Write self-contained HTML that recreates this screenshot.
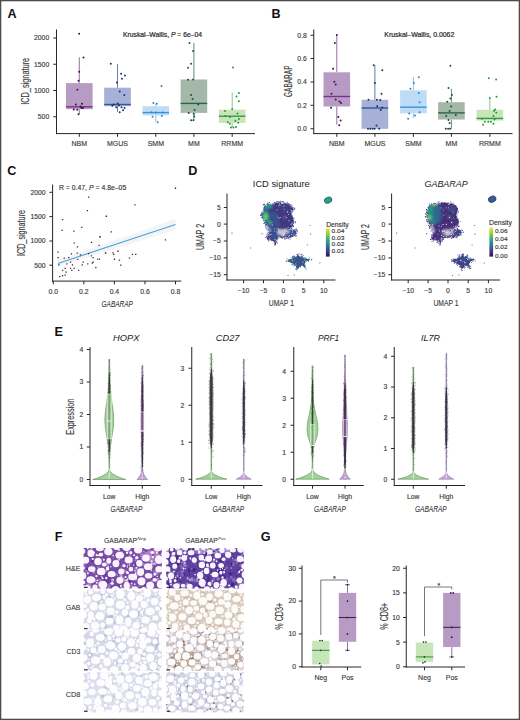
<!DOCTYPE html>
<html><head><meta charset="utf-8"><style>
html,body{margin:0;padding:0;background:#fff;overflow:hidden;}
svg{display:block;}
text{font-family:"Liberation Sans", sans-serif;}
</style></head><body>
<svg width="520" height="720" viewBox="0 0 520 720">
<defs><filter id="soft" x="-5%" y="-5%" width="110%" height="110%"><feGaussianBlur stdDeviation="0.45"/></filter><filter id="soft2" x="-20%" y="-20%" width="140%" height="140%"><feGaussianBlur stdDeviation="0.9"/></filter></defs>
<rect x="0" y="0" width="520" height="720" fill="#ffffff"/>
<line x1="56.5" y1="29.5" x2="56.5" y2="134.1" stroke="#262626" stroke-width="1"/>
<line x1="56" y1="133.6" x2="255" y2="133.6" stroke="#262626" stroke-width="1"/>
<line x1="53.3" y1="38" x2="56.5" y2="38" stroke="#262626" stroke-width="1"/>
<text x="49.2" y="40.4" font-size="6.8" fill="#3a3a3a" stroke="#3a3a3a" stroke-width="0.14" text-anchor="end">2000</text>
<line x1="53.3" y1="64.25" x2="56.5" y2="64.25" stroke="#262626" stroke-width="1"/>
<text x="49.2" y="66.65" font-size="6.8" fill="#3a3a3a" stroke="#3a3a3a" stroke-width="0.14" text-anchor="end">1500</text>
<line x1="53.3" y1="90.5" x2="56.5" y2="90.5" stroke="#262626" stroke-width="1"/>
<text x="49.2" y="92.9" font-size="6.8" fill="#3a3a3a" stroke="#3a3a3a" stroke-width="0.14" text-anchor="end">1000</text>
<line x1="53.3" y1="116.75" x2="56.5" y2="116.75" stroke="#262626" stroke-width="1"/>
<text x="49.2" y="119.15" font-size="6.8" fill="#3a3a3a" stroke="#3a3a3a" stroke-width="0.14" text-anchor="end">500</text>
<line x1="79.3" y1="133.6" x2="79.3" y2="136.8" stroke="#262626" stroke-width="1"/>
<text x="79.3" y="146.3" font-size="7" fill="#3a3a3a" stroke="#3a3a3a" stroke-width="0.14" text-anchor="middle">NBM</text>
<line x1="117.5" y1="133.6" x2="117.5" y2="136.8" stroke="#262626" stroke-width="1"/>
<text x="117.5" y="146.3" font-size="7" fill="#3a3a3a" stroke="#3a3a3a" stroke-width="0.14" text-anchor="middle">MGUS</text>
<line x1="155.8" y1="133.6" x2="155.8" y2="136.8" stroke="#262626" stroke-width="1"/>
<text x="155.8" y="146.3" font-size="7" fill="#3a3a3a" stroke="#3a3a3a" stroke-width="0.14" text-anchor="middle">SMM</text>
<line x1="193.9" y1="133.6" x2="193.9" y2="136.8" stroke="#262626" stroke-width="1"/>
<text x="193.9" y="146.3" font-size="7" fill="#3a3a3a" stroke="#3a3a3a" stroke-width="0.14" text-anchor="middle">MM</text>
<line x1="232.2" y1="133.6" x2="232.2" y2="136.8" stroke="#262626" stroke-width="1"/>
<text x="232.2" y="146.3" font-size="7" fill="#3a3a3a" stroke="#3a3a3a" stroke-width="0.14" text-anchor="middle">RRMM</text>
<line x1="79.3" y1="57.2" x2="79.3" y2="83.1" stroke="#7b4d8e" stroke-width="0.8"/>
<line x1="79.3" y1="109.2" x2="79.3" y2="114.2" stroke="#7b4d8e" stroke-width="0.8"/>
<rect x="66" y="83.1" width="26.6" height="26.1" fill="#b89bc4"/>
<line x1="66" y1="106.8" x2="92.6" y2="106.8" stroke="#74358a" stroke-width="1.4"/>
<line x1="117.5" y1="64.2" x2="117.5" y2="87.7" stroke="#3a5a96" stroke-width="0.8"/>
<line x1="117.5" y1="106.2" x2="117.5" y2="111.8" stroke="#3a5a96" stroke-width="0.8"/>
<rect x="104.2" y="87.7" width="26.6" height="18.5" fill="#a7b0d6"/>
<line x1="104.2" y1="104.5" x2="130.8" y2="104.5" stroke="#35569a" stroke-width="1.4"/>
<line x1="155.8" y1="103.4" x2="155.8" y2="106.2" stroke="#6aaee2" stroke-width="0.8"/>
<line x1="155.8" y1="115.4" x2="155.8" y2="121.8" stroke="#6aaee2" stroke-width="0.8"/>
<rect x="142.5" y="106.2" width="26.6" height="9.2" fill="#bfdcf6"/>
<line x1="142.5" y1="112.6" x2="169.1" y2="112.6" stroke="#3896d8" stroke-width="1.4"/>
<line x1="193.9" y1="42.9" x2="193.9" y2="79.5" stroke="#3b6f58" stroke-width="0.8"/>
<line x1="193.9" y1="112.9" x2="193.9" y2="120.3" stroke="#3b6f58" stroke-width="0.8"/>
<rect x="180.6" y="79.5" width="26.6" height="33.4" fill="#a3b8a9"/>
<line x1="180.6" y1="103.4" x2="207.2" y2="103.4" stroke="#25664a" stroke-width="1.4"/>
<line x1="232.2" y1="92.6" x2="232.2" y2="109.7" stroke="#72b872" stroke-width="0.8"/>
<line x1="232.2" y1="122.9" x2="232.2" y2="127.5" stroke="#72b872" stroke-width="0.8"/>
<rect x="218.9" y="109.7" width="26.6" height="13.2" fill="#c6e6ba"/>
<line x1="218.9" y1="116.2" x2="245.5" y2="116.2" stroke="#3a9a40" stroke-width="1.4"/>
<path d="M78.1 33.7a1.0 1.0 0 1 0 2.0 0a1.0 1.0 0 1 0 -2.0 0zM82.5 57.5a1.0 1.0 0 1 0 2.0 0a1.0 1.0 0 1 0 -2.0 0zM78.2 71.8a1.0 1.0 0 1 0 2.0 0a1.0 1.0 0 1 0 -2.0 0zM77.5 80.8a1.0 1.0 0 1 0 2.0 0a1.0 1.0 0 1 0 -2.0 0zM76.4 89.8a1.0 1.0 0 1 0 2.0 0a1.0 1.0 0 1 0 -2.0 0zM74.8 104.5a1.0 1.0 0 1 0 2.0 0a1.0 1.0 0 1 0 -2.0 0zM81.0 103.7a1.0 1.0 0 1 0 2.0 0a1.0 1.0 0 1 0 -2.0 0zM72.8 109.5a1.0 1.0 0 1 0 2.0 0a1.0 1.0 0 1 0 -2.0 0zM76.2 109.8a1.0 1.0 0 1 0 2.0 0a1.0 1.0 0 1 0 -2.0 0zM80.5 108.0a1.0 1.0 0 1 0 2.0 0a1.0 1.0 0 1 0 -2.0 0zM82.0 108.0a1.0 1.0 0 1 0 2.0 0a1.0 1.0 0 1 0 -2.0 0zM77.5 114.2a1.0 1.0 0 1 0 2.0 0a1.0 1.0 0 1 0 -2.0 0zM79.5 106.5a1.0 1.0 0 1 0 2.0 0a1.0 1.0 0 1 0 -2.0 0z" fill="#3e1650"/>
<path d="M109.8 63.7a1.0 1.0 0 1 0 2.0 0a1.0 1.0 0 1 0 -2.0 0zM120.1 73.7a1.0 1.0 0 1 0 2.0 0a1.0 1.0 0 1 0 -2.0 0zM123.9 75.4a1.0 1.0 0 1 0 2.0 0a1.0 1.0 0 1 0 -2.0 0zM121.0 78.8a1.0 1.0 0 1 0 2.0 0a1.0 1.0 0 1 0 -2.0 0zM115.9 82.6a1.0 1.0 0 1 0 2.0 0a1.0 1.0 0 1 0 -2.0 0zM118.7 91.4a1.0 1.0 0 1 0 2.0 0a1.0 1.0 0 1 0 -2.0 0zM123.3 94.9a1.0 1.0 0 1 0 2.0 0a1.0 1.0 0 1 0 -2.0 0zM111.3 105.7a1.0 1.0 0 1 0 2.0 0a1.0 1.0 0 1 0 -2.0 0zM116.7 103.4a1.0 1.0 0 1 0 2.0 0a1.0 1.0 0 1 0 -2.0 0zM115.2 107.2a1.0 1.0 0 1 0 2.0 0a1.0 1.0 0 1 0 -2.0 0zM120.5 107.2a1.0 1.0 0 1 0 2.0 0a1.0 1.0 0 1 0 -2.0 0zM123.6 108.0a1.0 1.0 0 1 0 2.0 0a1.0 1.0 0 1 0 -2.0 0zM122.1 110.3a1.0 1.0 0 1 0 2.0 0a1.0 1.0 0 1 0 -2.0 0zM118.7 112.3a1.0 1.0 0 1 0 2.0 0a1.0 1.0 0 1 0 -2.0 0zM113.0 104.5a1.0 1.0 0 1 0 2.0 0a1.0 1.0 0 1 0 -2.0 0zM118.0 105.5a1.0 1.0 0 1 0 2.0 0a1.0 1.0 0 1 0 -2.0 0z" fill="#1a3470"/>
<path d="M160.5 86.0a1.0 1.0 0 1 0 2.0 0a1.0 1.0 0 1 0 -2.0 0zM152.4 102.9a1.0 1.0 0 1 0 2.0 0a1.0 1.0 0 1 0 -2.0 0zM155.9 103.8a1.0 1.0 0 1 0 2.0 0a1.0 1.0 0 1 0 -2.0 0zM150.5 112.3a1.0 1.0 0 1 0 2.0 0a1.0 1.0 0 1 0 -2.0 0zM161.6 112.6a1.0 1.0 0 1 0 2.0 0a1.0 1.0 0 1 0 -2.0 0zM151.6 116.8a1.0 1.0 0 1 0 2.0 0a1.0 1.0 0 1 0 -2.0 0zM160.8 116.0a1.0 1.0 0 1 0 2.0 0a1.0 1.0 0 1 0 -2.0 0zM156.7 122.2a1.0 1.0 0 1 0 2.0 0a1.0 1.0 0 1 0 -2.0 0zM155.0 112.5a1.0 1.0 0 1 0 2.0 0a1.0 1.0 0 1 0 -2.0 0z" fill="#2f86c8"/>
<path d="M188.5 42.9a1.0 1.0 0 1 0 2.0 0a1.0 1.0 0 1 0 -2.0 0zM192.1 51.1a1.0 1.0 0 1 0 2.0 0a1.0 1.0 0 1 0 -2.0 0zM190.1 63.8a1.0 1.0 0 1 0 2.0 0a1.0 1.0 0 1 0 -2.0 0zM187.0 67.7a1.0 1.0 0 1 0 2.0 0a1.0 1.0 0 1 0 -2.0 0zM187.0 79.8a1.0 1.0 0 1 0 2.0 0a1.0 1.0 0 1 0 -2.0 0zM192.1 79.5a1.0 1.0 0 1 0 2.0 0a1.0 1.0 0 1 0 -2.0 0zM190.1 94.9a1.0 1.0 0 1 0 2.0 0a1.0 1.0 0 1 0 -2.0 0zM191.6 99.1a1.0 1.0 0 1 0 2.0 0a1.0 1.0 0 1 0 -2.0 0zM197.3 104.5a1.0 1.0 0 1 0 2.0 0a1.0 1.0 0 1 0 -2.0 0zM193.6 110.0a1.0 1.0 0 1 0 2.0 0a1.0 1.0 0 1 0 -2.0 0zM187.8 112.9a1.0 1.0 0 1 0 2.0 0a1.0 1.0 0 1 0 -2.0 0zM192.7 113.7a1.0 1.0 0 1 0 2.0 0a1.0 1.0 0 1 0 -2.0 0zM193.2 116.5a1.0 1.0 0 1 0 2.0 0a1.0 1.0 0 1 0 -2.0 0zM190.1 120.3a1.0 1.0 0 1 0 2.0 0a1.0 1.0 0 1 0 -2.0 0zM192.4 120.3a1.0 1.0 0 1 0 2.0 0a1.0 1.0 0 1 0 -2.0 0z" fill="#1f523c"/>
<path d="M232.0 67.6a1.0 1.0 0 1 0 2.0 0a1.0 1.0 0 1 0 -2.0 0zM237.9 92.9a1.0 1.0 0 1 0 2.0 0a1.0 1.0 0 1 0 -2.0 0zM235.5 96.5a1.0 1.0 0 1 0 2.0 0a1.0 1.0 0 1 0 -2.0 0zM237.9 101.2a1.0 1.0 0 1 0 2.0 0a1.0 1.0 0 1 0 -2.0 0zM231.2 109.3a1.0 1.0 0 1 0 2.0 0a1.0 1.0 0 1 0 -2.0 0zM224.0 111.0a1.0 1.0 0 1 0 2.0 0a1.0 1.0 0 1 0 -2.0 0zM236.5 113.4a1.0 1.0 0 1 0 2.0 0a1.0 1.0 0 1 0 -2.0 0zM224.4 115.9a1.0 1.0 0 1 0 2.0 0a1.0 1.0 0 1 0 -2.0 0zM237.9 119.0a1.0 1.0 0 1 0 2.0 0a1.0 1.0 0 1 0 -2.0 0zM234.4 120.8a1.0 1.0 0 1 0 2.0 0a1.0 1.0 0 1 0 -2.0 0zM226.8 122.2a1.0 1.0 0 1 0 2.0 0a1.0 1.0 0 1 0 -2.0 0zM228.9 123.8a1.0 1.0 0 1 0 2.0 0a1.0 1.0 0 1 0 -2.0 0zM237.2 122.7a1.0 1.0 0 1 0 2.0 0a1.0 1.0 0 1 0 -2.0 0zM230.0 127.5a1.0 1.0 0 1 0 2.0 0a1.0 1.0 0 1 0 -2.0 0zM232.5 127.5a1.0 1.0 0 1 0 2.0 0a1.0 1.0 0 1 0 -2.0 0zM235.0 127.0a1.0 1.0 0 1 0 2.0 0a1.0 1.0 0 1 0 -2.0 0zM229.0 117.0a1.0 1.0 0 1 0 2.0 0a1.0 1.0 0 1 0 -2.0 0z" fill="#289a34"/>
<text x="202" y="36.6" font-size="6.5" fill="#2a2a2a" stroke="#2a2a2a" stroke-width="0.2" text-anchor="end" textLength="79" lengthAdjust="spacingAndGlyphs">Kruskal–Wallis, <tspan font-style="italic">P</tspan> = 6e–04</text>
<text x="28.6" y="81.3" font-size="10.2" fill="#3a3a3a" stroke="#3a3a3a" stroke-width="0.14" text-anchor="middle" textLength="47.0" lengthAdjust="spacingAndGlyphs" transform="rotate(-90 28.6 81.3)">ICD_signature</text>
<text x="7.5" y="17.7" font-size="12.6" fill="#111" font-weight="bold">A</text>
<line x1="313.75" y1="29.5" x2="313.75" y2="134.1" stroke="#262626" stroke-width="1"/>
<line x1="313.25" y1="133.6" x2="512.5" y2="133.6" stroke="#262626" stroke-width="1"/>
<line x1="310.55" y1="35.25" x2="313.75" y2="35.25" stroke="#262626" stroke-width="1"/>
<text x="306.8" y="37.65" font-size="6.8" fill="#3a3a3a" stroke="#3a3a3a" stroke-width="0.14" text-anchor="end">0.8</text>
<line x1="310.55" y1="58.5" x2="313.75" y2="58.5" stroke="#262626" stroke-width="1"/>
<text x="306.8" y="60.9" font-size="6.8" fill="#3a3a3a" stroke="#3a3a3a" stroke-width="0.14" text-anchor="end">0.6</text>
<line x1="310.55" y1="82" x2="313.75" y2="82" stroke="#262626" stroke-width="1"/>
<text x="306.8" y="84.4" font-size="6.8" fill="#3a3a3a" stroke="#3a3a3a" stroke-width="0.14" text-anchor="end">0.4</text>
<line x1="310.55" y1="105.25" x2="313.75" y2="105.25" stroke="#262626" stroke-width="1"/>
<text x="306.8" y="107.65" font-size="6.8" fill="#3a3a3a" stroke="#3a3a3a" stroke-width="0.14" text-anchor="end">0.2</text>
<line x1="310.55" y1="128.75" x2="313.75" y2="128.75" stroke="#262626" stroke-width="1"/>
<text x="306.8" y="131.15" font-size="6.8" fill="#3a3a3a" stroke="#3a3a3a" stroke-width="0.14" text-anchor="end">0.0</text>
<line x1="336.8" y1="133.6" x2="336.8" y2="136.8" stroke="#262626" stroke-width="1"/>
<text x="336.8" y="146.3" font-size="7" fill="#3a3a3a" stroke="#3a3a3a" stroke-width="0.14" text-anchor="middle">NBM</text>
<line x1="374.9" y1="133.6" x2="374.9" y2="136.8" stroke="#262626" stroke-width="1"/>
<text x="374.9" y="146.3" font-size="7" fill="#3a3a3a" stroke="#3a3a3a" stroke-width="0.14" text-anchor="middle">MGUS</text>
<line x1="413.4" y1="133.6" x2="413.4" y2="136.8" stroke="#262626" stroke-width="1"/>
<text x="413.4" y="146.3" font-size="7" fill="#3a3a3a" stroke="#3a3a3a" stroke-width="0.14" text-anchor="middle">SMM</text>
<line x1="451.4" y1="133.6" x2="451.4" y2="136.8" stroke="#262626" stroke-width="1"/>
<text x="451.4" y="146.3" font-size="7" fill="#3a3a3a" stroke="#3a3a3a" stroke-width="0.14" text-anchor="middle">MM</text>
<line x1="489.9" y1="133.6" x2="489.9" y2="136.8" stroke="#262626" stroke-width="1"/>
<text x="489.9" y="146.3" font-size="7" fill="#3a3a3a" stroke="#3a3a3a" stroke-width="0.14" text-anchor="middle">RRMM</text>
<line x1="336.8" y1="34.9" x2="336.8" y2="72.3" stroke="#7b4d8e" stroke-width="0.8"/>
<line x1="336.8" y1="106.5" x2="336.8" y2="124.6" stroke="#7b4d8e" stroke-width="0.8"/>
<rect x="323.5" y="72.3" width="26.6" height="34.2" fill="#b89bc4"/>
<line x1="323.5" y1="96.5" x2="350.1" y2="96.5" stroke="#74358a" stroke-width="1.4"/>
<line x1="374.9" y1="65.2" x2="374.9" y2="99.8" stroke="#3a5a96" stroke-width="0.8"/>
<rect x="361.6" y="99.8" width="26.6" height="29" fill="#a7b0d6"/>
<line x1="361.6" y1="108" x2="388.2" y2="108" stroke="#35569a" stroke-width="1.4"/>
<line x1="413.4" y1="76.9" x2="413.4" y2="90.3" stroke="#6aaee2" stroke-width="0.8"/>
<line x1="413.4" y1="113.4" x2="413.4" y2="118" stroke="#6aaee2" stroke-width="0.8"/>
<rect x="400.1" y="90.3" width="26.6" height="23.1" fill="#bfdcf6"/>
<line x1="400.1" y1="107.2" x2="426.7" y2="107.2" stroke="#3896d8" stroke-width="1.4"/>
<line x1="451.4" y1="88.8" x2="451.4" y2="102.2" stroke="#3b6f58" stroke-width="0.8"/>
<line x1="451.4" y1="119.5" x2="451.4" y2="128.8" stroke="#3b6f58" stroke-width="0.8"/>
<rect x="438.1" y="102.2" width="26.6" height="17.3" fill="#a3b8a9"/>
<line x1="438.1" y1="112.9" x2="464.7" y2="112.9" stroke="#25664a" stroke-width="1.4"/>
<line x1="489.9" y1="98.1" x2="489.9" y2="109.8" stroke="#72b872" stroke-width="0.8"/>
<rect x="476.6" y="109.8" width="26.6" height="10.8" fill="#c6e6ba"/>
<line x1="476.6" y1="118.4" x2="503.2" y2="118.4" stroke="#3a9a40" stroke-width="1.4"/>
<path d="M335.8 34.9a1.0 1.0 0 1 0 2.0 0a1.0 1.0 0 1 0 -2.0 0zM333.9 42.9a1.0 1.0 0 1 0 2.0 0a1.0 1.0 0 1 0 -2.0 0zM332.1 68.8a1.0 1.0 0 1 0 2.0 0a1.0 1.0 0 1 0 -2.0 0zM333.3 81.8a1.0 1.0 0 1 0 2.0 0a1.0 1.0 0 1 0 -2.0 0zM334.7 84.6a1.0 1.0 0 1 0 2.0 0a1.0 1.0 0 1 0 -2.0 0zM330.5 93.8a1.0 1.0 0 1 0 2.0 0a1.0 1.0 0 1 0 -2.0 0zM334.7 99.5a1.0 1.0 0 1 0 2.0 0a1.0 1.0 0 1 0 -2.0 0zM338.5 101.5a1.0 1.0 0 1 0 2.0 0a1.0 1.0 0 1 0 -2.0 0zM340.1 103.1a1.0 1.0 0 1 0 2.0 0a1.0 1.0 0 1 0 -2.0 0zM330.1 107.7a1.0 1.0 0 1 0 2.0 0a1.0 1.0 0 1 0 -2.0 0zM337.3 116.9a1.0 1.0 0 1 0 2.0 0a1.0 1.0 0 1 0 -2.0 0zM339.6 120.6a1.0 1.0 0 1 0 2.0 0a1.0 1.0 0 1 0 -2.0 0zM338.2 125.2a1.0 1.0 0 1 0 2.0 0a1.0 1.0 0 1 0 -2.0 0z" fill="#3e1650"/>
<path d="M372.7 65.2a1.0 1.0 0 1 0 2.0 0a1.0 1.0 0 1 0 -2.0 0zM381.3 70.3a1.0 1.0 0 1 0 2.0 0a1.0 1.0 0 1 0 -2.0 0zM373.9 82.9a1.0 1.0 0 1 0 2.0 0a1.0 1.0 0 1 0 -2.0 0zM380.5 93.8a1.0 1.0 0 1 0 2.0 0a1.0 1.0 0 1 0 -2.0 0zM367.5 99.8a1.0 1.0 0 1 0 2.0 0a1.0 1.0 0 1 0 -2.0 0zM375.9 99.8a1.0 1.0 0 1 0 2.0 0a1.0 1.0 0 1 0 -2.0 0zM379.3 100.0a1.0 1.0 0 1 0 2.0 0a1.0 1.0 0 1 0 -2.0 0zM376.2 106.2a1.0 1.0 0 1 0 2.0 0a1.0 1.0 0 1 0 -2.0 0zM381.3 107.5a1.0 1.0 0 1 0 2.0 0a1.0 1.0 0 1 0 -2.0 0zM379.8 110.0a1.0 1.0 0 1 0 2.0 0a1.0 1.0 0 1 0 -2.0 0zM375.5 125.4a1.0 1.0 0 1 0 2.0 0a1.0 1.0 0 1 0 -2.0 0zM367.0 128.8a1.0 1.0 0 1 0 2.0 0a1.0 1.0 0 1 0 -2.0 0zM369.3 128.8a1.0 1.0 0 1 0 2.0 0a1.0 1.0 0 1 0 -2.0 0zM371.6 128.8a1.0 1.0 0 1 0 2.0 0a1.0 1.0 0 1 0 -2.0 0zM373.6 128.8a1.0 1.0 0 1 0 2.0 0a1.0 1.0 0 1 0 -2.0 0zM378.2 128.8a1.0 1.0 0 1 0 2.0 0a1.0 1.0 0 1 0 -2.0 0z" fill="#1a3470"/>
<path d="M417.8 77.2a1.0 1.0 0 1 0 2.0 0a1.0 1.0 0 1 0 -2.0 0zM412.9 83.1a1.0 1.0 0 1 0 2.0 0a1.0 1.0 0 1 0 -2.0 0zM409.4 88.8a1.0 1.0 0 1 0 2.0 0a1.0 1.0 0 1 0 -2.0 0zM417.8 92.9a1.0 1.0 0 1 0 2.0 0a1.0 1.0 0 1 0 -2.0 0zM418.6 102.3a1.0 1.0 0 1 0 2.0 0a1.0 1.0 0 1 0 -2.0 0zM418.6 112.2a1.0 1.0 0 1 0 2.0 0a1.0 1.0 0 1 0 -2.0 0zM408.2 113.4a1.0 1.0 0 1 0 2.0 0a1.0 1.0 0 1 0 -2.0 0zM414.0 115.4a1.0 1.0 0 1 0 2.0 0a1.0 1.0 0 1 0 -2.0 0zM407.1 118.8a1.0 1.0 0 1 0 2.0 0a1.0 1.0 0 1 0 -2.0 0z" fill="#2f86c8"/>
<path d="M449.4 65.7a1.0 1.0 0 1 0 2.0 0a1.0 1.0 0 1 0 -2.0 0zM447.5 88.0a1.0 1.0 0 1 0 2.0 0a1.0 1.0 0 1 0 -2.0 0zM450.9 94.9a1.0 1.0 0 1 0 2.0 0a1.0 1.0 0 1 0 -2.0 0zM449.4 98.5a1.0 1.0 0 1 0 2.0 0a1.0 1.0 0 1 0 -2.0 0zM446.3 101.8a1.0 1.0 0 1 0 2.0 0a1.0 1.0 0 1 0 -2.0 0zM450.2 106.5a1.0 1.0 0 1 0 2.0 0a1.0 1.0 0 1 0 -2.0 0zM448.6 111.1a1.0 1.0 0 1 0 2.0 0a1.0 1.0 0 1 0 -2.0 0zM454.8 114.9a1.0 1.0 0 1 0 2.0 0a1.0 1.0 0 1 0 -2.0 0zM445.2 116.0a1.0 1.0 0 1 0 2.0 0a1.0 1.0 0 1 0 -2.0 0zM447.5 120.0a1.0 1.0 0 1 0 2.0 0a1.0 1.0 0 1 0 -2.0 0zM448.6 123.1a1.0 1.0 0 1 0 2.0 0a1.0 1.0 0 1 0 -2.0 0zM444.8 128.8a1.0 1.0 0 1 0 2.0 0a1.0 1.0 0 1 0 -2.0 0zM447.1 128.8a1.0 1.0 0 1 0 2.0 0a1.0 1.0 0 1 0 -2.0 0zM449.1 128.8a1.0 1.0 0 1 0 2.0 0a1.0 1.0 0 1 0 -2.0 0z" fill="#1f523c"/>
<path d="M487.8 78.2a1.0 1.0 0 1 0 2.0 0a1.0 1.0 0 1 0 -2.0 0zM495.1 79.4a1.0 1.0 0 1 0 2.0 0a1.0 1.0 0 1 0 -2.0 0zM488.8 98.1a1.0 1.0 0 1 0 2.0 0a1.0 1.0 0 1 0 -2.0 0zM495.5 96.7a1.0 1.0 0 1 0 2.0 0a1.0 1.0 0 1 0 -2.0 0zM494.2 109.4a1.0 1.0 0 1 0 2.0 0a1.0 1.0 0 1 0 -2.0 0zM493.0 110.8a1.0 1.0 0 1 0 2.0 0a1.0 1.0 0 1 0 -2.0 0zM495.3 112.8a1.0 1.0 0 1 0 2.0 0a1.0 1.0 0 1 0 -2.0 0zM492.5 116.0a1.0 1.0 0 1 0 2.0 0a1.0 1.0 0 1 0 -2.0 0zM493.6 119.4a1.0 1.0 0 1 0 2.0 0a1.0 1.0 0 1 0 -2.0 0zM480.9 118.8a1.0 1.0 0 1 0 2.0 0a1.0 1.0 0 1 0 -2.0 0zM483.8 121.7a1.0 1.0 0 1 0 2.0 0a1.0 1.0 0 1 0 -2.0 0zM487.3 121.7a1.0 1.0 0 1 0 2.0 0a1.0 1.0 0 1 0 -2.0 0zM489.9 121.7a1.0 1.0 0 1 0 2.0 0a1.0 1.0 0 1 0 -2.0 0zM492.5 123.8a1.0 1.0 0 1 0 2.0 0a1.0 1.0 0 1 0 -2.0 0zM482.1 124.8a1.0 1.0 0 1 0 2.0 0a1.0 1.0 0 1 0 -2.0 0z" fill="#289a34"/>
<text x="454.3" y="36.6" font-size="6.5" fill="#2a2a2a" stroke="#2a2a2a" stroke-width="0.2" text-anchor="end" textLength="70" lengthAdjust="spacingAndGlyphs">Kruskal–Wallis, 0.0062</text>
<text x="292" y="81.25" font-size="10.2" fill="#3a3a3a" stroke="#3a3a3a" stroke-width="0.14" text-anchor="middle" textLength="31.5" lengthAdjust="spacingAndGlyphs" transform="rotate(-90 292 81.25)">GABARAP</text>
<text x="271.5" y="17.7" font-size="12.6" fill="#111" font-weight="bold">B</text>
<text x="7.2" y="175.3" font-size="12.6" fill="#111" font-weight="bold">C</text>
<line x1="52.6" y1="184.5" x2="52.6" y2="281.6" stroke="#262626" stroke-width="1"/>
<line x1="52.1" y1="281.1" x2="181.3" y2="281.1" stroke="#262626" stroke-width="1"/>
<line x1="49.4" y1="192.3" x2="52.6" y2="192.3" stroke="#262626" stroke-width="1"/>
<text x="45.6" y="194.7" font-size="6.8" fill="#3a3a3a" stroke="#3a3a3a" stroke-width="0.14" text-anchor="end">2000</text>
<line x1="49.4" y1="216.6" x2="52.6" y2="216.6" stroke="#262626" stroke-width="1"/>
<text x="45.6" y="219" font-size="6.8" fill="#3a3a3a" stroke="#3a3a3a" stroke-width="0.14" text-anchor="end">1500</text>
<line x1="49.4" y1="241" x2="52.6" y2="241" stroke="#262626" stroke-width="1"/>
<text x="45.6" y="243.4" font-size="6.8" fill="#3a3a3a" stroke="#3a3a3a" stroke-width="0.14" text-anchor="end">1000</text>
<line x1="49.4" y1="265.2" x2="52.6" y2="265.2" stroke="#262626" stroke-width="1"/>
<text x="45.6" y="267.6" font-size="6.8" fill="#3a3a3a" stroke="#3a3a3a" stroke-width="0.14" text-anchor="end">500</text>
<line x1="53.3" y1="281.1" x2="53.3" y2="284.3" stroke="#262626" stroke-width="1"/>
<text x="53.3" y="293.7" font-size="6.8" fill="#3a3a3a" stroke="#3a3a3a" stroke-width="0.14" text-anchor="middle">0.0</text>
<line x1="83.85" y1="281.1" x2="83.85" y2="284.3" stroke="#262626" stroke-width="1"/>
<text x="83.85" y="293.7" font-size="6.8" fill="#3a3a3a" stroke="#3a3a3a" stroke-width="0.14" text-anchor="middle">0.2</text>
<line x1="114.4" y1="281.1" x2="114.4" y2="284.3" stroke="#262626" stroke-width="1"/>
<text x="114.4" y="293.7" font-size="6.8" fill="#3a3a3a" stroke="#3a3a3a" stroke-width="0.14" text-anchor="middle">0.4</text>
<line x1="144.95" y1="281.1" x2="144.95" y2="284.3" stroke="#262626" stroke-width="1"/>
<text x="144.95" y="293.7" font-size="6.8" fill="#3a3a3a" stroke="#3a3a3a" stroke-width="0.14" text-anchor="middle">0.6</text>
<line x1="175.5" y1="281.1" x2="175.5" y2="284.3" stroke="#262626" stroke-width="1"/>
<text x="175.5" y="293.7" font-size="6.8" fill="#3a3a3a" stroke="#3a3a3a" stroke-width="0.14" text-anchor="middle">0.8</text>
<text x="117.2" y="307" font-size="9.8" fill="#3a3a3a" stroke="#3a3a3a" stroke-width="0.12" text-anchor="middle" font-style="italic" textLength="31.4" lengthAdjust="spacingAndGlyphs">GABARAP</text>
<text x="24.9" y="233" font-size="10.2" fill="#3a3a3a" stroke="#3a3a3a" stroke-width="0.14" text-anchor="middle" textLength="46.1" lengthAdjust="spacingAndGlyphs" transform="rotate(-90 24.9 233)">ICD_signature</text>
<text x="58.9" y="190" font-size="6.3" fill="#2a2a2a" stroke="#2a2a2a" stroke-width="0.1" textLength="67.4" lengthAdjust="spacingAndGlyphs">R = 0.47, <tspan font-style="italic">P</tspan> = 4.8e–05</text>
<polygon points="58,260 175.5,219 175.5,230 58,266.5" fill="#e2e7ee" opacity="0.45"/>
<line x1="58" y1="263.4" x2="175.5" y2="224.5" stroke="#4aa3d8" stroke-width="1.1"/>
<path d="M88.0 196.4h1.3v1.3h-1.3zM61.5 229.8h1.3v1.3h-1.3zM105.8 215.4h1.3v1.3h-1.3zM90.8 241.7h1.3v1.3h-1.3zM57.4 251.5h1.3v1.3h-1.3zM68.1 257.0h1.3v1.3h-1.3zM79.8 254.2h1.3v1.3h-1.3zM92.5 257.0h1.3v1.3h-1.3zM98.8 258.5h1.3v1.3h-1.3zM69.9 261.5h1.3v1.3h-1.3zM82.5 261.5h1.3v1.3h-1.3zM91.6 262.4h1.3v1.3h-1.3zM64.5 267.8h1.3v1.3h-1.3zM71.2 269.7h1.3v1.3h-1.3zM95.2 266.9h1.3v1.3h-1.3zM64.5 274.5h1.3v1.3h-1.3zM105.6 215.6h1.3v1.3h-1.3zM164.8 239.3h1.3v1.3h-1.3zM113.1 253.8h1.3v1.3h-1.3zM118.8 259.4h1.3v1.3h-1.3zM131.8 253.8h1.3v1.3h-1.3z" fill="#4a2040"/>
<path d="M86.8 210.0h1.3v1.3h-1.3zM73.2 230.4h1.3v1.3h-1.3zM99.3 236.2h1.3v1.3h-1.3zM76.8 246.2h1.3v1.3h-1.3zM57.4 257.0h1.3v1.3h-1.3zM70.8 253.3h1.3v1.3h-1.3zM88.0 252.9h1.3v1.3h-1.3zM105.1 252.4h1.3v1.3h-1.3zM58.2 264.2h1.3v1.3h-1.3zM71.8 264.2h1.3v1.3h-1.3zM81.6 264.2h1.3v1.3h-1.3zM92.5 261.5h1.3v1.3h-1.3zM65.4 271.5h1.3v1.3h-1.3zM73.5 267.8h1.3v1.3h-1.3zM59.1 276.0h1.3v1.3h-1.3zM174.8 187.6h1.3v1.3h-1.3zM110.6 231.3h1.3v1.3h-1.3zM104.8 252.3h1.3v1.3h-1.3zM117.3 250.6h1.3v1.3h-1.3zM120.1 264.4h1.3v1.3h-1.3zM135.1 253.8h1.3v1.3h-1.3z" fill="#2a2a30"/>
<path d="M61.9 219.0h1.3v1.3h-1.3zM81.1 226.7h1.3v1.3h-1.3zM73.5 242.5h1.3v1.3h-1.3zM98.4 244.8h1.3v1.3h-1.3zM63.6 257.4h1.3v1.3h-1.3zM76.6 252.4h1.3v1.3h-1.3zM90.8 255.2h1.3v1.3h-1.3zM97.0 258.5h1.3v1.3h-1.3zM66.3 263.2h1.3v1.3h-1.3zM77.1 258.8h1.3v1.3h-1.3zM87.1 263.2h1.3v1.3h-1.3zM61.9 269.7h1.3v1.3h-1.3zM69.9 267.8h1.3v1.3h-1.3zM78.0 269.7h1.3v1.3h-1.3zM61.9 275.1h1.3v1.3h-1.3zM134.3 204.3h1.3v1.3h-1.3zM99.3 236.3h1.3v1.3h-1.3zM112.3 252.3h1.3v1.3h-1.3zM113.8 258.6h1.3v1.3h-1.3zM128.8 257.4h1.3v1.3h-1.3z" fill="#6a2848"/>
<text x="188.3" y="175.3" font-size="12.6" fill="#111" font-weight="bold">D</text>
<line x1="227" y1="193.5" x2="227" y2="280.5" stroke="#262626" stroke-width="1"/>
<line x1="226.5" y1="280" x2="335.5" y2="280" stroke="#262626" stroke-width="1"/>
<line x1="223.8" y1="207.5" x2="227" y2="207.5" stroke="#262626" stroke-width="1"/>
<text x="220.8" y="209.9" font-size="6.8" fill="#3a3a3a" stroke="#3a3a3a" stroke-width="0.14" text-anchor="end">5</text>
<line x1="223.8" y1="224.1" x2="227" y2="224.1" stroke="#262626" stroke-width="1"/>
<text x="220.8" y="226.5" font-size="6.8" fill="#3a3a3a" stroke="#3a3a3a" stroke-width="0.14" text-anchor="end">0</text>
<line x1="223.8" y1="241" x2="227" y2="241" stroke="#262626" stroke-width="1"/>
<text x="220.8" y="243.4" font-size="6.8" fill="#3a3a3a" stroke="#3a3a3a" stroke-width="0.14" text-anchor="end">−5</text>
<line x1="223.8" y1="257.9" x2="227" y2="257.9" stroke="#262626" stroke-width="1"/>
<text x="220.8" y="260.3" font-size="6.8" fill="#3a3a3a" stroke="#3a3a3a" stroke-width="0.14" text-anchor="end">−10</text>
<line x1="223.8" y1="274.7" x2="227" y2="274.7" stroke="#262626" stroke-width="1"/>
<text x="220.8" y="277.1" font-size="6.8" fill="#3a3a3a" stroke="#3a3a3a" stroke-width="0.14" text-anchor="end">−15</text>
<line x1="243.6" y1="280" x2="243.6" y2="283.2" stroke="#262626" stroke-width="1"/>
<text x="243.6" y="293.2" font-size="6.8" fill="#3a3a3a" stroke="#3a3a3a" stroke-width="0.14" text-anchor="middle">−10</text>
<line x1="263.5" y1="280" x2="263.5" y2="283.2" stroke="#262626" stroke-width="1"/>
<text x="263.5" y="293.2" font-size="6.8" fill="#3a3a3a" stroke="#3a3a3a" stroke-width="0.14" text-anchor="middle">−5</text>
<line x1="283.4" y1="280" x2="283.4" y2="283.2" stroke="#262626" stroke-width="1"/>
<text x="283.4" y="293.2" font-size="6.8" fill="#3a3a3a" stroke="#3a3a3a" stroke-width="0.14" text-anchor="middle">0</text>
<line x1="303.6" y1="280" x2="303.6" y2="283.2" stroke="#262626" stroke-width="1"/>
<text x="303.6" y="293.2" font-size="6.8" fill="#3a3a3a" stroke="#3a3a3a" stroke-width="0.14" text-anchor="middle">5</text>
<line x1="323.8" y1="280" x2="323.8" y2="283.2" stroke="#262626" stroke-width="1"/>
<text x="323.8" y="293.2" font-size="6.8" fill="#3a3a3a" stroke="#3a3a3a" stroke-width="0.14" text-anchor="middle">10</text>
<text x="281.35" y="305.9" font-size="9.6" fill="#3a3a3a" stroke="#3a3a3a" stroke-width="0.14" text-anchor="middle" textLength="25.1" lengthAdjust="spacingAndGlyphs">UMAP 1</text>
<text x="203.9" y="237" font-size="10.5" fill="#3a3a3a" stroke="#3a3a3a" stroke-width="0.14" text-anchor="middle" textLength="26.1" lengthAdjust="spacingAndGlyphs" transform="rotate(-90 203.9 237)">UMAP 2</text>
<text x="281.3" y="187.4" font-size="9" fill="#222" text-anchor="middle" textLength="57" lengthAdjust="spacingAndGlyphs">ICD signature</text>
<clipPath id="cl0"><polygon points="264.6,205.6 268.5,203.7 272.3,204.1 276.2,202.7 280.0,202.2 283.8,203.2 287.7,203.7 291.5,205.6 293.5,208.5 292.5,212.3 291.5,215.2 293.5,218.1 294.4,221.9 293.5,225.8 290.6,227.7 289.6,229.6 293.5,229.6 296.3,230.1 297.3,232.5 295.4,235.4 291.5,237.3 288.7,238.3 285.8,237.3 282.9,238.3 279.0,237.3 277.1,239.2 276.2,243.1 275.7,246.0 274.2,242.1 271.3,240.2 267.5,240.2 266.5,237.3 268.5,233.5 266.5,229.6 265.6,226.7 264.6,222.9 262.7,219.0 261.7,215.2 262.7,211.3 263.7,207.5"/></clipPath>
<polygon points="264.6,205.6 268.5,203.7 272.3,204.1 276.2,202.7 280.0,202.2 283.8,203.2 287.7,203.7 291.5,205.6 293.5,208.5 292.5,212.3 291.5,215.2 293.5,218.1 294.4,221.9 293.5,225.8 290.6,227.7 289.6,229.6 293.5,229.6 296.3,230.1 297.3,232.5 295.4,235.4 291.5,237.3 288.7,238.3 285.8,237.3 282.9,238.3 279.0,237.3 277.1,239.2 276.2,243.1 275.7,246.0 274.2,242.1 271.3,240.2 267.5,240.2 266.5,237.3 268.5,233.5 266.5,229.6 265.6,226.7 264.6,222.9 262.7,219.0 261.7,215.2 262.7,211.3 263.7,207.5" fill="#41387f"/>
<g clip-path="url(#cl0)"><g filter="url(#soft2)">
<ellipse cx="273.5" cy="226" rx="6.5" ry="15" fill="#3b5592" opacity="0.85"/>
<ellipse cx="286" cy="207" rx="6" ry="4" fill="#3e4a89" opacity="0.6"/>
<ellipse cx="293" cy="233.5" rx="5" ry="4" fill="#3a5c96" opacity="0.95"/>
<ellipse cx="265" cy="215" rx="4" ry="10" fill="#2f6a96"/>
<ellipse cx="268.8" cy="206" rx="4" ry="2.8" fill="#25958a"/>
<ellipse cx="265.6" cy="216.5" rx="2.6" ry="4.2" fill="#4cc26c"/>
<ellipse cx="265.8" cy="217.2" rx="1.4" ry="1.8" fill="#7ad151"/>
<ellipse cx="270" cy="222.4" rx="1.7" ry="1.9" fill="#3cbc74"/>
<polygon points="264.5,225.0 268.0,226.5 270.5,229.5 269.5,233.0 267.0,234.5 265.5,231.0" fill="#ffffff" opacity="0.7"/>
<polygon points="277.0,231.0 280.0,229.0 284.0,229.5 288.0,228.6 289.5,231.0 288.0,233.0 285.5,235.5 282.0,236.3 279.0,235.0 277.5,233.5" fill="#ffffff" opacity="0.7"/>
<polygon points="284.0,216.2 285.6,216.6 285.2,218.2 283.8,217.8" fill="#ffffff" opacity="0.7"/>
</g></g>
<path d="M290.3 204.1h0.9v0.9h-0.9zM262.9 204.7h0.9v0.9h-0.9zM282.7 219.8h0.9v0.9h-0.9zM285.0 217.8h0.9v0.9h-0.9zM289.3 222.9h0.9v0.9h-0.9zM295.4 228.6h0.9v0.9h-0.9zM286.8 202.0h0.9v0.9h-0.9zM280.2 200.7h0.9v0.9h-0.9zM284.5 219.8h0.9v0.9h-0.9zM275.0 217.0h0.9v0.9h-0.9zM292.7 226.3h0.9v0.9h-0.9zM279.1 205.6h0.9v0.9h-0.9zM291.9 234.3h0.9v0.9h-0.9zM276.6 213.2h0.9v0.9h-0.9zM284.1 202.5h0.9v0.9h-0.9zM282.0 219.7h0.9v0.9h-0.9zM269.3 237.8h0.9v0.9h-0.9zM268.8 232.2h0.9v0.9h-0.9zM283.0 209.5h0.9v0.9h-0.9zM293.6 217.8h0.9v0.9h-0.9zM276.4 228.6h0.9v0.9h-0.9zM287.7 221.8h0.9v0.9h-0.9zM260.6 213.8h0.9v0.9h-0.9zM291.4 227.9h0.9v0.9h-0.9zM277.0 242.6h0.9v0.9h-0.9zM271.1 239.3h0.9v0.9h-0.9zM288.8 222.6h0.9v0.9h-0.9zM262.9 204.6h0.9v0.9h-0.9zM260.7 215.4h0.9v0.9h-0.9zM276.8 224.0h0.9v0.9h-0.9zM282.7 224.8h0.9v0.9h-0.9zM286.2 231.9h0.9v0.9h-0.9z" fill="#3b4f8f"/>
<path d="M288.5 202.9h0.9v0.9h-0.9zM270.6 232.1h0.9v0.9h-0.9zM284.1 217.2h0.9v0.9h-0.9zM269.0 233.3h0.9v0.9h-0.9zM274.7 232.4h0.9v0.9h-0.9zM277.8 208.6h0.9v0.9h-0.9zM274.0 244.6h0.9v0.9h-0.9zM295.7 231.4h0.9v0.9h-0.9zM291.0 210.2h0.9v0.9h-0.9zM287.8 214.1h0.9v0.9h-0.9zM277.9 210.2h0.9v0.9h-0.9zM288.7 226.2h0.9v0.9h-0.9zM283.6 209.0h0.9v0.9h-0.9zM294.4 208.2h0.9v0.9h-0.9zM269.7 225.9h0.9v0.9h-0.9zM273.7 201.9h0.9v0.9h-0.9zM273.8 243.2h0.9v0.9h-0.9zM285.8 208.1h0.9v0.9h-0.9zM296.2 228.8h0.9v0.9h-0.9zM285.3 207.0h0.9v0.9h-0.9zM270.0 232.2h0.9v0.9h-0.9zM291.8 215.3h0.9v0.9h-0.9zM288.1 216.1h0.9v0.9h-0.9zM274.6 202.0h0.9v0.9h-0.9zM278.7 216.0h0.9v0.9h-0.9zM267.8 229.2h0.9v0.9h-0.9zM266.1 236.3h0.9v0.9h-0.9zM275.2 207.8h0.9v0.9h-0.9zM285.5 202.7h0.9v0.9h-0.9zM290.7 228.0h0.9v0.9h-0.9zM274.5 203.4h0.9v0.9h-0.9zM267.8 234.3h0.9v0.9h-0.9zM287.5 238.1h0.9v0.9h-0.9zM287.2 224.9h0.9v0.9h-0.9zM265.7 237.4h0.9v0.9h-0.9zM275.9 210.8h0.9v0.9h-0.9zM269.5 227.8h0.9v0.9h-0.9zM277.0 239.4h0.9v0.9h-0.9z" fill="#472d7b"/>
<path d="M273.3 227.0h0.9v0.9h-0.9zM267.6 232.5h0.9v0.9h-0.9zM289.7 238.7h0.9v0.9h-0.9zM265.6 203.9h0.9v0.9h-0.9zM282.8 207.1h0.9v0.9h-0.9zM266.5 234.7h0.9v0.9h-0.9zM276.2 226.3h0.9v0.9h-0.9zM293.2 210.4h0.9v0.9h-0.9zM263.3 223.2h0.9v0.9h-0.9zM260.0 215.1h0.9v0.9h-0.9zM268.9 202.0h0.9v0.9h-0.9zM285.3 220.2h0.9v0.9h-0.9zM281.8 201.5h0.9v0.9h-0.9zM289.3 209.2h0.9v0.9h-0.9zM285.6 233.8h0.9v0.9h-0.9zM263.8 222.8h0.9v0.9h-0.9zM271.7 202.9h0.9v0.9h-0.9zM272.7 236.0h0.9v0.9h-0.9zM284.8 209.8h0.9v0.9h-0.9zM275.0 227.8h0.9v0.9h-0.9zM273.2 232.9h0.9v0.9h-0.9zM292.6 222.7h0.9v0.9h-0.9zM287.9 226.7h0.9v0.9h-0.9zM272.7 222.3h0.9v0.9h-0.9zM294.9 222.3h0.9v0.9h-0.9zM283.3 215.7h0.9v0.9h-0.9zM273.7 222.1h0.9v0.9h-0.9zM279.7 201.2h0.9v0.9h-0.9zM285.4 233.4h0.9v0.9h-0.9zM279.8 210.4h0.9v0.9h-0.9zM261.2 213.7h0.9v0.9h-0.9zM268.1 240.5h0.9v0.9h-0.9zM293.2 226.1h0.9v0.9h-0.9zM281.4 225.7h0.9v0.9h-0.9zM279.6 212.8h0.9v0.9h-0.9zM271.6 219.1h0.9v0.9h-0.9zM275.7 228.1h0.9v0.9h-0.9zM279.4 235.5h0.9v0.9h-0.9z" fill="#3e4a89"/>
<path d="M281.6 201.6h0.9v0.9h-0.9zM278.7 201.3h0.9v0.9h-0.9zM273.6 225.4h0.9v0.9h-0.9zM263.9 203.8h0.9v0.9h-0.9zM287.5 202.9h0.9v0.9h-0.9zM278.5 209.8h0.9v0.9h-0.9zM273.6 207.6h0.9v0.9h-0.9zM295.0 235.7h0.9v0.9h-0.9zM284.9 211.0h0.9v0.9h-0.9zM294.8 221.2h0.9v0.9h-0.9zM276.2 201.3h0.9v0.9h-0.9zM272.9 232.5h0.9v0.9h-0.9zM271.8 219.3h0.9v0.9h-0.9zM287.4 229.5h0.9v0.9h-0.9zM289.4 224.5h0.9v0.9h-0.9zM282.4 201.1h0.9v0.9h-0.9zM267.9 229.9h0.9v0.9h-0.9zM269.0 231.6h0.9v0.9h-0.9zM286.1 238.2h0.9v0.9h-0.9zM273.5 208.3h0.9v0.9h-0.9zM288.3 228.4h0.9v0.9h-0.9zM290.1 230.4h0.9v0.9h-0.9zM277.4 201.1h0.9v0.9h-0.9zM266.6 233.3h0.9v0.9h-0.9zM275.1 209.2h0.9v0.9h-0.9zM289.1 211.3h0.9v0.9h-0.9zM297.2 230.2h0.9v0.9h-0.9zM279.1 217.7h0.9v0.9h-0.9zM296.3 230.2h0.9v0.9h-0.9zM276.8 220.3h0.9v0.9h-0.9zM289.0 228.0h0.9v0.9h-0.9zM268.6 226.3h0.9v0.9h-0.9zM283.2 207.3h0.9v0.9h-0.9zM270.1 232.3h0.9v0.9h-0.9zM281.3 236.9h0.9v0.9h-0.9zM276.2 239.8h0.9v0.9h-0.9zM267.6 202.6h0.9v0.9h-0.9zM291.9 230.9h0.9v0.9h-0.9zM265.4 227.4h0.9v0.9h-0.9zM295.9 235.3h0.9v0.9h-0.9zM278.4 204.7h0.9v0.9h-0.9zM290.1 226.9h0.9v0.9h-0.9zM285.7 212.0h0.9v0.9h-0.9zM291.9 208.1h0.9v0.9h-0.9zM292.7 226.0h0.9v0.9h-0.9zM273.9 221.3h0.9v0.9h-0.9z" fill="#443983"/>
<path d="M282.9 214.2h0.9v0.9h-0.9zM279.5 227.1h0.9v0.9h-0.9zM263.4 204.0h0.9v0.9h-0.9zM290.7 222.7h0.9v0.9h-0.9zM284.1 238.4h0.9v0.9h-0.9zM261.0 212.6h0.9v0.9h-0.9zM284.6 238.2h0.9v0.9h-0.9zM274.0 226.9h0.9v0.9h-0.9zM291.6 205.2h0.9v0.9h-0.9zM265.5 237.0h0.9v0.9h-0.9zM274.9 224.8h0.9v0.9h-0.9zM282.9 223.0h0.9v0.9h-0.9zM279.9 221.1h0.9v0.9h-0.9zM267.2 203.2h0.9v0.9h-0.9zM293.4 208.9h0.9v0.9h-0.9zM280.9 226.3h0.9v0.9h-0.9zM285.5 212.6h0.9v0.9h-0.9zM273.7 230.5h0.9v0.9h-0.9zM288.3 207.5h0.9v0.9h-0.9zM284.2 207.6h0.9v0.9h-0.9zM261.1 213.9h0.9v0.9h-0.9zM281.8 237.8h0.9v0.9h-0.9zM278.9 216.7h0.9v0.9h-0.9zM272.4 211.4h0.9v0.9h-0.9zM293.4 206.9h0.9v0.9h-0.9zM288.3 238.4h0.9v0.9h-0.9zM276.2 241.3h0.9v0.9h-0.9zM260.7 214.7h0.9v0.9h-0.9zM261.3 217.0h0.9v0.9h-0.9z" fill="#482576"/>
<path d="M265.7 226.4h0.9v0.9h-0.9zM276.7 217.2h0.9v0.9h-0.9zM277.1 230.8h0.9v0.9h-0.9zM275.8 228.4h0.9v0.9h-0.9zM289.0 213.0h0.9v0.9h-0.9zM280.4 202.6h0.9v0.9h-0.9zM292.1 216.5h0.9v0.9h-0.9zM293.3 233.8h0.9v0.9h-0.9zM282.7 212.1h0.9v0.9h-0.9zM283.0 201.5h0.9v0.9h-0.9zM284.8 238.5h0.9v0.9h-0.9zM276.5 214.5h0.9v0.9h-0.9zM288.2 203.6h0.9v0.9h-0.9zM270.8 240.2h0.9v0.9h-0.9zM280.3 205.8h0.9v0.9h-0.9zM273.2 216.5h0.9v0.9h-0.9zM271.3 206.2h0.9v0.9h-0.9zM296.8 231.1h0.9v0.9h-0.9zM295.4 229.1h0.9v0.9h-0.9zM291.4 226.8h0.9v0.9h-0.9zM269.8 226.1h0.9v0.9h-0.9zM294.0 208.5h0.9v0.9h-0.9zM269.4 229.2h0.9v0.9h-0.9zM272.3 208.5h0.9v0.9h-0.9zM283.0 211.2h0.9v0.9h-0.9zM278.1 237.7h0.9v0.9h-0.9z" fill="#35608d"/>
<path d="M284.6 229.5h0.8v0.8h-0.8zM282.6 236.9h0.8v0.8h-0.8zM269.4 203.8h0.8v0.8h-0.8zM263.3 211.4h0.8v0.8h-0.8zM277.8 231.0h0.8v0.8h-0.8zM264.1 221.2h0.8v0.8h-0.8zM277.6 216.8h0.8v0.8h-0.8zM282.5 203.2h0.8v0.8h-0.8zM276.2 239.8h0.8v0.8h-0.8zM278.5 229.1h0.8v0.8h-0.8zM292.3 229.6h0.8v0.8h-0.8zM279.6 204.8h0.8v0.8h-0.8zM283.5 234.0h0.8v0.8h-0.8zM295.2 229.7h0.8v0.8h-0.8zM266.4 237.0h0.8v0.8h-0.8zM283.2 235.1h0.8v0.8h-0.8zM282.0 230.0h0.8v0.8h-0.8zM287.4 211.6h0.8v0.8h-0.8zM278.4 236.3h0.8v0.8h-0.8zM279.2 203.6h0.8v0.8h-0.8zM262.9 208.5h0.8v0.8h-0.8zM263.6 219.1h0.8v0.8h-0.8zM266.0 225.9h0.8v0.8h-0.8zM273.9 228.0h0.8v0.8h-0.8zM287.5 237.4h0.8v0.8h-0.8zM271.8 224.6h0.8v0.8h-0.8zM283.9 208.8h0.8v0.8h-0.8zM269.5 238.2h0.8v0.8h-0.8zM265.9 226.0h0.8v0.8h-0.8zM286.3 217.0h0.8v0.8h-0.8zM295.5 233.9h0.8v0.8h-0.8zM289.1 235.3h0.8v0.8h-0.8zM270.6 234.1h0.8v0.8h-0.8zM278.1 205.4h0.8v0.8h-0.8zM286.8 211.6h0.8v0.8h-0.8zM271.5 204.1h0.8v0.8h-0.8zM278.7 217.6h0.8v0.8h-0.8zM274.7 241.2h0.8v0.8h-0.8zM290.5 224.2h0.8v0.8h-0.8zM296.4 231.2h0.8v0.8h-0.8zM267.0 236.4h0.8v0.8h-0.8zM276.7 209.6h0.8v0.8h-0.8zM281.2 202.9h0.8v0.8h-0.8zM265.4 204.6h0.8v0.8h-0.8zM274.0 230.7h0.8v0.8h-0.8zM262.3 211.7h0.8v0.8h-0.8zM292.0 231.6h0.8v0.8h-0.8zM287.8 227.2h0.8v0.8h-0.8zM292.9 234.5h0.8v0.8h-0.8zM269.4 234.5h0.8v0.8h-0.8zM277.8 237.2h0.8v0.8h-0.8zM268.1 231.0h0.8v0.8h-0.8zM265.0 223.3h0.8v0.8h-0.8zM268.1 233.3h0.8v0.8h-0.8zM290.7 212.2h0.8v0.8h-0.8zM296.0 232.1h0.8v0.8h-0.8zM274.6 239.1h0.8v0.8h-0.8zM281.3 202.3h0.8v0.8h-0.8zM295.9 230.5h0.8v0.8h-0.8zM283.5 205.6h0.8v0.8h-0.8zM266.6 227.5h0.8v0.8h-0.8zM293.1 219.2h0.8v0.8h-0.8zM295.6 230.2h0.8v0.8h-0.8zM288.5 220.4h0.8v0.8h-0.8zM267.2 230.9h0.8v0.8h-0.8zM288.4 236.4h0.8v0.8h-0.8zM290.5 229.4h0.8v0.8h-0.8zM291.2 234.4h0.8v0.8h-0.8zM269.0 239.3h0.8v0.8h-0.8zM284.0 229.1h0.8v0.8h-0.8zM284.6 232.8h0.8v0.8h-0.8zM288.4 236.1h0.8v0.8h-0.8zM291.6 206.7h0.8v0.8h-0.8zM266.2 205.0h0.8v0.8h-0.8zM266.5 226.3h0.8v0.8h-0.8zM292.4 225.8h0.8v0.8h-0.8zM266.9 230.5h0.8v0.8h-0.8zM292.5 222.9h0.8v0.8h-0.8zM289.9 205.5h0.8v0.8h-0.8zM276.7 228.3h0.8v0.8h-0.8zM290.8 205.4h0.8v0.8h-0.8zM293.2 224.1h0.8v0.8h-0.8zM268.4 234.7h0.8v0.8h-0.8zM280.1 217.3h0.8v0.8h-0.8zM288.7 229.2h0.8v0.8h-0.8zM288.0 214.3h0.8v0.8h-0.8zM263.6 221.0h0.8v0.8h-0.8zM291.8 210.6h0.8v0.8h-0.8zM281.6 235.3h0.8v0.8h-0.8zM268.7 239.2h0.8v0.8h-0.8zM281.9 203.2h0.8v0.8h-0.8zM291.3 223.4h0.8v0.8h-0.8zM282.2 202.6h0.8v0.8h-0.8zM291.5 211.3h0.8v0.8h-0.8zM290.8 210.0h0.8v0.8h-0.8zM292.7 221.6h0.8v0.8h-0.8zM275.9 240.1h0.8v0.8h-0.8zM274.0 203.8h0.8v0.8h-0.8zM291.3 212.8h0.8v0.8h-0.8zM288.6 220.2h0.8v0.8h-0.8zM263.3 210.2h0.8v0.8h-0.8zM292.3 230.0h0.8v0.8h-0.8z" fill="#ffffff" opacity="0.9"/>
<polygon points="288.0,259.5 292.0,259.0 294.5,255.5 296.0,257.5 298.0,254.5 300.0,257.0 302.0,255.5 303.0,258.5 306.0,258.5 310.5,259.5 306.0,261.5 304.5,264.0 305.5,268.0 302.0,265.5 299.5,267.0 297.0,269.5 296.0,266.0 293.5,264.5 290.5,262.5 287.5,261.5" fill="#3c4f8c"/>
<path d="M295.8 264.9h0.9v0.9h-0.9zM294.2 259.8h0.9v0.9h-0.9zM292.8 257.5h0.9v0.9h-0.9zM296.2 269.0h0.9v0.9h-0.9zM289.3 260.7h0.9v0.9h-0.9zM302.1 257.8h0.9v0.9h-0.9zM310.6 259.8h0.9v0.9h-0.9zM296.1 261.8h0.9v0.9h-0.9zM302.6 263.4h0.9v0.9h-0.9zM292.2 260.6h0.9v0.9h-0.9zM301.3 257.0h0.9v0.9h-0.9zM303.0 263.3h0.9v0.9h-0.9zM303.7 257.7h0.9v0.9h-0.9zM294.4 259.3h0.9v0.9h-0.9zM290.2 260.8h0.9v0.9h-0.9zM291.8 260.8h0.9v0.9h-0.9zM293.5 261.9h0.9v0.9h-0.9zM291.7 259.5h0.9v0.9h-0.9zM303.8 267.0h0.9v0.9h-0.9zM292.3 261.2h0.9v0.9h-0.9zM296.8 254.0h0.9v0.9h-0.9zM287.8 260.2h0.9v0.9h-0.9zM300.0 266.3h0.9v0.9h-0.9zM295.9 266.9h0.9v0.9h-0.9zM296.3 264.2h0.9v0.9h-0.9z" fill="#2a9a8e"/>
<path d="M305.6 268.5h0.9v0.9h-0.9zM303.0 257.7h0.9v0.9h-0.9zM294.5 265.1h0.9v0.9h-0.9zM306.1 259.7h0.9v0.9h-0.9zM298.8 263.1h0.9v0.9h-0.9zM302.7 261.4h0.9v0.9h-0.9zM305.1 259.7h0.9v0.9h-0.9zM296.2 269.4h0.9v0.9h-0.9zM296.5 255.9h0.9v0.9h-0.9zM307.9 259.5h0.9v0.9h-0.9zM298.4 261.4h0.9v0.9h-0.9zM302.8 254.9h0.9v0.9h-0.9zM291.8 264.3h0.9v0.9h-0.9zM302.8 258.1h0.9v0.9h-0.9zM296.6 260.9h0.9v0.9h-0.9z" fill="#3b528b"/>
<path d="M302.2 256.5h0.9v0.9h-0.9zM299.0 258.3h0.9v0.9h-0.9zM290.7 261.2h0.9v0.9h-0.9zM294.5 262.3h0.9v0.9h-0.9zM298.6 253.5h0.9v0.9h-0.9zM298.9 263.3h0.9v0.9h-0.9zM292.1 255.9h0.9v0.9h-0.9zM307.8 260.1h0.9v0.9h-0.9zM303.7 262.1h0.9v0.9h-0.9zM297.0 256.3h0.9v0.9h-0.9zM305.3 257.7h0.9v0.9h-0.9zM297.6 260.5h0.9v0.9h-0.9zM303.7 256.9h0.9v0.9h-0.9zM303.1 263.5h0.9v0.9h-0.9z" fill="#472d7b"/>
<path d="M311.2 258.8h0.9v0.9h-0.9zM288.6 260.2h0.9v0.9h-0.9zM292.8 255.8h0.9v0.9h-0.9zM286.8 258.2h0.9v0.9h-0.9zM298.4 261.1h0.9v0.9h-0.9zM295.5 256.7h0.9v0.9h-0.9zM308.2 261.1h0.9v0.9h-0.9zM303.0 261.3h0.9v0.9h-0.9zM291.6 264.4h0.9v0.9h-0.9zM294.6 261.7h0.9v0.9h-0.9zM305.0 266.8h0.9v0.9h-0.9zM308.1 260.8h0.9v0.9h-0.9zM296.7 254.8h0.9v0.9h-0.9zM305.7 258.4h0.9v0.9h-0.9zM300.9 255.8h0.9v0.9h-0.9zM305.2 257.8h0.9v0.9h-0.9zM304.5 264.4h0.9v0.9h-0.9zM302.5 261.7h0.9v0.9h-0.9zM302.1 261.5h0.9v0.9h-0.9z" fill="#21918c"/>
<path d="M293.2 255.7h0.9v0.9h-0.9zM298.6 256.6h0.9v0.9h-0.9zM297.8 267.5h0.9v0.9h-0.9zM296.0 266.5h0.9v0.9h-0.9zM306.0 260.7h0.9v0.9h-0.9zM296.8 254.0h0.9v0.9h-0.9zM300.6 254.3h0.9v0.9h-0.9zM296.6 267.9h0.9v0.9h-0.9zM301.5 253.8h0.9v0.9h-0.9zM285.9 261.0h0.9v0.9h-0.9zM304.7 265.2h0.9v0.9h-0.9zM293.8 261.8h0.9v0.9h-0.9zM300.6 262.3h0.9v0.9h-0.9zM301.1 261.6h0.9v0.9h-0.9z" fill="#414487"/>
<path d="M299.5 265.4h0.9v0.9h-0.9zM303.5 263.0h0.9v0.9h-0.9zM293.5 265.3h0.9v0.9h-0.9zM306.9 260.1h0.9v0.9h-0.9zM299.8 266.5h0.9v0.9h-0.9zM286.2 259.7h0.9v0.9h-0.9zM295.2 268.5h0.9v0.9h-0.9zM301.9 260.2h0.9v0.9h-0.9zM290.7 257.7h0.9v0.9h-0.9zM311.3 258.9h0.9v0.9h-0.9zM308.8 257.5h0.9v0.9h-0.9zM304.1 265.7h0.9v0.9h-0.9zM298.9 257.9h0.9v0.9h-0.9zM303.4 259.8h0.9v0.9h-0.9zM294.2 260.5h0.9v0.9h-0.9zM302.2 261.0h0.9v0.9h-0.9zM298.8 262.6h0.9v0.9h-0.9zM291.9 257.1h0.9v0.9h-0.9z" fill="#2c728e"/>
<path d="M293.8 256.4h0.8v0.8h-0.8zM295.3 263.6h0.8v0.8h-0.8zM304.4 259.7h0.8v0.8h-0.8zM292.2 263.0h0.8v0.8h-0.8zM291.9 260.2h0.8v0.8h-0.8zM306.4 260.5h0.8v0.8h-0.8zM302.6 261.7h0.8v0.8h-0.8zM305.1 261.3h0.8v0.8h-0.8z" fill="#ffffff" opacity="0.8"/>
<ellipse cx="328.1" cy="200.2" rx="3.9" ry="2.9" transform="rotate(-20 328.1 200.2)" fill="#2f9e7e" stroke="#1f5f66" stroke-width="0.8"/>
<path d="M231.4 232.6h1.2v1.2h-1.2zM261.4 233.1h1.2v1.2h-1.2zM249.9 247.4h1.2v1.2h-1.2zM309.4 224.9h1.2v1.2h-1.2zM309.9 233.6h1.2v1.2h-1.2zM306.9 244.4h1.2v1.2h-1.2zM287.4 274.9h1.2v1.2h-1.2zM293.6 274.4h1.2v1.2h-1.2zM319.2 262.4h1.2v1.2h-1.2z" fill="#4a3a7a" opacity="0.65"/>
<linearGradient id="vir0" x1="0" y1="0" x2="0" y2="1"><stop offset="0" stop-color="#f2f0a0"/><stop offset="0.06" stop-color="#d2e040"/><stop offset="0.25" stop-color="#7cc84e"/><stop offset="0.45" stop-color="#2aa28a"/><stop offset="0.65" stop-color="#31699a"/><stop offset="0.82" stop-color="#3b3f85"/><stop offset="1" stop-color="#2a1650"/></linearGradient>
<rect x="325.9" y="227.8" width="3.8" height="28.8" fill="url(#vir0)"/>
<text x="326.25" y="226.6" font-size="6.9" fill="#333" stroke="#333" stroke-width="0.14" textLength="22.5" lengthAdjust="spacingAndGlyphs">Density</text>
<text x="331.6" y="233.4" font-size="6.1" fill="#333" stroke="#333" stroke-width="0.14" textLength="12.8" lengthAdjust="spacingAndGlyphs">0.04</text>
<text x="331.6" y="239.7" font-size="6.1" fill="#333" stroke="#333" stroke-width="0.14" textLength="12.8" lengthAdjust="spacingAndGlyphs">0.03</text>
<text x="331.6" y="246.25" font-size="6.1" fill="#333" stroke="#333" stroke-width="0.14" textLength="12.8" lengthAdjust="spacingAndGlyphs">0.02</text>
<text x="331.6" y="252.5" font-size="6.1" fill="#333" stroke="#333" stroke-width="0.14" textLength="12.8" lengthAdjust="spacingAndGlyphs">0.01</text>
<line x1="391.6" y1="193.5" x2="391.6" y2="280.5" stroke="#262626" stroke-width="1"/>
<line x1="391.1" y1="280" x2="500.1" y2="280" stroke="#262626" stroke-width="1"/>
<line x1="388.4" y1="207.5" x2="391.6" y2="207.5" stroke="#262626" stroke-width="1"/>
<text x="385.4" y="209.9" font-size="6.8" fill="#3a3a3a" stroke="#3a3a3a" stroke-width="0.14" text-anchor="end">5</text>
<line x1="388.4" y1="224.1" x2="391.6" y2="224.1" stroke="#262626" stroke-width="1"/>
<text x="385.4" y="226.5" font-size="6.8" fill="#3a3a3a" stroke="#3a3a3a" stroke-width="0.14" text-anchor="end">0</text>
<line x1="388.4" y1="241" x2="391.6" y2="241" stroke="#262626" stroke-width="1"/>
<text x="385.4" y="243.4" font-size="6.8" fill="#3a3a3a" stroke="#3a3a3a" stroke-width="0.14" text-anchor="end">−5</text>
<line x1="388.4" y1="257.9" x2="391.6" y2="257.9" stroke="#262626" stroke-width="1"/>
<text x="385.4" y="260.3" font-size="6.8" fill="#3a3a3a" stroke="#3a3a3a" stroke-width="0.14" text-anchor="end">−10</text>
<line x1="388.4" y1="274.7" x2="391.6" y2="274.7" stroke="#262626" stroke-width="1"/>
<text x="385.4" y="277.1" font-size="6.8" fill="#3a3a3a" stroke="#3a3a3a" stroke-width="0.14" text-anchor="end">−15</text>
<line x1="408.2" y1="280" x2="408.2" y2="283.2" stroke="#262626" stroke-width="1"/>
<text x="408.2" y="293.2" font-size="6.8" fill="#3a3a3a" stroke="#3a3a3a" stroke-width="0.14" text-anchor="middle">−10</text>
<line x1="428.1" y1="280" x2="428.1" y2="283.2" stroke="#262626" stroke-width="1"/>
<text x="428.1" y="293.2" font-size="6.8" fill="#3a3a3a" stroke="#3a3a3a" stroke-width="0.14" text-anchor="middle">−5</text>
<line x1="448" y1="280" x2="448" y2="283.2" stroke="#262626" stroke-width="1"/>
<text x="448" y="293.2" font-size="6.8" fill="#3a3a3a" stroke="#3a3a3a" stroke-width="0.14" text-anchor="middle">0</text>
<line x1="468.2" y1="280" x2="468.2" y2="283.2" stroke="#262626" stroke-width="1"/>
<text x="468.2" y="293.2" font-size="6.8" fill="#3a3a3a" stroke="#3a3a3a" stroke-width="0.14" text-anchor="middle">5</text>
<line x1="488.4" y1="280" x2="488.4" y2="283.2" stroke="#262626" stroke-width="1"/>
<text x="488.4" y="293.2" font-size="6.8" fill="#3a3a3a" stroke="#3a3a3a" stroke-width="0.14" text-anchor="middle">10</text>
<text x="445.95" y="305.9" font-size="9.6" fill="#3a3a3a" stroke="#3a3a3a" stroke-width="0.14" text-anchor="middle" textLength="25.1" lengthAdjust="spacingAndGlyphs">UMAP 1</text>
<text x="368.5" y="237" font-size="10.5" fill="#3a3a3a" stroke="#3a3a3a" stroke-width="0.14" text-anchor="middle" textLength="26.1" lengthAdjust="spacingAndGlyphs" transform="rotate(-90 368.5 237)">UMAP 2</text>
<text x="446.1" y="186.9" font-size="9.4" fill="#222" text-anchor="middle" font-style="italic" textLength="43.2" lengthAdjust="spacingAndGlyphs">GABARAP</text>
<clipPath id="cl1"><polygon points="429.2,205.6 433.1,203.7 436.9,204.1 440.8,202.7 444.6,202.2 448.4,203.2 452.3,203.7 456.1,205.6 458.1,208.5 457.1,212.3 456.1,215.2 458.1,218.1 459.0,221.9 458.1,225.8 455.2,227.7 454.2,229.6 458.1,229.6 460.9,230.1 461.9,232.5 460.0,235.4 456.1,237.3 453.3,238.3 450.4,237.3 447.5,238.3 443.6,237.3 441.7,239.2 440.8,243.1 440.3,246.0 438.8,242.1 435.9,240.2 432.1,240.2 431.1,237.3 433.1,233.5 431.1,229.6 430.2,226.7 429.2,222.9 427.3,219.0 426.3,215.2 427.3,211.3 428.3,207.5"/></clipPath>
<polygon points="429.2,205.6 433.1,203.7 436.9,204.1 440.8,202.7 444.6,202.2 448.4,203.2 452.3,203.7 456.1,205.6 458.1,208.5 457.1,212.3 456.1,215.2 458.1,218.1 459.0,221.9 458.1,225.8 455.2,227.7 454.2,229.6 458.1,229.6 460.9,230.1 461.9,232.5 460.0,235.4 456.1,237.3 453.3,238.3 450.4,237.3 447.5,238.3 443.6,237.3 441.7,239.2 440.8,243.1 440.3,246.0 438.8,242.1 435.9,240.2 432.1,240.2 431.1,237.3 433.1,233.5 431.1,229.6 430.2,226.7 429.2,222.9 427.3,219.0 426.3,215.2 427.3,211.3 428.3,207.5" fill="#46307c"/>
<g clip-path="url(#cl1)"><g filter="url(#soft2)">
<ellipse cx="433" cy="213.5" rx="7" ry="11.5" fill="#2c7a8e"/>
<ellipse cx="438.5" cy="214" rx="4" ry="10" fill="#33608d" opacity="0.8"/>
<ellipse cx="452" cy="208.5" rx="4.5" ry="4" fill="#3b528b" opacity="0.8"/>
<ellipse cx="457.5" cy="233.5" rx="5" ry="4" fill="#3e4a89" opacity="0.95"/>
<ellipse cx="430" cy="209" rx="2.2" ry="4" fill="#259a8a" opacity="0.9"/>
<ellipse cx="434.3" cy="203.8" rx="2.8" ry="1.8" fill="#a5d84a"/>
<ellipse cx="429.4" cy="217.6" rx="2.2" ry="3.0" fill="#62c46a"/>
<polygon points="429.1,225.0 432.6,226.5 435.1,229.5 434.1,233.0 431.6,234.5 430.1,231.0" fill="#ffffff" opacity="0.7"/>
<polygon points="441.6,231.0 444.6,229.0 448.6,229.5 452.6,228.6 454.1,231.0 452.6,233.0 450.1,235.5 446.6,236.3 443.6,235.0 442.1,233.5" fill="#ffffff" opacity="0.7"/>
<polygon points="448.6,216.2 450.2,216.6 449.8,218.2 448.4,217.8" fill="#ffffff" opacity="0.7"/>
</g></g>
<path d="M444.0 220.7h0.9v0.9h-0.9zM454.1 225.8h0.9v0.9h-0.9zM438.1 242.8h0.9v0.9h-0.9zM453.4 220.4h0.9v0.9h-0.9zM449.6 233.5h0.9v0.9h-0.9zM442.2 205.9h0.9v0.9h-0.9zM440.0 229.0h0.9v0.9h-0.9zM458.1 211.6h0.9v0.9h-0.9zM425.9 211.6h0.9v0.9h-0.9zM426.9 221.3h0.9v0.9h-0.9zM441.6 219.7h0.9v0.9h-0.9zM433.7 228.9h0.9v0.9h-0.9zM428.9 223.1h0.9v0.9h-0.9zM457.0 228.1h0.9v0.9h-0.9zM442.8 204.0h0.9v0.9h-0.9zM447.6 223.8h0.9v0.9h-0.9zM444.3 228.4h0.9v0.9h-0.9zM453.7 215.3h0.9v0.9h-0.9zM459.8 221.2h0.9v0.9h-0.9zM437.4 227.0h0.9v0.9h-0.9zM433.1 240.7h0.9v0.9h-0.9zM436.7 202.8h0.9v0.9h-0.9zM454.4 229.5h0.9v0.9h-0.9zM441.4 231.7h0.9v0.9h-0.9zM453.0 227.8h0.9v0.9h-0.9zM442.6 227.0h0.9v0.9h-0.9zM457.1 219.3h0.9v0.9h-0.9zM449.1 225.0h0.9v0.9h-0.9zM435.6 233.6h0.9v0.9h-0.9zM437.9 201.8h0.9v0.9h-0.9zM443.1 236.2h0.9v0.9h-0.9zM450.5 221.4h0.9v0.9h-0.9z" fill="#482576"/>
<path d="M445.5 212.3h0.9v0.9h-0.9zM448.6 220.5h0.9v0.9h-0.9zM457.5 226.2h0.9v0.9h-0.9zM456.0 237.2h0.9v0.9h-0.9zM453.8 218.1h0.9v0.9h-0.9zM444.2 234.4h0.9v0.9h-0.9zM444.6 225.5h0.9v0.9h-0.9zM453.2 202.7h0.9v0.9h-0.9zM437.1 241.6h0.9v0.9h-0.9zM453.0 207.8h0.9v0.9h-0.9zM450.6 204.5h0.9v0.9h-0.9zM461.3 229.4h0.9v0.9h-0.9zM443.1 232.4h0.9v0.9h-0.9zM449.9 223.3h0.9v0.9h-0.9zM436.6 231.9h0.9v0.9h-0.9zM430.4 238.9h0.9v0.9h-0.9zM428.8 203.7h0.9v0.9h-0.9zM440.2 229.4h0.9v0.9h-0.9zM458.5 226.0h0.9v0.9h-0.9zM429.1 227.3h0.9v0.9h-0.9zM434.3 239.8h0.9v0.9h-0.9zM436.3 227.3h0.9v0.9h-0.9zM451.5 204.0h0.9v0.9h-0.9zM444.2 205.2h0.9v0.9h-0.9zM441.1 202.2h0.9v0.9h-0.9zM442.5 238.6h0.9v0.9h-0.9zM427.5 220.5h0.9v0.9h-0.9zM444.7 232.3h0.9v0.9h-0.9zM444.8 211.3h0.9v0.9h-0.9zM431.5 240.9h0.9v0.9h-0.9zM448.6 211.7h0.9v0.9h-0.9zM432.4 232.7h0.9v0.9h-0.9zM461.8 230.1h0.9v0.9h-0.9zM451.4 202.8h0.9v0.9h-0.9zM456.7 237.4h0.9v0.9h-0.9zM436.5 229.0h0.9v0.9h-0.9zM439.3 244.7h0.9v0.9h-0.9zM456.9 235.2h0.9v0.9h-0.9zM437.5 225.8h0.9v0.9h-0.9zM447.5 204.6h0.9v0.9h-0.9z" fill="#46327e"/>
<path d="M454.7 217.8h0.9v0.9h-0.9zM455.4 207.7h0.9v0.9h-0.9zM458.7 230.1h0.9v0.9h-0.9zM429.2 203.4h0.9v0.9h-0.9zM432.1 228.7h0.9v0.9h-0.9zM440.1 226.3h0.9v0.9h-0.9zM456.6 212.8h0.9v0.9h-0.9zM450.9 217.6h0.9v0.9h-0.9zM448.7 235.4h0.9v0.9h-0.9zM436.4 242.0h0.9v0.9h-0.9zM442.2 229.3h0.9v0.9h-0.9zM439.0 226.2h0.9v0.9h-0.9zM452.9 235.9h0.9v0.9h-0.9zM426.1 209.1h0.9v0.9h-0.9zM433.3 203.1h0.9v0.9h-0.9zM426.0 209.5h0.9v0.9h-0.9zM452.1 222.9h0.9v0.9h-0.9zM455.5 213.6h0.9v0.9h-0.9zM443.7 210.7h0.9v0.9h-0.9zM448.7 214.9h0.9v0.9h-0.9zM434.7 202.9h0.9v0.9h-0.9zM439.9 223.8h0.9v0.9h-0.9zM449.1 220.5h0.9v0.9h-0.9zM441.7 218.3h0.9v0.9h-0.9zM436.5 237.8h0.9v0.9h-0.9zM462.7 231.6h0.9v0.9h-0.9zM429.3 228.0h0.9v0.9h-0.9zM439.3 239.3h0.9v0.9h-0.9zM426.2 218.9h0.9v0.9h-0.9zM430.5 230.5h0.9v0.9h-0.9zM455.6 216.8h0.9v0.9h-0.9zM438.7 201.5h0.9v0.9h-0.9zM458.5 225.8h0.9v0.9h-0.9zM439.4 204.8h0.9v0.9h-0.9zM453.3 231.3h0.9v0.9h-0.9zM453.7 219.1h0.9v0.9h-0.9z" fill="#3e4a89"/>
<path d="M430.0 238.7h0.9v0.9h-0.9zM436.9 230.1h0.9v0.9h-0.9zM456.5 224.8h0.9v0.9h-0.9zM462.7 231.9h0.9v0.9h-0.9zM448.9 220.5h0.9v0.9h-0.9zM437.9 240.7h0.9v0.9h-0.9zM424.9 216.3h0.9v0.9h-0.9zM457.1 229.1h0.9v0.9h-0.9zM427.3 221.4h0.9v0.9h-0.9zM426.6 221.0h0.9v0.9h-0.9zM441.2 240.5h0.9v0.9h-0.9zM449.7 230.7h0.9v0.9h-0.9zM427.4 207.4h0.9v0.9h-0.9zM441.1 206.7h0.9v0.9h-0.9zM443.1 203.5h0.9v0.9h-0.9zM431.0 203.5h0.9v0.9h-0.9zM448.7 217.1h0.9v0.9h-0.9zM457.3 210.3h0.9v0.9h-0.9zM445.7 207.1h0.9v0.9h-0.9zM458.4 232.4h0.9v0.9h-0.9zM434.9 232.5h0.9v0.9h-0.9zM443.7 237.6h0.9v0.9h-0.9zM453.4 211.3h0.9v0.9h-0.9zM447.7 202.2h0.9v0.9h-0.9zM443.7 206.7h0.9v0.9h-0.9zM460.7 234.6h0.9v0.9h-0.9zM442.8 239.0h0.9v0.9h-0.9zM454.5 228.8h0.9v0.9h-0.9z" fill="#472d7b"/>
<path d="M450.2 201.6h0.9v0.9h-0.9zM449.9 213.0h0.9v0.9h-0.9zM438.6 228.9h0.9v0.9h-0.9zM438.5 239.9h0.9v0.9h-0.9zM448.0 226.2h0.9v0.9h-0.9zM428.0 225.1h0.9v0.9h-0.9zM453.7 229.6h0.9v0.9h-0.9zM431.1 235.2h0.9v0.9h-0.9zM446.1 213.0h0.9v0.9h-0.9zM447.9 214.8h0.9v0.9h-0.9zM445.2 230.4h0.9v0.9h-0.9zM442.4 232.8h0.9v0.9h-0.9zM440.7 233.4h0.9v0.9h-0.9zM425.2 216.8h0.9v0.9h-0.9zM425.4 216.1h0.9v0.9h-0.9zM445.5 205.8h0.9v0.9h-0.9zM428.7 222.4h0.9v0.9h-0.9zM435.2 202.9h0.9v0.9h-0.9zM440.7 214.8h0.9v0.9h-0.9zM452.7 213.6h0.9v0.9h-0.9zM433.9 202.7h0.9v0.9h-0.9zM436.8 237.5h0.9v0.9h-0.9zM442.5 205.4h0.9v0.9h-0.9zM456.7 214.7h0.9v0.9h-0.9zM431.4 233.9h0.9v0.9h-0.9zM458.0 224.4h0.9v0.9h-0.9zM441.7 240.7h0.9v0.9h-0.9zM456.2 222.9h0.9v0.9h-0.9zM441.1 214.5h0.9v0.9h-0.9zM428.0 206.4h0.9v0.9h-0.9zM436.3 233.2h0.9v0.9h-0.9zM440.6 223.7h0.9v0.9h-0.9z" fill="#3b528b"/>
<path d="M441.7 225.9h0.9v0.9h-0.9zM442.7 220.8h0.9v0.9h-0.9zM453.4 217.1h0.9v0.9h-0.9zM433.7 234.2h0.9v0.9h-0.9zM439.7 203.0h0.9v0.9h-0.9zM440.5 202.7h0.9v0.9h-0.9zM428.5 223.4h0.9v0.9h-0.9zM426.3 212.0h0.9v0.9h-0.9zM445.3 220.0h0.9v0.9h-0.9zM444.4 237.1h0.9v0.9h-0.9zM442.2 239.6h0.9v0.9h-0.9zM449.6 212.5h0.9v0.9h-0.9zM441.0 209.4h0.9v0.9h-0.9zM449.8 229.9h0.9v0.9h-0.9zM451.3 238.0h0.9v0.9h-0.9zM441.3 238.8h0.9v0.9h-0.9zM456.4 227.4h0.9v0.9h-0.9zM440.4 211.4h0.9v0.9h-0.9zM454.8 217.0h0.9v0.9h-0.9zM430.3 239.0h0.9v0.9h-0.9zM426.1 219.7h0.9v0.9h-0.9zM443.0 237.3h0.9v0.9h-0.9zM429.0 226.1h0.9v0.9h-0.9zM425.1 213.5h0.9v0.9h-0.9zM426.3 216.4h0.9v0.9h-0.9zM448.3 220.6h0.9v0.9h-0.9zM449.3 207.6h0.9v0.9h-0.9zM435.2 227.0h0.9v0.9h-0.9z" fill="#440f62"/>
<path d="M442.2 231.2h0.8v0.8h-0.8zM440.8 207.4h0.8v0.8h-0.8zM448.1 207.4h0.8v0.8h-0.8zM448.8 203.6h0.8v0.8h-0.8zM441.0 235.1h0.8v0.8h-0.8zM441.0 237.6h0.8v0.8h-0.8zM447.2 232.2h0.8v0.8h-0.8zM437.4 203.6h0.8v0.8h-0.8zM451.4 221.7h0.8v0.8h-0.8zM432.2 225.7h0.8v0.8h-0.8zM455.0 225.9h0.8v0.8h-0.8zM451.3 234.3h0.8v0.8h-0.8zM445.5 231.9h0.8v0.8h-0.8zM456.8 225.3h0.8v0.8h-0.8zM441.2 226.0h0.8v0.8h-0.8zM439.7 203.4h0.8v0.8h-0.8zM426.2 215.8h0.8v0.8h-0.8zM455.0 230.9h0.8v0.8h-0.8zM448.1 204.0h0.8v0.8h-0.8zM443.8 230.7h0.8v0.8h-0.8zM456.2 229.7h0.8v0.8h-0.8zM453.9 227.6h0.8v0.8h-0.8zM432.3 224.2h0.8v0.8h-0.8zM443.3 236.2h0.8v0.8h-0.8zM451.7 237.4h0.8v0.8h-0.8zM457.8 223.9h0.8v0.8h-0.8zM453.3 234.3h0.8v0.8h-0.8zM459.4 233.9h0.8v0.8h-0.8zM438.8 242.6h0.8v0.8h-0.8zM453.4 228.9h0.8v0.8h-0.8zM437.8 240.3h0.8v0.8h-0.8zM437.8 240.1h0.8v0.8h-0.8zM460.7 230.8h0.8v0.8h-0.8zM439.8 238.7h0.8v0.8h-0.8zM456.7 206.7h0.8v0.8h-0.8zM427.3 217.9h0.8v0.8h-0.8zM434.3 239.6h0.8v0.8h-0.8zM459.4 233.0h0.8v0.8h-0.8zM450.9 222.0h0.8v0.8h-0.8zM429.5 224.0h0.8v0.8h-0.8zM439.7 202.8h0.8v0.8h-0.8zM454.3 237.1h0.8v0.8h-0.8zM451.3 229.5h0.8v0.8h-0.8zM434.7 238.0h0.8v0.8h-0.8zM445.7 207.4h0.8v0.8h-0.8zM438.5 229.4h0.8v0.8h-0.8zM442.9 224.2h0.8v0.8h-0.8zM452.8 211.8h0.8v0.8h-0.8zM456.9 218.0h0.8v0.8h-0.8zM438.9 242.1h0.8v0.8h-0.8zM440.7 239.7h0.8v0.8h-0.8zM432.0 236.0h0.8v0.8h-0.8zM438.4 241.4h0.8v0.8h-0.8zM451.4 222.4h0.8v0.8h-0.8zM426.8 214.3h0.8v0.8h-0.8zM450.6 234.1h0.8v0.8h-0.8zM451.4 236.1h0.8v0.8h-0.8zM448.6 234.4h0.8v0.8h-0.8zM456.5 235.6h0.8v0.8h-0.8zM442.8 235.9h0.8v0.8h-0.8zM437.7 233.8h0.8v0.8h-0.8zM427.4 210.9h0.8v0.8h-0.8zM442.4 230.0h0.8v0.8h-0.8zM427.7 217.8h0.8v0.8h-0.8zM453.3 225.9h0.8v0.8h-0.8zM449.2 232.8h0.8v0.8h-0.8zM432.2 239.4h0.8v0.8h-0.8zM455.3 236.3h0.8v0.8h-0.8zM453.0 217.4h0.8v0.8h-0.8zM456.8 217.4h0.8v0.8h-0.8zM439.1 230.8h0.8v0.8h-0.8zM443.6 214.7h0.8v0.8h-0.8zM445.8 224.1h0.8v0.8h-0.8zM441.3 238.8h0.8v0.8h-0.8zM449.0 217.1h0.8v0.8h-0.8zM455.4 235.9h0.8v0.8h-0.8zM453.1 228.8h0.8v0.8h-0.8zM455.5 225.8h0.8v0.8h-0.8zM446.2 236.6h0.8v0.8h-0.8zM456.8 217.0h0.8v0.8h-0.8zM446.2 223.8h0.8v0.8h-0.8zM438.6 225.6h0.8v0.8h-0.8zM443.0 209.5h0.8v0.8h-0.8zM442.2 224.4h0.8v0.8h-0.8zM461.1 231.5h0.8v0.8h-0.8z" fill="#ffffff" opacity="0.9"/>
<polygon points="452.6,259.5 456.6,259.0 459.1,255.5 460.6,257.5 462.6,254.5 464.6,257.0 466.6,255.5 467.6,258.5 470.6,258.5 475.1,259.5 470.6,261.5 469.1,264.0 470.1,268.0 466.6,265.5 464.1,267.0 461.6,269.5 460.6,266.0 458.1,264.5 455.1,262.5 452.1,261.5" fill="#3d4a8a"/>
<path d="M457.9 262.9h0.9v0.9h-0.9zM456.9 262.5h0.9v0.9h-0.9zM457.0 264.8h0.9v0.9h-0.9zM463.2 253.7h0.9v0.9h-0.9zM461.8 260.1h0.9v0.9h-0.9zM455.1 261.2h0.9v0.9h-0.9zM471.1 261.9h0.9v0.9h-0.9zM457.1 264.9h0.9v0.9h-0.9zM460.9 265.6h0.9v0.9h-0.9zM459.8 260.9h0.9v0.9h-0.9zM461.4 265.8h0.9v0.9h-0.9zM456.2 260.6h0.9v0.9h-0.9zM464.8 260.2h0.9v0.9h-0.9zM459.9 266.6h0.9v0.9h-0.9zM473.2 258.8h0.9v0.9h-0.9zM470.3 265.8h0.9v0.9h-0.9zM468.5 259.1h0.9v0.9h-0.9zM461.0 264.8h0.9v0.9h-0.9zM461.2 269.5h0.9v0.9h-0.9zM467.5 267.0h0.9v0.9h-0.9zM461.6 258.4h0.9v0.9h-0.9zM464.7 267.2h0.9v0.9h-0.9zM462.1 259.8h0.9v0.9h-0.9z" fill="#3b528b"/>
<path d="M465.4 256.7h0.9v0.9h-0.9zM463.1 254.5h0.9v0.9h-0.9zM462.0 254.0h0.9v0.9h-0.9zM460.7 266.3h0.9v0.9h-0.9zM460.8 262.4h0.9v0.9h-0.9zM469.6 267.9h0.9v0.9h-0.9zM463.1 254.2h0.9v0.9h-0.9zM451.4 260.4h0.9v0.9h-0.9zM465.0 255.9h0.9v0.9h-0.9zM472.6 260.8h0.9v0.9h-0.9zM455.3 260.0h0.9v0.9h-0.9zM466.5 254.6h0.9v0.9h-0.9zM467.0 263.1h0.9v0.9h-0.9zM463.5 262.8h0.9v0.9h-0.9zM467.2 264.2h0.9v0.9h-0.9zM463.9 267.6h0.9v0.9h-0.9zM464.9 258.8h0.9v0.9h-0.9zM471.4 259.0h0.9v0.9h-0.9zM451.3 261.4h0.9v0.9h-0.9zM468.6 267.3h0.9v0.9h-0.9zM454.4 258.8h0.9v0.9h-0.9zM473.1 258.5h0.9v0.9h-0.9zM458.8 257.0h0.9v0.9h-0.9zM461.8 269.9h0.9v0.9h-0.9zM457.3 258.9h0.9v0.9h-0.9z" fill="#414487"/>
<path d="M451.1 258.9h0.9v0.9h-0.9zM459.8 266.6h0.9v0.9h-0.9zM470.3 267.9h0.9v0.9h-0.9zM462.0 258.1h0.9v0.9h-0.9zM461.3 258.4h0.9v0.9h-0.9zM462.5 253.6h0.9v0.9h-0.9zM469.7 257.5h0.9v0.9h-0.9zM467.3 256.5h0.9v0.9h-0.9zM466.6 262.1h0.9v0.9h-0.9zM454.9 258.7h0.9v0.9h-0.9zM466.0 256.8h0.9v0.9h-0.9zM470.7 259.8h0.9v0.9h-0.9zM462.5 263.8h0.9v0.9h-0.9zM453.8 262.7h0.9v0.9h-0.9zM461.5 255.5h0.9v0.9h-0.9zM468.2 261.9h0.9v0.9h-0.9zM459.3 256.1h0.9v0.9h-0.9zM457.8 262.2h0.9v0.9h-0.9z" fill="#472d7b"/>
<path d="M463.8 261.7h0.9v0.9h-0.9zM469.8 267.7h0.9v0.9h-0.9zM474.7 260.3h0.9v0.9h-0.9zM459.1 257.1h0.9v0.9h-0.9zM466.6 265.5h0.9v0.9h-0.9zM453.3 258.5h0.9v0.9h-0.9zM468.2 262.6h0.9v0.9h-0.9zM463.7 258.6h0.9v0.9h-0.9zM457.5 254.7h0.9v0.9h-0.9zM455.4 261.9h0.9v0.9h-0.9zM466.8 257.2h0.9v0.9h-0.9zM459.2 255.4h0.9v0.9h-0.9zM467.6 262.8h0.9v0.9h-0.9zM457.6 260.6h0.9v0.9h-0.9zM461.7 255.4h0.9v0.9h-0.9zM469.1 259.9h0.9v0.9h-0.9zM452.5 259.8h0.9v0.9h-0.9zM467.3 255.6h0.9v0.9h-0.9zM469.4 266.0h0.9v0.9h-0.9zM461.6 258.0h0.9v0.9h-0.9zM463.5 257.9h0.9v0.9h-0.9zM462.4 256.8h0.9v0.9h-0.9zM466.0 265.0h0.9v0.9h-0.9zM467.5 257.8h0.9v0.9h-0.9zM466.0 255.9h0.9v0.9h-0.9zM469.8 259.3h0.9v0.9h-0.9z" fill="#31688e"/>
<path d="M463.1 265.5h0.9v0.9h-0.9zM461.8 258.6h0.9v0.9h-0.9zM463.2 266.6h0.9v0.9h-0.9zM466.3 259.1h0.9v0.9h-0.9zM462.5 262.2h0.9v0.9h-0.9zM459.2 254.4h0.9v0.9h-0.9zM460.8 254.4h0.9v0.9h-0.9zM467.1 255.2h0.9v0.9h-0.9zM460.3 263.6h0.9v0.9h-0.9zM460.7 256.4h0.9v0.9h-0.9zM454.4 259.1h0.9v0.9h-0.9zM458.7 257.7h0.9v0.9h-0.9zM459.3 266.3h0.9v0.9h-0.9zM459.4 261.0h0.9v0.9h-0.9zM466.7 259.4h0.9v0.9h-0.9zM468.1 263.3h0.9v0.9h-0.9zM467.6 262.2h0.9v0.9h-0.9zM454.0 262.5h0.9v0.9h-0.9zM458.0 262.3h0.9v0.9h-0.9zM455.9 263.5h0.9v0.9h-0.9zM467.8 260.9h0.9v0.9h-0.9zM469.8 268.1h0.9v0.9h-0.9z" fill="#482576"/>
<path d="M461.7 260.7h0.8v0.8h-0.8zM463.8 261.4h0.8v0.8h-0.8zM455.8 261.1h0.8v0.8h-0.8zM460.1 260.1h0.8v0.8h-0.8zM466.5 258.0h0.8v0.8h-0.8zM460.5 259.8h0.8v0.8h-0.8zM468.7 259.2h0.8v0.8h-0.8zM458.8 256.2h0.8v0.8h-0.8zM464.8 262.1h0.8v0.8h-0.8zM457.7 257.1h0.8v0.8h-0.8zM464.2 262.4h0.8v0.8h-0.8zM464.4 264.9h0.8v0.8h-0.8zM467.1 259.1h0.8v0.8h-0.8zM466.3 255.5h0.8v0.8h-0.8z" fill="#ffffff" opacity="0.8"/>
<ellipse cx="492.2" cy="199.2" rx="3.9" ry="3.0" transform="rotate(-20 492.2 199.2)" fill="#3b5a96" stroke="#233d6b" stroke-width="0.8"/>
<path d="M396.0 232.6h1.2v1.2h-1.2zM426.0 233.1h1.2v1.2h-1.2zM414.5 247.4h1.2v1.2h-1.2zM474.0 224.9h1.2v1.2h-1.2zM474.5 233.6h1.2v1.2h-1.2zM471.5 244.4h1.2v1.2h-1.2zM452.0 274.9h1.2v1.2h-1.2zM458.2 274.4h1.2v1.2h-1.2zM483.8 262.4h1.2v1.2h-1.2z" fill="#4a3a7a" opacity="0.65"/>
<linearGradient id="vir1" x1="0" y1="0" x2="0" y2="1"><stop offset="0" stop-color="#f2f0a0"/><stop offset="0.06" stop-color="#d2e040"/><stop offset="0.25" stop-color="#7cc84e"/><stop offset="0.45" stop-color="#2aa28a"/><stop offset="0.65" stop-color="#31699a"/><stop offset="0.82" stop-color="#3b3f85"/><stop offset="1" stop-color="#2a1650"/></linearGradient>
<rect x="489.4" y="227.2" width="3.7" height="29.4" fill="url(#vir1)"/>
<text x="489.1" y="225" font-size="6.9" fill="#333" stroke="#333" stroke-width="0.14" textLength="22.8" lengthAdjust="spacingAndGlyphs">Density</text>
<text x="495" y="232.5" font-size="6.1" fill="#333" stroke="#333" stroke-width="0.14" textLength="12.5" lengthAdjust="spacingAndGlyphs">0.06</text>
<text x="495" y="240.9" font-size="6.1" fill="#333" stroke="#333" stroke-width="0.14" textLength="12.5" lengthAdjust="spacingAndGlyphs">0.04</text>
<text x="495" y="249.4" font-size="6.1" fill="#333" stroke="#333" stroke-width="0.14" textLength="12.5" lengthAdjust="spacingAndGlyphs">0.02</text>
<text x="495" y="258.1" font-size="6.1" fill="#333" stroke="#333" stroke-width="0.14" textLength="12.5" lengthAdjust="spacingAndGlyphs">0.00</text>
<text x="54.5" y="336.4" font-size="12.6" fill="#111" font-weight="bold">E</text>
<text x="74.3" y="416.7" font-size="10" fill="#3a3a3a" stroke="#3a3a3a" stroke-width="0.14" text-anchor="middle" textLength="36" lengthAdjust="spacingAndGlyphs" transform="rotate(-90 74.3 416.7)">Expression</text>
<line x1="90" y1="347" x2="90" y2="486" stroke="#262626" stroke-width="1"/>
<line x1="89.5" y1="485.5" x2="160.5" y2="485.5" stroke="#262626" stroke-width="1"/>
<line x1="86.8" y1="479.5" x2="90" y2="479.5" stroke="#262626" stroke-width="1"/>
<text x="83.4" y="481.9" font-size="6.8" fill="#3a3a3a" stroke="#3a3a3a" stroke-width="0.14" text-anchor="end">0</text>
<line x1="86.8" y1="447" x2="90" y2="447" stroke="#262626" stroke-width="1"/>
<text x="83.4" y="449.4" font-size="6.8" fill="#3a3a3a" stroke="#3a3a3a" stroke-width="0.14" text-anchor="end">1</text>
<line x1="86.8" y1="414.5" x2="90" y2="414.5" stroke="#262626" stroke-width="1"/>
<text x="83.4" y="416.9" font-size="6.8" fill="#3a3a3a" stroke="#3a3a3a" stroke-width="0.14" text-anchor="end">2</text>
<line x1="86.8" y1="382" x2="90" y2="382" stroke="#262626" stroke-width="1"/>
<text x="83.4" y="384.4" font-size="6.8" fill="#3a3a3a" stroke="#3a3a3a" stroke-width="0.14" text-anchor="end">3</text>
<line x1="86.8" y1="349.5" x2="90" y2="349.5" stroke="#262626" stroke-width="1"/>
<text x="83.4" y="351.9" font-size="6.8" fill="#3a3a3a" stroke="#3a3a3a" stroke-width="0.14" text-anchor="end">4</text>
<text x="126.2" y="340.9" font-size="8.9" fill="#222" text-anchor="middle" font-style="italic" textLength="26.5" lengthAdjust="spacingAndGlyphs">HOPX</text>
<line x1="109.3" y1="485.5" x2="109.3" y2="488.7" stroke="#262626" stroke-width="1"/>
<text x="109.3" y="498.8" font-size="6.8" fill="#3a3a3a" stroke="#3a3a3a" stroke-width="0.14" text-anchor="middle">Low</text>
<line x1="142.3" y1="485.5" x2="142.3" y2="488.7" stroke="#262626" stroke-width="1"/>
<text x="142.3" y="498.8" font-size="6.8" fill="#3a3a3a" stroke="#3a3a3a" stroke-width="0.14" text-anchor="middle">High</text>
<text x="126.45" y="511.9" font-size="9.8" fill="#3a3a3a" stroke="#3a3a3a" stroke-width="0.12" text-anchor="middle" font-style="italic" textLength="31.7" lengthAdjust="spacingAndGlyphs">GABARAP</text>
<polygon points="92.8,479.5 96.2,478.4 99.2,477.3 101.8,476.2 103.9,475.1 105.7,474.0 107.1,472.9 108.1,471.8 108.8,470.7 109.0,469.6 109.0,468.4 109.0,460.0 108.3,447.0 106.8,437.2 105.3,427.5 104.8,419.4 105.4,411.2 107.1,399.9 108.3,388.5 108.8,375.5 109.0,359.2 109.6,359.2 109.8,375.5 110.3,388.5 111.5,399.9 113.2,411.2 113.8,419.4 113.3,427.5 111.8,437.2 110.3,447.0 109.6,460.0 109.6,468.4 109.6,469.6 109.8,470.7 110.5,471.8 111.5,472.9 112.9,474.0 114.7,475.1 116.8,476.2 119.4,477.3 122.4,478.4 125.8,479.5" fill="#a2d39a" stroke="#52804c" stroke-width="0.55" stroke-linejoin="round"/>
<line x1="109.3" y1="478.85" x2="109.3" y2="468.45" stroke="#f6f6f6" stroke-width="0.7"/>
<linearGradient id="jg1" x1="0" y1="0" x2="1" y2="0"><stop offset="0" stop-color="#1e1e1e" stop-opacity="0.15"/><stop offset="0.32" stop-color="#1e1e1e" stop-opacity="0.8"/><stop offset="0.68" stop-color="#1e1e1e" stop-opacity="0.8"/><stop offset="1" stop-color="#1e1e1e" stop-opacity="0.15"/></linearGradient>
<polygon points="109.0,451.9 108.1,442.1 108.1,385.2 109.0,372.2 109.6,372.2 110.5,385.2 110.5,442.1 109.6,451.9" fill="url(#jg1)"/>
<path d="M110.5 404.1h0.6v0.6h-0.6zM107.8 451.4h0.6v0.6h-0.6zM108.3 449.3h0.6v0.6h-0.6zM109.1 451.9h0.6v0.6h-0.6zM109.8 408.6h0.6v0.6h-0.6zM110.2 393.0h0.6v0.6h-0.6zM108.8 455.4h0.6v0.6h-0.6zM108.4 454.2h0.6v0.6h-0.6zM110.3 397.3h0.6v0.6h-0.6zM109.8 406.8h0.6v0.6h-0.6zM107.9 446.4h0.6v0.6h-0.6zM107.8 396.1h0.6v0.6h-0.6zM108.8 449.8h0.6v0.6h-0.6zM109.1 450.0h0.6v0.6h-0.6zM109.9 372.1h0.6v0.6h-0.6zM110.5 433.8h0.6v0.6h-0.6zM107.6 428.5h0.6v0.6h-0.6zM108.7 457.3h0.6v0.6h-0.6zM109.2 459.1h0.6v0.6h-0.6zM108.8 451.4h0.6v0.6h-0.6zM108.1 433.5h0.6v0.6h-0.6zM107.5 442.8h0.6v0.6h-0.6zM110.4 446.9h0.6v0.6h-0.6zM107.7 408.3h0.6v0.6h-0.6zM108.3 460.9h0.6v0.6h-0.6zM110.5 441.9h0.6v0.6h-0.6zM110.0 410.8h0.6v0.6h-0.6zM107.6 448.9h0.6v0.6h-0.6zM107.9 457.6h0.6v0.6h-0.6zM108.6 452.8h0.6v0.6h-0.6zM107.6 398.3h0.6v0.6h-0.6zM110.1 408.8h0.6v0.6h-0.6zM109.7 386.2h0.6v0.6h-0.6zM110.1 374.4h0.6v0.6h-0.6zM109.9 417.4h0.6v0.6h-0.6zM110.5 418.9h0.6v0.6h-0.6zM109.9 402.0h0.6v0.6h-0.6zM109.8 373.1h0.6v0.6h-0.6zM110.2 372.7h0.6v0.6h-0.6zM110.1 385.6h0.6v0.6h-0.6zM109.1 455.5h0.6v0.6h-0.6zM109.3 451.1h0.6v0.6h-0.6zM109.3 450.5h0.6v0.6h-0.6zM109.5 459.5h0.6v0.6h-0.6zM108.3 460.9h0.6v0.6h-0.6zM107.8 415.7h0.6v0.6h-0.6zM109.8 440.5h0.6v0.6h-0.6zM110.4 429.6h0.6v0.6h-0.6zM110.2 385.0h0.6v0.6h-0.6zM110.3 386.5h0.6v0.6h-0.6zM107.9 374.7h0.6v0.6h-0.6zM108.2 404.6h0.6v0.6h-0.6zM110.2 388.7h0.6v0.6h-0.6zM107.7 431.5h0.6v0.6h-0.6zM109.9 396.1h0.6v0.6h-0.6zM110.3 400.1h0.6v0.6h-0.6zM109.7 398.7h0.6v0.6h-0.6zM110.1 401.7h0.6v0.6h-0.6zM107.8 429.7h0.6v0.6h-0.6zM107.9 388.9h0.6v0.6h-0.6zM109.8 410.4h0.6v0.6h-0.6zM107.9 391.7h0.6v0.6h-0.6zM108.0 377.3h0.6v0.6h-0.6zM107.8 425.2h0.6v0.6h-0.6zM110.4 396.7h0.6v0.6h-0.6zM107.6 453.6h0.6v0.6h-0.6zM108.1 417.1h0.6v0.6h-0.6zM110.5 429.5h0.6v0.6h-0.6zM110.1 375.3h0.6v0.6h-0.6zM108.0 406.8h0.6v0.6h-0.6zM110.2 436.3h0.6v0.6h-0.6zM109.3 453.0h0.6v0.6h-0.6zM108.3 437.9h0.6v0.6h-0.6zM110.5 391.3h0.6v0.6h-0.6zM109.9 374.5h0.6v0.6h-0.6zM110.0 443.8h0.6v0.6h-0.6zM109.9 450.7h0.6v0.6h-0.6zM108.1 471.6h0.6v0.6h-0.6zM109.8 453.6h0.6v0.6h-0.6zM108.1 393.1h0.6v0.6h-0.6zM108.4 450.9h0.6v0.6h-0.6zM108.2 440.7h0.6v0.6h-0.6zM109.9 387.2h0.6v0.6h-0.6zM110.4 391.2h0.6v0.6h-0.6zM107.6 382.9h0.6v0.6h-0.6zM110.0 388.6h0.6v0.6h-0.6zM108.0 405.7h0.6v0.6h-0.6zM110.0 379.9h0.6v0.6h-0.6zM107.9 388.8h0.6v0.6h-0.6zM108.1 413.2h0.6v0.6h-0.6zM108.0 377.1h0.6v0.6h-0.6zM110.2 393.9h0.6v0.6h-0.6zM110.1 457.2h0.6v0.6h-0.6zM108.0 404.4h0.6v0.6h-0.6zM109.0 453.4h0.6v0.6h-0.6zM108.2 407.8h0.6v0.6h-0.6zM109.9 399.2h0.6v0.6h-0.6zM109.6 454.6h0.6v0.6h-0.6zM107.7 447.5h0.6v0.6h-0.6zM109.9 414.3h0.6v0.6h-0.6zM110.4 391.6h0.6v0.6h-0.6zM107.8 398.8h0.6v0.6h-0.6zM110.2 448.4h0.6v0.6h-0.6zM107.7 443.4h0.6v0.6h-0.6zM107.8 450.3h0.6v0.6h-0.6zM110.4 430.9h0.6v0.6h-0.6zM109.7 377.5h0.6v0.6h-0.6zM107.9 392.5h0.6v0.6h-0.6zM109.1 456.2h0.6v0.6h-0.6zM109.2 457.2h0.6v0.6h-0.6zM108.0 443.1h0.6v0.6h-0.6zM108.1 375.0h0.6v0.6h-0.6zM109.6 450.7h0.6v0.6h-0.6zM108.1 392.1h0.6v0.6h-0.6zM107.7 451.0h0.6v0.6h-0.6zM108.6 452.7h0.6v0.6h-0.6zM109.6 448.7h0.6v0.6h-0.6z" fill="#1e1e1e" opacity="0.55"/>
<path d="M108.9 372.7h0.6v0.6h-0.6zM108.5 360.1h0.6v0.6h-0.6zM108.2 369.6h0.6v0.6h-0.6zM109.8 368.7h0.6v0.6h-0.6zM109.4 372.2h0.6v0.6h-0.6zM109.1 366.2h0.6v0.6h-0.6zM109.9 375.0h0.6v0.6h-0.6zM108.7 369.7h0.6v0.6h-0.6zM108.9 365.3h0.6v0.6h-0.6zM108.7 361.5h0.6v0.6h-0.6zM109.6 366.5h0.6v0.6h-0.6zM109.3 372.6h0.6v0.6h-0.6zM109.1 368.2h0.6v0.6h-0.6zM109.3 361.1h0.6v0.6h-0.6zM109.1 365.2h0.6v0.6h-0.6zM108.6 363.8h0.6v0.6h-0.6zM109.2 367.5h0.6v0.6h-0.6zM109.2 362.2h0.6v0.6h-0.6zM109.5 370.5h0.6v0.6h-0.6zM108.6 368.9h0.6v0.6h-0.6zM109.1 367.4h0.6v0.6h-0.6zM108.9 365.9h0.6v0.6h-0.6zM108.6 367.9h0.6v0.6h-0.6zM109.1 365.2h0.6v0.6h-0.6zM109.1 363.3h0.6v0.6h-0.6zM109.1 369.6h0.6v0.6h-0.6zM109.2 359.8h0.6v0.6h-0.6zM108.9 373.2h0.6v0.6h-0.6zM109.1 367.1h0.6v0.6h-0.6zM108.6 363.7h0.6v0.6h-0.6zM109.4 362.2h0.6v0.6h-0.6zM109.6 362.2h0.6v0.6h-0.6zM108.7 362.2h0.6v0.6h-0.6zM109.5 371.4h0.6v0.6h-0.6zM107.9 359.0h0.6v0.6h-0.6zM108.1 367.5h0.6v0.6h-0.6zM108.9 362.0h0.6v0.6h-0.6zM109.2 366.8h0.6v0.6h-0.6zM109.0 360.5h0.6v0.6h-0.6zM108.7 372.8h0.6v0.6h-0.6zM109.3 359.2h0.6v0.6h-0.6zM108.7 365.7h0.6v0.6h-0.6zM108.6 374.3h0.6v0.6h-0.6z" fill="#555" opacity="0.55"/>
<rect x="107.1" y="394.02" width="4.4" height="44.85" fill="#b8dfb0" fill-opacity="0.6" stroke="#eef6ec" stroke-width="0.5"/>
<line x1="107.1" y1="421" x2="111.5" y2="421" stroke="#f4f8f2" stroke-width="0.8"/>
<polygon points="137.0,479.5 138.1,478.3 139.1,477.0 139.9,475.8 140.6,474.6 141.1,473.3 141.6,472.1 141.9,470.9 142.0,469.6 142.0,468.4 142.0,467.1 142.0,453.5 141.4,440.5 141.0,424.2 141.1,411.2 141.5,388.5 142.0,365.8 142.7,365.8 143.1,388.5 143.5,411.2 143.6,424.2 143.2,440.5 142.6,453.5 142.6,467.1 142.6,468.4 142.6,469.6 142.7,470.9 143.0,472.1 143.5,473.3 144.0,474.6 144.7,475.8 145.5,477.0 146.5,478.3 147.6,479.5" fill="#c9a3da" stroke="#866e92" stroke-width="0.55" stroke-linejoin="round"/>
<line x1="142.3" y1="478.85" x2="142.3" y2="467.15" stroke="#f6f6f6" stroke-width="0.7"/>
<linearGradient id="jg2" x1="0" y1="0" x2="1" y2="0"><stop offset="0" stop-color="#22182a" stop-opacity="0.15"/><stop offset="0.32" stop-color="#22182a" stop-opacity="0.8"/><stop offset="0.68" stop-color="#22182a" stop-opacity="0.8"/><stop offset="1" stop-color="#22182a" stop-opacity="0.15"/></linearGradient>
<polygon points="142.0,468.1 141.1,458.4 141.1,388.5 142.0,375.5 142.6,375.5 143.6,388.5 143.6,458.4 142.6,468.1" fill="url(#jg2)"/>
<path d="M141.5 465.7h0.6v0.6h-0.6zM143.3 400.7h0.6v0.6h-0.6zM140.7 471.2h0.6v0.6h-0.6zM143.4 435.8h0.6v0.6h-0.6zM140.6 401.0h0.6v0.6h-0.6zM140.9 442.3h0.6v0.6h-0.6zM140.7 395.9h0.6v0.6h-0.6zM140.7 451.7h0.6v0.6h-0.6zM142.8 450.9h0.6v0.6h-0.6zM141.2 391.6h0.6v0.6h-0.6zM143.0 400.0h0.6v0.6h-0.6zM143.4 408.5h0.6v0.6h-0.6zM143.5 435.4h0.6v0.6h-0.6zM141.1 400.0h0.6v0.6h-0.6zM142.0 470.6h0.6v0.6h-0.6zM143.0 439.5h0.6v0.6h-0.6zM141.5 474.9h0.6v0.6h-0.6zM142.2 467.6h0.6v0.6h-0.6zM140.9 446.0h0.6v0.6h-0.6zM143.0 453.6h0.6v0.6h-0.6zM142.1 473.2h0.6v0.6h-0.6zM143.5 434.6h0.6v0.6h-0.6zM140.8 465.6h0.6v0.6h-0.6zM143.4 463.4h0.6v0.6h-0.6zM140.7 449.2h0.6v0.6h-0.6zM142.8 384.6h0.6v0.6h-0.6zM140.6 428.4h0.6v0.6h-0.6zM143.5 407.4h0.6v0.6h-0.6zM143.3 405.6h0.6v0.6h-0.6zM143.0 384.8h0.6v0.6h-0.6zM140.7 456.7h0.6v0.6h-0.6zM143.4 427.7h0.6v0.6h-0.6zM142.8 470.6h0.6v0.6h-0.6zM143.3 475.8h0.6v0.6h-0.6zM141.1 465.8h0.6v0.6h-0.6zM140.5 383.1h0.6v0.6h-0.6zM142.9 402.0h0.6v0.6h-0.6zM143.2 451.7h0.6v0.6h-0.6zM140.6 442.8h0.6v0.6h-0.6zM143.0 423.3h0.6v0.6h-0.6zM141.2 405.1h0.6v0.6h-0.6zM140.8 426.6h0.6v0.6h-0.6zM143.3 386.2h0.6v0.6h-0.6zM142.7 471.9h0.6v0.6h-0.6zM141.0 436.0h0.6v0.6h-0.6zM142.1 486.1h0.6v0.6h-0.6zM143.4 451.9h0.6v0.6h-0.6zM140.6 398.9h0.6v0.6h-0.6zM140.9 420.8h0.6v0.6h-0.6zM141.1 409.8h0.6v0.6h-0.6zM141.4 470.0h0.6v0.6h-0.6zM143.2 441.1h0.6v0.6h-0.6zM141.6 469.5h0.6v0.6h-0.6zM143.4 465.7h0.6v0.6h-0.6zM140.7 445.6h0.6v0.6h-0.6zM141.2 469.2h0.6v0.6h-0.6zM141.3 467.8h0.6v0.6h-0.6zM140.9 381.2h0.6v0.6h-0.6zM140.6 404.9h0.6v0.6h-0.6zM142.4 469.3h0.6v0.6h-0.6zM140.6 401.9h0.6v0.6h-0.6zM141.2 462.2h0.6v0.6h-0.6zM140.8 454.6h0.6v0.6h-0.6zM143.2 403.0h0.6v0.6h-0.6zM140.5 466.8h0.6v0.6h-0.6zM140.5 445.8h0.6v0.6h-0.6zM141.2 399.1h0.6v0.6h-0.6zM142.2 467.5h0.6v0.6h-0.6zM140.5 467.8h0.6v0.6h-0.6zM141.0 461.0h0.6v0.6h-0.6zM140.9 432.0h0.6v0.6h-0.6zM142.5 465.6h0.6v0.6h-0.6zM140.9 426.8h0.6v0.6h-0.6zM140.8 444.3h0.6v0.6h-0.6zM142.9 416.3h0.6v0.6h-0.6zM142.8 430.8h0.6v0.6h-0.6zM143.1 444.5h0.6v0.6h-0.6zM143.2 375.4h0.6v0.6h-0.6zM141.0 382.2h0.6v0.6h-0.6zM143.1 439.3h0.6v0.6h-0.6zM141.8 480.1h0.6v0.6h-0.6zM143.0 405.1h0.6v0.6h-0.6zM143.5 410.1h0.6v0.6h-0.6zM140.7 396.4h0.6v0.6h-0.6zM140.7 420.3h0.6v0.6h-0.6zM140.8 405.0h0.6v0.6h-0.6zM140.9 431.6h0.6v0.6h-0.6zM140.6 387.7h0.6v0.6h-0.6zM143.0 441.0h0.6v0.6h-0.6zM141.1 408.4h0.6v0.6h-0.6zM143.4 403.9h0.6v0.6h-0.6zM143.2 410.4h0.6v0.6h-0.6zM142.0 469.0h0.6v0.6h-0.6zM142.9 407.4h0.6v0.6h-0.6zM143.5 395.1h0.6v0.6h-0.6zM140.9 378.5h0.6v0.6h-0.6zM141.5 482.6h0.6v0.6h-0.6zM140.8 390.8h0.6v0.6h-0.6zM140.5 449.5h0.6v0.6h-0.6zM143.5 412.6h0.6v0.6h-0.6zM140.8 413.0h0.6v0.6h-0.6zM143.2 407.2h0.6v0.6h-0.6zM143.5 382.2h0.6v0.6h-0.6zM141.3 470.2h0.6v0.6h-0.6zM142.6 470.1h0.6v0.6h-0.6zM142.8 391.4h0.6v0.6h-0.6zM141.3 471.0h0.6v0.6h-0.6zM142.4 468.0h0.6v0.6h-0.6zM143.3 414.2h0.6v0.6h-0.6zM142.8 386.9h0.6v0.6h-0.6zM142.8 447.9h0.6v0.6h-0.6zM141.8 486.5h0.6v0.6h-0.6zM143.1 389.6h0.6v0.6h-0.6z" fill="#22182a" opacity="0.55"/>
<path d="M141.7 371.2h0.6v0.6h-0.6zM142.1 377.7h0.6v0.6h-0.6zM142.4 374.9h0.6v0.6h-0.6zM141.9 366.1h0.6v0.6h-0.6zM141.6 372.7h0.6v0.6h-0.6zM143.2 374.8h0.6v0.6h-0.6zM142.2 368.4h0.6v0.6h-0.6zM142.3 365.3h0.6v0.6h-0.6zM141.9 378.0h0.6v0.6h-0.6zM143.1 366.7h0.6v0.6h-0.6zM142.3 371.3h0.6v0.6h-0.6zM142.5 368.1h0.6v0.6h-0.6zM141.1 366.3h0.6v0.6h-0.6zM142.4 370.7h0.6v0.6h-0.6zM143.0 375.1h0.6v0.6h-0.6zM143.0 377.9h0.6v0.6h-0.6zM141.8 370.6h0.6v0.6h-0.6zM142.0 373.8h0.6v0.6h-0.6zM142.0 377.3h0.6v0.6h-0.6zM141.8 369.7h0.6v0.6h-0.6zM140.7 375.5h0.6v0.6h-0.6zM143.2 366.7h0.6v0.6h-0.6zM142.9 376.6h0.6v0.6h-0.6zM141.3 366.1h0.6v0.6h-0.6zM141.8 368.6h0.6v0.6h-0.6zM142.4 364.0h0.6v0.6h-0.6zM142.3 364.5h0.6v0.6h-0.6zM142.4 371.8h0.6v0.6h-0.6zM141.8 367.2h0.6v0.6h-0.6zM142.2 375.5h0.6v0.6h-0.6zM141.9 371.9h0.6v0.6h-0.6zM142.1 374.0h0.6v0.6h-0.6zM141.2 373.0h0.6v0.6h-0.6zM143.2 372.6h0.6v0.6h-0.6zM143.3 375.5h0.6v0.6h-0.6zM142.0 374.7h0.6v0.6h-0.6zM141.1 368.1h0.6v0.6h-0.6zM141.6 372.2h0.6v0.6h-0.6zM141.2 378.1h0.6v0.6h-0.6zM142.0 365.5h0.6v0.6h-0.6zM141.8 372.2h0.6v0.6h-0.6zM142.4 377.0h0.6v0.6h-0.6zM142.5 366.1h0.6v0.6h-0.6zM141.8 367.5h0.6v0.6h-0.6zM141.1 368.5h0.6v0.6h-0.6zM142.0 378.0h0.6v0.6h-0.6zM141.3 372.4h0.6v0.6h-0.6z" fill="#555" opacity="0.55"/>
<rect x="140.7" y="411.9" width="3.2" height="19.5" fill="#a070b8" fill-opacity="0.6" stroke="#eef6ec" stroke-width="0.5"/>
<line x1="140.7" y1="430.75" x2="143.9" y2="430.75" stroke="#f4f8f2" stroke-width="0.8"/>
<line x1="191.75" y1="347" x2="191.75" y2="486" stroke="#262626" stroke-width="1"/>
<line x1="191.25" y1="485.5" x2="262.5" y2="485.5" stroke="#262626" stroke-width="1"/>
<line x1="188.55" y1="479.25" x2="191.75" y2="479.25" stroke="#262626" stroke-width="1"/>
<text x="184.3" y="481.65" font-size="6.8" fill="#3a3a3a" stroke="#3a3a3a" stroke-width="0.14" text-anchor="end">0</text>
<line x1="188.55" y1="442.25" x2="191.75" y2="442.25" stroke="#262626" stroke-width="1"/>
<text x="184.3" y="444.65" font-size="6.8" fill="#3a3a3a" stroke="#3a3a3a" stroke-width="0.14" text-anchor="end">1</text>
<line x1="188.55" y1="405.25" x2="191.75" y2="405.25" stroke="#262626" stroke-width="1"/>
<text x="184.3" y="407.65" font-size="6.8" fill="#3a3a3a" stroke="#3a3a3a" stroke-width="0.14" text-anchor="end">2</text>
<line x1="188.55" y1="368.25" x2="191.75" y2="368.25" stroke="#262626" stroke-width="1"/>
<text x="184.3" y="370.65" font-size="6.8" fill="#3a3a3a" stroke="#3a3a3a" stroke-width="0.14" text-anchor="end">3</text>
<text x="227.6" y="340.9" font-size="8.9" fill="#222" text-anchor="middle" font-style="italic" textLength="23.7" lengthAdjust="spacingAndGlyphs">CD27</text>
<line x1="211.3" y1="485.5" x2="211.3" y2="488.7" stroke="#262626" stroke-width="1"/>
<text x="211.3" y="498.8" font-size="6.8" fill="#3a3a3a" stroke="#3a3a3a" stroke-width="0.14" text-anchor="middle">Low</text>
<line x1="243.8" y1="485.5" x2="243.8" y2="488.7" stroke="#262626" stroke-width="1"/>
<text x="243.8" y="498.8" font-size="6.8" fill="#3a3a3a" stroke="#3a3a3a" stroke-width="0.14" text-anchor="middle">High</text>
<text x="228.32" y="511.9" font-size="9.8" fill="#3a3a3a" stroke="#3a3a3a" stroke-width="0.12" text-anchor="middle" font-style="italic" textLength="31.7" lengthAdjust="spacingAndGlyphs">GABARAP</text>
<polygon points="195.7,479.2 198.9,478.3 201.8,477.4 204.2,476.5 206.2,475.6 207.9,474.6 209.2,473.7 210.2,472.8 210.8,471.9 211.0,470.9 211.0,470.0 211.0,457.1 211.0,353.4 211.7,353.4 211.6,457.1 211.6,470.0 211.6,470.9 211.8,471.9 212.4,472.8 213.4,473.7 214.7,474.6 216.4,475.6 218.4,476.5 220.8,477.4 223.7,478.3 226.9,479.2" fill="#a2d39a" stroke="#52804c" stroke-width="0.55" stroke-linejoin="round"/>
<line x1="211.3" y1="478.51" x2="211.3" y2="470" stroke="#f6f6f6" stroke-width="0.7"/>
<linearGradient id="jg3" x1="0" y1="0" x2="1" y2="0"><stop offset="0" stop-color="#1e1e1e" stop-opacity="0.15"/><stop offset="0.32" stop-color="#1e1e1e" stop-opacity="0.8"/><stop offset="0.68" stop-color="#1e1e1e" stop-opacity="0.8"/><stop offset="1" stop-color="#1e1e1e" stop-opacity="0.15"/></linearGradient>
<polygon points="211.0,447.8 209.0,436.7 209.0,383.1 211.0,368.2 211.6,368.2 213.6,383.1 213.6,436.7 211.6,447.8" fill="url(#jg3)"/>
<path d="M208.4 426.7h0.6v0.6h-0.6zM212.6 396.9h0.6v0.6h-0.6zM213.2 423.8h0.6v0.6h-0.6zM213.3 378.2h0.6v0.6h-0.6zM208.6 396.9h0.6v0.6h-0.6zM208.4 380.8h0.6v0.6h-0.6zM212.0 451.7h0.6v0.6h-0.6zM208.4 398.4h0.6v0.6h-0.6zM208.6 426.1h0.6v0.6h-0.6zM209.5 423.8h0.6v0.6h-0.6zM213.6 419.7h0.6v0.6h-0.6zM213.4 404.0h0.6v0.6h-0.6zM210.9 464.1h0.6v0.6h-0.6zM212.6 451.5h0.6v0.6h-0.6zM212.6 384.2h0.6v0.6h-0.6zM210.7 452.8h0.6v0.6h-0.6zM212.4 385.0h0.6v0.6h-0.6zM212.6 410.2h0.6v0.6h-0.6zM213.2 443.4h0.6v0.6h-0.6zM209.5 397.2h0.6v0.6h-0.6zM209.2 403.7h0.6v0.6h-0.6zM212.8 454.4h0.6v0.6h-0.6zM211.5 446.7h0.6v0.6h-0.6zM209.3 381.7h0.6v0.6h-0.6zM208.7 376.8h0.6v0.6h-0.6zM208.4 440.2h0.6v0.6h-0.6zM213.4 405.7h0.6v0.6h-0.6zM210.4 447.9h0.6v0.6h-0.6zM211.8 449.8h0.6v0.6h-0.6zM213.5 406.7h0.6v0.6h-0.6zM208.5 430.6h0.6v0.6h-0.6zM211.7 449.7h0.6v0.6h-0.6zM212.0 447.4h0.6v0.6h-0.6zM211.7 451.0h0.6v0.6h-0.6zM209.0 412.6h0.6v0.6h-0.6zM208.4 392.9h0.6v0.6h-0.6zM213.6 426.9h0.6v0.6h-0.6zM212.3 451.5h0.6v0.6h-0.6zM212.4 393.7h0.6v0.6h-0.6zM213.2 443.8h0.6v0.6h-0.6zM209.4 443.3h0.6v0.6h-0.6zM208.4 440.0h0.6v0.6h-0.6zM211.6 449.4h0.6v0.6h-0.6zM213.7 406.7h0.6v0.6h-0.6zM213.7 437.7h0.6v0.6h-0.6zM213.3 428.0h0.6v0.6h-0.6zM209.3 369.5h0.6v0.6h-0.6zM208.3 424.4h0.6v0.6h-0.6zM213.6 423.8h0.6v0.6h-0.6zM209.4 402.0h0.6v0.6h-0.6zM212.9 396.0h0.6v0.6h-0.6zM209.6 392.9h0.6v0.6h-0.6zM208.4 407.8h0.6v0.6h-0.6zM212.4 420.3h0.6v0.6h-0.6zM213.5 387.2h0.6v0.6h-0.6zM208.7 448.6h0.6v0.6h-0.6zM208.3 404.4h0.6v0.6h-0.6zM209.0 393.4h0.6v0.6h-0.6zM213.4 408.8h0.6v0.6h-0.6zM213.0 427.5h0.6v0.6h-0.6zM213.2 395.3h0.6v0.6h-0.6zM208.7 422.7h0.6v0.6h-0.6zM208.2 387.0h0.6v0.6h-0.6zM212.4 419.7h0.6v0.6h-0.6zM208.3 401.0h0.6v0.6h-0.6zM208.9 414.1h0.6v0.6h-0.6zM209.6 392.3h0.6v0.6h-0.6zM208.9 425.4h0.6v0.6h-0.6zM212.8 415.8h0.6v0.6h-0.6zM211.1 450.4h0.6v0.6h-0.6zM212.6 439.7h0.6v0.6h-0.6zM213.3 391.8h0.6v0.6h-0.6zM209.4 380.0h0.6v0.6h-0.6zM209.4 400.9h0.6v0.6h-0.6zM209.2 400.2h0.6v0.6h-0.6zM213.5 424.8h0.6v0.6h-0.6zM208.3 386.9h0.6v0.6h-0.6zM209.4 430.7h0.6v0.6h-0.6zM213.1 370.9h0.6v0.6h-0.6zM210.0 447.0h0.6v0.6h-0.6zM213.5 435.0h0.6v0.6h-0.6zM213.7 417.5h0.6v0.6h-0.6zM210.2 444.8h0.6v0.6h-0.6zM209.0 374.5h0.6v0.6h-0.6zM212.9 450.3h0.6v0.6h-0.6zM209.2 390.3h0.6v0.6h-0.6zM213.0 370.8h0.6v0.6h-0.6zM209.1 388.8h0.6v0.6h-0.6zM209.4 403.3h0.6v0.6h-0.6zM208.2 439.8h0.6v0.6h-0.6zM213.7 390.4h0.6v0.6h-0.6zM209.0 390.6h0.6v0.6h-0.6zM209.1 434.1h0.6v0.6h-0.6zM209.2 369.4h0.6v0.6h-0.6zM211.2 448.2h0.6v0.6h-0.6zM209.0 372.9h0.6v0.6h-0.6zM211.6 445.2h0.6v0.6h-0.6zM212.1 456.6h0.6v0.6h-0.6zM209.7 446.0h0.6v0.6h-0.6zM212.6 402.3h0.6v0.6h-0.6zM209.1 440.4h0.6v0.6h-0.6zM211.0 446.7h0.6v0.6h-0.6zM212.8 401.4h0.6v0.6h-0.6zM213.4 443.8h0.6v0.6h-0.6zM213.3 456.7h0.6v0.6h-0.6zM213.8 379.4h0.6v0.6h-0.6zM208.2 443.4h0.6v0.6h-0.6zM208.2 434.1h0.6v0.6h-0.6zM208.8 387.2h0.6v0.6h-0.6zM209.6 373.2h0.6v0.6h-0.6zM213.2 394.0h0.6v0.6h-0.6zM213.3 402.7h0.6v0.6h-0.6zM213.4 387.4h0.6v0.6h-0.6zM208.3 384.4h0.6v0.6h-0.6zM213.6 377.5h0.6v0.6h-0.6zM211.1 447.4h0.6v0.6h-0.6zM212.9 387.5h0.6v0.6h-0.6zM209.1 398.4h0.6v0.6h-0.6zM209.3 383.3h0.6v0.6h-0.6zM208.5 442.0h0.6v0.6h-0.6zM210.9 447.2h0.6v0.6h-0.6zM209.4 398.8h0.6v0.6h-0.6zM209.4 379.9h0.6v0.6h-0.6zM213.5 398.8h0.6v0.6h-0.6zM213.1 420.4h0.6v0.6h-0.6zM208.3 447.5h0.6v0.6h-0.6zM212.7 371.3h0.6v0.6h-0.6zM212.6 376.7h0.6v0.6h-0.6zM213.1 393.3h0.6v0.6h-0.6zM212.6 423.2h0.6v0.6h-0.6zM213.0 423.3h0.6v0.6h-0.6zM213.3 369.9h0.6v0.6h-0.6zM209.2 396.3h0.6v0.6h-0.6z" fill="#1e1e1e" opacity="0.55"/>
<path d="M211.0 357.8h0.6v0.6h-0.6zM210.6 363.7h0.6v0.6h-0.6zM208.7 358.3h0.6v0.6h-0.6zM210.2 370.0h0.6v0.6h-0.6zM211.4 370.8h0.6v0.6h-0.6zM211.0 362.5h0.6v0.6h-0.6zM212.4 369.3h0.6v0.6h-0.6zM210.8 362.8h0.6v0.6h-0.6zM211.6 364.4h0.6v0.6h-0.6zM211.1 360.8h0.6v0.6h-0.6zM211.5 358.2h0.6v0.6h-0.6zM212.1 359.0h0.6v0.6h-0.6zM209.4 361.5h0.6v0.6h-0.6zM209.7 363.1h0.6v0.6h-0.6zM209.6 366.3h0.6v0.6h-0.6zM209.1 354.3h0.6v0.6h-0.6zM211.5 363.3h0.6v0.6h-0.6zM210.5 354.3h0.6v0.6h-0.6zM211.1 364.6h0.6v0.6h-0.6zM210.0 357.9h0.6v0.6h-0.6zM210.8 355.1h0.6v0.6h-0.6zM211.8 362.3h0.6v0.6h-0.6zM210.5 354.3h0.6v0.6h-0.6zM213.1 361.1h0.6v0.6h-0.6zM209.9 359.6h0.6v0.6h-0.6zM210.2 359.4h0.6v0.6h-0.6zM211.2 362.5h0.6v0.6h-0.6zM212.1 359.1h0.6v0.6h-0.6zM212.0 370.7h0.6v0.6h-0.6zM210.4 357.3h0.6v0.6h-0.6zM211.6 371.2h0.6v0.6h-0.6zM210.9 367.9h0.6v0.6h-0.6zM210.4 353.5h0.6v0.6h-0.6zM211.0 370.0h0.6v0.6h-0.6zM210.7 364.3h0.6v0.6h-0.6zM210.5 367.5h0.6v0.6h-0.6zM210.0 359.4h0.6v0.6h-0.6zM212.3 367.2h0.6v0.6h-0.6zM209.5 368.9h0.6v0.6h-0.6zM209.9 364.4h0.6v0.6h-0.6zM211.7 365.2h0.6v0.6h-0.6zM211.6 356.1h0.6v0.6h-0.6zM211.1 360.3h0.6v0.6h-0.6zM209.9 366.9h0.6v0.6h-0.6zM210.2 363.9h0.6v0.6h-0.6zM212.0 370.9h0.6v0.6h-0.6zM209.7 357.5h0.6v0.6h-0.6z" fill="#555" opacity="0.55"/>
<polygon points="236.3,479.2 237.9,478.4 239.2,477.6 240.4,476.8 241.4,476.0 242.2,475.2 242.8,474.4 243.3,473.6 243.5,472.7 243.5,471.9 243.5,471.1 243.5,457.1 243.5,359.0 244.1,359.0 244.1,457.1 244.1,471.1 244.1,471.9 244.1,472.7 244.3,473.6 244.8,474.4 245.4,475.2 246.2,476.0 247.2,476.8 248.4,477.6 249.7,478.4 251.3,479.2" fill="#c9a3da" stroke="#866e92" stroke-width="0.55" stroke-linejoin="round"/>
<line x1="243.8" y1="478.51" x2="243.8" y2="471.11" stroke="#f6f6f6" stroke-width="0.7"/>
<linearGradient id="jg4" x1="0" y1="0" x2="1" y2="0"><stop offset="0" stop-color="#22182a" stop-opacity="0.15"/><stop offset="0.32" stop-color="#22182a" stop-opacity="0.8"/><stop offset="0.68" stop-color="#22182a" stop-opacity="0.8"/><stop offset="1" stop-color="#22182a" stop-opacity="0.15"/></linearGradient>
<polygon points="243.5,444.1 242.2,433.0 242.2,394.1 243.5,379.4 244.1,379.4 245.4,394.1 245.4,433.0 244.1,444.1" fill="url(#jg4)"/>
<path d="M244.6 383.3h0.6v0.6h-0.6zM245.5 391.0h0.6v0.6h-0.6zM244.4 454.9h0.6v0.6h-0.6zM241.9 428.8h0.6v0.6h-0.6zM244.0 452.2h0.6v0.6h-0.6zM241.8 410.5h0.6v0.6h-0.6zM242.7 440.1h0.6v0.6h-0.6zM242.9 441.8h0.6v0.6h-0.6zM242.1 416.3h0.6v0.6h-0.6zM241.9 402.5h0.6v0.6h-0.6zM243.5 446.8h0.6v0.6h-0.6zM241.6 418.1h0.6v0.6h-0.6zM245.2 434.3h0.6v0.6h-0.6zM245.4 384.7h0.6v0.6h-0.6zM244.2 452.7h0.6v0.6h-0.6zM245.0 386.0h0.6v0.6h-0.6zM244.1 449.0h0.6v0.6h-0.6zM244.8 399.0h0.6v0.6h-0.6zM244.8 382.1h0.6v0.6h-0.6zM244.7 436.4h0.6v0.6h-0.6zM244.6 448.2h0.6v0.6h-0.6zM243.6 443.4h0.6v0.6h-0.6zM241.7 406.4h0.6v0.6h-0.6zM241.6 415.9h0.6v0.6h-0.6zM243.9 443.0h0.6v0.6h-0.6zM244.4 449.8h0.6v0.6h-0.6zM241.6 436.3h0.6v0.6h-0.6zM242.2 438.8h0.6v0.6h-0.6zM241.7 429.4h0.6v0.6h-0.6zM245.5 397.6h0.6v0.6h-0.6zM245.2 412.9h0.6v0.6h-0.6zM243.0 450.4h0.6v0.6h-0.6zM245.5 410.6h0.6v0.6h-0.6zM242.8 443.8h0.6v0.6h-0.6zM244.5 391.9h0.6v0.6h-0.6zM241.9 441.2h0.6v0.6h-0.6zM242.3 422.2h0.6v0.6h-0.6zM245.3 430.3h0.6v0.6h-0.6zM241.7 412.0h0.6v0.6h-0.6zM244.8 395.9h0.6v0.6h-0.6zM244.7 391.6h0.6v0.6h-0.6zM245.3 397.3h0.6v0.6h-0.6zM242.7 454.8h0.6v0.6h-0.6zM242.8 447.2h0.6v0.6h-0.6zM242.1 444.1h0.6v0.6h-0.6zM242.4 430.5h0.6v0.6h-0.6zM242.2 421.7h0.6v0.6h-0.6zM242.3 408.4h0.6v0.6h-0.6zM241.6 413.6h0.6v0.6h-0.6zM241.7 410.6h0.6v0.6h-0.6zM244.6 399.1h0.6v0.6h-0.6zM243.2 447.0h0.6v0.6h-0.6zM244.5 416.4h0.6v0.6h-0.6zM245.0 419.7h0.6v0.6h-0.6zM243.9 440.4h0.6v0.6h-0.6zM244.7 425.5h0.6v0.6h-0.6zM242.4 403.6h0.6v0.6h-0.6zM241.5 392.9h0.6v0.6h-0.6zM242.4 429.1h0.6v0.6h-0.6zM245.4 432.9h0.6v0.6h-0.6zM242.1 413.9h0.6v0.6h-0.6zM243.5 451.9h0.6v0.6h-0.6zM242.1 403.3h0.6v0.6h-0.6zM244.3 451.3h0.6v0.6h-0.6zM243.1 442.3h0.6v0.6h-0.6zM245.0 389.1h0.6v0.6h-0.6zM243.4 441.7h0.6v0.6h-0.6zM245.1 409.7h0.6v0.6h-0.6zM244.0 442.9h0.6v0.6h-0.6zM244.6 397.2h0.6v0.6h-0.6zM242.4 437.5h0.6v0.6h-0.6zM245.0 451.1h0.6v0.6h-0.6zM244.0 447.4h0.6v0.6h-0.6zM244.6 399.4h0.6v0.6h-0.6zM245.5 403.4h0.6v0.6h-0.6zM244.6 428.8h0.6v0.6h-0.6zM242.6 442.3h0.6v0.6h-0.6zM244.8 422.3h0.6v0.6h-0.6zM244.4 440.3h0.6v0.6h-0.6zM244.8 442.4h0.6v0.6h-0.6zM244.8 424.5h0.6v0.6h-0.6zM242.4 388.0h0.6v0.6h-0.6zM241.8 406.2h0.6v0.6h-0.6zM241.7 402.3h0.6v0.6h-0.6zM243.6 442.1h0.6v0.6h-0.6zM241.9 406.3h0.6v0.6h-0.6zM241.5 399.1h0.6v0.6h-0.6zM245.0 434.6h0.6v0.6h-0.6zM243.3 440.9h0.6v0.6h-0.6zM242.0 425.9h0.6v0.6h-0.6zM242.3 396.8h0.6v0.6h-0.6zM245.3 414.8h0.6v0.6h-0.6zM245.4 437.0h0.6v0.6h-0.6zM244.7 417.6h0.6v0.6h-0.6zM244.6 450.7h0.6v0.6h-0.6zM245.2 383.1h0.6v0.6h-0.6zM242.0 426.8h0.6v0.6h-0.6zM242.1 433.3h0.6v0.6h-0.6zM241.9 426.8h0.6v0.6h-0.6zM242.0 424.9h0.6v0.6h-0.6zM242.0 393.2h0.6v0.6h-0.6zM241.9 400.5h0.6v0.6h-0.6zM242.5 418.1h0.6v0.6h-0.6zM245.4 422.2h0.6v0.6h-0.6zM241.8 427.3h0.6v0.6h-0.6zM245.4 433.6h0.6v0.6h-0.6zM242.4 422.8h0.6v0.6h-0.6zM245.0 448.1h0.6v0.6h-0.6zM241.7 398.2h0.6v0.6h-0.6zM241.9 427.6h0.6v0.6h-0.6z" fill="#22182a" opacity="0.55"/>
<path d="M243.8 373.0h0.6v0.6h-0.6zM244.3 382.1h0.6v0.6h-0.6zM244.8 360.1h0.6v0.6h-0.6zM244.1 370.9h0.6v0.6h-0.6zM242.6 382.4h0.6v0.6h-0.6zM243.2 377.1h0.6v0.6h-0.6zM243.4 358.9h0.6v0.6h-0.6zM243.2 359.0h0.6v0.6h-0.6zM242.9 380.2h0.6v0.6h-0.6zM243.6 378.4h0.6v0.6h-0.6zM242.1 377.9h0.6v0.6h-0.6zM242.9 373.2h0.6v0.6h-0.6zM242.6 376.1h0.6v0.6h-0.6zM243.8 360.8h0.6v0.6h-0.6zM243.0 379.6h0.6v0.6h-0.6zM243.4 381.9h0.6v0.6h-0.6zM242.2 366.8h0.6v0.6h-0.6zM245.6 373.7h0.6v0.6h-0.6zM242.7 374.8h0.6v0.6h-0.6zM243.9 375.4h0.6v0.6h-0.6zM242.2 362.1h0.6v0.6h-0.6zM244.0 362.7h0.6v0.6h-0.6zM243.0 359.4h0.6v0.6h-0.6zM244.8 371.2h0.6v0.6h-0.6zM243.2 368.0h0.6v0.6h-0.6zM244.3 363.8h0.6v0.6h-0.6zM241.9 374.2h0.6v0.6h-0.6zM244.5 375.4h0.6v0.6h-0.6zM242.8 367.8h0.6v0.6h-0.6zM243.2 371.8h0.6v0.6h-0.6zM244.1 365.7h0.6v0.6h-0.6zM244.2 362.2h0.6v0.6h-0.6zM242.7 361.2h0.6v0.6h-0.6zM244.0 369.5h0.6v0.6h-0.6zM243.3 364.0h0.6v0.6h-0.6zM244.5 367.8h0.6v0.6h-0.6zM243.0 363.4h0.6v0.6h-0.6zM242.1 365.4h0.6v0.6h-0.6zM244.0 361.7h0.6v0.6h-0.6zM244.6 375.1h0.6v0.6h-0.6z" fill="#555" opacity="0.55"/>
<line x1="293.75" y1="347" x2="293.75" y2="486" stroke="#262626" stroke-width="1"/>
<line x1="293.25" y1="485.5" x2="363.75" y2="485.5" stroke="#262626" stroke-width="1"/>
<line x1="290.55" y1="479.25" x2="293.75" y2="479.25" stroke="#262626" stroke-width="1"/>
<text x="286" y="481.65" font-size="6.8" fill="#3a3a3a" stroke="#3a3a3a" stroke-width="0.14" text-anchor="end">0</text>
<line x1="290.55" y1="452.25" x2="293.75" y2="452.25" stroke="#262626" stroke-width="1"/>
<text x="286" y="454.65" font-size="6.8" fill="#3a3a3a" stroke="#3a3a3a" stroke-width="0.14" text-anchor="end">1</text>
<line x1="290.55" y1="425.25" x2="293.75" y2="425.25" stroke="#262626" stroke-width="1"/>
<text x="286" y="427.65" font-size="6.8" fill="#3a3a3a" stroke="#3a3a3a" stroke-width="0.14" text-anchor="end">2</text>
<line x1="290.55" y1="398.25" x2="293.75" y2="398.25" stroke="#262626" stroke-width="1"/>
<text x="286" y="400.65" font-size="6.8" fill="#3a3a3a" stroke="#3a3a3a" stroke-width="0.14" text-anchor="end">3</text>
<line x1="290.55" y1="371.25" x2="293.75" y2="371.25" stroke="#262626" stroke-width="1"/>
<text x="286" y="373.65" font-size="6.8" fill="#3a3a3a" stroke="#3a3a3a" stroke-width="0.14" text-anchor="end">4</text>
<text x="328.6" y="340.9" font-size="8.9" fill="#222" text-anchor="middle" font-style="italic" textLength="21.3" lengthAdjust="spacingAndGlyphs">PRF1</text>
<line x1="312.5" y1="485.5" x2="312.5" y2="488.7" stroke="#262626" stroke-width="1"/>
<text x="312.5" y="498.8" font-size="6.8" fill="#3a3a3a" stroke="#3a3a3a" stroke-width="0.14" text-anchor="middle">Low</text>
<line x1="345" y1="485.5" x2="345" y2="488.7" stroke="#262626" stroke-width="1"/>
<text x="345" y="498.8" font-size="6.8" fill="#3a3a3a" stroke="#3a3a3a" stroke-width="0.14" text-anchor="middle">High</text>
<text x="329.95" y="511.9" font-size="9.8" fill="#3a3a3a" stroke="#3a3a3a" stroke-width="0.12" text-anchor="middle" font-style="italic" textLength="31.7" lengthAdjust="spacingAndGlyphs">GABARAP</text>
<polygon points="295.8,479.2 299.3,478.2 302.3,477.1 304.9,476.0 307.1,474.9 308.9,473.9 310.3,472.8 311.3,471.7 312.0,470.6 312.2,469.5 312.2,468.4 312.2,460.4 311.7,449.6 310.5,444.1 307.9,436.1 307.0,429.3 307.5,422.6 309.3,414.4 311.3,403.6 311.8,392.9 312.1,376.6 312.2,365.9 312.8,365.9 312.9,376.6 313.2,392.9 313.7,403.6 315.7,414.4 317.5,422.6 318.0,429.3 317.1,436.1 314.5,444.1 313.3,449.6 312.8,460.4 312.8,468.4 312.8,469.5 313.0,470.6 313.7,471.7 314.7,472.8 316.1,473.9 317.9,474.9 320.1,476.0 322.7,477.1 325.7,478.2 329.2,479.2" fill="#a2d39a" stroke="#52804c" stroke-width="0.55" stroke-linejoin="round"/>
<line x1="312.5" y1="478.71" x2="312.5" y2="468.45" stroke="#f6f6f6" stroke-width="0.7"/>
<linearGradient id="jg5" x1="0" y1="0" x2="1" y2="0"><stop offset="0" stop-color="#1e1e1e" stop-opacity="0.15"/><stop offset="0.32" stop-color="#1e1e1e" stop-opacity="0.8"/><stop offset="0.68" stop-color="#1e1e1e" stop-opacity="0.8"/><stop offset="1" stop-color="#1e1e1e" stop-opacity="0.15"/></linearGradient>
<polygon points="312.2,453.6 311.4,445.5 311.4,390.1 312.2,379.4 312.8,379.4 313.6,390.1 313.6,445.5 312.8,453.6" fill="url(#jg5)"/>
<path d="M313.2 421.7h0.6v0.6h-0.6zM311.0 392.2h0.6v0.6h-0.6zM311.9 455.5h0.6v0.6h-0.6zM313.3 424.4h0.6v0.6h-0.6zM313.4 442.3h0.6v0.6h-0.6zM312.1 451.7h0.6v0.6h-0.6zM313.0 410.5h0.6v0.6h-0.6zM311.3 412.2h0.6v0.6h-0.6zM313.3 424.5h0.6v0.6h-0.6zM311.6 455.3h0.6v0.6h-0.6zM311.1 420.1h0.6v0.6h-0.6zM311.4 391.4h0.6v0.6h-0.6zM311.0 415.4h0.6v0.6h-0.6zM311.1 387.3h0.6v0.6h-0.6zM311.5 440.2h0.6v0.6h-0.6zM312.3 461.5h0.6v0.6h-0.6zM311.1 417.7h0.6v0.6h-0.6zM313.2 455.3h0.6v0.6h-0.6zM313.4 425.5h0.6v0.6h-0.6zM311.5 416.5h0.6v0.6h-0.6zM311.0 442.7h0.6v0.6h-0.6zM310.6 452.8h0.6v0.6h-0.6zM312.9 381.4h0.6v0.6h-0.6zM313.1 385.9h0.6v0.6h-0.6zM313.1 412.0h0.6v0.6h-0.6zM311.5 447.1h0.6v0.6h-0.6zM312.2 456.9h0.6v0.6h-0.6zM313.0 431.9h0.6v0.6h-0.6zM311.6 458.4h0.6v0.6h-0.6zM313.4 380.2h0.6v0.6h-0.6zM312.9 402.9h0.6v0.6h-0.6zM310.9 409.4h0.6v0.6h-0.6zM311.5 452.6h0.6v0.6h-0.6zM311.5 390.7h0.6v0.6h-0.6zM311.3 452.0h0.6v0.6h-0.6zM313.4 429.7h0.6v0.6h-0.6zM312.9 453.5h0.6v0.6h-0.6zM311.4 450.8h0.6v0.6h-0.6zM313.4 417.5h0.6v0.6h-0.6zM312.9 451.1h0.6v0.6h-0.6zM312.4 457.5h0.6v0.6h-0.6zM311.2 408.2h0.6v0.6h-0.6zM313.5 384.7h0.6v0.6h-0.6zM311.3 422.5h0.6v0.6h-0.6zM310.9 409.5h0.6v0.6h-0.6zM313.4 398.3h0.6v0.6h-0.6zM310.9 442.9h0.6v0.6h-0.6zM313.3 400.6h0.6v0.6h-0.6zM311.3 438.7h0.6v0.6h-0.6zM311.1 467.5h0.6v0.6h-0.6zM312.1 459.8h0.6v0.6h-0.6zM313.0 380.5h0.6v0.6h-0.6zM313.4 392.7h0.6v0.6h-0.6zM312.9 456.5h0.6v0.6h-0.6zM312.7 453.2h0.6v0.6h-0.6zM313.4 404.1h0.6v0.6h-0.6zM310.9 385.0h0.6v0.6h-0.6zM312.3 460.4h0.6v0.6h-0.6zM312.2 458.1h0.6v0.6h-0.6zM313.3 437.0h0.6v0.6h-0.6zM313.5 451.1h0.6v0.6h-0.6zM313.5 427.6h0.6v0.6h-0.6zM312.4 458.0h0.6v0.6h-0.6zM313.6 413.9h0.6v0.6h-0.6zM313.2 393.5h0.6v0.6h-0.6zM311.2 384.7h0.6v0.6h-0.6zM311.4 427.8h0.6v0.6h-0.6zM311.0 414.1h0.6v0.6h-0.6zM311.4 441.7h0.6v0.6h-0.6zM313.0 424.9h0.6v0.6h-0.6zM311.4 398.6h0.6v0.6h-0.6zM311.3 444.3h0.6v0.6h-0.6zM313.0 411.5h0.6v0.6h-0.6zM313.0 406.8h0.6v0.6h-0.6zM313.4 414.0h0.6v0.6h-0.6zM312.9 386.0h0.6v0.6h-0.6zM313.0 455.3h0.6v0.6h-0.6zM311.1 407.7h0.6v0.6h-0.6zM313.0 441.0h0.6v0.6h-0.6zM313.4 420.7h0.6v0.6h-0.6zM313.3 435.6h0.6v0.6h-0.6zM311.6 454.0h0.6v0.6h-0.6zM313.0 401.8h0.6v0.6h-0.6zM310.8 442.5h0.6v0.6h-0.6zM313.1 384.3h0.6v0.6h-0.6zM313.3 413.2h0.6v0.6h-0.6zM313.2 390.2h0.6v0.6h-0.6zM313.2 423.7h0.6v0.6h-0.6zM311.4 400.7h0.6v0.6h-0.6zM313.1 425.6h0.6v0.6h-0.6zM311.4 388.5h0.6v0.6h-0.6zM310.7 453.8h0.6v0.6h-0.6zM312.9 429.8h0.6v0.6h-0.6zM313.3 420.5h0.6v0.6h-0.6zM311.5 419.6h0.6v0.6h-0.6zM313.0 386.9h0.6v0.6h-0.6zM313.1 406.3h0.6v0.6h-0.6zM311.4 405.7h0.6v0.6h-0.6zM313.0 389.5h0.6v0.6h-0.6zM313.3 392.3h0.6v0.6h-0.6zM312.9 413.1h0.6v0.6h-0.6zM312.9 407.4h0.6v0.6h-0.6zM311.3 412.8h0.6v0.6h-0.6zM312.5 458.2h0.6v0.6h-0.6zM313.5 438.1h0.6v0.6h-0.6zM311.9 452.9h0.6v0.6h-0.6zM311.2 449.8h0.6v0.6h-0.6zM313.4 405.2h0.6v0.6h-0.6zM312.6 456.1h0.6v0.6h-0.6zM311.5 446.1h0.6v0.6h-0.6zM311.1 426.7h0.6v0.6h-0.6zM311.4 447.0h0.6v0.6h-0.6zM312.0 455.9h0.6v0.6h-0.6zM311.5 445.6h0.6v0.6h-0.6zM311.0 394.2h0.6v0.6h-0.6zM313.1 391.7h0.6v0.6h-0.6zM313.1 446.2h0.6v0.6h-0.6zM313.1 401.0h0.6v0.6h-0.6zM312.1 457.0h0.6v0.6h-0.6zM311.5 399.9h0.6v0.6h-0.6z" fill="#1e1e1e" opacity="0.55"/>
<path d="M312.2 373.1h0.6v0.6h-0.6zM311.4 378.7h0.6v0.6h-0.6zM311.9 367.0h0.6v0.6h-0.6zM312.9 365.7h0.6v0.6h-0.6zM312.3 377.0h0.6v0.6h-0.6zM312.1 374.4h0.6v0.6h-0.6zM312.2 368.5h0.6v0.6h-0.6zM311.6 380.2h0.6v0.6h-0.6zM312.2 372.2h0.6v0.6h-0.6zM311.5 372.4h0.6v0.6h-0.6zM312.9 378.3h0.6v0.6h-0.6zM312.1 370.1h0.6v0.6h-0.6zM312.4 376.2h0.6v0.6h-0.6zM312.6 371.0h0.6v0.6h-0.6zM312.3 373.7h0.6v0.6h-0.6zM312.2 370.5h0.6v0.6h-0.6zM311.6 378.1h0.6v0.6h-0.6zM312.3 379.0h0.6v0.6h-0.6zM311.3 366.2h0.6v0.6h-0.6zM311.9 371.3h0.6v0.6h-0.6zM311.9 381.4h0.6v0.6h-0.6zM312.3 376.3h0.6v0.6h-0.6zM311.9 376.8h0.6v0.6h-0.6zM310.9 377.1h0.6v0.6h-0.6zM312.8 376.5h0.6v0.6h-0.6zM312.0 379.6h0.6v0.6h-0.6zM312.2 375.6h0.6v0.6h-0.6zM312.5 376.3h0.6v0.6h-0.6zM311.8 374.8h0.6v0.6h-0.6zM312.3 376.9h0.6v0.6h-0.6zM311.9 372.7h0.6v0.6h-0.6zM312.3 370.9h0.6v0.6h-0.6zM311.8 366.0h0.6v0.6h-0.6zM312.5 372.7h0.6v0.6h-0.6zM312.1 368.5h0.6v0.6h-0.6zM311.8 380.4h0.6v0.6h-0.6zM312.1 376.5h0.6v0.6h-0.6zM311.9 375.8h0.6v0.6h-0.6zM312.7 375.2h0.6v0.6h-0.6zM313.1 367.3h0.6v0.6h-0.6zM312.5 378.7h0.6v0.6h-0.6zM311.8 366.7h0.6v0.6h-0.6zM313.2 370.4h0.6v0.6h-0.6zM312.6 369.9h0.6v0.6h-0.6zM311.3 374.4h0.6v0.6h-0.6zM312.5 379.4h0.6v0.6h-0.6zM312.8 370.1h0.6v0.6h-0.6zM312.2 377.8h0.6v0.6h-0.6zM312.5 375.0h0.6v0.6h-0.6zM311.1 378.2h0.6v0.6h-0.6z" fill="#555" opacity="0.55"/>
<rect x="310.5" y="424.44" width="4" height="21.06" fill="#b8dfb0" fill-opacity="0.6" stroke="#eef6ec" stroke-width="0.5"/>
<line x1="310.5" y1="445.5" x2="314.5" y2="445.5" stroke="#f4f8f2" stroke-width="0.8"/>
<polygon points="339.7,479.2 340.8,478.0 341.8,476.8 342.6,475.6 343.3,474.4 343.8,473.2 344.3,472.0 344.6,470.7 344.7,469.5 344.7,468.3 344.7,467.1 344.7,457.6 343.8,446.9 342.8,436.1 342.5,425.2 343.2,414.4 344.1,392.9 344.6,371.2 344.7,355.1 345.3,355.1 345.4,371.2 345.9,392.9 346.8,414.4 347.5,425.2 347.2,436.1 346.2,446.9 345.3,457.6 345.3,467.1 345.3,468.3 345.3,469.5 345.4,470.7 345.7,472.0 346.2,473.2 346.7,474.4 347.4,475.6 348.2,476.8 349.2,478.0 350.3,479.2" fill="#c9a3da" stroke="#866e92" stroke-width="0.55" stroke-linejoin="round"/>
<line x1="345" y1="478.71" x2="345" y2="467.1" stroke="#f6f6f6" stroke-width="0.7"/>
<linearGradient id="jg6" x1="0" y1="0" x2="1" y2="0"><stop offset="0" stop-color="#22182a" stop-opacity="0.15"/><stop offset="0.32" stop-color="#22182a" stop-opacity="0.8"/><stop offset="0.68" stop-color="#22182a" stop-opacity="0.8"/><stop offset="1" stop-color="#22182a" stop-opacity="0.15"/></linearGradient>
<polygon points="344.7,468.4 343.7,460.4 343.7,392.9 344.7,382.1 345.3,382.1 346.3,392.9 346.3,460.4 345.3,468.4" fill="url(#jg6)"/>
<path d="M343.6 454.0h0.6v0.6h-0.6zM344.6 479.4h0.6v0.6h-0.6zM343.6 464.1h0.6v0.6h-0.6zM343.3 465.5h0.6v0.6h-0.6zM343.4 409.2h0.6v0.6h-0.6zM343.6 428.0h0.6v0.6h-0.6zM343.1 432.2h0.6v0.6h-0.6zM343.7 433.7h0.6v0.6h-0.6zM345.6 470.5h0.6v0.6h-0.6zM343.1 400.4h0.6v0.6h-0.6zM343.7 417.5h0.6v0.6h-0.6zM345.9 428.8h0.6v0.6h-0.6zM346.2 418.5h0.6v0.6h-0.6zM343.6 444.3h0.6v0.6h-0.6zM343.4 383.5h0.6v0.6h-0.6zM343.3 465.0h0.6v0.6h-0.6zM345.7 453.7h0.6v0.6h-0.6zM345.2 470.9h0.6v0.6h-0.6zM346.3 404.8h0.6v0.6h-0.6zM343.8 456.7h0.6v0.6h-0.6zM343.7 426.1h0.6v0.6h-0.6zM343.8 431.4h0.6v0.6h-0.6zM343.6 417.9h0.6v0.6h-0.6zM343.5 476.6h0.6v0.6h-0.6zM345.0 468.5h0.6v0.6h-0.6zM345.7 386.5h0.6v0.6h-0.6zM346.2 392.4h0.6v0.6h-0.6zM343.6 384.3h0.6v0.6h-0.6zM344.8 475.3h0.6v0.6h-0.6zM343.2 392.8h0.6v0.6h-0.6zM345.7 409.9h0.6v0.6h-0.6zM343.4 400.3h0.6v0.6h-0.6zM344.3 468.4h0.6v0.6h-0.6zM343.6 455.3h0.6v0.6h-0.6zM345.8 396.8h0.6v0.6h-0.6zM346.1 422.2h0.6v0.6h-0.6zM343.6 394.0h0.6v0.6h-0.6zM343.8 460.6h0.6v0.6h-0.6zM344.3 474.2h0.6v0.6h-0.6zM344.9 472.0h0.6v0.6h-0.6zM343.2 392.6h0.6v0.6h-0.6zM343.3 470.2h0.6v0.6h-0.6zM345.8 445.4h0.6v0.6h-0.6zM345.3 473.5h0.6v0.6h-0.6zM344.3 475.0h0.6v0.6h-0.6zM343.7 407.0h0.6v0.6h-0.6zM343.8 388.7h0.6v0.6h-0.6zM345.7 450.9h0.6v0.6h-0.6zM346.2 437.6h0.6v0.6h-0.6zM346.1 449.1h0.6v0.6h-0.6zM343.1 429.6h0.6v0.6h-0.6zM343.5 395.8h0.6v0.6h-0.6zM344.7 467.3h0.6v0.6h-0.6zM346.0 420.9h0.6v0.6h-0.6zM345.1 470.1h0.6v0.6h-0.6zM346.2 420.0h0.6v0.6h-0.6zM343.8 443.7h0.6v0.6h-0.6zM343.6 431.8h0.6v0.6h-0.6zM346.1 390.4h0.6v0.6h-0.6zM343.8 390.7h0.6v0.6h-0.6zM343.6 390.6h0.6v0.6h-0.6zM343.6 462.6h0.6v0.6h-0.6zM345.6 385.6h0.6v0.6h-0.6zM346.3 461.3h0.6v0.6h-0.6zM343.7 391.7h0.6v0.6h-0.6zM345.9 423.6h0.6v0.6h-0.6zM343.3 449.7h0.6v0.6h-0.6zM343.5 476.7h0.6v0.6h-0.6zM343.2 400.2h0.6v0.6h-0.6zM345.0 469.7h0.6v0.6h-0.6zM344.2 468.7h0.6v0.6h-0.6zM345.5 464.4h0.6v0.6h-0.6zM345.6 447.3h0.6v0.6h-0.6zM343.4 394.4h0.6v0.6h-0.6zM343.2 437.6h0.6v0.6h-0.6zM344.6 466.8h0.6v0.6h-0.6zM345.3 465.9h0.6v0.6h-0.6zM345.7 407.5h0.6v0.6h-0.6zM343.7 406.2h0.6v0.6h-0.6zM343.5 452.3h0.6v0.6h-0.6zM346.2 420.4h0.6v0.6h-0.6zM343.3 443.7h0.6v0.6h-0.6zM344.0 471.4h0.6v0.6h-0.6zM344.1 467.0h0.6v0.6h-0.6zM346.1 460.5h0.6v0.6h-0.6zM345.8 465.9h0.6v0.6h-0.6zM343.9 401.0h0.6v0.6h-0.6zM343.4 382.0h0.6v0.6h-0.6zM343.5 391.7h0.6v0.6h-0.6zM343.9 434.6h0.6v0.6h-0.6zM346.0 439.8h0.6v0.6h-0.6zM346.0 398.2h0.6v0.6h-0.6zM343.8 450.2h0.6v0.6h-0.6zM343.3 413.4h0.6v0.6h-0.6zM346.0 389.7h0.6v0.6h-0.6zM343.3 454.7h0.6v0.6h-0.6zM346.2 431.9h0.6v0.6h-0.6zM343.8 472.0h0.6v0.6h-0.6zM343.6 456.0h0.6v0.6h-0.6zM343.4 382.9h0.6v0.6h-0.6zM343.4 418.9h0.6v0.6h-0.6zM343.1 398.9h0.6v0.6h-0.6zM343.6 409.4h0.6v0.6h-0.6zM345.2 466.7h0.6v0.6h-0.6zM343.1 427.5h0.6v0.6h-0.6zM343.6 410.3h0.6v0.6h-0.6zM345.6 453.9h0.6v0.6h-0.6z" fill="#22182a" opacity="0.55"/>
<path d="M344.9 379.2h0.6v0.6h-0.6zM344.8 380.1h0.6v0.6h-0.6zM344.9 361.3h0.6v0.6h-0.6zM344.7 371.9h0.6v0.6h-0.6zM344.9 382.1h0.6v0.6h-0.6zM344.4 379.3h0.6v0.6h-0.6zM345.4 369.9h0.6v0.6h-0.6zM344.0 376.1h0.6v0.6h-0.6zM344.7 370.9h0.6v0.6h-0.6zM344.7 355.4h0.6v0.6h-0.6zM344.1 379.4h0.6v0.6h-0.6zM344.4 354.9h0.6v0.6h-0.6zM344.7 371.0h0.6v0.6h-0.6zM343.8 359.5h0.6v0.6h-0.6zM344.5 378.4h0.6v0.6h-0.6zM344.7 363.8h0.6v0.6h-0.6zM345.0 361.4h0.6v0.6h-0.6zM345.0 356.3h0.6v0.6h-0.6zM344.4 379.1h0.6v0.6h-0.6zM345.8 379.9h0.6v0.6h-0.6zM345.4 379.8h0.6v0.6h-0.6zM345.2 376.4h0.6v0.6h-0.6zM344.7 380.0h0.6v0.6h-0.6zM344.3 377.7h0.6v0.6h-0.6zM344.2 365.8h0.6v0.6h-0.6zM344.7 381.3h0.6v0.6h-0.6zM344.4 374.1h0.6v0.6h-0.6zM345.2 383.8h0.6v0.6h-0.6zM344.8 372.7h0.6v0.6h-0.6zM345.0 369.0h0.6v0.6h-0.6zM345.2 370.1h0.6v0.6h-0.6zM344.3 366.2h0.6v0.6h-0.6zM345.3 366.7h0.6v0.6h-0.6zM344.7 365.3h0.6v0.6h-0.6zM343.7 376.1h0.6v0.6h-0.6zM344.6 380.8h0.6v0.6h-0.6zM344.5 355.7h0.6v0.6h-0.6zM343.9 380.0h0.6v0.6h-0.6zM344.0 355.0h0.6v0.6h-0.6zM344.4 364.1h0.6v0.6h-0.6zM344.3 377.0h0.6v0.6h-0.6zM344.6 362.4h0.6v0.6h-0.6zM345.6 361.5h0.6v0.6h-0.6zM344.3 367.1h0.6v0.6h-0.6zM344.9 364.9h0.6v0.6h-0.6zM344.4 375.3h0.6v0.6h-0.6zM344.5 356.2h0.6v0.6h-0.6zM344.9 376.6h0.6v0.6h-0.6zM345.1 366.4h0.6v0.6h-0.6zM345.1 383.8h0.6v0.6h-0.6zM345.8 364.2h0.6v0.6h-0.6zM344.8 383.7h0.6v0.6h-0.6zM344.2 377.9h0.6v0.6h-0.6z" fill="#555" opacity="0.55"/>
<rect x="343.2" y="419.31" width="3.6" height="17.28" fill="#a070b8" fill-opacity="0.6" stroke="#eef6ec" stroke-width="0.5"/>
<line x1="343.2" y1="436.59" x2="346.8" y2="436.59" stroke="#f4f8f2" stroke-width="0.8"/>
<line x1="394.25" y1="347" x2="394.25" y2="486" stroke="#262626" stroke-width="1"/>
<line x1="393.75" y1="485.5" x2="465" y2="485.5" stroke="#262626" stroke-width="1"/>
<line x1="391.05" y1="479.25" x2="394.25" y2="479.25" stroke="#262626" stroke-width="1"/>
<text x="387.2" y="481.65" font-size="6.8" fill="#3a3a3a" stroke="#3a3a3a" stroke-width="0.14" text-anchor="end">0</text>
<line x1="391.05" y1="448.5" x2="394.25" y2="448.5" stroke="#262626" stroke-width="1"/>
<text x="387.2" y="450.9" font-size="6.8" fill="#3a3a3a" stroke="#3a3a3a" stroke-width="0.14" text-anchor="end">1</text>
<line x1="391.05" y1="417.75" x2="394.25" y2="417.75" stroke="#262626" stroke-width="1"/>
<text x="387.2" y="420.15" font-size="6.8" fill="#3a3a3a" stroke="#3a3a3a" stroke-width="0.14" text-anchor="end">2</text>
<line x1="391.05" y1="387" x2="394.25" y2="387" stroke="#262626" stroke-width="1"/>
<text x="387.2" y="389.4" font-size="6.8" fill="#3a3a3a" stroke="#3a3a3a" stroke-width="0.14" text-anchor="end">3</text>
<line x1="391.05" y1="356.25" x2="394.25" y2="356.25" stroke="#262626" stroke-width="1"/>
<text x="387.2" y="358.65" font-size="6.8" fill="#3a3a3a" stroke="#3a3a3a" stroke-width="0.14" text-anchor="end">4</text>
<text x="430.5" y="340.9" font-size="8.9" fill="#222" text-anchor="middle" font-style="italic" textLength="18.9" lengthAdjust="spacingAndGlyphs">IL7R</text>
<line x1="413.3" y1="485.5" x2="413.3" y2="488.7" stroke="#262626" stroke-width="1"/>
<text x="413.3" y="498.8" font-size="6.8" fill="#3a3a3a" stroke="#3a3a3a" stroke-width="0.14" text-anchor="middle">Low</text>
<line x1="446.3" y1="485.5" x2="446.3" y2="488.7" stroke="#262626" stroke-width="1"/>
<text x="446.3" y="498.8" font-size="6.8" fill="#3a3a3a" stroke="#3a3a3a" stroke-width="0.14" text-anchor="middle">High</text>
<text x="430.82" y="511.9" font-size="9.8" fill="#3a3a3a" stroke="#3a3a3a" stroke-width="0.12" text-anchor="middle" font-style="italic" textLength="31.7" lengthAdjust="spacingAndGlyphs">GABARAP</text>
<polygon points="397.9,479.2 401.1,478.4 403.9,477.6 406.3,476.8 408.3,475.9 409.9,475.1 411.2,474.3 412.2,473.4 412.9,472.6 413.0,471.8 413.0,470.9 413.0,460.8 413.0,367.0 413.6,367.0 413.6,460.8 413.6,470.9 413.6,471.8 413.7,472.6 414.4,473.4 415.4,474.3 416.7,475.1 418.3,475.9 420.3,476.8 422.7,477.6 425.5,478.4 428.7,479.2" fill="#a2d39a" stroke="#52804c" stroke-width="0.55" stroke-linejoin="round"/>
<line x1="413.3" y1="478.63" x2="413.3" y2="470.95" stroke="#f6f6f6" stroke-width="0.7"/>
<linearGradient id="jg7" x1="0" y1="0" x2="1" y2="0"><stop offset="0" stop-color="#1e1e1e" stop-opacity="0.15"/><stop offset="0.32" stop-color="#1e1e1e" stop-opacity="0.8"/><stop offset="0.68" stop-color="#1e1e1e" stop-opacity="0.8"/><stop offset="1" stop-color="#1e1e1e" stop-opacity="0.15"/></linearGradient>
<polygon points="413.0,453.1 411.4,443.9 411.4,394.7 413.0,382.4 413.6,382.4 415.2,394.7 415.2,443.9 413.6,453.1" fill="url(#jg7)"/>
<path d="M410.8 417.6h0.6v0.6h-0.6zM414.4 451.2h0.6v0.6h-0.6zM415.2 404.0h0.6v0.6h-0.6zM414.8 409.6h0.6v0.6h-0.6zM414.6 438.5h0.6v0.6h-0.6zM414.6 411.8h0.6v0.6h-0.6zM415.3 389.5h0.6v0.6h-0.6zM414.0 450.7h0.6v0.6h-0.6zM411.8 425.9h0.6v0.6h-0.6zM411.0 383.5h0.6v0.6h-0.6zM410.7 432.1h0.6v0.6h-0.6zM411.3 410.1h0.6v0.6h-0.6zM411.2 394.2h0.6v0.6h-0.6zM413.7 458.5h0.6v0.6h-0.6zM415.0 413.3h0.6v0.6h-0.6zM411.1 434.4h0.6v0.6h-0.6zM414.2 385.1h0.6v0.6h-0.6zM412.7 455.3h0.6v0.6h-0.6zM414.9 388.7h0.6v0.6h-0.6zM413.2 454.2h0.6v0.6h-0.6zM413.6 461.0h0.6v0.6h-0.6zM411.8 458.7h0.6v0.6h-0.6zM414.6 398.1h0.6v0.6h-0.6zM415.2 400.6h0.6v0.6h-0.6zM410.8 402.5h0.6v0.6h-0.6zM415.1 389.7h0.6v0.6h-0.6zM414.3 406.6h0.6v0.6h-0.6zM414.6 386.0h0.6v0.6h-0.6zM411.2 444.6h0.6v0.6h-0.6zM414.7 450.7h0.6v0.6h-0.6zM410.6 450.0h0.6v0.6h-0.6zM414.7 427.5h0.6v0.6h-0.6zM411.5 439.5h0.6v0.6h-0.6zM414.6 425.7h0.6v0.6h-0.6zM411.1 447.3h0.6v0.6h-0.6zM412.7 451.9h0.6v0.6h-0.6zM410.8 448.4h0.6v0.6h-0.6zM414.3 388.4h0.6v0.6h-0.6zM414.5 451.7h0.6v0.6h-0.6zM415.0 417.4h0.6v0.6h-0.6zM414.1 452.9h0.6v0.6h-0.6zM411.5 400.9h0.6v0.6h-0.6zM414.7 382.8h0.6v0.6h-0.6zM414.7 420.0h0.6v0.6h-0.6zM410.9 395.0h0.6v0.6h-0.6zM410.7 426.4h0.6v0.6h-0.6zM410.8 420.6h0.6v0.6h-0.6zM412.1 452.2h0.6v0.6h-0.6zM411.7 392.3h0.6v0.6h-0.6zM411.5 438.1h0.6v0.6h-0.6zM411.2 393.3h0.6v0.6h-0.6zM414.4 435.7h0.6v0.6h-0.6zM411.2 410.9h0.6v0.6h-0.6zM415.2 405.4h0.6v0.6h-0.6zM411.6 413.4h0.6v0.6h-0.6zM414.2 438.6h0.6v0.6h-0.6zM410.8 418.4h0.6v0.6h-0.6zM410.9 387.7h0.6v0.6h-0.6zM411.4 383.7h0.6v0.6h-0.6zM414.1 428.3h0.6v0.6h-0.6zM415.0 434.8h0.6v0.6h-0.6zM411.1 446.6h0.6v0.6h-0.6zM415.3 447.6h0.6v0.6h-0.6zM414.4 390.0h0.6v0.6h-0.6zM414.5 403.9h0.6v0.6h-0.6zM410.7 393.7h0.6v0.6h-0.6zM415.2 449.1h0.6v0.6h-0.6zM414.7 450.5h0.6v0.6h-0.6zM410.9 445.1h0.6v0.6h-0.6zM411.6 414.6h0.6v0.6h-0.6zM410.8 411.5h0.6v0.6h-0.6zM414.4 457.8h0.6v0.6h-0.6zM411.6 387.2h0.6v0.6h-0.6zM410.8 405.1h0.6v0.6h-0.6zM411.4 398.9h0.6v0.6h-0.6zM414.8 443.8h0.6v0.6h-0.6zM414.6 452.2h0.6v0.6h-0.6zM411.5 450.5h0.6v0.6h-0.6zM414.7 421.0h0.6v0.6h-0.6zM414.3 436.7h0.6v0.6h-0.6zM411.9 431.3h0.6v0.6h-0.6zM410.6 420.0h0.6v0.6h-0.6zM414.5 431.6h0.6v0.6h-0.6zM411.1 427.6h0.6v0.6h-0.6zM415.1 403.2h0.6v0.6h-0.6zM412.2 469.5h0.6v0.6h-0.6zM410.8 411.1h0.6v0.6h-0.6zM414.5 464.1h0.6v0.6h-0.6zM411.1 424.9h0.6v0.6h-0.6zM414.4 382.7h0.6v0.6h-0.6zM415.2 418.6h0.6v0.6h-0.6zM414.9 438.1h0.6v0.6h-0.6zM411.1 417.5h0.6v0.6h-0.6zM415.3 384.8h0.6v0.6h-0.6zM414.3 391.8h0.6v0.6h-0.6zM411.8 426.1h0.6v0.6h-0.6zM411.1 430.2h0.6v0.6h-0.6zM415.3 427.9h0.6v0.6h-0.6zM413.2 457.8h0.6v0.6h-0.6zM414.6 435.3h0.6v0.6h-0.6zM415.2 441.1h0.6v0.6h-0.6zM411.5 441.8h0.6v0.6h-0.6zM414.9 415.8h0.6v0.6h-0.6zM414.9 430.2h0.6v0.6h-0.6zM410.8 398.4h0.6v0.6h-0.6zM410.9 445.7h0.6v0.6h-0.6zM411.8 423.4h0.6v0.6h-0.6zM414.9 435.1h0.6v0.6h-0.6zM413.6 452.3h0.6v0.6h-0.6zM411.3 430.9h0.6v0.6h-0.6zM411.6 453.6h0.6v0.6h-0.6zM415.0 382.1h0.6v0.6h-0.6zM410.7 399.4h0.6v0.6h-0.6zM415.0 442.9h0.6v0.6h-0.6zM411.3 414.7h0.6v0.6h-0.6zM414.4 421.7h0.6v0.6h-0.6zM410.7 429.8h0.6v0.6h-0.6zM413.7 458.5h0.6v0.6h-0.6zM411.0 402.0h0.6v0.6h-0.6zM414.9 393.5h0.6v0.6h-0.6zM410.8 411.0h0.6v0.6h-0.6zM410.9 382.7h0.6v0.6h-0.6zM411.5 406.9h0.6v0.6h-0.6zM415.1 422.7h0.6v0.6h-0.6zM411.4 417.8h0.6v0.6h-0.6z" fill="#1e1e1e" opacity="0.55"/>
<path d="M411.8 376.1h0.6v0.6h-0.6zM414.0 370.9h0.6v0.6h-0.6zM413.2 376.2h0.6v0.6h-0.6zM413.9 381.0h0.6v0.6h-0.6zM413.1 374.0h0.6v0.6h-0.6zM412.1 384.7h0.6v0.6h-0.6zM412.9 379.0h0.6v0.6h-0.6zM413.0 368.3h0.6v0.6h-0.6zM413.6 383.1h0.6v0.6h-0.6zM413.1 380.8h0.6v0.6h-0.6zM413.7 375.2h0.6v0.6h-0.6zM413.2 385.0h0.6v0.6h-0.6zM412.9 378.6h0.6v0.6h-0.6zM412.9 381.7h0.6v0.6h-0.6zM413.6 384.6h0.6v0.6h-0.6zM413.1 381.2h0.6v0.6h-0.6zM412.7 378.2h0.6v0.6h-0.6zM412.2 367.2h0.6v0.6h-0.6zM413.4 382.7h0.6v0.6h-0.6zM412.6 376.9h0.6v0.6h-0.6zM413.5 379.5h0.6v0.6h-0.6zM413.1 368.7h0.6v0.6h-0.6zM413.4 375.6h0.6v0.6h-0.6zM412.5 378.9h0.6v0.6h-0.6zM412.9 380.5h0.6v0.6h-0.6zM412.4 379.9h0.6v0.6h-0.6zM414.8 382.1h0.6v0.6h-0.6zM412.2 367.1h0.6v0.6h-0.6zM413.4 373.2h0.6v0.6h-0.6zM412.3 373.9h0.6v0.6h-0.6zM412.9 369.5h0.6v0.6h-0.6zM413.7 375.4h0.6v0.6h-0.6zM414.8 377.8h0.6v0.6h-0.6zM412.9 377.4h0.6v0.6h-0.6zM411.8 367.8h0.6v0.6h-0.6zM413.1 369.8h0.6v0.6h-0.6zM412.7 377.1h0.6v0.6h-0.6zM412.5 374.1h0.6v0.6h-0.6zM413.7 372.9h0.6v0.6h-0.6zM413.8 379.6h0.6v0.6h-0.6zM411.9 381.9h0.6v0.6h-0.6zM413.0 377.9h0.6v0.6h-0.6zM413.9 382.0h0.6v0.6h-0.6zM413.3 370.0h0.6v0.6h-0.6zM413.6 373.2h0.6v0.6h-0.6zM413.2 383.4h0.6v0.6h-0.6zM411.8 379.7h0.6v0.6h-0.6zM413.3 370.7h0.6v0.6h-0.6zM413.2 384.7h0.6v0.6h-0.6zM412.7 376.1h0.6v0.6h-0.6zM413.4 374.3h0.6v0.6h-0.6zM412.3 382.6h0.6v0.6h-0.6zM412.9 379.2h0.6v0.6h-0.6zM411.9 370.9h0.6v0.6h-0.6zM412.7 368.0h0.6v0.6h-0.6z" fill="#555" opacity="0.55"/>
<polygon points="438.8,479.2 440.4,478.4 441.7,477.6 442.9,476.8 443.9,475.9 444.7,475.1 445.3,474.3 445.8,473.4 446.0,472.6 446.0,471.8 446.0,470.9 446.0,460.8 446.0,353.2 446.6,353.2 446.6,460.8 446.6,470.9 446.6,471.8 446.6,472.6 446.8,473.4 447.3,474.3 447.9,475.1 448.7,475.9 449.7,476.8 450.9,477.6 452.2,478.4 453.8,479.2" fill="#c9a3da" stroke="#866e92" stroke-width="0.55" stroke-linejoin="round"/>
<line x1="446.3" y1="478.63" x2="446.3" y2="470.95" stroke="#f6f6f6" stroke-width="0.7"/>
<linearGradient id="jg8" x1="0" y1="0" x2="1" y2="0"><stop offset="0" stop-color="#22182a" stop-opacity="0.15"/><stop offset="0.32" stop-color="#22182a" stop-opacity="0.8"/><stop offset="0.68" stop-color="#22182a" stop-opacity="0.8"/><stop offset="1" stop-color="#22182a" stop-opacity="0.15"/></linearGradient>
<polygon points="446.0,448.5 444.7,439.3 444.7,399.3 446.0,387.0 446.6,387.0 447.9,399.3 447.9,439.3 446.6,448.5" fill="url(#jg8)"/>
<path d="M447.3 409.4h0.6v0.6h-0.6zM444.1 388.3h0.6v0.6h-0.6zM447.0 408.7h0.6v0.6h-0.6zM445.4 447.7h0.6v0.6h-0.6zM445.4 447.3h0.6v0.6h-0.6zM444.9 412.8h0.6v0.6h-0.6zM444.5 418.6h0.6v0.6h-0.6zM447.8 389.3h0.6v0.6h-0.6zM444.7 436.7h0.6v0.6h-0.6zM447.9 429.5h0.6v0.6h-0.6zM444.9 429.9h0.6v0.6h-0.6zM447.8 433.6h0.6v0.6h-0.6zM444.5 421.5h0.6v0.6h-0.6zM446.2 445.9h0.6v0.6h-0.6zM447.5 425.5h0.6v0.6h-0.6zM447.5 394.7h0.6v0.6h-0.6zM447.9 410.7h0.6v0.6h-0.6zM444.9 422.5h0.6v0.6h-0.6zM447.2 421.5h0.6v0.6h-0.6zM447.6 391.0h0.6v0.6h-0.6zM444.4 407.5h0.6v0.6h-0.6zM447.8 394.0h0.6v0.6h-0.6zM444.2 393.2h0.6v0.6h-0.6zM444.9 427.2h0.6v0.6h-0.6zM447.9 430.6h0.6v0.6h-0.6zM447.9 414.6h0.6v0.6h-0.6zM447.5 428.5h0.6v0.6h-0.6zM445.3 453.5h0.6v0.6h-0.6zM447.5 426.6h0.6v0.6h-0.6zM447.1 399.5h0.6v0.6h-0.6zM447.8 439.4h0.6v0.6h-0.6zM447.7 440.5h0.6v0.6h-0.6zM447.9 434.5h0.6v0.6h-0.6zM444.2 443.5h0.6v0.6h-0.6zM445.4 462.1h0.6v0.6h-0.6zM444.1 448.0h0.6v0.6h-0.6zM444.7 401.5h0.6v0.6h-0.6zM444.3 420.7h0.6v0.6h-0.6zM447.4 422.8h0.6v0.6h-0.6zM447.9 405.8h0.6v0.6h-0.6zM447.0 401.8h0.6v0.6h-0.6zM444.9 443.6h0.6v0.6h-0.6zM446.7 447.4h0.6v0.6h-0.6zM447.5 447.0h0.6v0.6h-0.6zM445.9 460.2h0.6v0.6h-0.6zM447.7 412.2h0.6v0.6h-0.6zM447.9 394.5h0.6v0.6h-0.6zM447.4 444.2h0.6v0.6h-0.6zM444.6 410.4h0.6v0.6h-0.6zM444.9 431.9h0.6v0.6h-0.6zM447.9 412.0h0.6v0.6h-0.6zM444.9 408.5h0.6v0.6h-0.6zM444.5 443.7h0.6v0.6h-0.6zM444.6 443.9h0.6v0.6h-0.6zM446.3 447.0h0.6v0.6h-0.6zM447.5 447.2h0.6v0.6h-0.6zM446.3 453.9h0.6v0.6h-0.6zM444.7 428.1h0.6v0.6h-0.6zM445.4 447.4h0.6v0.6h-0.6zM447.2 426.3h0.6v0.6h-0.6zM447.3 432.5h0.6v0.6h-0.6zM444.8 448.2h0.6v0.6h-0.6zM444.2 429.0h0.6v0.6h-0.6zM447.5 418.0h0.6v0.6h-0.6zM447.0 456.1h0.6v0.6h-0.6zM444.4 389.5h0.6v0.6h-0.6zM444.4 401.7h0.6v0.6h-0.6zM446.0 452.6h0.6v0.6h-0.6zM445.7 446.4h0.6v0.6h-0.6zM447.5 452.3h0.6v0.6h-0.6zM444.3 429.6h0.6v0.6h-0.6zM445.0 407.3h0.6v0.6h-0.6zM447.3 444.0h0.6v0.6h-0.6zM444.8 408.9h0.6v0.6h-0.6zM447.9 408.1h0.6v0.6h-0.6zM447.4 402.3h0.6v0.6h-0.6zM447.4 412.7h0.6v0.6h-0.6zM445.0 387.7h0.6v0.6h-0.6zM447.7 416.2h0.6v0.6h-0.6zM447.1 436.2h0.6v0.6h-0.6zM447.3 450.3h0.6v0.6h-0.6zM444.4 429.6h0.6v0.6h-0.6zM444.7 391.0h0.6v0.6h-0.6zM445.0 447.8h0.6v0.6h-0.6zM447.2 439.1h0.6v0.6h-0.6zM447.8 420.9h0.6v0.6h-0.6zM444.6 449.9h0.6v0.6h-0.6zM447.6 392.8h0.6v0.6h-0.6zM446.2 457.4h0.6v0.6h-0.6zM447.3 425.9h0.6v0.6h-0.6zM447.0 396.4h0.6v0.6h-0.6zM444.1 414.9h0.6v0.6h-0.6zM447.3 431.2h0.6v0.6h-0.6zM447.4 417.3h0.6v0.6h-0.6zM448.0 437.2h0.6v0.6h-0.6zM446.7 454.9h0.6v0.6h-0.6z" fill="#22182a" opacity="0.55"/>
<path d="M446.5 383.2h0.6v0.6h-0.6zM445.8 362.2h0.6v0.6h-0.6zM447.0 373.0h0.6v0.6h-0.6zM446.2 368.5h0.6v0.6h-0.6zM446.4 365.7h0.6v0.6h-0.6zM445.1 387.0h0.6v0.6h-0.6zM447.0 370.4h0.6v0.6h-0.6zM445.4 388.7h0.6v0.6h-0.6zM444.3 387.2h0.6v0.6h-0.6zM446.5 371.5h0.6v0.6h-0.6zM446.6 358.7h0.6v0.6h-0.6zM445.9 365.7h0.6v0.6h-0.6zM446.9 374.0h0.6v0.6h-0.6zM446.0 382.0h0.6v0.6h-0.6zM444.2 374.3h0.6v0.6h-0.6zM446.2 355.6h0.6v0.6h-0.6zM446.1 363.2h0.6v0.6h-0.6zM447.0 388.6h0.6v0.6h-0.6zM444.5 359.4h0.6v0.6h-0.6zM446.5 380.1h0.6v0.6h-0.6zM446.0 379.0h0.6v0.6h-0.6zM445.5 357.9h0.6v0.6h-0.6zM447.0 375.7h0.6v0.6h-0.6zM447.6 358.4h0.6v0.6h-0.6zM446.1 372.9h0.6v0.6h-0.6zM446.8 387.8h0.6v0.6h-0.6zM445.7 356.6h0.6v0.6h-0.6zM445.9 375.7h0.6v0.6h-0.6zM445.1 366.4h0.6v0.6h-0.6zM445.4 375.7h0.6v0.6h-0.6zM445.1 366.1h0.6v0.6h-0.6zM447.0 385.8h0.6v0.6h-0.6zM445.4 364.2h0.6v0.6h-0.6zM445.5 364.5h0.6v0.6h-0.6zM446.1 366.6h0.6v0.6h-0.6zM446.8 384.7h0.6v0.6h-0.6zM447.0 371.5h0.6v0.6h-0.6zM446.5 383.6h0.6v0.6h-0.6zM446.2 375.8h0.6v0.6h-0.6zM444.2 367.2h0.6v0.6h-0.6zM446.1 387.3h0.6v0.6h-0.6zM447.2 380.2h0.6v0.6h-0.6zM446.4 379.7h0.6v0.6h-0.6zM446.3 379.0h0.6v0.6h-0.6zM445.6 369.3h0.6v0.6h-0.6zM447.3 355.2h0.6v0.6h-0.6zM446.3 382.4h0.6v0.6h-0.6zM445.5 364.1h0.6v0.6h-0.6zM445.6 385.9h0.6v0.6h-0.6zM445.4 381.0h0.6v0.6h-0.6zM446.6 379.5h0.6v0.6h-0.6zM447.3 388.0h0.6v0.6h-0.6zM446.9 367.8h0.6v0.6h-0.6zM444.7 385.0h0.6v0.6h-0.6z" fill="#555" opacity="0.55"/>
<text x="54.8" y="540.9" font-size="12.6" fill="#111" font-weight="bold">F</text>
<text x="104" y="542.5" font-size="7" fill="#2a2a2a" stroke="#2a2a2a" stroke-width="0.05" textLength="33.1" lengthAdjust="spacingAndGlyphs">GABARAP</text>
<text x="137.3" y="539.8" font-size="4.2" fill="#2a2a2a" font-style="italic" textLength="8.4" lengthAdjust="spacingAndGlyphs">Neg</text>
<text x="185.2" y="542.5" font-size="7" fill="#2a2a2a" stroke="#2a2a2a" stroke-width="0.05" textLength="32.5" lengthAdjust="spacingAndGlyphs">GABARAP</text>
<text x="217.9" y="539.8" font-size="4.2" fill="#2a2a2a" font-style="italic" textLength="7.8" lengthAdjust="spacingAndGlyphs">Pos</text>
<text x="80.4" y="570.6" font-size="7.2" fill="#2a2a2a" stroke="#2a2a2a" stroke-width="0.05" text-anchor="end" textLength="14.6" lengthAdjust="spacingAndGlyphs">H&amp;E</text>
<text x="80.4" y="610.2" font-size="7.2" fill="#2a2a2a" stroke="#2a2a2a" stroke-width="0.05" text-anchor="end" textLength="14.6" lengthAdjust="spacingAndGlyphs">GAB</text>
<text x="80.4" y="654" font-size="7.2" fill="#2a2a2a" stroke="#2a2a2a" stroke-width="0.05" text-anchor="end" textLength="13.9" lengthAdjust="spacingAndGlyphs">CD3</text>
<text x="80.4" y="696.7" font-size="7.2" fill="#2a2a2a" stroke="#2a2a2a" stroke-width="0.05" text-anchor="end" textLength="14.6" lengthAdjust="spacingAndGlyphs">CD8</text>
<clipPath id="tc1"><rect x="83.6" y="548.1" width="78.2" height="40.4"/></clipPath>
<g clip-path="url(#tc1)"><g filter="url(#soft)">
<rect x="82.6" y="547.1" width="80.2" height="42.4" fill="#7a4ca6"/>
<ellipse cx="150.07" cy="556.18" rx="10" ry="6" fill="#c49ad0" opacity="0.7"/>
<ellipse cx="107.06" cy="576.38" rx="8" ry="6" fill="#5e3090" opacity="0.5"/>
<path d="M158.7 550.9a0.8 0.8 0 1 0 1.7 0a0.8 0.8 0 1 0 -1.7 0zM101.2 580.1a1.1 1.1 0 1 0 2.2 0a1.1 1.1 0 1 0 -2.2 0zM106.5 583.2a1.4 1.4 0 1 0 2.9 0a1.4 1.4 0 1 0 -2.9 0zM156.0 583.5a1.6 1.6 0 1 0 3.2 0a1.6 1.6 0 1 0 -3.2 0zM119.6 587.5a0.7 0.7 0 1 0 1.5 0a0.7 0.7 0 1 0 -1.5 0zM100.7 556.9a1.6 1.6 0 1 0 3.1 0a1.6 1.6 0 1 0 -3.1 0zM142.0 578.6a0.8 0.8 0 1 0 1.7 0a0.8 0.8 0 1 0 -1.7 0zM85.8 569.5a1.5 1.5 0 1 0 2.9 0a1.5 1.5 0 1 0 -2.9 0zM145.7 551.1a0.9 0.9 0 1 0 1.8 0a0.9 0.9 0 1 0 -1.8 0zM117.6 585.5a0.9 0.9 0 1 0 1.7 0a0.9 0.9 0 1 0 -1.7 0zM122.2 558.9a1.6 1.6 0 1 0 3.3 0a1.6 1.6 0 1 0 -3.3 0zM151.3 553.9a1.4 1.4 0 1 0 2.9 0a1.4 1.4 0 1 0 -2.9 0zM89.2 569.9a0.8 0.8 0 1 0 1.6 0a0.8 0.8 0 1 0 -1.6 0zM140.3 557.8a0.6 0.6 0 1 0 1.3 0a0.6 0.6 0 1 0 -1.3 0zM90.9 560.5a1.2 1.2 0 1 0 2.3 0a1.2 1.2 0 1 0 -2.3 0zM158.5 577.7a0.7 0.7 0 1 0 1.3 0a0.7 0.7 0 1 0 -1.3 0zM134.7 565.1a1.2 1.2 0 1 0 2.5 0a1.2 1.2 0 1 0 -2.5 0zM151.8 556.4a0.8 0.8 0 1 0 1.7 0a0.8 0.8 0 1 0 -1.7 0zM129.9 580.6a1.6 1.6 0 1 0 3.3 0a1.6 1.6 0 1 0 -3.3 0zM142.7 557.9a1.0 1.0 0 1 0 1.9 0a1.0 1.0 0 1 0 -1.9 0zM128.9 580.4a1.6 1.6 0 1 0 3.2 0a1.6 1.6 0 1 0 -3.2 0zM143.6 584.9a1.6 1.6 0 1 0 3.2 0a1.6 1.6 0 1 0 -3.2 0zM114.5 556.4a1.4 1.4 0 1 0 2.8 0a1.4 1.4 0 1 0 -2.8 0zM135.3 579.6a1.7 1.7 0 1 0 3.5 0a1.7 1.7 0 1 0 -3.5 0zM106.8 569.1a0.7 0.7 0 1 0 1.5 0a0.7 0.7 0 1 0 -1.5 0zM114.4 585.5a0.7 0.7 0 1 0 1.5 0a0.7 0.7 0 1 0 -1.5 0zM115.5 564.7a0.7 0.7 0 1 0 1.4 0a0.7 0.7 0 1 0 -1.4 0zM108.0 586.9a1.8 1.8 0 1 0 3.6 0a1.8 1.8 0 1 0 -3.6 0z" fill="#5e3896"/>
<path d="M119.3 574.9a0.9 0.9 0 1 0 1.7 0a0.9 0.9 0 1 0 -1.7 0zM127.1 554.3a0.6 0.6 0 1 0 1.3 0a0.6 0.6 0 1 0 -1.3 0zM144.7 553.8a0.8 0.8 0 1 0 1.6 0a0.8 0.8 0 1 0 -1.6 0zM140.2 584.2a1.1 1.1 0 1 0 2.3 0a1.1 1.1 0 1 0 -2.3 0zM89.8 586.0a0.9 0.9 0 1 0 1.8 0a0.9 0.9 0 1 0 -1.8 0zM100.9 559.4a1.8 1.8 0 1 0 3.5 0a1.8 1.8 0 1 0 -3.5 0zM152.9 564.3a0.7 0.7 0 1 0 1.3 0a0.7 0.7 0 1 0 -1.3 0zM122.6 556.8a1.4 1.4 0 1 0 2.8 0a1.4 1.4 0 1 0 -2.8 0zM109.2 563.0a1.1 1.1 0 1 0 2.3 0a1.1 1.1 0 1 0 -2.3 0zM98.0 587.5a1.5 1.5 0 1 0 3.0 0a1.5 1.5 0 1 0 -3.0 0zM116.6 550.2a1.3 1.3 0 1 0 2.5 0a1.3 1.3 0 1 0 -2.5 0zM144.5 561.8a1.5 1.5 0 1 0 3.0 0a1.5 1.5 0 1 0 -3.0 0zM159.0 577.7a1.4 1.4 0 1 0 2.8 0a1.4 1.4 0 1 0 -2.8 0zM139.3 571.8a1.4 1.4 0 1 0 2.8 0a1.4 1.4 0 1 0 -2.8 0zM155.8 580.2a1.4 1.4 0 1 0 2.8 0a1.4 1.4 0 1 0 -2.8 0zM153.1 571.4a1.2 1.2 0 1 0 2.4 0a1.2 1.2 0 1 0 -2.4 0zM137.0 557.8a1.1 1.1 0 1 0 2.1 0a1.1 1.1 0 1 0 -2.1 0zM119.5 556.2a0.8 0.8 0 1 0 1.6 0a0.8 0.8 0 1 0 -1.6 0zM86.4 550.4a0.6 0.6 0 1 0 1.2 0a0.6 0.6 0 1 0 -1.2 0zM121.1 563.9a0.7 0.7 0 1 0 1.5 0a0.7 0.7 0 1 0 -1.5 0zM130.6 553.6a1.7 1.7 0 1 0 3.5 0a1.7 1.7 0 1 0 -3.5 0zM147.8 554.7a0.7 0.7 0 1 0 1.4 0a0.7 0.7 0 1 0 -1.4 0zM142.4 565.0a1.1 1.1 0 1 0 2.2 0a1.1 1.1 0 1 0 -2.2 0zM90.1 555.0a1.6 1.6 0 1 0 3.2 0a1.6 1.6 0 1 0 -3.2 0zM121.9 560.4a0.8 0.8 0 1 0 1.5 0a0.8 0.8 0 1 0 -1.5 0zM83.4 561.1a0.8 0.8 0 1 0 1.6 0a0.8 0.8 0 1 0 -1.6 0zM122.4 565.2a1.5 1.5 0 1 0 3.1 0a1.5 1.5 0 1 0 -3.1 0zM147.2 579.6a0.8 0.8 0 1 0 1.6 0a0.8 0.8 0 1 0 -1.6 0zM151.4 548.6a0.8 0.8 0 1 0 1.6 0a0.8 0.8 0 1 0 -1.6 0zM149.4 581.3a1.5 1.5 0 1 0 3.1 0a1.5 1.5 0 1 0 -3.1 0zM119.9 554.2a1.6 1.6 0 1 0 3.1 0a1.6 1.6 0 1 0 -3.1 0zM82.9 566.9a1.7 1.7 0 1 0 3.3 0a1.7 1.7 0 1 0 -3.3 0zM111.6 557.1a1.6 1.6 0 1 0 3.1 0a1.6 1.6 0 1 0 -3.1 0zM160.6 549.1a1.0 1.0 0 1 0 2.1 0a1.0 1.0 0 1 0 -2.1 0zM115.5 554.3a0.9 0.9 0 1 0 1.7 0a0.9 0.9 0 1 0 -1.7 0zM88.6 554.6a0.9 0.9 0 1 0 1.9 0a0.9 0.9 0 1 0 -1.9 0zM123.3 570.3a1.5 1.5 0 1 0 2.9 0a1.5 1.5 0 1 0 -2.9 0zM90.1 566.3a1.7 1.7 0 1 0 3.5 0a1.7 1.7 0 1 0 -3.5 0zM138.7 553.3a0.8 0.8 0 1 0 1.7 0a0.8 0.8 0 1 0 -1.7 0zM130.9 579.2a1.7 1.7 0 1 0 3.3 0a1.7 1.7 0 1 0 -3.3 0zM142.3 552.6a1.2 1.2 0 1 0 2.4 0a1.2 1.2 0 1 0 -2.4 0zM138.4 581.0a1.3 1.3 0 1 0 2.6 0a1.3 1.3 0 1 0 -2.6 0zM156.9 558.2a0.6 0.6 0 1 0 1.3 0a0.6 0.6 0 1 0 -1.3 0zM158.6 562.4a0.9 0.9 0 1 0 1.8 0a0.9 0.9 0 1 0 -1.8 0zM143.9 587.5a1.2 1.2 0 1 0 2.4 0a1.2 1.2 0 1 0 -2.4 0zM120.6 566.9a1.4 1.4 0 1 0 2.7 0a1.4 1.4 0 1 0 -2.7 0zM127.4 577.1a1.5 1.5 0 1 0 3.1 0a1.5 1.5 0 1 0 -3.1 0zM119.7 557.5a1.0 1.0 0 1 0 2.0 0a1.0 1.0 0 1 0 -2.0 0zM136.1 554.3a0.9 0.9 0 1 0 1.9 0a0.9 0.9 0 1 0 -1.9 0zM154.0 557.2a0.9 0.9 0 1 0 1.7 0a0.9 0.9 0 1 0 -1.7 0zM87.3 578.1a0.9 0.9 0 1 0 1.7 0a0.9 0.9 0 1 0 -1.7 0zM123.3 578.4a1.8 1.8 0 1 0 3.6 0a1.8 1.8 0 1 0 -3.6 0zM115.7 557.6a0.7 0.7 0 1 0 1.4 0a0.7 0.7 0 1 0 -1.4 0zM129.4 586.6a1.2 1.2 0 1 0 2.5 0a1.2 1.2 0 1 0 -2.5 0zM104.2 548.8a1.8 1.8 0 1 0 3.6 0a1.8 1.8 0 1 0 -3.6 0zM128.4 578.0a1.8 1.8 0 1 0 3.5 0a1.8 1.8 0 1 0 -3.5 0z" fill="#8a5ab4"/>
<path d="M127.3 556.0a1.8 1.8 0 1 0 3.5 0a1.8 1.8 0 1 0 -3.5 0zM153.8 567.7a1.5 1.5 0 1 0 3.1 0a1.5 1.5 0 1 0 -3.1 0zM117.6 569.8a0.8 0.8 0 1 0 1.7 0a0.8 0.8 0 1 0 -1.7 0zM82.9 566.8a1.2 1.2 0 1 0 2.5 0a1.2 1.2 0 1 0 -2.5 0zM144.8 563.1a1.0 1.0 0 1 0 2.1 0a1.0 1.0 0 1 0 -2.1 0zM104.2 578.9a1.1 1.1 0 1 0 2.2 0a1.1 1.1 0 1 0 -2.2 0zM87.5 570.3a1.4 1.4 0 1 0 2.9 0a1.4 1.4 0 1 0 -2.9 0zM118.4 555.9a1.4 1.4 0 1 0 2.8 0a1.4 1.4 0 1 0 -2.8 0zM115.3 569.3a1.6 1.6 0 1 0 3.1 0a1.6 1.6 0 1 0 -3.1 0zM133.9 549.9a1.0 1.0 0 1 0 2.0 0a1.0 1.0 0 1 0 -2.0 0zM119.1 556.0a1.3 1.3 0 1 0 2.6 0a1.3 1.3 0 1 0 -2.6 0zM108.8 586.0a0.9 0.9 0 1 0 1.9 0a0.9 0.9 0 1 0 -1.9 0zM98.7 566.6a1.3 1.3 0 1 0 2.5 0a1.3 1.3 0 1 0 -2.5 0zM141.4 582.8a0.7 0.7 0 1 0 1.3 0a0.7 0.7 0 1 0 -1.3 0zM138.0 588.2a1.3 1.3 0 1 0 2.6 0a1.3 1.3 0 1 0 -2.6 0zM114.4 553.5a0.7 0.7 0 1 0 1.3 0a0.7 0.7 0 1 0 -1.3 0zM136.4 550.6a0.7 0.7 0 1 0 1.4 0a0.7 0.7 0 1 0 -1.4 0zM111.6 580.3a1.7 1.7 0 1 0 3.3 0a1.7 1.7 0 1 0 -3.3 0zM121.5 567.8a0.8 0.8 0 1 0 1.7 0a0.8 0.8 0 1 0 -1.7 0zM134.7 551.8a1.4 1.4 0 1 0 2.8 0a1.4 1.4 0 1 0 -2.8 0zM141.3 567.9a1.1 1.1 0 1 0 2.3 0a1.1 1.1 0 1 0 -2.3 0zM87.5 575.5a0.9 0.9 0 1 0 1.9 0a0.9 0.9 0 1 0 -1.9 0zM122.0 567.5a0.7 0.7 0 1 0 1.3 0a0.7 0.7 0 1 0 -1.3 0zM107.6 571.3a1.0 1.0 0 1 0 1.9 0a1.0 1.0 0 1 0 -1.9 0zM109.9 585.1a1.4 1.4 0 1 0 2.9 0a1.4 1.4 0 1 0 -2.9 0zM101.2 561.5a0.8 0.8 0 1 0 1.6 0a0.8 0.8 0 1 0 -1.6 0zM105.4 571.5a0.7 0.7 0 1 0 1.4 0a0.7 0.7 0 1 0 -1.4 0zM89.0 556.2a1.4 1.4 0 1 0 2.7 0a1.4 1.4 0 1 0 -2.7 0zM85.4 585.9a1.4 1.4 0 1 0 2.9 0a1.4 1.4 0 1 0 -2.9 0zM134.8 574.8a0.8 0.8 0 1 0 1.6 0a0.8 0.8 0 1 0 -1.6 0zM90.8 581.5a1.6 1.6 0 1 0 3.3 0a1.6 1.6 0 1 0 -3.3 0zM130.2 566.1a0.8 0.8 0 1 0 1.6 0a0.8 0.8 0 1 0 -1.6 0zM133.3 552.6a1.1 1.1 0 1 0 2.2 0a1.1 1.1 0 1 0 -2.2 0zM120.4 588.4a1.8 1.8 0 1 0 3.5 0a1.8 1.8 0 1 0 -3.5 0zM102.7 579.1a0.6 0.6 0 1 0 1.3 0a0.6 0.6 0 1 0 -1.3 0zM154.5 565.2a1.5 1.5 0 1 0 2.9 0a1.5 1.5 0 1 0 -2.9 0zM159.0 582.3a1.2 1.2 0 1 0 2.3 0a1.2 1.2 0 1 0 -2.3 0zM88.8 588.5a1.0 1.0 0 1 0 2.1 0a1.0 1.0 0 1 0 -2.1 0zM132.1 574.0a1.4 1.4 0 1 0 2.9 0a1.4 1.4 0 1 0 -2.9 0zM122.7 580.8a0.7 0.7 0 1 0 1.4 0a0.7 0.7 0 1 0 -1.4 0zM137.6 575.2a1.5 1.5 0 1 0 3.0 0a1.5 1.5 0 1 0 -3.0 0zM125.1 578.3a1.2 1.2 0 1 0 2.3 0a1.2 1.2 0 1 0 -2.3 0zM141.4 587.0a0.9 0.9 0 1 0 1.8 0a0.9 0.9 0 1 0 -1.8 0zM102.8 583.1a0.7 0.7 0 1 0 1.4 0a0.7 0.7 0 1 0 -1.4 0zM124.8 556.1a1.6 1.6 0 1 0 3.2 0a1.6 1.6 0 1 0 -3.2 0zM117.7 563.0a1.7 1.7 0 1 0 3.3 0a1.7 1.7 0 1 0 -3.3 0zM125.1 554.8a1.5 1.5 0 1 0 3.0 0a1.5 1.5 0 1 0 -3.0 0z" fill="#6a4aa0"/>
<path d="M135.1 575.0a1.7 1.7 0 1 0 3.3 0a1.7 1.7 0 1 0 -3.3 0zM144.1 557.4a0.7 0.7 0 1 0 1.4 0a0.7 0.7 0 1 0 -1.4 0zM135.1 572.7a1.3 1.3 0 1 0 2.7 0a1.3 1.3 0 1 0 -2.7 0zM89.0 554.2a1.0 1.0 0 1 0 1.9 0a1.0 1.0 0 1 0 -1.9 0zM82.9 573.7a1.6 1.6 0 1 0 3.3 0a1.6 1.6 0 1 0 -3.3 0zM135.6 577.8a0.9 0.9 0 1 0 1.8 0a0.9 0.9 0 1 0 -1.8 0zM86.0 588.2a1.5 1.5 0 1 0 3.0 0a1.5 1.5 0 1 0 -3.0 0zM154.6 550.5a1.1 1.1 0 1 0 2.2 0a1.1 1.1 0 1 0 -2.2 0zM134.0 579.2a1.7 1.7 0 1 0 3.5 0a1.7 1.7 0 1 0 -3.5 0zM100.5 569.3a0.6 0.6 0 1 0 1.3 0a0.6 0.6 0 1 0 -1.3 0zM154.8 558.8a1.8 1.8 0 1 0 3.6 0a1.8 1.8 0 1 0 -3.6 0zM119.7 587.3a1.6 1.6 0 1 0 3.2 0a1.6 1.6 0 1 0 -3.2 0zM115.0 574.8a1.5 1.5 0 1 0 3.0 0a1.5 1.5 0 1 0 -3.0 0zM142.6 579.2a1.5 1.5 0 1 0 3.0 0a1.5 1.5 0 1 0 -3.0 0zM97.0 567.3a1.3 1.3 0 1 0 2.7 0a1.3 1.3 0 1 0 -2.7 0zM154.9 573.7a1.8 1.8 0 1 0 3.6 0a1.8 1.8 0 1 0 -3.6 0zM108.1 586.1a1.6 1.6 0 1 0 3.2 0a1.6 1.6 0 1 0 -3.2 0zM138.7 548.5a0.7 0.7 0 1 0 1.5 0a0.7 0.7 0 1 0 -1.5 0zM88.3 584.5a1.6 1.6 0 1 0 3.1 0a1.6 1.6 0 1 0 -3.1 0zM107.1 565.9a0.7 0.7 0 1 0 1.4 0a0.7 0.7 0 1 0 -1.4 0zM108.5 550.9a0.7 0.7 0 1 0 1.4 0a0.7 0.7 0 1 0 -1.4 0zM104.2 571.1a1.5 1.5 0 1 0 3.0 0a1.5 1.5 0 1 0 -3.0 0zM134.4 569.0a1.7 1.7 0 1 0 3.3 0a1.7 1.7 0 1 0 -3.3 0zM141.3 564.3a1.7 1.7 0 1 0 3.3 0a1.7 1.7 0 1 0 -3.3 0zM128.9 555.7a1.1 1.1 0 1 0 2.1 0a1.1 1.1 0 1 0 -2.1 0zM122.5 564.6a1.2 1.2 0 1 0 2.5 0a1.2 1.2 0 1 0 -2.5 0zM140.9 558.1a1.6 1.6 0 1 0 3.2 0a1.6 1.6 0 1 0 -3.2 0zM107.3 554.1a1.4 1.4 0 1 0 2.7 0a1.4 1.4 0 1 0 -2.7 0zM98.1 579.7a0.8 0.8 0 1 0 1.6 0a0.8 0.8 0 1 0 -1.6 0zM108.2 584.1a0.9 0.9 0 1 0 1.9 0a0.9 0.9 0 1 0 -1.9 0zM156.9 555.4a0.9 0.9 0 1 0 1.8 0a0.9 0.9 0 1 0 -1.8 0zM125.9 577.2a0.8 0.8 0 1 0 1.6 0a0.8 0.8 0 1 0 -1.6 0zM97.7 583.9a1.3 1.3 0 1 0 2.5 0a1.3 1.3 0 1 0 -2.5 0zM136.3 587.9a1.1 1.1 0 1 0 2.2 0a1.1 1.1 0 1 0 -2.2 0zM134.5 558.0a1.8 1.8 0 1 0 3.6 0a1.8 1.8 0 1 0 -3.6 0zM107.4 563.2a1.3 1.3 0 1 0 2.5 0a1.3 1.3 0 1 0 -2.5 0zM146.7 569.0a1.2 1.2 0 1 0 2.5 0a1.2 1.2 0 1 0 -2.5 0zM127.9 574.1a1.2 1.2 0 1 0 2.4 0a1.2 1.2 0 1 0 -2.4 0zM84.8 571.2a1.5 1.5 0 1 0 3.1 0a1.5 1.5 0 1 0 -3.1 0zM94.3 573.8a0.7 0.7 0 1 0 1.4 0a0.7 0.7 0 1 0 -1.4 0zM130.2 586.4a1.4 1.4 0 1 0 2.7 0a1.4 1.4 0 1 0 -2.7 0zM82.8 563.0a1.6 1.6 0 1 0 3.1 0a1.6 1.6 0 1 0 -3.1 0zM98.5 580.6a1.7 1.7 0 1 0 3.4 0a1.7 1.7 0 1 0 -3.4 0z" fill="#a07ac0"/>
<path d="M116.5 560.4a0.7 0.7 0 1 0 1.5 0a0.7 0.7 0 1 0 -1.5 0zM152.9 571.1a0.8 0.8 0 1 0 1.6 0a0.8 0.8 0 1 0 -1.6 0zM156.9 550.8a1.3 1.3 0 1 0 2.6 0a1.3 1.3 0 1 0 -2.6 0zM135.5 575.9a1.0 1.0 0 1 0 2.1 0a1.0 1.0 0 1 0 -2.1 0zM156.8 579.3a1.2 1.2 0 1 0 2.3 0a1.2 1.2 0 1 0 -2.3 0zM130.2 553.0a0.7 0.7 0 1 0 1.4 0a0.7 0.7 0 1 0 -1.4 0zM117.9 549.6a0.8 0.8 0 1 0 1.7 0a0.8 0.8 0 1 0 -1.7 0zM91.2 569.4a0.6 0.6 0 1 0 1.2 0a0.6 0.6 0 1 0 -1.2 0zM91.0 588.0a1.1 1.1 0 1 0 2.3 0a1.1 1.1 0 1 0 -2.3 0zM100.9 577.3a1.1 1.1 0 1 0 2.1 0a1.1 1.1 0 1 0 -2.1 0zM92.3 572.0a1.4 1.4 0 1 0 2.8 0a1.4 1.4 0 1 0 -2.8 0zM110.8 580.1a1.7 1.7 0 1 0 3.5 0a1.7 1.7 0 1 0 -3.5 0zM103.2 587.3a1.5 1.5 0 1 0 2.9 0a1.5 1.5 0 1 0 -2.9 0zM104.3 564.2a1.5 1.5 0 1 0 3.0 0a1.5 1.5 0 1 0 -3.0 0zM134.6 560.1a0.9 0.9 0 1 0 1.8 0a0.9 0.9 0 1 0 -1.8 0zM90.8 578.9a0.7 0.7 0 1 0 1.4 0a0.7 0.7 0 1 0 -1.4 0zM149.9 582.6a1.5 1.5 0 1 0 2.9 0a1.5 1.5 0 1 0 -2.9 0zM153.4 550.3a1.5 1.5 0 1 0 3.0 0a1.5 1.5 0 1 0 -3.0 0zM124.0 570.8a0.9 0.9 0 1 0 1.9 0a0.9 0.9 0 1 0 -1.9 0zM128.2 575.4a0.9 0.9 0 1 0 1.8 0a0.9 0.9 0 1 0 -1.8 0zM140.0 551.6a0.8 0.8 0 1 0 1.5 0a0.8 0.8 0 1 0 -1.5 0zM101.9 582.9a1.0 1.0 0 1 0 2.0 0a1.0 1.0 0 1 0 -2.0 0zM122.1 578.3a0.7 0.7 0 1 0 1.3 0a0.7 0.7 0 1 0 -1.3 0zM110.5 551.4a0.8 0.8 0 1 0 1.6 0a0.8 0.8 0 1 0 -1.6 0zM153.0 563.7a1.8 1.8 0 1 0 3.6 0a1.8 1.8 0 1 0 -3.6 0zM97.7 583.2a1.6 1.6 0 1 0 3.3 0a1.6 1.6 0 1 0 -3.3 0zM120.7 580.5a1.0 1.0 0 1 0 2.1 0a1.0 1.0 0 1 0 -2.1 0zM147.8 556.3a1.8 1.8 0 1 0 3.5 0a1.8 1.8 0 1 0 -3.5 0zM155.2 572.8a1.4 1.4 0 1 0 2.8 0a1.4 1.4 0 1 0 -2.8 0zM138.5 561.7a1.1 1.1 0 1 0 2.2 0a1.1 1.1 0 1 0 -2.2 0zM91.4 569.1a0.8 0.8 0 1 0 1.6 0a0.8 0.8 0 1 0 -1.6 0zM139.9 554.2a0.8 0.8 0 1 0 1.6 0a0.8 0.8 0 1 0 -1.6 0zM86.5 585.1a1.5 1.5 0 1 0 2.9 0a1.5 1.5 0 1 0 -2.9 0zM120.0 553.1a1.4 1.4 0 1 0 2.7 0a1.4 1.4 0 1 0 -2.7 0zM138.4 551.1a0.8 0.8 0 1 0 1.5 0a0.8 0.8 0 1 0 -1.5 0zM141.1 569.3a1.5 1.5 0 1 0 3.1 0a1.5 1.5 0 1 0 -3.1 0zM93.4 580.2a1.1 1.1 0 1 0 2.1 0a1.1 1.1 0 1 0 -2.1 0zM125.1 580.9a1.5 1.5 0 1 0 2.9 0a1.5 1.5 0 1 0 -2.9 0zM115.8 560.9a1.6 1.6 0 1 0 3.3 0a1.6 1.6 0 1 0 -3.3 0zM94.1 580.4a1.3 1.3 0 1 0 2.5 0a1.3 1.3 0 1 0 -2.5 0zM122.0 578.5a1.3 1.3 0 1 0 2.7 0a1.3 1.3 0 1 0 -2.7 0zM132.1 587.1a0.9 0.9 0 1 0 1.8 0a0.9 0.9 0 1 0 -1.8 0zM119.4 576.0a1.6 1.6 0 1 0 3.3 0a1.6 1.6 0 1 0 -3.3 0zM90.9 554.5a1.8 1.8 0 1 0 3.5 0a1.8 1.8 0 1 0 -3.5 0zM109.4 573.5a1.2 1.2 0 1 0 2.4 0a1.2 1.2 0 1 0 -2.4 0zM122.2 580.2a1.7 1.7 0 1 0 3.4 0a1.7 1.7 0 1 0 -3.4 0z" fill="#b890cc"/>
<path d="M111.4 590.2a4.2 4.1 0 1 0 8.4 0a4.2 4.1 0 1 0 -8.4 0zM146.1 585.4a4.0 3.7 0 1 0 8.0 0a4.0 3.7 0 1 0 -8.0 0zM122.2 546.4a4.5 4.3 0 1 0 8.9 0a4.5 4.3 0 1 0 -8.9 0zM82.3 588.8a4.2 3.9 0 1 0 8.4 0a4.2 3.9 0 1 0 -8.4 0zM95.8 547.9a4.0 3.3 0 1 0 8.0 0a4.0 3.3 0 1 0 -8.0 0zM142.1 558.1a3.8 3.5 0 1 0 7.7 0a3.8 3.5 0 1 0 -7.7 0zM134.0 549.5a4.2 3.9 0 1 0 8.4 0a4.2 3.9 0 1 0 -8.4 0zM143.9 566.7a4.3 3.3 0 1 0 8.7 0a4.3 3.3 0 1 0 -8.7 0zM124.6 560.0a4.1 3.4 0 1 0 8.2 0a4.1 3.4 0 1 0 -8.2 0zM112.4 563.6a3.5 3.6 0 1 0 7.0 0a3.5 3.6 0 1 0 -7.0 0zM137.6 581.4a3.9 3.6 0 1 0 7.7 0a3.9 3.6 0 1 0 -7.7 0zM107.6 574.1a4.0 3.2 0 1 0 8.0 0a4.0 3.2 0 1 0 -8.0 0zM156.8 584.1a3.8 3.6 0 1 0 7.5 0a3.8 3.6 0 1 0 -7.5 0zM82.1 560.2a3.5 3.3 0 1 0 7.1 0a3.5 3.3 0 1 0 -7.1 0zM143.5 546.2a4.2 3.3 0 1 0 8.4 0a4.2 3.3 0 1 0 -8.4 0zM104.2 551.6a4.2 3.8 0 1 0 8.4 0a4.2 3.8 0 1 0 -8.4 0zM96.9 571.5a4.2 3.8 0 1 0 8.5 0a4.2 3.8 0 1 0 -8.5 0zM128.3 577.0a4.4 3.3 0 1 0 8.8 0a4.4 3.3 0 1 0 -8.8 0zM94.3 561.4a3.7 3.7 0 1 0 7.4 0a3.7 3.7 0 1 0 -7.4 0zM87.4 553.3a3.4 3.7 0 1 0 6.8 0a3.4 3.7 0 1 0 -6.8 0zM155.3 569.3a3.8 3.3 0 1 0 7.6 0a3.8 3.3 0 1 0 -7.6 0zM98.6 584.8a4.4 4.1 0 1 0 8.8 0a4.4 4.1 0 1 0 -8.8 0zM86.5 579.8a4.3 3.5 0 1 0 8.6 0a4.3 3.5 0 1 0 -8.6 0zM116.3 580.3a3.5 3.4 0 1 0 7.0 0a3.5 3.4 0 1 0 -7.0 0zM77.7 575.8a4.3 3.8 0 1 0 8.7 0a4.3 3.8 0 1 0 -8.7 0zM155.1 559.6a3.8 3.8 0 1 0 7.5 0a3.8 3.8 0 1 0 -7.5 0zM131.3 589.7a3.6 3.5 0 1 0 7.2 0a3.6 3.5 0 1 0 -7.2 0zM112.9 546.5a3.6 3.5 0 1 0 7.2 0a3.6 3.5 0 1 0 -7.2 0zM153.7 547.9a4.2 3.3 0 1 0 8.4 0a4.2 3.3 0 1 0 -8.4 0zM115.4 555.2a4.3 3.5 0 1 0 8.6 0a4.3 3.5 0 1 0 -8.6 0zM137.0 572.1a3.5 3.9 0 1 0 7.1 0a3.5 3.9 0 1 0 -7.1 0zM118.2 571.5a3.1 3.0 0 1 0 6.2 0a3.1 3.0 0 1 0 -6.2 0zM136.1 563.3a3.2 3.4 0 1 0 6.4 0a3.2 3.4 0 1 0 -6.4 0zM79.1 551.3a3.1 2.8 0 1 0 6.2 0a3.1 2.8 0 1 0 -6.2 0zM88.0 569.1a3.7 2.8 0 1 0 7.5 0a3.7 2.8 0 1 0 -7.5 0zM123.7 585.8a3.1 3.5 0 1 0 6.1 0a3.1 3.5 0 1 0 -6.1 0zM144.8 575.7a3.8 2.8 0 1 0 7.6 0a3.8 2.8 0 1 0 -7.6 0zM160.0 576.6a3.1 3.0 0 1 0 6.3 0a3.1 3.0 0 1 0 -6.3 0zM106.4 560.7a2.4 3.0 0 1 0 4.8 0a2.4 3.0 0 1 0 -4.8 0zM92.5 587.0a2.6 2.4 0 1 0 5.2 0a2.6 2.4 0 1 0 -5.2 0zM128.6 569.2a2.3 2.3 0 1 0 4.7 0a2.3 2.3 0 1 0 -4.7 0zM141.0 590.0a2.8 2.5 0 1 0 5.5 0a2.8 2.5 0 1 0 -5.5 0zM152.4 579.9a2.3 1.8 0 1 0 4.6 0a2.3 1.8 0 1 0 -4.6 0zM89.7 546.5a1.9 2.2 0 1 0 3.8 0a1.9 2.2 0 1 0 -3.8 0zM101.8 564.6a2.4 2.1 0 1 0 4.8 0a2.4 2.1 0 1 0 -4.8 0zM153.5 590.4a1.8 1.8 0 1 0 3.6 0a1.8 1.8 0 1 0 -3.6 0zM98.9 554.6a2.1 1.6 0 1 0 4.1 0a2.1 1.6 0 1 0 -4.1 0zM122.3 565.7a1.7 1.5 0 1 0 3.4 0a1.7 1.5 0 1 0 -3.4 0zM110.6 583.3a1.6 1.6 0 1 0 3.2 0a1.6 1.6 0 1 0 -3.2 0zM161.5 552.9a1.8 1.6 0 1 0 3.6 0a1.8 1.6 0 1 0 -3.6 0zM150.4 552.6a1.9 1.7 0 1 0 3.8 0a1.9 1.7 0 1 0 -3.8 0zM81.5 567.9a1.8 1.7 0 1 0 3.6 0a1.8 1.7 0 1 0 -3.6 0zM135.2 557.6a1.6 1.5 0 1 0 3.3 0a1.6 1.5 0 1 0 -3.3 0zM83.9 546.2a1.8 1.3 0 1 0 3.6 0a1.8 1.3 0 1 0 -3.6 0zM129.2 552.6a1.5 1.6 0 1 0 3.1 0a1.5 1.6 0 1 0 -3.1 0zM106.0 568.7a1.6 1.5 0 1 0 3.1 0a1.6 1.5 0 1 0 -3.1 0zM121.1 589.4a1.3 1.7 0 1 0 2.7 0a1.3 1.7 0 1 0 -2.7 0zM125.7 572.6a1.6 1.5 0 1 0 3.2 0a1.6 1.5 0 1 0 -3.2 0zM105.1 578.0a1.2 1.2 0 1 0 2.4 0a1.2 1.2 0 1 0 -2.4 0zM82.5 582.3a1.4 1.3 0 1 0 2.7 0a1.4 1.3 0 1 0 -2.7 0zM151.6 557.1a1.3 1.1 0 1 0 2.7 0a1.3 1.1 0 1 0 -2.7 0zM153.6 574.1a1.2 1.3 0 1 0 2.3 0a1.2 1.3 0 1 0 -2.3 0zM107.8 590.3a1.2 1.4 0 1 0 2.3 0a1.2 1.4 0 1 0 -2.3 0zM124.5 577.0a1.0 1.1 0 1 0 2.0 0a1.0 1.1 0 1 0 -2.0 0zM126.0 552.9a1.1 0.9 0 1 0 2.1 0a1.1 0.9 0 1 0 -2.1 0zM95.4 576.1a1.1 0.9 0 1 0 2.1 0a1.1 0.9 0 1 0 -2.1 0zM102.9 559.8a0.9 1.0 0 1 0 1.9 0a0.9 1.0 0 1 0 -1.9 0zM91.5 559.0a1.2 1.0 0 1 0 2.4 0a1.2 1.0 0 1 0 -2.4 0zM101.6 578.3a1.1 0.9 0 1 0 2.2 0a1.1 0.9 0 1 0 -2.2 0zM133.1 555.2a1.0 0.8 0 1 0 2.1 0a1.0 0.8 0 1 0 -2.1 0zM132.8 565.1a0.9 0.7 0 1 0 1.8 0a0.9 0.7 0 1 0 -1.8 0zM133.9 584.2a0.8 0.9 0 1 0 1.6 0a0.8 0.9 0 1 0 -1.6 0zM135.6 567.8a0.9 1.0 0 1 0 1.8 0a0.9 1.0 0 1 0 -1.8 0zM96.7 580.3a0.7 0.8 0 1 0 1.5 0a0.7 0.8 0 1 0 -1.5 0zM112.4 555.6a0.8 0.7 0 1 0 1.7 0a0.8 0.7 0 1 0 -1.7 0zM150.8 561.3a0.9 0.7 0 1 0 1.7 0a0.9 0.7 0 1 0 -1.7 0zM125.7 580.2a0.9 0.8 0 1 0 1.9 0a0.9 0.8 0 1 0 -1.9 0zM120.0 585.8a0.9 0.8 0 1 0 1.7 0a0.9 0.8 0 1 0 -1.7 0zM156.5 576.4a0.7 0.7 0 1 0 1.4 0a0.7 0.7 0 1 0 -1.4 0zM130.9 583.5a0.8 0.9 0 1 0 1.6 0a0.8 0.9 0 1 0 -1.6 0zM110.2 566.7a0.7 0.7 0 1 0 1.4 0a0.7 0.7 0 1 0 -1.4 0zM96.0 582.7a0.8 0.7 0 1 0 1.5 0a0.8 0.7 0 1 0 -1.5 0zM134.1 571.0a0.8 0.7 0 1 0 1.7 0a0.8 0.7 0 1 0 -1.7 0zM112.4 579.9a0.7 0.7 0 1 0 1.4 0a0.7 0.7 0 1 0 -1.4 0zM160.2 590.0a0.8 0.6 0 1 0 1.6 0a0.8 0.6 0 1 0 -1.6 0zM126.6 566.9a0.8 0.7 0 1 0 1.6 0a0.8 0.7 0 1 0 -1.6 0zM153.2 563.7a0.7 0.7 0 1 0 1.5 0a0.7 0.7 0 1 0 -1.5 0zM87.2 573.3a0.8 0.8 0 1 0 1.5 0a0.8 0.8 0 1 0 -1.5 0zM128.7 565.1a0.7 0.7 0 1 0 1.5 0a0.7 0.7 0 1 0 -1.5 0zM151.2 563.6a0.8 0.8 0 1 0 1.5 0a0.8 0.8 0 1 0 -1.5 0zM93.6 552.5a0.7 0.7 0 1 0 1.3 0a0.7 0.7 0 1 0 -1.3 0zM127.5 551.0a0.5 0.5 0 1 0 1.1 0a0.5 0.5 0 1 0 -1.1 0zM135.9 579.1a0.5 0.5 0 1 0 1.0 0a0.5 0.5 0 1 0 -1.0 0zM155.0 580.5a0.6 0.6 0 1 0 1.1 0a0.6 0.6 0 1 0 -1.1 0zM150.8 570.4a0.6 0.6 0 1 0 1.1 0a0.6 0.6 0 1 0 -1.1 0zM109.6 561.5a0.4 0.4 0 1 0 0.7 0a0.4 0.4 0 1 0 -0.7 0zM141.1 573.6a0.4 0.4 0 1 0 0.9 0a0.4 0.4 0 1 0 -0.9 0zM89.9 586.0a0.5 0.5 0 1 0 1.0 0a0.5 0.5 0 1 0 -1.0 0zM127.1 579.0a0.6 0.6 0 1 0 1.3 0a0.6 0.6 0 1 0 -1.3 0zM103.1 549.5a0.4 0.4 0 1 0 0.7 0a0.4 0.4 0 1 0 -0.7 0zM118.4 549.7a0.7 0.7 0 1 0 1.3 0a0.7 0.7 0 1 0 -1.3 0zM105.7 562.0a0.4 0.4 0 1 0 0.8 0a0.4 0.4 0 1 0 -0.8 0zM140.3 563.9a0.8 0.8 0 1 0 1.6 0a0.8 0.8 0 1 0 -1.6 0zM137.0 561.2a0.5 0.5 0 1 0 1.0 0a0.5 0.5 0 1 0 -1.0 0zM141.2 561.5a0.5 0.5 0 1 0 0.9 0a0.5 0.5 0 1 0 -0.9 0zM103.1 568.6a0.5 0.5 0 1 0 1.1 0a0.5 0.5 0 1 0 -1.1 0zM110.2 583.4a0.7 0.7 0 1 0 1.4 0a0.7 0.7 0 1 0 -1.4 0zM87.0 548.6a0.8 0.8 0 1 0 1.7 0a0.8 0.8 0 1 0 -1.7 0zM120.7 580.4a0.5 0.5 0 1 0 0.9 0a0.5 0.5 0 1 0 -0.9 0zM107.7 573.8a0.6 0.6 0 1 0 1.2 0a0.6 0.6 0 1 0 -1.2 0zM160.9 554.6a0.8 0.8 0 1 0 1.6 0a0.8 0.8 0 1 0 -1.6 0zM120.6 576.3a0.6 0.6 0 1 0 1.2 0a0.6 0.6 0 1 0 -1.2 0zM99.9 571.7a0.8 0.8 0 1 0 1.6 0a0.8 0.8 0 1 0 -1.6 0zM97.4 555.3a0.8 0.8 0 1 0 1.7 0a0.8 0.8 0 1 0 -1.7 0zM100.3 576.6a0.4 0.4 0 1 0 0.8 0a0.4 0.4 0 1 0 -0.8 0zM118.4 559.7a0.8 0.8 0 1 0 1.6 0a0.8 0.8 0 1 0 -1.6 0zM134.7 549.6a0.4 0.4 0 1 0 0.8 0a0.4 0.4 0 1 0 -0.8 0zM142.9 551.5a0.4 0.4 0 1 0 0.8 0a0.4 0.4 0 1 0 -0.8 0zM100.3 584.1a0.9 0.9 0 1 0 1.8 0a0.9 0.9 0 1 0 -1.8 0zM107.3 566.2a0.7 0.7 0 1 0 1.5 0a0.7 0.7 0 1 0 -1.5 0zM126.9 565.2a0.5 0.5 0 1 0 1.0 0a0.5 0.5 0 1 0 -1.0 0zM107.7 587.5a0.5 0.5 0 1 0 1.0 0a0.5 0.5 0 1 0 -1.0 0zM134.6 573.5a0.9 0.9 0 1 0 1.8 0a0.9 0.9 0 1 0 -1.8 0zM138.6 586.5a0.4 0.4 0 1 0 0.8 0a0.4 0.4 0 1 0 -0.8 0zM95.8 555.0a0.9 0.9 0 1 0 1.7 0a0.9 0.9 0 1 0 -1.7 0zM107.7 568.8a0.6 0.6 0 1 0 1.2 0a0.6 0.6 0 1 0 -1.2 0zM156.1 552.4a0.9 0.9 0 1 0 1.7 0a0.9 0.9 0 1 0 -1.7 0zM121.6 577.8a0.5 0.5 0 1 0 1.0 0a0.5 0.5 0 1 0 -1.0 0z" fill="#fbf3fc"/>
</g>
<rect x="84" y="586.8" width="3.6" height="1.1" fill="#1a1a1a"/>
</g>
<clipPath id="tc2"><rect x="166.2" y="548.1" width="77.6" height="40.4"/></clipPath>
<g clip-path="url(#tc2)"><g filter="url(#soft)">
<rect x="165.2" y="547.1" width="79.6" height="42.4" fill="#5e409f"/>
<ellipse cx="205" cy="550.12" rx="30" ry="4" fill="#b8a0d8" opacity="0.8"/>
<path d="M199.8 568.7a0.7 0.7 0 1 0 1.4 0a0.7 0.7 0 1 0 -1.4 0zM175.5 580.6a1.0 1.0 0 1 0 2.1 0a1.0 1.0 0 1 0 -2.1 0zM168.6 575.9a1.8 1.8 0 1 0 3.6 0a1.8 1.8 0 1 0 -3.6 0zM230.8 573.7a0.9 0.9 0 1 0 1.9 0a0.9 0.9 0 1 0 -1.9 0zM187.8 568.9a0.8 0.8 0 1 0 1.7 0a0.8 0.8 0 1 0 -1.7 0zM210.7 559.1a1.7 1.7 0 1 0 3.4 0a1.7 1.7 0 1 0 -3.4 0zM205.8 581.2a1.5 1.5 0 1 0 2.9 0a1.5 1.5 0 1 0 -2.9 0zM237.3 563.5a1.1 1.1 0 1 0 2.2 0a1.1 1.1 0 1 0 -2.2 0zM200.9 582.3a1.2 1.2 0 1 0 2.4 0a1.2 1.2 0 1 0 -2.4 0zM219.0 576.2a1.1 1.1 0 1 0 2.1 0a1.1 1.1 0 1 0 -2.1 0zM207.2 578.6a1.6 1.6 0 1 0 3.2 0a1.6 1.6 0 1 0 -3.2 0zM210.7 582.6a0.8 0.8 0 1 0 1.6 0a0.8 0.8 0 1 0 -1.6 0zM214.7 567.8a1.6 1.6 0 1 0 3.2 0a1.6 1.6 0 1 0 -3.2 0zM173.5 564.3a1.2 1.2 0 1 0 2.4 0a1.2 1.2 0 1 0 -2.4 0zM240.9 557.4a1.6 1.6 0 1 0 3.1 0a1.6 1.6 0 1 0 -3.1 0zM217.3 557.4a1.1 1.1 0 1 0 2.2 0a1.1 1.1 0 1 0 -2.2 0zM194.3 553.2a1.2 1.2 0 1 0 2.5 0a1.2 1.2 0 1 0 -2.5 0zM219.1 579.8a1.1 1.1 0 1 0 2.3 0a1.1 1.1 0 1 0 -2.3 0zM172.7 565.6a0.8 0.8 0 1 0 1.5 0a0.8 0.8 0 1 0 -1.5 0zM210.0 570.5a1.2 1.2 0 1 0 2.4 0a1.2 1.2 0 1 0 -2.4 0zM199.6 567.5a1.1 1.1 0 1 0 2.2 0a1.1 1.1 0 1 0 -2.2 0zM230.0 553.1a1.3 1.3 0 1 0 2.5 0a1.3 1.3 0 1 0 -2.5 0zM217.4 560.7a1.2 1.2 0 1 0 2.4 0a1.2 1.2 0 1 0 -2.4 0zM191.6 548.8a1.4 1.4 0 1 0 2.8 0a1.4 1.4 0 1 0 -2.8 0zM214.8 548.9a1.5 1.5 0 1 0 3.0 0a1.5 1.5 0 1 0 -3.0 0zM221.8 576.7a1.8 1.8 0 1 0 3.5 0a1.8 1.8 0 1 0 -3.5 0zM203.6 581.0a0.8 0.8 0 1 0 1.6 0a0.8 0.8 0 1 0 -1.6 0zM212.7 551.1a1.2 1.2 0 1 0 2.4 0a1.2 1.2 0 1 0 -2.4 0zM238.9 552.1a1.1 1.1 0 1 0 2.1 0a1.1 1.1 0 1 0 -2.1 0zM182.4 574.4a1.5 1.5 0 1 0 2.9 0a1.5 1.5 0 1 0 -2.9 0zM221.1 582.6a0.7 0.7 0 1 0 1.4 0a0.7 0.7 0 1 0 -1.4 0zM240.0 556.3a0.7 0.7 0 1 0 1.4 0a0.7 0.7 0 1 0 -1.4 0zM174.5 558.8a0.6 0.6 0 1 0 1.3 0a0.6 0.6 0 1 0 -1.3 0zM174.6 563.6a1.8 1.8 0 1 0 3.6 0a1.8 1.8 0 1 0 -3.6 0zM219.4 551.5a1.4 1.4 0 1 0 2.9 0a1.4 1.4 0 1 0 -2.9 0z" fill="#4a2e8e"/>
<path d="M213.0 573.6a1.4 1.4 0 1 0 2.8 0a1.4 1.4 0 1 0 -2.8 0zM212.6 581.6a1.1 1.1 0 1 0 2.1 0a1.1 1.1 0 1 0 -2.1 0zM205.4 564.2a1.7 1.7 0 1 0 3.5 0a1.7 1.7 0 1 0 -3.5 0zM220.9 564.9a1.7 1.7 0 1 0 3.3 0a1.7 1.7 0 1 0 -3.3 0zM181.3 566.2a1.4 1.4 0 1 0 2.8 0a1.4 1.4 0 1 0 -2.8 0zM183.0 551.4a1.1 1.1 0 1 0 2.1 0a1.1 1.1 0 1 0 -2.1 0zM189.8 577.5a1.1 1.1 0 1 0 2.2 0a1.1 1.1 0 1 0 -2.2 0zM201.7 548.4a0.9 0.9 0 1 0 1.9 0a0.9 0.9 0 1 0 -1.9 0zM178.8 565.3a1.7 1.7 0 1 0 3.5 0a1.7 1.7 0 1 0 -3.5 0zM173.5 554.4a1.4 1.4 0 1 0 2.9 0a1.4 1.4 0 1 0 -2.9 0zM222.0 583.1a0.7 0.7 0 1 0 1.3 0a0.7 0.7 0 1 0 -1.3 0zM181.6 554.3a0.7 0.7 0 1 0 1.4 0a0.7 0.7 0 1 0 -1.4 0zM240.5 576.7a0.7 0.7 0 1 0 1.3 0a0.7 0.7 0 1 0 -1.3 0zM238.8 575.9a1.7 1.7 0 1 0 3.4 0a1.7 1.7 0 1 0 -3.4 0zM220.7 558.0a1.3 1.3 0 1 0 2.6 0a1.3 1.3 0 1 0 -2.6 0zM204.3 573.8a1.5 1.5 0 1 0 2.9 0a1.5 1.5 0 1 0 -2.9 0zM187.0 574.3a1.7 1.7 0 1 0 3.4 0a1.7 1.7 0 1 0 -3.4 0zM185.6 555.7a1.5 1.5 0 1 0 3.1 0a1.5 1.5 0 1 0 -3.1 0zM190.2 583.6a1.3 1.3 0 1 0 2.5 0a1.3 1.3 0 1 0 -2.5 0zM231.6 579.8a1.8 1.8 0 1 0 3.5 0a1.8 1.8 0 1 0 -3.5 0zM201.9 584.2a1.3 1.3 0 1 0 2.6 0a1.3 1.3 0 1 0 -2.6 0zM212.4 556.8a1.6 1.6 0 1 0 3.1 0a1.6 1.6 0 1 0 -3.1 0zM230.2 567.6a1.7 1.7 0 1 0 3.4 0a1.7 1.7 0 1 0 -3.4 0zM208.2 555.4a1.7 1.7 0 1 0 3.5 0a1.7 1.7 0 1 0 -3.5 0zM221.6 571.4a1.0 1.0 0 1 0 2.0 0a1.0 1.0 0 1 0 -2.0 0zM194.5 571.5a1.6 1.6 0 1 0 3.2 0a1.6 1.6 0 1 0 -3.2 0zM221.5 572.4a1.4 1.4 0 1 0 2.7 0a1.4 1.4 0 1 0 -2.7 0zM196.6 565.5a1.3 1.3 0 1 0 2.6 0a1.3 1.3 0 1 0 -2.6 0zM240.8 561.0a1.0 1.0 0 1 0 1.9 0a1.0 1.0 0 1 0 -1.9 0zM184.5 588.5a1.6 1.6 0 1 0 3.3 0a1.6 1.6 0 1 0 -3.3 0zM241.6 578.1a1.6 1.6 0 1 0 3.2 0a1.6 1.6 0 1 0 -3.2 0zM175.5 570.7a1.5 1.5 0 1 0 3.0 0a1.5 1.5 0 1 0 -3.0 0zM188.0 549.2a1.4 1.4 0 1 0 2.9 0a1.4 1.4 0 1 0 -2.9 0zM226.5 562.6a1.3 1.3 0 1 0 2.6 0a1.3 1.3 0 1 0 -2.6 0zM174.2 572.2a1.3 1.3 0 1 0 2.7 0a1.3 1.3 0 1 0 -2.7 0zM236.2 576.0a1.1 1.1 0 1 0 2.1 0a1.1 1.1 0 1 0 -2.1 0zM188.9 548.5a1.1 1.1 0 1 0 2.2 0a1.1 1.1 0 1 0 -2.2 0zM167.0 556.9a1.6 1.6 0 1 0 3.2 0a1.6 1.6 0 1 0 -3.2 0zM217.0 559.1a1.8 1.8 0 1 0 3.5 0a1.8 1.8 0 1 0 -3.5 0zM233.5 574.0a1.6 1.6 0 1 0 3.1 0a1.6 1.6 0 1 0 -3.1 0zM210.2 587.9a1.3 1.3 0 1 0 2.5 0a1.3 1.3 0 1 0 -2.5 0z" fill="#54379a"/>
<path d="M212.4 587.1a1.5 1.5 0 1 0 3.0 0a1.5 1.5 0 1 0 -3.0 0zM236.0 573.3a1.2 1.2 0 1 0 2.5 0a1.2 1.2 0 1 0 -2.5 0zM174.6 579.5a0.6 0.6 0 1 0 1.2 0a0.6 0.6 0 1 0 -1.2 0zM209.1 556.5a1.5 1.5 0 1 0 3.0 0a1.5 1.5 0 1 0 -3.0 0zM211.2 567.6a1.7 1.7 0 1 0 3.3 0a1.7 1.7 0 1 0 -3.3 0zM202.7 571.5a0.8 0.8 0 1 0 1.6 0a0.8 0.8 0 1 0 -1.6 0zM175.5 561.8a1.2 1.2 0 1 0 2.3 0a1.2 1.2 0 1 0 -2.3 0zM180.7 552.5a1.4 1.4 0 1 0 2.9 0a1.4 1.4 0 1 0 -2.9 0zM239.0 549.1a0.7 0.7 0 1 0 1.5 0a0.7 0.7 0 1 0 -1.5 0zM173.5 570.4a1.6 1.6 0 1 0 3.2 0a1.6 1.6 0 1 0 -3.2 0zM230.2 583.8a1.5 1.5 0 1 0 3.0 0a1.5 1.5 0 1 0 -3.0 0zM223.7 587.9a1.7 1.7 0 1 0 3.4 0a1.7 1.7 0 1 0 -3.4 0zM195.0 551.9a1.4 1.4 0 1 0 2.7 0a1.4 1.4 0 1 0 -2.7 0zM179.1 584.0a1.1 1.1 0 1 0 2.2 0a1.1 1.1 0 1 0 -2.2 0zM207.4 554.0a1.2 1.2 0 1 0 2.4 0a1.2 1.2 0 1 0 -2.4 0zM239.2 552.4a1.5 1.5 0 1 0 3.0 0a1.5 1.5 0 1 0 -3.0 0zM214.5 559.8a1.6 1.6 0 1 0 3.3 0a1.6 1.6 0 1 0 -3.3 0zM227.3 579.6a0.7 0.7 0 1 0 1.3 0a0.7 0.7 0 1 0 -1.3 0zM200.2 563.6a0.9 0.9 0 1 0 1.9 0a0.9 0.9 0 1 0 -1.9 0zM179.2 571.7a1.8 1.8 0 1 0 3.6 0a1.8 1.8 0 1 0 -3.6 0zM178.6 565.2a1.3 1.3 0 1 0 2.6 0a1.3 1.3 0 1 0 -2.6 0zM219.0 566.2a1.5 1.5 0 1 0 2.9 0a1.5 1.5 0 1 0 -2.9 0zM179.7 573.2a1.6 1.6 0 1 0 3.2 0a1.6 1.6 0 1 0 -3.2 0zM206.0 558.2a0.9 0.9 0 1 0 1.8 0a0.9 0.9 0 1 0 -1.8 0zM209.6 588.4a1.1 1.1 0 1 0 2.1 0a1.1 1.1 0 1 0 -2.1 0zM194.7 552.6a0.6 0.6 0 1 0 1.2 0a0.6 0.6 0 1 0 -1.2 0zM226.7 559.8a0.7 0.7 0 1 0 1.5 0a0.7 0.7 0 1 0 -1.5 0zM204.4 582.1a1.1 1.1 0 1 0 2.3 0a1.1 1.1 0 1 0 -2.3 0zM230.0 578.7a1.6 1.6 0 1 0 3.2 0a1.6 1.6 0 1 0 -3.2 0zM206.7 568.8a1.2 1.2 0 1 0 2.3 0a1.2 1.2 0 1 0 -2.3 0zM171.0 549.6a1.2 1.2 0 1 0 2.3 0a1.2 1.2 0 1 0 -2.3 0zM234.1 550.4a0.7 0.7 0 1 0 1.3 0a0.7 0.7 0 1 0 -1.3 0zM193.9 563.4a1.5 1.5 0 1 0 3.1 0a1.5 1.5 0 1 0 -3.1 0zM175.2 565.2a1.0 1.0 0 1 0 2.0 0a1.0 1.0 0 1 0 -2.0 0zM208.1 570.8a0.9 0.9 0 1 0 1.7 0a0.9 0.9 0 1 0 -1.7 0zM217.6 552.0a0.9 0.9 0 1 0 1.8 0a0.9 0.9 0 1 0 -1.8 0zM172.1 587.3a1.7 1.7 0 1 0 3.3 0a1.7 1.7 0 1 0 -3.3 0z" fill="#7052ac"/>
<path d="M216.5 555.5a1.0 1.0 0 1 0 1.9 0a1.0 1.0 0 1 0 -1.9 0zM223.3 583.9a0.8 0.8 0 1 0 1.6 0a0.8 0.8 0 1 0 -1.6 0zM230.0 577.0a1.2 1.2 0 1 0 2.5 0a1.2 1.2 0 1 0 -2.5 0zM204.7 578.3a1.1 1.1 0 1 0 2.2 0a1.1 1.1 0 1 0 -2.2 0zM188.8 579.6a1.2 1.2 0 1 0 2.5 0a1.2 1.2 0 1 0 -2.5 0zM180.3 566.9a1.6 1.6 0 1 0 3.1 0a1.6 1.6 0 1 0 -3.1 0zM171.9 555.0a1.5 1.5 0 1 0 3.1 0a1.5 1.5 0 1 0 -3.1 0zM219.6 586.9a1.4 1.4 0 1 0 2.7 0a1.4 1.4 0 1 0 -2.7 0zM241.4 584.5a0.8 0.8 0 1 0 1.6 0a0.8 0.8 0 1 0 -1.6 0zM232.1 564.1a1.4 1.4 0 1 0 2.7 0a1.4 1.4 0 1 0 -2.7 0zM206.6 587.4a0.7 0.7 0 1 0 1.3 0a0.7 0.7 0 1 0 -1.3 0zM241.0 587.4a1.1 1.1 0 1 0 2.3 0a1.1 1.1 0 1 0 -2.3 0zM239.3 565.2a1.5 1.5 0 1 0 3.0 0a1.5 1.5 0 1 0 -3.0 0zM222.4 560.0a1.0 1.0 0 1 0 2.0 0a1.0 1.0 0 1 0 -2.0 0zM241.2 554.9a1.0 1.0 0 1 0 2.1 0a1.0 1.0 0 1 0 -2.1 0zM236.3 548.4a1.5 1.5 0 1 0 3.0 0a1.5 1.5 0 1 0 -3.0 0zM180.7 575.2a1.6 1.6 0 1 0 3.2 0a1.6 1.6 0 1 0 -3.2 0zM190.9 578.1a0.9 0.9 0 1 0 1.8 0a0.9 0.9 0 1 0 -1.8 0zM166.5 575.4a1.8 1.8 0 1 0 3.6 0a1.8 1.8 0 1 0 -3.6 0zM219.9 567.4a1.3 1.3 0 1 0 2.6 0a1.3 1.3 0 1 0 -2.6 0zM197.4 556.6a1.1 1.1 0 1 0 2.3 0a1.1 1.1 0 1 0 -2.3 0zM223.2 579.3a0.8 0.8 0 1 0 1.7 0a0.8 0.8 0 1 0 -1.7 0zM185.0 555.5a0.6 0.6 0 1 0 1.2 0a0.6 0.6 0 1 0 -1.2 0zM193.6 579.4a0.9 0.9 0 1 0 1.7 0a0.9 0.9 0 1 0 -1.7 0zM228.0 557.9a1.1 1.1 0 1 0 2.2 0a1.1 1.1 0 1 0 -2.2 0zM235.8 562.5a1.3 1.3 0 1 0 2.5 0a1.3 1.3 0 1 0 -2.5 0zM235.2 560.1a1.8 1.8 0 1 0 3.6 0a1.8 1.8 0 1 0 -3.6 0zM194.1 551.9a1.7 1.7 0 1 0 3.5 0a1.7 1.7 0 1 0 -3.5 0zM200.0 579.4a1.0 1.0 0 1 0 2.1 0a1.0 1.0 0 1 0 -2.1 0zM193.5 581.2a1.0 1.0 0 1 0 1.9 0a1.0 1.0 0 1 0 -1.9 0zM224.8 553.7a0.6 0.6 0 1 0 1.3 0a0.6 0.6 0 1 0 -1.3 0zM201.7 556.7a1.2 1.2 0 1 0 2.5 0a1.2 1.2 0 1 0 -2.5 0zM212.0 580.0a1.5 1.5 0 1 0 2.9 0a1.5 1.5 0 1 0 -2.9 0zM216.7 583.3a1.5 1.5 0 1 0 3.0 0a1.5 1.5 0 1 0 -3.0 0zM232.3 580.0a1.8 1.8 0 1 0 3.5 0a1.8 1.8 0 1 0 -3.5 0zM234.4 550.7a0.9 0.9 0 1 0 1.7 0a0.9 0.9 0 1 0 -1.7 0zM217.8 553.4a0.8 0.8 0 1 0 1.6 0a0.8 0.8 0 1 0 -1.6 0zM237.8 570.1a1.1 1.1 0 1 0 2.2 0a1.1 1.1 0 1 0 -2.2 0zM225.2 568.0a1.4 1.4 0 1 0 2.8 0a1.4 1.4 0 1 0 -2.8 0zM225.8 578.8a1.1 1.1 0 1 0 2.3 0a1.1 1.1 0 1 0 -2.3 0zM218.3 549.7a1.5 1.5 0 1 0 3.0 0a1.5 1.5 0 1 0 -3.0 0zM232.5 560.1a1.3 1.3 0 1 0 2.6 0a1.3 1.3 0 1 0 -2.6 0zM241.8 552.2a1.0 1.0 0 1 0 2.0 0a1.0 1.0 0 1 0 -2.0 0zM209.5 555.9a1.6 1.6 0 1 0 3.3 0a1.6 1.6 0 1 0 -3.3 0zM170.8 562.2a0.6 0.6 0 1 0 1.2 0a0.6 0.6 0 1 0 -1.2 0zM238.7 549.7a0.9 0.9 0 1 0 1.9 0a0.9 0.9 0 1 0 -1.9 0zM176.0 575.7a1.5 1.5 0 1 0 3.1 0a1.5 1.5 0 1 0 -3.1 0zM209.6 583.3a1.6 1.6 0 1 0 3.1 0a1.6 1.6 0 1 0 -3.1 0zM232.2 565.2a1.4 1.4 0 1 0 2.8 0a1.4 1.4 0 1 0 -2.8 0zM237.2 583.6a1.6 1.6 0 1 0 3.3 0a1.6 1.6 0 1 0 -3.3 0zM165.2 576.4a1.8 1.8 0 1 0 3.5 0a1.8 1.8 0 1 0 -3.5 0z" fill="#8466b8"/>
<path d="M208.9 549.8a1.2 1.2 0 1 0 2.5 0a1.2 1.2 0 1 0 -2.5 0zM218.6 572.7a1.1 1.1 0 1 0 2.3 0a1.1 1.1 0 1 0 -2.3 0zM210.8 573.6a1.1 1.1 0 1 0 2.2 0a1.1 1.1 0 1 0 -2.2 0zM229.1 573.9a1.2 1.2 0 1 0 2.3 0a1.2 1.2 0 1 0 -2.3 0zM181.4 558.0a0.8 0.8 0 1 0 1.7 0a0.8 0.8 0 1 0 -1.7 0zM204.9 553.6a1.3 1.3 0 1 0 2.6 0a1.3 1.3 0 1 0 -2.6 0zM184.9 553.7a0.6 0.6 0 1 0 1.2 0a0.6 0.6 0 1 0 -1.2 0zM242.0 556.0a0.7 0.7 0 1 0 1.4 0a0.7 0.7 0 1 0 -1.4 0zM224.1 586.8a0.6 0.6 0 1 0 1.3 0a0.6 0.6 0 1 0 -1.3 0zM191.7 569.8a1.5 1.5 0 1 0 2.9 0a1.5 1.5 0 1 0 -2.9 0zM221.4 567.9a1.2 1.2 0 1 0 2.4 0a1.2 1.2 0 1 0 -2.4 0zM166.8 584.3a1.2 1.2 0 1 0 2.4 0a1.2 1.2 0 1 0 -2.4 0zM181.1 557.8a1.1 1.1 0 1 0 2.1 0a1.1 1.1 0 1 0 -2.1 0zM231.4 554.4a0.6 0.6 0 1 0 1.2 0a0.6 0.6 0 1 0 -1.2 0zM167.2 553.0a1.7 1.7 0 1 0 3.4 0a1.7 1.7 0 1 0 -3.4 0zM230.1 569.2a0.8 0.8 0 1 0 1.6 0a0.8 0.8 0 1 0 -1.6 0zM179.7 561.8a0.7 0.7 0 1 0 1.4 0a0.7 0.7 0 1 0 -1.4 0zM218.0 571.0a1.0 1.0 0 1 0 1.9 0a1.0 1.0 0 1 0 -1.9 0zM189.5 553.7a1.4 1.4 0 1 0 2.8 0a1.4 1.4 0 1 0 -2.8 0zM230.3 564.0a1.0 1.0 0 1 0 2.0 0a1.0 1.0 0 1 0 -2.0 0zM230.8 584.2a1.7 1.7 0 1 0 3.4 0a1.7 1.7 0 1 0 -3.4 0zM237.6 571.2a1.7 1.7 0 1 0 3.3 0a1.7 1.7 0 1 0 -3.3 0zM176.7 564.1a1.4 1.4 0 1 0 2.7 0a1.4 1.4 0 1 0 -2.7 0zM188.7 568.0a0.6 0.6 0 1 0 1.2 0a0.6 0.6 0 1 0 -1.2 0zM218.6 580.6a0.9 0.9 0 1 0 1.8 0a0.9 0.9 0 1 0 -1.8 0zM206.9 565.8a1.4 1.4 0 1 0 2.9 0a1.4 1.4 0 1 0 -2.9 0zM219.5 560.7a1.1 1.1 0 1 0 2.3 0a1.1 1.1 0 1 0 -2.3 0zM193.9 568.9a1.0 1.0 0 1 0 2.0 0a1.0 1.0 0 1 0 -2.0 0zM198.7 573.8a1.2 1.2 0 1 0 2.4 0a1.2 1.2 0 1 0 -2.4 0zM207.9 557.6a1.1 1.1 0 1 0 2.1 0a1.1 1.1 0 1 0 -2.1 0zM174.4 579.7a1.7 1.7 0 1 0 3.4 0a1.7 1.7 0 1 0 -3.4 0zM198.5 585.2a1.6 1.6 0 1 0 3.1 0a1.6 1.6 0 1 0 -3.1 0zM169.4 562.0a0.6 0.6 0 1 0 1.2 0a0.6 0.6 0 1 0 -1.2 0zM179.7 581.6a0.9 0.9 0 1 0 1.8 0a0.9 0.9 0 1 0 -1.8 0zM166.6 572.5a0.8 0.8 0 1 0 1.6 0a0.8 0.8 0 1 0 -1.6 0zM187.8 570.9a1.3 1.3 0 1 0 2.6 0a1.3 1.3 0 1 0 -2.6 0zM175.0 558.5a1.8 1.8 0 1 0 3.6 0a1.8 1.8 0 1 0 -3.6 0zM177.0 556.1a1.4 1.4 0 1 0 2.8 0a1.4 1.4 0 1 0 -2.8 0zM186.5 551.9a1.7 1.7 0 1 0 3.5 0a1.7 1.7 0 1 0 -3.5 0zM213.7 565.1a1.4 1.4 0 1 0 2.9 0a1.4 1.4 0 1 0 -2.9 0zM173.0 561.9a1.7 1.7 0 1 0 3.5 0a1.7 1.7 0 1 0 -3.5 0zM207.2 576.2a0.8 0.8 0 1 0 1.7 0a0.8 0.8 0 1 0 -1.7 0zM203.9 559.0a1.8 1.8 0 1 0 3.6 0a1.8 1.8 0 1 0 -3.6 0zM203.0 560.2a1.0 1.0 0 1 0 2.0 0a1.0 1.0 0 1 0 -2.0 0zM206.1 561.0a1.0 1.0 0 1 0 1.9 0a1.0 1.0 0 1 0 -1.9 0zM219.1 569.5a1.8 1.8 0 1 0 3.6 0a1.8 1.8 0 1 0 -3.6 0zM225.5 582.6a0.9 0.9 0 1 0 1.9 0a0.9 0.9 0 1 0 -1.9 0zM210.9 555.0a0.8 0.8 0 1 0 1.6 0a0.8 0.8 0 1 0 -1.6 0zM203.0 579.6a1.4 1.4 0 1 0 2.9 0a1.4 1.4 0 1 0 -2.9 0zM179.6 558.7a1.6 1.6 0 1 0 3.1 0a1.6 1.6 0 1 0 -3.1 0zM215.6 561.4a1.2 1.2 0 1 0 2.3 0a1.2 1.2 0 1 0 -2.3 0zM183.4 561.0a1.3 1.3 0 1 0 2.6 0a1.3 1.3 0 1 0 -2.6 0z" fill="#3e2680"/>
<path d="M176.9 573.0a0.8 0.8 0 1 0 1.6 0a0.8 0.8 0 1 0 -1.6 0zM199.3 573.4a1.6 1.6 0 1 0 3.3 0a1.6 1.6 0 1 0 -3.3 0zM198.0 575.8a1.6 1.6 0 1 0 3.2 0a1.6 1.6 0 1 0 -3.2 0zM216.5 579.0a1.7 1.7 0 1 0 3.4 0a1.7 1.7 0 1 0 -3.4 0zM217.4 585.3a0.8 0.8 0 1 0 1.5 0a0.8 0.8 0 1 0 -1.5 0zM206.8 567.0a1.5 1.5 0 1 0 3.1 0a1.5 1.5 0 1 0 -3.1 0zM185.7 584.6a1.7 1.7 0 1 0 3.3 0a1.7 1.7 0 1 0 -3.3 0zM178.8 558.6a1.7 1.7 0 1 0 3.4 0a1.7 1.7 0 1 0 -3.4 0zM218.6 553.0a1.6 1.6 0 1 0 3.2 0a1.6 1.6 0 1 0 -3.2 0zM185.6 566.1a0.8 0.8 0 1 0 1.7 0a0.8 0.8 0 1 0 -1.7 0zM199.5 563.4a1.6 1.6 0 1 0 3.2 0a1.6 1.6 0 1 0 -3.2 0zM182.5 561.1a1.6 1.6 0 1 0 3.1 0a1.6 1.6 0 1 0 -3.1 0zM167.2 555.1a0.9 0.9 0 1 0 1.7 0a0.9 0.9 0 1 0 -1.7 0zM183.1 565.1a1.5 1.5 0 1 0 3.1 0a1.5 1.5 0 1 0 -3.1 0zM201.1 562.9a1.6 1.6 0 1 0 3.3 0a1.6 1.6 0 1 0 -3.3 0zM237.3 556.0a0.8 0.8 0 1 0 1.7 0a0.8 0.8 0 1 0 -1.7 0zM191.0 553.4a1.3 1.3 0 1 0 2.5 0a1.3 1.3 0 1 0 -2.5 0zM191.1 568.9a0.8 0.8 0 1 0 1.6 0a0.8 0.8 0 1 0 -1.6 0zM186.4 578.7a1.2 1.2 0 1 0 2.4 0a1.2 1.2 0 1 0 -2.4 0zM181.4 571.5a1.2 1.2 0 1 0 2.5 0a1.2 1.2 0 1 0 -2.5 0zM198.6 555.6a1.1 1.1 0 1 0 2.1 0a1.1 1.1 0 1 0 -2.1 0zM242.2 558.3a1.4 1.4 0 1 0 2.9 0a1.4 1.4 0 1 0 -2.9 0zM177.2 584.0a0.9 0.9 0 1 0 1.7 0a0.9 0.9 0 1 0 -1.7 0zM223.3 580.7a0.9 0.9 0 1 0 1.8 0a0.9 0.9 0 1 0 -1.8 0zM165.1 552.8a1.7 1.7 0 1 0 3.4 0a1.7 1.7 0 1 0 -3.4 0zM182.6 563.8a0.8 0.8 0 1 0 1.6 0a0.8 0.8 0 1 0 -1.6 0zM213.3 574.3a1.0 1.0 0 1 0 2.1 0a1.0 1.0 0 1 0 -2.1 0zM176.7 584.8a1.8 1.8 0 1 0 3.6 0a1.8 1.8 0 1 0 -3.6 0zM190.3 579.4a1.7 1.7 0 1 0 3.3 0a1.7 1.7 0 1 0 -3.3 0zM212.8 561.1a1.0 1.0 0 1 0 1.9 0a1.0 1.0 0 1 0 -1.9 0zM231.8 549.7a1.2 1.2 0 1 0 2.3 0a1.2 1.2 0 1 0 -2.3 0zM167.4 551.5a1.0 1.0 0 1 0 1.9 0a1.0 1.0 0 1 0 -1.9 0zM225.4 552.3a1.5 1.5 0 1 0 2.9 0a1.5 1.5 0 1 0 -2.9 0zM171.0 554.8a1.1 1.1 0 1 0 2.3 0a1.1 1.1 0 1 0 -2.3 0zM234.8 560.3a1.5 1.5 0 1 0 3.0 0a1.5 1.5 0 1 0 -3.0 0zM211.6 582.5a0.8 0.8 0 1 0 1.6 0a0.8 0.8 0 1 0 -1.6 0zM173.4 565.1a1.8 1.8 0 1 0 3.6 0a1.8 1.8 0 1 0 -3.6 0zM215.3 586.8a0.6 0.6 0 1 0 1.3 0a0.6 0.6 0 1 0 -1.3 0zM220.5 577.3a0.6 0.6 0 1 0 1.2 0a0.6 0.6 0 1 0 -1.2 0zM240.7 555.4a1.0 1.0 0 1 0 2.0 0a1.0 1.0 0 1 0 -2.0 0zM230.1 568.2a1.1 1.1 0 1 0 2.3 0a1.1 1.1 0 1 0 -2.3 0zM183.0 588.4a1.6 1.6 0 1 0 3.2 0a1.6 1.6 0 1 0 -3.2 0zM204.6 558.1a0.7 0.7 0 1 0 1.4 0a0.7 0.7 0 1 0 -1.4 0zM195.2 580.6a1.7 1.7 0 1 0 3.4 0a1.7 1.7 0 1 0 -3.4 0z" fill="#9a80c8"/>
<path d="M163.6 547.0a2.9 3.4 0 1 0 5.7 0a2.9 3.4 0 1 0 -5.7 0zM225.0 554.8a3.2 3.1 0 1 0 6.4 0a3.2 3.1 0 1 0 -6.4 0zM238.7 587.0a3.5 2.9 0 1 0 6.9 0a3.5 2.9 0 1 0 -6.9 0zM198.7 582.8a3.5 3.4 0 1 0 6.9 0a3.5 3.4 0 1 0 -6.9 0zM174.3 546.5a3.0 3.2 0 1 0 6.1 0a3.0 3.2 0 1 0 -6.1 0zM211.5 574.5a3.4 2.8 0 1 0 6.9 0a3.4 2.8 0 1 0 -6.9 0zM170.2 559.5a3.0 2.9 0 1 0 5.9 0a3.0 2.9 0 1 0 -5.9 0zM198.6 557.7a2.7 2.8 0 1 0 5.5 0a2.7 2.8 0 1 0 -5.5 0zM187.6 552.7a3.4 2.5 0 1 0 6.8 0a3.4 2.5 0 1 0 -6.8 0zM161.3 562.1a3.6 3.0 0 1 0 7.3 0a3.6 3.0 0 1 0 -7.3 0zM213.5 585.1a2.8 3.1 0 1 0 5.7 0a2.8 3.1 0 1 0 -5.7 0zM168.0 575.8a3.0 3.5 0 1 0 6.1 0a3.0 3.5 0 1 0 -6.1 0zM241.6 574.8a3.0 3.4 0 1 0 6.1 0a3.0 3.4 0 1 0 -6.1 0zM162.1 587.2a3.4 2.6 0 1 0 6.7 0a3.4 2.6 0 1 0 -6.7 0zM214.5 555.7a3.3 2.6 0 1 0 6.6 0a3.3 2.6 0 1 0 -6.6 0zM203.8 571.1a2.7 3.2 0 1 0 5.5 0a2.7 3.2 0 1 0 -5.5 0zM186.6 586.6a3.0 2.7 0 1 0 6.1 0a3.0 2.7 0 1 0 -6.1 0zM205.2 558.8a3.4 3.2 0 1 0 6.9 0a3.4 3.2 0 1 0 -6.9 0zM173.5 586.1a3.1 2.9 0 1 0 6.2 0a3.1 2.9 0 1 0 -6.2 0zM228.3 590.1a3.0 2.9 0 1 0 6.0 0a3.0 2.9 0 1 0 -6.0 0zM200.7 546.7a2.7 3.3 0 1 0 5.4 0a2.7 3.3 0 1 0 -5.4 0zM237.2 549.3a3.5 3.4 0 1 0 7.1 0a3.5 3.4 0 1 0 -7.1 0zM197.0 575.4a3.1 3.5 0 1 0 6.3 0a3.1 3.5 0 1 0 -6.3 0zM236.8 558.9a3.2 3.2 0 1 0 6.5 0a3.2 3.2 0 1 0 -6.5 0zM181.4 558.0a2.9 2.9 0 1 0 5.8 0a2.9 2.9 0 1 0 -5.8 0zM182.0 546.5a3.2 3.4 0 1 0 6.3 0a3.2 3.4 0 1 0 -6.3 0zM220.5 582.8a3.2 3.3 0 1 0 6.3 0a3.2 3.3 0 1 0 -6.3 0zM225.3 546.4a2.8 3.0 0 1 0 5.5 0a2.8 3.0 0 1 0 -5.5 0zM218.2 565.5a2.9 2.5 0 1 0 5.8 0a2.9 2.5 0 1 0 -5.8 0zM241.3 566.2a2.7 2.8 0 1 0 5.4 0a2.7 2.8 0 1 0 -5.4 0zM203.8 589.5a3.1 3.2 0 1 0 6.3 0a3.1 3.2 0 1 0 -6.3 0zM211.1 546.4a3.4 3.0 0 1 0 6.8 0a3.4 3.0 0 1 0 -6.8 0zM209.9 565.4a2.9 3.0 0 1 0 5.8 0a2.9 3.0 0 1 0 -5.8 0zM218.4 589.9a3.4 3.0 0 1 0 6.7 0a3.4 3.0 0 1 0 -6.7 0zM207.0 551.8a2.8 2.6 0 1 0 5.6 0a2.8 2.6 0 1 0 -5.6 0zM198.7 565.1a3.1 3.2 0 1 0 6.3 0a3.1 3.2 0 1 0 -6.3 0zM164.7 554.9a2.5 2.7 0 1 0 4.9 0a2.5 2.7 0 1 0 -4.9 0zM164.3 569.0a3.0 2.8 0 1 0 6.1 0a3.0 2.8 0 1 0 -6.1 0zM191.7 560.1a2.6 2.3 0 1 0 5.1 0a2.6 2.3 0 1 0 -5.1 0zM176.8 552.7a2.8 2.6 0 1 0 5.6 0a2.8 2.6 0 1 0 -5.6 0zM219.2 550.1a2.7 2.9 0 1 0 5.4 0a2.7 2.9 0 1 0 -5.4 0zM172.2 566.2a2.5 2.5 0 1 0 5.1 0a2.5 2.5 0 1 0 -5.1 0zM229.9 550.1a3.0 2.5 0 1 0 6.0 0a3.0 2.5 0 1 0 -6.0 0zM236.6 580.4a3.0 2.8 0 1 0 6.0 0a3.0 2.8 0 1 0 -6.0 0zM194.7 547.6a2.5 2.5 0 1 0 4.9 0a2.5 2.5 0 1 0 -4.9 0zM162.4 578.6a2.8 2.0 0 1 0 5.5 0a2.8 2.0 0 1 0 -5.5 0zM180.8 585.7a2.3 1.9 0 1 0 4.6 0a2.3 1.9 0 1 0 -4.6 0zM221.4 559.3a2.2 1.8 0 1 0 4.4 0a2.2 1.8 0 1 0 -4.4 0zM177.0 561.2a1.7 1.9 0 1 0 3.4 0a1.7 1.9 0 1 0 -3.4 0zM171.5 553.8a2.0 1.7 0 1 0 4.0 0a2.0 1.7 0 1 0 -4.0 0zM194.3 588.4a2.2 1.9 0 1 0 4.4 0a2.2 1.9 0 1 0 -4.4 0zM189.6 546.3a2.2 1.7 0 1 0 4.3 0a2.2 1.7 0 1 0 -4.3 0zM219.3 572.6a1.6 1.9 0 1 0 3.2 0a1.6 1.9 0 1 0 -3.2 0zM169.7 549.6a2.0 1.9 0 1 0 4.0 0a2.0 1.9 0 1 0 -4.0 0zM207.5 583.7a1.9 1.9 0 1 0 3.8 0a1.9 1.9 0 1 0 -3.8 0zM243.1 553.5a1.8 1.3 0 1 0 3.7 0a1.8 1.3 0 1 0 -3.7 0zM234.6 587.0a1.6 1.6 0 1 0 3.3 0a1.6 1.6 0 1 0 -3.3 0zM173.7 580.6a1.5 1.7 0 1 0 3.0 0a1.5 1.7 0 1 0 -3.0 0zM170.0 589.5a1.3 1.5 0 1 0 2.6 0a1.3 1.5 0 1 0 -2.6 0zM183.2 552.8a1.6 1.5 0 1 0 3.2 0a1.6 1.5 0 1 0 -3.2 0zM206.1 565.3a1.4 1.4 0 1 0 2.7 0a1.4 1.4 0 1 0 -2.7 0zM169.4 581.2a1.2 1.4 0 1 0 2.3 0a1.2 1.4 0 1 0 -2.3 0zM180.8 589.9a1.2 1.4 0 1 0 2.3 0a1.2 1.4 0 1 0 -2.3 0zM213.2 590.1a1.1 1.3 0 1 0 2.2 0a1.1 1.3 0 1 0 -2.2 0zM244.4 582.6a1.1 1.1 0 1 0 2.2 0a1.1 1.1 0 1 0 -2.2 0zM221.4 577.6a1.2 1.3 0 1 0 2.4 0a1.2 1.3 0 1 0 -2.4 0zM210.5 588.0a1.2 1.0 0 1 0 2.5 0a1.2 1.0 0 1 0 -2.5 0zM184.1 590.3a1.0 1.0 0 1 0 2.0 0a1.0 1.0 0 1 0 -2.0 0zM227.9 585.6a1.2 1.0 0 1 0 2.4 0a1.2 1.0 0 1 0 -2.4 0zM198.0 552.0a1.2 1.1 0 1 0 2.3 0a1.2 1.1 0 1 0 -2.3 0zM234.7 546.1a0.9 1.1 0 1 0 1.9 0a0.9 1.1 0 1 0 -1.9 0zM170.1 584.5a0.9 1.0 0 1 0 1.9 0a0.9 1.0 0 1 0 -1.9 0zM240.6 570.0a1.2 1.0 0 1 0 2.3 0a1.2 1.0 0 1 0 -2.3 0zM172.7 571.7a1.0 0.8 0 1 0 2.1 0a1.0 0.8 0 1 0 -2.1 0zM206.9 547.6a0.9 0.8 0 1 0 1.8 0a0.9 0.8 0 1 0 -1.8 0zM203.6 553.1a0.9 0.8 0 1 0 1.8 0a0.9 0.8 0 1 0 -1.8 0zM215.8 561.2a0.9 0.8 0 1 0 1.7 0a0.9 0.8 0 1 0 -1.7 0zM213.2 559.4a0.9 0.9 0 1 0 1.7 0a0.9 0.9 0 1 0 -1.7 0zM178.7 557.7a1.0 0.8 0 1 0 1.9 0a1.0 0.8 0 1 0 -1.9 0zM216.8 570.1a0.8 0.8 0 1 0 1.6 0a0.8 0.8 0 1 0 -1.6 0zM201.3 571.2a0.8 0.8 0 1 0 1.7 0a0.8 0.8 0 1 0 -1.7 0zM189.6 558.4a0.8 0.8 0 1 0 1.5 0a0.8 0.8 0 1 0 -1.5 0zM211.6 581.0a0.7 0.7 0 1 0 1.5 0a0.7 0.7 0 1 0 -1.5 0zM226.1 588.6a0.7 0.7 0 1 0 1.4 0a0.7 0.7 0 1 0 -1.4 0zM164.4 551.3a0.6 0.7 0 1 0 1.3 0a0.6 0.7 0 1 0 -1.3 0zM237.2 590.0a0.7 0.7 0 1 0 1.3 0a0.7 0.7 0 1 0 -1.3 0zM196.5 578.8a0.7 0.7 0 1 0 1.4 0a0.7 0.7 0 1 0 -1.4 0zM168.9 578.9a0.8 0.8 0 1 0 1.6 0a0.8 0.8 0 1 0 -1.6 0zM194.3 574.5a0.8 0.8 0 1 0 1.7 0a0.8 0.8 0 1 0 -1.7 0zM206.2 548.1a0.8 0.8 0 1 0 1.7 0a0.8 0.8 0 1 0 -1.7 0zM179.6 577.7a0.8 0.8 0 1 0 1.6 0a0.8 0.8 0 1 0 -1.6 0zM223.8 562.0a0.4 0.4 0 1 0 0.8 0a0.4 0.4 0 1 0 -0.8 0zM190.7 552.9a0.4 0.4 0 1 0 0.8 0a0.4 0.4 0 1 0 -0.8 0zM168.6 570.7a0.9 0.9 0 1 0 1.7 0a0.9 0.9 0 1 0 -1.7 0zM186.2 555.8a0.8 0.8 0 1 0 1.6 0a0.8 0.8 0 1 0 -1.6 0zM215.6 553.8a0.8 0.8 0 1 0 1.5 0a0.8 0.8 0 1 0 -1.5 0zM232.3 558.3a0.4 0.4 0 1 0 0.7 0a0.4 0.4 0 1 0 -0.7 0zM219.6 569.2a0.7 0.7 0 1 0 1.5 0a0.7 0.7 0 1 0 -1.5 0zM195.4 587.3a0.8 0.8 0 1 0 1.7 0a0.8 0.8 0 1 0 -1.7 0zM182.1 554.9a0.4 0.4 0 1 0 0.7 0a0.4 0.4 0 1 0 -0.7 0zM175.1 577.5a0.6 0.6 0 1 0 1.1 0a0.6 0.6 0 1 0 -1.1 0zM201.2 576.7a0.5 0.5 0 1 0 1.0 0a0.5 0.5 0 1 0 -1.0 0zM200.9 580.0a0.5 0.5 0 1 0 1.0 0a0.5 0.5 0 1 0 -1.0 0zM165.9 585.2a0.8 0.8 0 1 0 1.6 0a0.8 0.8 0 1 0 -1.6 0zM219.7 584.5a0.8 0.8 0 1 0 1.5 0a0.8 0.8 0 1 0 -1.5 0zM224.1 569.6a0.6 0.6 0 1 0 1.3 0a0.6 0.6 0 1 0 -1.3 0zM225.4 554.1a0.4 0.4 0 1 0 0.8 0a0.4 0.4 0 1 0 -0.8 0zM223.2 572.3a0.9 0.9 0 1 0 1.7 0a0.9 0.9 0 1 0 -1.7 0zM181.2 557.9a0.5 0.5 0 1 0 1.1 0a0.5 0.5 0 1 0 -1.1 0zM167.3 556.0a0.6 0.6 0 1 0 1.1 0a0.6 0.6 0 1 0 -1.1 0zM172.8 566.3a0.6 0.6 0 1 0 1.1 0a0.6 0.6 0 1 0 -1.1 0zM203.6 560.3a0.9 0.9 0 1 0 1.7 0a0.9 0.9 0 1 0 -1.7 0zM207.0 554.4a0.6 0.6 0 1 0 1.3 0a0.6 0.6 0 1 0 -1.3 0zM237.6 578.7a0.6 0.6 0 1 0 1.1 0a0.6 0.6 0 1 0 -1.1 0zM200.9 586.6a0.5 0.5 0 1 0 1.0 0a0.5 0.5 0 1 0 -1.0 0zM225.5 552.3a0.5 0.5 0 1 0 1.1 0a0.5 0.5 0 1 0 -1.1 0zM173.0 560.4a0.4 0.4 0 1 0 0.7 0a0.4 0.4 0 1 0 -0.7 0zM231.5 551.7a0.5 0.5 0 1 0 1.0 0a0.5 0.5 0 1 0 -1.0 0zM239.6 548.2a0.4 0.4 0 1 0 0.7 0a0.4 0.4 0 1 0 -0.7 0zM173.8 553.1a0.8 0.8 0 1 0 1.5 0a0.8 0.8 0 1 0 -1.5 0zM183.3 584.6a0.6 0.6 0 1 0 1.2 0a0.6 0.6 0 1 0 -1.2 0zM194.5 549.8a0.6 0.6 0 1 0 1.3 0a0.6 0.6 0 1 0 -1.3 0zM184.2 563.1a0.8 0.8 0 1 0 1.6 0a0.8 0.8 0 1 0 -1.6 0zM238.2 572.1a0.9 0.9 0 1 0 1.7 0a0.9 0.9 0 1 0 -1.7 0zM189.2 580.0a0.6 0.6 0 1 0 1.3 0a0.6 0.6 0 1 0 -1.3 0zM181.5 562.7a0.4 0.4 0 1 0 0.7 0a0.4 0.4 0 1 0 -0.7 0zM214.4 576.1a0.5 0.5 0 1 0 1.0 0a0.5 0.5 0 1 0 -1.0 0zM202.0 549.4a0.6 0.6 0 1 0 1.3 0a0.6 0.6 0 1 0 -1.3 0zM221.8 568.6a0.7 0.7 0 1 0 1.4 0a0.7 0.7 0 1 0 -1.4 0zM204.1 550.5a0.4 0.4 0 1 0 0.7 0a0.4 0.4 0 1 0 -0.7 0zM178.4 553.2a0.8 0.8 0 1 0 1.6 0a0.8 0.8 0 1 0 -1.6 0zM187.0 577.9a0.7 0.7 0 1 0 1.4 0a0.7 0.7 0 1 0 -1.4 0zM209.5 585.2a0.8 0.8 0 1 0 1.5 0a0.8 0.8 0 1 0 -1.5 0zM209.2 585.0a0.8 0.8 0 1 0 1.6 0a0.8 0.8 0 1 0 -1.6 0zM182.8 568.5a0.8 0.8 0 1 0 1.5 0a0.8 0.8 0 1 0 -1.5 0zM213.4 549.7a0.8 0.8 0 1 0 1.6 0a0.8 0.8 0 1 0 -1.6 0zM210.3 555.3a0.4 0.4 0 1 0 0.8 0a0.4 0.4 0 1 0 -0.8 0zM180.3 557.1a0.6 0.6 0 1 0 1.2 0a0.6 0.6 0 1 0 -1.2 0zM199.0 581.3a0.6 0.6 0 1 0 1.2 0a0.6 0.6 0 1 0 -1.2 0zM184.8 568.6a0.6 0.6 0 1 0 1.2 0a0.6 0.6 0 1 0 -1.2 0zM218.5 554.5a0.8 0.8 0 1 0 1.6 0a0.8 0.8 0 1 0 -1.6 0zM229.4 553.4a0.6 0.6 0 1 0 1.2 0a0.6 0.6 0 1 0 -1.2 0zM167.0 563.6a0.8 0.8 0 1 0 1.6 0a0.8 0.8 0 1 0 -1.6 0zM167.7 562.1a0.4 0.4 0 1 0 0.7 0a0.4 0.4 0 1 0 -0.7 0zM171.9 560.2a0.5 0.5 0 1 0 1.0 0a0.5 0.5 0 1 0 -1.0 0zM210.4 574.3a0.6 0.6 0 1 0 1.2 0a0.6 0.6 0 1 0 -1.2 0zM206.6 564.1a0.6 0.6 0 1 0 1.2 0a0.6 0.6 0 1 0 -1.2 0zM219.9 586.4a0.7 0.7 0 1 0 1.4 0a0.7 0.7 0 1 0 -1.4 0zM238.6 571.2a0.9 0.9 0 1 0 1.8 0a0.9 0.9 0 1 0 -1.8 0zM242.7 560.6a0.7 0.7 0 1 0 1.4 0a0.7 0.7 0 1 0 -1.4 0zM223.1 557.9a0.7 0.7 0 1 0 1.4 0a0.7 0.7 0 1 0 -1.4 0zM173.0 585.5a0.7 0.7 0 1 0 1.3 0a0.7 0.7 0 1 0 -1.3 0zM242.7 560.0a0.7 0.7 0 1 0 1.3 0a0.7 0.7 0 1 0 -1.3 0zM177.2 575.8a0.5 0.5 0 1 0 1.0 0a0.5 0.5 0 1 0 -1.0 0zM203.7 586.2a0.6 0.6 0 1 0 1.1 0a0.6 0.6 0 1 0 -1.1 0zM235.9 580.5a0.4 0.4 0 1 0 0.8 0a0.4 0.4 0 1 0 -0.8 0z" fill="#faf4fd"/>
</g>
<rect x="166.6" y="586.8" width="3.6" height="1.1" fill="#1a1a1a"/>
</g>
<clipPath id="tc3"><rect x="83.6" y="589.7" width="78.2" height="40.1"/></clipPath>
<g clip-path="url(#tc3)"><g filter="url(#soft)">
<rect x="82.6" y="588.7" width="80.2" height="42.1" fill="#d8d9ea"/>
<path d="M92.0 593.0a0.9 0.9 0 1 0 1.7 0a0.9 0.9 0 1 0 -1.7 0zM119.8 599.8a0.9 0.9 0 1 0 1.9 0a0.9 0.9 0 1 0 -1.9 0zM147.5 595.0a1.2 1.2 0 1 0 2.4 0a1.2 1.2 0 1 0 -2.4 0zM137.1 593.3a1.2 1.2 0 1 0 2.4 0a1.2 1.2 0 1 0 -2.4 0zM100.5 598.5a1.7 1.7 0 1 0 3.4 0a1.7 1.7 0 1 0 -3.4 0zM118.4 593.3a0.8 0.8 0 1 0 1.5 0a0.8 0.8 0 1 0 -1.5 0zM89.9 608.0a1.1 1.1 0 1 0 2.2 0a1.1 1.1 0 1 0 -2.2 0zM96.2 604.3a1.6 1.6 0 1 0 3.2 0a1.6 1.6 0 1 0 -3.2 0zM124.9 606.3a0.9 0.9 0 1 0 1.8 0a0.9 0.9 0 1 0 -1.8 0zM144.0 611.8a0.7 0.7 0 1 0 1.5 0a0.7 0.7 0 1 0 -1.5 0zM93.3 595.5a1.0 1.0 0 1 0 2.0 0a1.0 1.0 0 1 0 -2.0 0zM141.4 622.0a0.9 0.9 0 1 0 1.8 0a0.9 0.9 0 1 0 -1.8 0zM141.7 612.9a1.2 1.2 0 1 0 2.3 0a1.2 1.2 0 1 0 -2.3 0zM138.7 629.0a1.7 1.7 0 1 0 3.5 0a1.7 1.7 0 1 0 -3.5 0zM87.1 600.9a0.6 0.6 0 1 0 1.3 0a0.6 0.6 0 1 0 -1.3 0zM105.3 616.3a1.0 1.0 0 1 0 2.0 0a1.0 1.0 0 1 0 -2.0 0zM103.6 617.8a1.2 1.2 0 1 0 2.4 0a1.2 1.2 0 1 0 -2.4 0zM152.9 616.1a0.7 0.7 0 1 0 1.3 0a0.7 0.7 0 1 0 -1.3 0zM83.1 614.4a1.0 1.0 0 1 0 2.0 0a1.0 1.0 0 1 0 -2.0 0zM97.3 601.8a1.7 1.7 0 1 0 3.5 0a1.7 1.7 0 1 0 -3.5 0zM154.3 620.9a1.0 1.0 0 1 0 1.9 0a1.0 1.0 0 1 0 -1.9 0zM124.0 605.7a1.5 1.5 0 1 0 2.9 0a1.5 1.5 0 1 0 -2.9 0zM137.2 624.1a0.8 0.8 0 1 0 1.7 0a0.8 0.8 0 1 0 -1.7 0z" fill="#c4c6de"/>
<path d="M127.5 622.9a0.9 0.9 0 1 0 1.8 0a0.9 0.9 0 1 0 -1.8 0zM141.3 610.9a1.6 1.6 0 1 0 3.1 0a1.6 1.6 0 1 0 -3.1 0zM124.0 618.1a1.0 1.0 0 1 0 1.9 0a1.0 1.0 0 1 0 -1.9 0zM151.6 596.8a1.5 1.5 0 1 0 3.1 0a1.5 1.5 0 1 0 -3.1 0zM127.8 615.6a1.1 1.1 0 1 0 2.1 0a1.1 1.1 0 1 0 -2.1 0zM140.8 623.6a1.3 1.3 0 1 0 2.7 0a1.3 1.3 0 1 0 -2.7 0zM131.5 596.2a1.1 1.1 0 1 0 2.2 0a1.1 1.1 0 1 0 -2.2 0zM113.9 613.5a1.0 1.0 0 1 0 2.0 0a1.0 1.0 0 1 0 -2.0 0zM83.7 609.3a0.6 0.6 0 1 0 1.2 0a0.6 0.6 0 1 0 -1.2 0zM94.0 613.8a1.4 1.4 0 1 0 2.9 0a1.4 1.4 0 1 0 -2.9 0zM102.7 629.3a0.7 0.7 0 1 0 1.4 0a0.7 0.7 0 1 0 -1.4 0zM114.5 626.9a1.3 1.3 0 1 0 2.6 0a1.3 1.3 0 1 0 -2.6 0zM123.1 627.9a1.3 1.3 0 1 0 2.7 0a1.3 1.3 0 1 0 -2.7 0zM91.1 615.8a1.0 1.0 0 1 0 2.0 0a1.0 1.0 0 1 0 -2.0 0zM147.5 626.8a0.8 0.8 0 1 0 1.6 0a0.8 0.8 0 1 0 -1.6 0zM113.4 594.1a1.4 1.4 0 1 0 2.8 0a1.4 1.4 0 1 0 -2.8 0zM154.4 615.3a1.0 1.0 0 1 0 2.0 0a1.0 1.0 0 1 0 -2.0 0zM148.3 629.7a0.8 0.8 0 1 0 1.7 0a0.8 0.8 0 1 0 -1.7 0zM139.4 622.2a1.6 1.6 0 1 0 3.1 0a1.6 1.6 0 1 0 -3.1 0zM137.4 629.8a0.8 0.8 0 1 0 1.6 0a0.8 0.8 0 1 0 -1.6 0zM143.5 621.0a1.3 1.3 0 1 0 2.6 0a1.3 1.3 0 1 0 -2.6 0zM89.8 591.6a0.7 0.7 0 1 0 1.5 0a0.7 0.7 0 1 0 -1.5 0zM119.8 595.2a0.6 0.6 0 1 0 1.3 0a0.6 0.6 0 1 0 -1.3 0z" fill="#cdcfe4"/>
<path d="M158.7 608.0a1.5 1.5 0 1 0 2.9 0a1.5 1.5 0 1 0 -2.9 0zM145.9 617.3a1.7 1.7 0 1 0 3.4 0a1.7 1.7 0 1 0 -3.4 0zM91.5 605.0a1.7 1.7 0 1 0 3.3 0a1.7 1.7 0 1 0 -3.3 0zM85.6 628.3a1.4 1.4 0 1 0 2.9 0a1.4 1.4 0 1 0 -2.9 0zM123.4 597.1a1.1 1.1 0 1 0 2.2 0a1.1 1.1 0 1 0 -2.2 0zM128.1 616.7a0.9 0.9 0 1 0 1.7 0a0.9 0.9 0 1 0 -1.7 0zM98.0 598.5a1.4 1.4 0 1 0 2.9 0a1.4 1.4 0 1 0 -2.9 0zM119.6 603.7a1.6 1.6 0 1 0 3.2 0a1.6 1.6 0 1 0 -3.2 0zM159.2 612.3a1.5 1.5 0 1 0 3.1 0a1.5 1.5 0 1 0 -3.1 0zM112.4 590.5a1.2 1.2 0 1 0 2.3 0a1.2 1.2 0 1 0 -2.3 0zM113.3 622.5a1.1 1.1 0 1 0 2.3 0a1.1 1.1 0 1 0 -2.3 0zM132.9 624.7a1.3 1.3 0 1 0 2.5 0a1.3 1.3 0 1 0 -2.5 0zM107.6 617.2a1.6 1.6 0 1 0 3.2 0a1.6 1.6 0 1 0 -3.2 0zM136.9 615.3a1.4 1.4 0 1 0 2.8 0a1.4 1.4 0 1 0 -2.8 0zM135.9 603.6a1.0 1.0 0 1 0 2.0 0a1.0 1.0 0 1 0 -2.0 0zM142.6 622.3a1.3 1.3 0 1 0 2.6 0a1.3 1.3 0 1 0 -2.6 0zM93.5 608.1a1.1 1.1 0 1 0 2.3 0a1.1 1.1 0 1 0 -2.3 0zM126.3 616.2a1.5 1.5 0 1 0 3.0 0a1.5 1.5 0 1 0 -3.0 0zM150.3 600.2a0.6 0.6 0 1 0 1.2 0a0.6 0.6 0 1 0 -1.2 0zM109.6 616.6a1.8 1.8 0 1 0 3.6 0a1.8 1.8 0 1 0 -3.6 0zM104.7 627.0a1.2 1.2 0 1 0 2.3 0a1.2 1.2 0 1 0 -2.3 0zM151.5 618.4a0.9 0.9 0 1 0 1.9 0a0.9 0.9 0 1 0 -1.9 0zM94.9 619.1a1.0 1.0 0 1 0 2.0 0a1.0 1.0 0 1 0 -2.0 0zM123.1 622.6a1.4 1.4 0 1 0 2.9 0a1.4 1.4 0 1 0 -2.9 0zM114.5 628.8a1.4 1.4 0 1 0 2.7 0a1.4 1.4 0 1 0 -2.7 0zM90.1 603.9a1.5 1.5 0 1 0 2.9 0a1.5 1.5 0 1 0 -2.9 0zM83.5 600.2a1.7 1.7 0 1 0 3.3 0a1.7 1.7 0 1 0 -3.3 0zM137.1 613.1a1.5 1.5 0 1 0 3.0 0a1.5 1.5 0 1 0 -3.0 0zM108.6 597.1a1.4 1.4 0 1 0 2.8 0a1.4 1.4 0 1 0 -2.8 0zM150.5 602.1a1.5 1.5 0 1 0 3.1 0a1.5 1.5 0 1 0 -3.1 0zM100.7 594.4a1.1 1.1 0 1 0 2.3 0a1.1 1.1 0 1 0 -2.3 0zM108.2 622.7a1.7 1.7 0 1 0 3.4 0a1.7 1.7 0 1 0 -3.4 0zM118.0 595.0a0.7 0.7 0 1 0 1.4 0a0.7 0.7 0 1 0 -1.4 0zM90.6 618.1a1.1 1.1 0 1 0 2.2 0a1.1 1.1 0 1 0 -2.2 0z" fill="#b9bcd8"/>
<path d="M158.7 613.3a4.1 3.9 0 1 0 8.2 0a4.1 3.9 0 1 0 -8.2 0zM140.5 604.6a3.7 3.5 0 1 0 7.4 0a3.7 3.5 0 1 0 -7.4 0zM127.3 596.1a4.1 4.6 0 1 0 8.2 0a4.1 4.6 0 1 0 -8.2 0zM141.3 619.9a4.3 3.7 0 1 0 8.6 0a4.3 3.7 0 1 0 -8.6 0zM83.8 599.7a3.7 4.0 0 1 0 7.4 0a3.7 4.0 0 1 0 -7.4 0zM95.5 616.1a4.6 3.7 0 1 0 9.1 0a4.6 3.7 0 1 0 -9.1 0zM132.5 625.6a3.6 3.5 0 1 0 7.2 0a3.6 3.5 0 1 0 -7.2 0zM77.3 614.3a4.8 4.4 0 1 0 9.5 0a4.8 4.4 0 1 0 -9.5 0zM157.8 625.5a4.0 3.7 0 1 0 8.0 0a4.0 3.7 0 1 0 -8.0 0zM115.6 604.8a4.8 4.3 0 1 0 9.6 0a4.8 4.3 0 1 0 -9.6 0zM129.0 614.3a4.6 3.9 0 1 0 9.3 0a4.6 3.9 0 1 0 -9.3 0zM90.6 625.9a4.5 4.2 0 1 0 9.0 0a4.5 4.2 0 1 0 -9.0 0zM119.7 629.6a4.0 3.7 0 1 0 7.9 0a4.0 3.7 0 1 0 -7.9 0zM104.5 631.6a4.7 3.6 0 1 0 9.4 0a4.7 3.6 0 1 0 -9.4 0zM116.0 594.1a4.4 4.5 0 1 0 8.7 0a4.4 4.5 0 1 0 -8.7 0zM145.2 611.4a4.8 3.9 0 1 0 9.6 0a4.8 3.9 0 1 0 -9.6 0zM143.1 593.2a4.1 4.4 0 1 0 8.2 0a4.1 4.4 0 1 0 -8.2 0zM148.5 627.7a4.4 4.6 0 1 0 8.7 0a4.4 4.6 0 1 0 -8.7 0zM82.0 626.7a3.8 3.6 0 1 0 7.6 0a3.8 3.6 0 1 0 -7.6 0zM106.5 589.1a4.0 4.0 0 1 0 8.1 0a4.0 4.0 0 1 0 -8.1 0zM89.8 606.2a4.0 4.2 0 1 0 8.0 0a4.0 4.2 0 1 0 -8.0 0zM91.8 597.6a4.7 3.5 0 1 0 9.5 0a4.7 3.5 0 1 0 -9.5 0zM105.7 621.3a3.8 3.4 0 1 0 7.7 0a3.8 3.4 0 1 0 -7.7 0zM115.8 619.8a3.8 4.4 0 1 0 7.6 0a3.8 4.4 0 1 0 -7.6 0zM105.3 602.0a4.5 3.7 0 1 0 8.9 0a4.5 3.7 0 1 0 -8.9 0zM140.0 631.4a3.7 3.9 0 1 0 7.5 0a3.7 3.9 0 1 0 -7.5 0zM158.5 592.7a4.4 3.8 0 1 0 8.7 0a4.4 3.8 0 1 0 -8.7 0zM106.6 611.2a3.9 3.7 0 1 0 7.8 0a3.9 3.7 0 1 0 -7.8 0zM150.5 601.4a3.9 3.6 0 1 0 7.9 0a3.9 3.6 0 1 0 -7.9 0zM131.2 604.5a3.5 4.1 0 1 0 7.1 0a3.5 4.1 0 1 0 -7.1 0zM134.3 588.4a4.2 3.3 0 1 0 8.4 0a4.2 3.3 0 1 0 -8.4 0zM159.1 604.2a3.8 3.4 0 1 0 7.6 0a3.8 3.4 0 1 0 -7.6 0zM93.5 588.6a3.4 3.2 0 1 0 6.9 0a3.4 3.2 0 1 0 -6.9 0zM121.7 612.6a3.2 3.5 0 1 0 6.4 0a3.2 3.5 0 1 0 -6.4 0zM125.1 621.8a3.2 3.9 0 1 0 6.3 0a3.2 3.9 0 1 0 -6.3 0zM81.0 589.5a3.2 3.3 0 1 0 6.4 0a3.2 3.3 0 1 0 -6.4 0zM126.7 588.0a3.2 3.6 0 1 0 6.4 0a3.2 3.6 0 1 0 -6.4 0zM87.8 615.2a3.1 3.4 0 1 0 6.1 0a3.1 3.4 0 1 0 -6.1 0zM152.1 588.5a3.2 3.2 0 1 0 6.3 0a3.2 3.2 0 1 0 -6.3 0zM136.0 598.5a3.5 2.9 0 1 0 6.9 0a3.5 2.9 0 1 0 -6.9 0zM128.6 631.5a3.0 3.4 0 1 0 6.0 0a3.0 3.4 0 1 0 -6.0 0zM98.3 607.0a3.8 3.3 0 1 0 7.7 0a3.8 3.3 0 1 0 -7.7 0zM152.2 618.0a3.1 2.7 0 1 0 6.2 0a3.1 2.7 0 1 0 -6.2 0zM113.3 627.5a3.2 2.6 0 1 0 6.4 0a3.2 2.6 0 1 0 -6.4 0zM100.3 625.1a2.4 2.6 0 1 0 4.9 0a2.4 2.6 0 1 0 -4.9 0zM100.6 591.6a2.3 2.5 0 1 0 4.6 0a2.3 2.5 0 1 0 -4.6 0zM82.6 606.1a2.3 2.1 0 1 0 4.6 0a2.3 2.1 0 1 0 -4.6 0zM154.9 608.5a2.6 2.2 0 1 0 5.2 0a2.6 2.2 0 1 0 -5.2 0zM88.2 592.3a2.6 2.2 0 1 0 5.3 0a2.6 2.2 0 1 0 -5.3 0zM86.9 620.7a2.5 2.2 0 1 0 4.9 0a2.5 2.2 0 1 0 -4.9 0zM125.0 607.2a2.4 2.3 0 1 0 4.8 0a2.4 2.3 0 1 0 -4.8 0zM102.4 597.2a1.8 2.2 0 1 0 3.6 0a1.8 2.2 0 1 0 -3.6 0zM115.0 612.2a1.7 1.9 0 1 0 3.4 0a1.7 1.9 0 1 0 -3.4 0zM146.3 600.1a1.9 1.6 0 1 0 3.9 0a1.9 1.6 0 1 0 -3.9 0zM137.8 608.8a1.6 1.6 0 1 0 3.2 0a1.6 1.6 0 1 0 -3.2 0zM160.7 631.8a1.8 1.9 0 1 0 3.7 0a1.8 1.9 0 1 0 -3.7 0zM85.7 610.0a1.9 1.7 0 1 0 3.8 0a1.9 1.7 0 1 0 -3.8 0zM162.2 619.5a1.5 1.4 0 1 0 2.9 0a1.5 1.4 0 1 0 -2.9 0zM140.1 612.7a1.5 1.8 0 1 0 3.1 0a1.5 1.8 0 1 0 -3.1 0zM123.2 599.6a1.5 1.5 0 1 0 3.0 0a1.5 1.5 0 1 0 -3.0 0zM120.4 587.7a1.6 1.4 0 1 0 3.2 0a1.6 1.4 0 1 0 -3.2 0zM80.6 631.7a1.6 1.4 0 1 0 3.1 0a1.6 1.4 0 1 0 -3.1 0zM96.3 631.8a1.5 1.4 0 1 0 3.0 0a1.5 1.4 0 1 0 -3.0 0zM92.6 619.0a1.5 1.3 0 1 0 2.9 0a1.5 1.3 0 1 0 -2.9 0zM110.7 595.8a1.4 1.5 0 1 0 2.8 0a1.4 1.5 0 1 0 -2.8 0zM126.2 602.5a1.2 1.2 0 1 0 2.4 0a1.2 1.2 0 1 0 -2.4 0zM105.3 594.6a1.2 1.1 0 1 0 2.3 0a1.2 1.1 0 1 0 -2.3 0zM160.2 598.9a1.4 1.1 0 1 0 2.8 0a1.4 1.1 0 1 0 -2.8 0zM140.2 594.0a1.4 1.2 0 1 0 2.8 0a1.4 1.2 0 1 0 -2.8 0zM154.4 593.8a1.1 1.3 0 1 0 2.3 0a1.1 1.3 0 1 0 -2.3 0zM84.9 594.2a1.2 1.3 0 1 0 2.5 0a1.2 1.3 0 1 0 -2.5 0zM141.2 625.7a1.1 1.3 0 1 0 2.3 0a1.1 1.3 0 1 0 -2.3 0zM80.9 594.1a1.3 1.0 0 1 0 2.6 0a1.3 1.0 0 1 0 -2.6 0zM90.6 588.0a1.1 1.2 0 1 0 2.1 0a1.1 1.2 0 1 0 -2.1 0zM137.2 630.4a1.0 1.1 0 1 0 2.1 0a1.0 1.1 0 1 0 -2.1 0zM89.0 630.2a1.2 1.2 0 1 0 2.4 0a1.2 1.2 0 1 0 -2.4 0zM81.9 621.1a1.1 0.9 0 1 0 2.3 0a1.1 0.9 0 1 0 -2.3 0zM136.4 620.7a1.2 1.0 0 1 0 2.4 0a1.2 1.0 0 1 0 -2.4 0zM113.1 593.5a0.9 1.0 0 1 0 1.8 0a0.9 1.0 0 1 0 -1.8 0zM122.8 623.2a1.0 0.8 0 1 0 1.9 0a1.0 0.8 0 1 0 -1.9 0zM157.2 597.0a0.9 0.8 0 1 0 1.9 0a0.9 0.8 0 1 0 -1.9 0zM81.2 597.4a1.0 0.8 0 1 0 2.1 0a1.0 0.8 0 1 0 -2.1 0zM100.0 601.9a1.1 1.0 0 1 0 2.3 0a1.1 1.0 0 1 0 -2.3 0zM143.3 598.0a1.0 1.0 0 1 0 2.0 0a1.0 1.0 0 1 0 -2.0 0zM103.6 611.7a1.0 0.8 0 1 0 2.0 0a1.0 0.8 0 1 0 -2.0 0zM102.0 587.8a0.9 0.8 0 1 0 1.7 0a0.9 0.8 0 1 0 -1.7 0zM136.3 593.9a1.0 0.8 0 1 0 2.0 0a1.0 0.8 0 1 0 -2.0 0zM113.7 598.6a0.9 0.9 0 1 0 1.7 0a0.9 0.9 0 1 0 -1.7 0zM142.1 609.9a0.9 0.9 0 1 0 1.9 0a0.9 0.9 0 1 0 -1.9 0zM115.6 615.8a0.9 0.7 0 1 0 1.8 0a0.9 0.7 0 1 0 -1.8 0zM101.9 629.0a0.8 0.9 0 1 0 1.7 0a0.8 0.9 0 1 0 -1.7 0zM113.6 615.2a0.9 0.9 0 1 0 1.7 0a0.9 0.9 0 1 0 -1.7 0zM134.8 630.8a0.9 0.9 0 1 0 1.9 0a0.9 0.9 0 1 0 -1.9 0zM145.3 627.2a0.9 0.8 0 1 0 1.9 0a0.9 0.8 0 1 0 -1.9 0zM139.2 617.3a0.8 0.7 0 1 0 1.6 0a0.8 0.7 0 1 0 -1.6 0zM130.5 626.5a0.8 0.8 0 1 0 1.6 0a0.8 0.8 0 1 0 -1.6 0zM129.5 601.4a0.8 0.7 0 1 0 1.6 0a0.8 0.7 0 1 0 -1.6 0zM82.5 603.0a0.7 0.7 0 1 0 1.4 0a0.7 0.7 0 1 0 -1.4 0zM120.0 625.1a0.8 0.8 0 1 0 1.7 0a0.8 0.8 0 1 0 -1.7 0zM139.5 622.6a0.7 0.7 0 1 0 1.3 0a0.7 0.7 0 1 0 -1.3 0zM113.7 617.6a0.6 0.8 0 1 0 1.2 0a0.6 0.8 0 1 0 -1.2 0zM151.3 620.4a0.6 0.6 0 1 0 1.3 0a0.6 0.6 0 1 0 -1.3 0zM157.4 630.4a0.7 0.6 0 1 0 1.4 0a0.7 0.6 0 1 0 -1.4 0zM141.9 615.1a0.7 0.7 0 1 0 1.4 0a0.7 0.7 0 1 0 -1.4 0z" fill="#fdfdfe"/>
</g>
<rect x="84" y="628.1" width="3.6" height="1.1" fill="#1a1a1a"/>
</g>
<clipPath id="tc4"><rect x="166.2" y="589.7" width="77.6" height="40.1"/></clipPath>
<g clip-path="url(#tc4)"><g filter="url(#soft)">
<rect x="165.2" y="588.7" width="79.6" height="42.1" fill="#d9cbbd"/>
<path d="M195.8 590.0a0.8 0.8 0 1 0 1.5 0a0.8 0.8 0 1 0 -1.5 0zM236.2 593.9a0.8 0.8 0 1 0 1.6 0a0.8 0.8 0 1 0 -1.6 0zM185.0 596.9a1.3 1.3 0 1 0 2.6 0a1.3 1.3 0 1 0 -2.6 0zM213.0 611.4a1.6 1.6 0 1 0 3.2 0a1.6 1.6 0 1 0 -3.2 0zM231.7 597.0a1.2 1.2 0 1 0 2.5 0a1.2 1.2 0 1 0 -2.5 0zM176.1 596.1a1.3 1.3 0 1 0 2.7 0a1.3 1.3 0 1 0 -2.7 0zM205.0 610.6a1.5 1.5 0 1 0 3.0 0a1.5 1.5 0 1 0 -3.0 0zM175.0 597.4a0.9 0.9 0 1 0 1.8 0a0.9 0.9 0 1 0 -1.8 0zM210.6 617.3a1.5 1.5 0 1 0 3.0 0a1.5 1.5 0 1 0 -3.0 0zM208.6 605.6a1.3 1.3 0 1 0 2.5 0a1.3 1.3 0 1 0 -2.5 0zM212.7 626.4a1.1 1.1 0 1 0 2.3 0a1.1 1.1 0 1 0 -2.3 0zM168.3 596.8a0.8 0.8 0 1 0 1.6 0a0.8 0.8 0 1 0 -1.6 0zM188.7 617.2a1.4 1.4 0 1 0 2.8 0a1.4 1.4 0 1 0 -2.8 0zM173.2 599.4a1.4 1.4 0 1 0 2.9 0a1.4 1.4 0 1 0 -2.9 0zM209.9 595.5a0.9 0.9 0 1 0 1.8 0a0.9 0.9 0 1 0 -1.8 0zM227.9 603.0a0.9 0.9 0 1 0 1.7 0a0.9 0.9 0 1 0 -1.7 0zM170.7 625.6a0.9 0.9 0 1 0 1.9 0a0.9 0.9 0 1 0 -1.9 0zM236.8 601.5a1.5 1.5 0 1 0 3.0 0a1.5 1.5 0 1 0 -3.0 0zM176.3 594.7a1.3 1.3 0 1 0 2.5 0a1.3 1.3 0 1 0 -2.5 0zM238.0 612.8a1.5 1.5 0 1 0 3.1 0a1.5 1.5 0 1 0 -3.1 0zM192.2 599.4a1.6 1.6 0 1 0 3.1 0a1.6 1.6 0 1 0 -3.1 0zM219.4 626.0a0.9 0.9 0 1 0 1.7 0a0.9 0.9 0 1 0 -1.7 0zM221.2 599.1a1.3 1.3 0 1 0 2.6 0a1.3 1.3 0 1 0 -2.6 0zM229.3 611.9a0.8 0.8 0 1 0 1.5 0a0.8 0.8 0 1 0 -1.5 0zM209.8 598.8a1.2 1.2 0 1 0 2.4 0a1.2 1.2 0 1 0 -2.4 0zM180.8 601.5a0.8 0.8 0 1 0 1.7 0a0.8 0.8 0 1 0 -1.7 0zM187.2 622.7a1.0 1.0 0 1 0 2.1 0a1.0 1.0 0 1 0 -2.1 0zM208.0 628.7a1.1 1.1 0 1 0 2.1 0a1.1 1.1 0 1 0 -2.1 0zM198.8 624.2a1.0 1.0 0 1 0 2.0 0a1.0 1.0 0 1 0 -2.0 0zM171.7 602.0a1.0 1.0 0 1 0 2.1 0a1.0 1.0 0 1 0 -2.1 0zM206.3 629.0a1.2 1.2 0 1 0 2.5 0a1.2 1.2 0 1 0 -2.5 0zM202.7 627.3a1.2 1.2 0 1 0 2.4 0a1.2 1.2 0 1 0 -2.4 0zM165.4 597.3a1.6 1.6 0 1 0 3.3 0a1.6 1.6 0 1 0 -3.3 0zM184.5 607.8a1.6 1.6 0 1 0 3.3 0a1.6 1.6 0 1 0 -3.3 0zM225.0 592.1a1.3 1.3 0 1 0 2.6 0a1.3 1.3 0 1 0 -2.6 0zM208.1 604.2a0.8 0.8 0 1 0 1.5 0a0.8 0.8 0 1 0 -1.5 0zM228.5 619.5a1.1 1.1 0 1 0 2.2 0a1.1 1.1 0 1 0 -2.2 0zM212.4 600.3a1.7 1.7 0 1 0 3.4 0a1.7 1.7 0 1 0 -3.4 0zM192.5 603.8a1.4 1.4 0 1 0 2.8 0a1.4 1.4 0 1 0 -2.8 0zM192.2 623.6a1.4 1.4 0 1 0 2.8 0a1.4 1.4 0 1 0 -2.8 0z" fill="#c9b39e"/>
<path d="M239.2 624.7a1.5 1.5 0 1 0 3.0 0a1.5 1.5 0 1 0 -3.0 0zM215.7 602.9a1.4 1.4 0 1 0 2.7 0a1.4 1.4 0 1 0 -2.7 0zM210.3 605.4a1.0 1.0 0 1 0 2.0 0a1.0 1.0 0 1 0 -2.0 0zM213.8 606.1a1.2 1.2 0 1 0 2.3 0a1.2 1.2 0 1 0 -2.3 0zM168.4 621.2a0.7 0.7 0 1 0 1.5 0a0.7 0.7 0 1 0 -1.5 0zM213.5 626.3a1.8 1.8 0 1 0 3.6 0a1.8 1.8 0 1 0 -3.6 0zM170.3 592.6a0.8 0.8 0 1 0 1.5 0a0.8 0.8 0 1 0 -1.5 0zM228.3 614.2a1.0 1.0 0 1 0 1.9 0a1.0 1.0 0 1 0 -1.9 0zM215.0 623.5a0.6 0.6 0 1 0 1.2 0a0.6 0.6 0 1 0 -1.2 0zM242.5 605.3a1.2 1.2 0 1 0 2.5 0a1.2 1.2 0 1 0 -2.5 0zM172.0 598.2a0.9 0.9 0 1 0 1.8 0a0.9 0.9 0 1 0 -1.8 0zM195.0 618.0a1.2 1.2 0 1 0 2.4 0a1.2 1.2 0 1 0 -2.4 0zM234.9 595.0a1.0 1.0 0 1 0 2.1 0a1.0 1.0 0 1 0 -2.1 0zM198.6 606.8a1.8 1.8 0 1 0 3.5 0a1.8 1.8 0 1 0 -3.5 0zM212.9 599.1a1.3 1.3 0 1 0 2.6 0a1.3 1.3 0 1 0 -2.6 0zM188.9 625.6a0.9 0.9 0 1 0 1.7 0a0.9 0.9 0 1 0 -1.7 0zM232.2 616.9a1.2 1.2 0 1 0 2.3 0a1.2 1.2 0 1 0 -2.3 0zM197.2 619.4a1.4 1.4 0 1 0 2.8 0a1.4 1.4 0 1 0 -2.8 0zM189.2 625.8a1.6 1.6 0 1 0 3.1 0a1.6 1.6 0 1 0 -3.1 0zM194.8 628.0a1.6 1.6 0 1 0 3.2 0a1.6 1.6 0 1 0 -3.2 0zM213.2 601.9a1.2 1.2 0 1 0 2.4 0a1.2 1.2 0 1 0 -2.4 0zM217.8 613.7a1.3 1.3 0 1 0 2.6 0a1.3 1.3 0 1 0 -2.6 0zM204.8 610.9a0.7 0.7 0 1 0 1.4 0a0.7 0.7 0 1 0 -1.4 0zM190.3 599.1a0.8 0.8 0 1 0 1.6 0a0.8 0.8 0 1 0 -1.6 0zM203.8 609.6a0.7 0.7 0 1 0 1.4 0a0.7 0.7 0 1 0 -1.4 0zM235.0 611.6a1.8 1.8 0 1 0 3.5 0a1.8 1.8 0 1 0 -3.5 0zM210.1 623.7a0.9 0.9 0 1 0 1.8 0a0.9 0.9 0 1 0 -1.8 0zM231.3 616.0a1.2 1.2 0 1 0 2.4 0a1.2 1.2 0 1 0 -2.4 0zM239.9 617.8a0.7 0.7 0 1 0 1.4 0a0.7 0.7 0 1 0 -1.4 0zM195.7 606.7a0.6 0.6 0 1 0 1.2 0a0.6 0.6 0 1 0 -1.2 0zM170.8 617.4a1.6 1.6 0 1 0 3.3 0a1.6 1.6 0 1 0 -3.3 0zM209.1 616.6a0.7 0.7 0 1 0 1.4 0a0.7 0.7 0 1 0 -1.4 0zM185.0 604.3a0.7 0.7 0 1 0 1.4 0a0.7 0.7 0 1 0 -1.4 0zM180.8 616.9a1.2 1.2 0 1 0 2.4 0a1.2 1.2 0 1 0 -2.4 0zM190.5 600.3a1.8 1.8 0 1 0 3.6 0a1.8 1.8 0 1 0 -3.6 0zM193.0 592.8a0.8 0.8 0 1 0 1.6 0a0.8 0.8 0 1 0 -1.6 0z" fill="#d0bfad"/>
<path d="M184.1 606.3a1.7 1.7 0 1 0 3.4 0a1.7 1.7 0 1 0 -3.4 0zM202.8 618.1a0.6 0.6 0 1 0 1.2 0a0.6 0.6 0 1 0 -1.2 0zM239.5 624.6a0.7 0.7 0 1 0 1.4 0a0.7 0.7 0 1 0 -1.4 0zM205.7 629.0a0.7 0.7 0 1 0 1.5 0a0.7 0.7 0 1 0 -1.5 0zM237.1 608.6a1.1 1.1 0 1 0 2.2 0a1.1 1.1 0 1 0 -2.2 0zM201.6 592.0a1.1 1.1 0 1 0 2.3 0a1.1 1.1 0 1 0 -2.3 0zM186.0 609.6a1.7 1.7 0 1 0 3.4 0a1.7 1.7 0 1 0 -3.4 0zM189.9 612.7a1.7 1.7 0 1 0 3.3 0a1.7 1.7 0 1 0 -3.3 0zM213.4 592.7a1.2 1.2 0 1 0 2.4 0a1.2 1.2 0 1 0 -2.4 0zM181.9 628.9a1.1 1.1 0 1 0 2.1 0a1.1 1.1 0 1 0 -2.1 0zM208.4 600.8a1.8 1.8 0 1 0 3.5 0a1.8 1.8 0 1 0 -3.5 0zM168.5 621.4a0.8 0.8 0 1 0 1.5 0a0.8 0.8 0 1 0 -1.5 0zM208.2 623.8a1.3 1.3 0 1 0 2.6 0a1.3 1.3 0 1 0 -2.6 0z" fill="#c2ab96"/>
<path d="M167.8 616.5a1.6 1.6 0 1 0 3.1 0a1.6 1.6 0 1 0 -3.1 0zM174.5 608.6a1.3 1.3 0 1 0 2.5 0a1.3 1.3 0 1 0 -2.5 0zM213.9 611.7a1.2 1.2 0 1 0 2.5 0a1.2 1.2 0 1 0 -2.5 0zM188.8 623.5a1.4 1.4 0 1 0 2.9 0a1.4 1.4 0 1 0 -2.9 0zM184.4 590.6a1.5 1.5 0 1 0 3.1 0a1.5 1.5 0 1 0 -3.1 0zM203.7 605.5a0.9 0.9 0 1 0 1.7 0a0.9 0.9 0 1 0 -1.7 0zM200.6 590.1a1.3 1.3 0 1 0 2.5 0a1.3 1.3 0 1 0 -2.5 0zM233.7 600.2a1.2 1.2 0 1 0 2.5 0a1.2 1.2 0 1 0 -2.5 0zM170.3 603.1a0.9 0.9 0 1 0 1.8 0a0.9 0.9 0 1 0 -1.8 0zM185.9 620.0a1.6 1.6 0 1 0 3.1 0a1.6 1.6 0 1 0 -3.1 0zM173.0 602.6a1.4 1.4 0 1 0 2.8 0a1.4 1.4 0 1 0 -2.8 0zM212.6 613.4a1.5 1.5 0 1 0 3.1 0a1.5 1.5 0 1 0 -3.1 0zM171.8 594.5a0.9 0.9 0 1 0 1.8 0a0.9 0.9 0 1 0 -1.8 0zM197.5 619.7a1.4 1.4 0 1 0 2.9 0a1.4 1.4 0 1 0 -2.9 0zM172.1 609.1a0.6 0.6 0 1 0 1.3 0a0.6 0.6 0 1 0 -1.3 0zM183.5 597.2a0.9 0.9 0 1 0 1.9 0a0.9 0.9 0 1 0 -1.9 0zM212.1 611.6a1.2 1.2 0 1 0 2.3 0a1.2 1.2 0 1 0 -2.3 0zM238.9 628.4a1.4 1.4 0 1 0 2.9 0a1.4 1.4 0 1 0 -2.9 0zM225.4 600.4a1.5 1.5 0 1 0 3.1 0a1.5 1.5 0 1 0 -3.1 0zM214.7 625.6a1.0 1.0 0 1 0 2.0 0a1.0 1.0 0 1 0 -2.0 0zM225.2 596.8a1.4 1.4 0 1 0 2.7 0a1.4 1.4 0 1 0 -2.7 0z" fill="#c8c0c6"/>
<path d="M206.3 596.9a3.3 3.2 0 1 0 6.5 0a3.3 3.2 0 1 0 -6.5 0zM224.0 622.4a3.3 3.3 0 1 0 6.6 0a3.3 3.3 0 1 0 -6.6 0zM178.4 616.7a4.0 3.5 0 1 0 8.1 0a4.0 3.5 0 1 0 -8.1 0zM161.1 627.0a3.6 4.1 0 1 0 7.2 0a3.6 4.1 0 1 0 -7.2 0zM223.4 596.6a3.9 4.2 0 1 0 7.8 0a3.9 4.2 0 1 0 -7.8 0zM193.4 595.5a3.5 3.5 0 1 0 6.9 0a3.5 3.5 0 1 0 -6.9 0zM180.4 593.3a4.2 3.3 0 1 0 8.4 0a4.2 3.3 0 1 0 -8.4 0zM231.2 608.8a3.6 3.9 0 1 0 7.1 0a3.6 3.9 0 1 0 -7.1 0zM226.3 631.4a3.6 4.1 0 1 0 7.2 0a3.6 4.1 0 1 0 -7.2 0zM171.9 626.7a3.2 3.9 0 1 0 6.5 0a3.2 3.9 0 1 0 -6.5 0zM195.3 616.5a3.6 3.1 0 1 0 7.3 0a3.6 3.1 0 1 0 -7.3 0zM232.3 599.1a4.2 3.1 0 1 0 8.5 0a4.2 3.1 0 1 0 -8.5 0zM168.8 592.4a3.5 3.4 0 1 0 7.1 0a3.5 3.4 0 1 0 -7.1 0zM232.3 624.2a3.6 3.6 0 1 0 7.2 0a3.6 3.6 0 1 0 -7.2 0zM183.5 628.2a3.2 3.6 0 1 0 6.5 0a3.2 3.6 0 1 0 -6.5 0zM170.0 605.9a4.3 3.2 0 1 0 8.5 0a4.3 3.2 0 1 0 -8.5 0zM215.4 610.3a4.3 3.9 0 1 0 8.6 0a4.3 3.9 0 1 0 -8.6 0zM214.4 593.6a4.3 3.1 0 1 0 8.5 0a4.3 3.1 0 1 0 -8.5 0zM197.9 628.2a4.1 3.9 0 1 0 8.1 0a4.1 3.9 0 1 0 -8.1 0zM205.9 606.4a4.3 3.3 0 1 0 8.7 0a4.3 3.3 0 1 0 -8.7 0zM237.2 617.7a4.0 3.6 0 1 0 8.0 0a4.0 3.6 0 1 0 -8.0 0zM185.3 610.3a3.8 3.8 0 1 0 7.7 0a3.8 3.8 0 1 0 -7.7 0zM198.7 601.0a4.2 4.1 0 1 0 8.4 0a4.2 4.1 0 1 0 -8.4 0zM236.5 589.5a4.1 3.8 0 1 0 8.1 0a4.1 3.8 0 1 0 -8.1 0zM168.9 617.5a3.6 4.0 0 1 0 7.3 0a3.6 4.0 0 1 0 -7.3 0zM240.3 609.1a3.6 3.7 0 1 0 7.2 0a3.6 3.7 0 1 0 -7.2 0zM240.4 626.0a3.4 3.7 0 1 0 6.9 0a3.4 3.7 0 1 0 -6.9 0zM205.6 620.3a3.5 3.6 0 1 0 7.0 0a3.5 3.6 0 1 0 -7.0 0zM217.2 630.1a4.2 3.2 0 1 0 8.4 0a4.2 3.2 0 1 0 -8.4 0zM160.6 612.0a3.6 3.2 0 1 0 7.1 0a3.6 3.2 0 1 0 -7.1 0zM214.3 621.4a4.2 3.0 0 1 0 8.4 0a4.2 3.0 0 1 0 -8.4 0zM163.0 601.0a3.4 3.0 0 1 0 6.8 0a3.4 3.0 0 1 0 -6.8 0zM224.5 615.0a3.9 3.8 0 1 0 7.8 0a3.9 3.8 0 1 0 -7.8 0zM187.5 620.6a4.1 3.7 0 1 0 8.2 0a4.1 3.7 0 1 0 -8.2 0zM200.2 588.3a3.7 3.1 0 1 0 7.4 0a3.7 3.1 0 1 0 -7.4 0zM207.8 630.0a3.3 2.9 0 1 0 6.7 0a3.3 2.9 0 1 0 -6.7 0zM228.7 590.2a3.7 2.9 0 1 0 7.4 0a3.7 2.9 0 1 0 -7.4 0zM161.7 590.1a3.1 3.7 0 1 0 6.2 0a3.1 3.7 0 1 0 -6.2 0zM218.0 601.9a3.5 2.8 0 1 0 7.0 0a3.5 2.8 0 1 0 -7.0 0zM182.7 602.4a3.1 3.1 0 1 0 6.2 0a3.1 3.1 0 1 0 -6.2 0zM193.5 608.3a2.8 2.6 0 1 0 5.7 0a2.8 2.6 0 1 0 -5.7 0zM209.3 614.2a3.3 3.4 0 1 0 6.6 0a3.3 3.4 0 1 0 -6.6 0zM190.1 602.8a3.4 2.6 0 1 0 6.8 0a3.4 2.6 0 1 0 -6.8 0zM199.9 610.5a2.6 2.7 0 1 0 5.2 0a2.6 2.7 0 1 0 -5.2 0zM224.5 604.7a3.3 2.8 0 1 0 6.5 0a3.3 2.8 0 1 0 -6.5 0zM190.7 589.1a3.1 2.3 0 1 0 6.2 0a3.1 2.3 0 1 0 -6.2 0zM243.0 598.1a2.6 2.9 0 1 0 5.2 0a2.6 2.9 0 1 0 -5.2 0zM210.5 588.6a2.7 2.6 0 1 0 5.4 0a2.7 2.6 0 1 0 -5.4 0zM174.4 597.6a3.0 2.8 0 1 0 5.9 0a3.0 2.8 0 1 0 -5.9 0zM238.3 631.7a2.5 2.5 0 1 0 5.0 0a2.5 2.5 0 1 0 -5.0 0zM190.8 630.5a2.8 2.4 0 1 0 5.6 0a2.8 2.4 0 1 0 -5.6 0zM167.1 631.0a2.9 2.3 0 1 0 5.8 0a2.9 2.3 0 1 0 -5.8 0zM220.6 587.8a2.6 2.2 0 1 0 5.2 0a2.6 2.2 0 1 0 -5.2 0zM175.8 588.4a2.4 1.9 0 1 0 4.9 0a2.4 1.9 0 1 0 -4.9 0zM203.5 614.9a2.0 2.2 0 1 0 3.9 0a2.0 2.2 0 1 0 -3.9 0zM164.1 620.3a1.6 1.5 0 1 0 3.1 0a1.6 1.5 0 1 0 -3.1 0zM177.3 631.7a1.6 1.5 0 1 0 3.2 0a1.6 1.5 0 1 0 -3.2 0zM167.2 622.7a1.8 1.7 0 1 0 3.7 0a1.8 1.7 0 1 0 -3.7 0zM162.4 606.3a1.8 1.8 0 1 0 3.6 0a1.8 1.8 0 1 0 -3.6 0zM213.1 600.0a1.6 1.7 0 1 0 3.2 0a1.6 1.7 0 1 0 -3.2 0zM189.3 595.2a1.4 1.2 0 1 0 2.8 0a1.4 1.2 0 1 0 -2.8 0zM182.1 608.1a1.3 1.6 0 1 0 2.6 0a1.3 1.6 0 1 0 -2.6 0zM215.0 603.9a1.4 1.3 0 1 0 2.8 0a1.4 1.3 0 1 0 -2.8 0zM201.1 594.3a1.2 1.5 0 1 0 2.5 0a1.2 1.5 0 1 0 -2.5 0zM232.3 619.1a1.6 1.5 0 1 0 3.3 0a1.6 1.5 0 1 0 -3.3 0zM164.7 594.9a1.4 1.3 0 1 0 2.7 0a1.4 1.3 0 1 0 -2.7 0zM196.2 623.1a1.5 1.1 0 1 0 3.0 0a1.5 1.1 0 1 0 -3.0 0zM174.5 612.5a1.5 1.2 0 1 0 3.1 0a1.5 1.2 0 1 0 -3.1 0zM179.1 624.4a1.1 1.1 0 1 0 2.3 0a1.1 1.1 0 1 0 -2.3 0zM240.3 602.6a1.1 1.1 0 1 0 2.3 0a1.1 1.1 0 1 0 -2.3 0zM221.2 616.3a1.1 1.2 0 1 0 2.3 0a1.1 1.2 0 1 0 -2.3 0zM193.1 612.9a1.4 1.1 0 1 0 2.8 0a1.4 1.1 0 1 0 -2.8 0zM179.2 605.4a1.2 1.0 0 1 0 2.5 0a1.2 1.0 0 1 0 -2.5 0zM244.5 630.8a1.3 1.1 0 1 0 2.6 0a1.3 1.1 0 1 0 -2.6 0zM207.6 590.1a1.4 1.2 0 1 0 2.7 0a1.4 1.2 0 1 0 -2.7 0zM194.2 626.3a1.0 1.3 0 1 0 2.0 0a1.0 1.3 0 1 0 -2.0 0zM179.6 602.2a1.1 0.9 0 1 0 2.3 0a1.1 0.9 0 1 0 -2.3 0zM215.1 626.9a1.0 0.9 0 1 0 1.9 0a1.0 0.9 0 1 0 -1.9 0zM188.1 588.9a1.0 1.0 0 1 0 2.0 0a1.0 1.0 0 1 0 -2.0 0zM227.4 609.6a1.2 1.0 0 1 0 2.3 0a1.2 1.0 0 1 0 -2.3 0zM240.2 595.3a1.1 1.0 0 1 0 2.2 0a1.1 1.0 0 1 0 -2.2 0zM244.6 593.7a1.1 1.1 0 1 0 2.2 0a1.1 1.1 0 1 0 -2.2 0zM178.6 609.0a1.1 1.0 0 1 0 2.2 0a1.1 1.0 0 1 0 -2.2 0zM168.4 610.9a1.0 1.1 0 1 0 2.0 0a1.0 1.1 0 1 0 -2.0 0zM203.4 622.8a0.9 0.9 0 1 0 1.8 0a0.9 0.9 0 1 0 -1.8 0zM226.0 589.6a1.0 1.0 0 1 0 2.0 0a1.0 1.0 0 1 0 -2.0 0zM188.0 599.0a1.0 0.8 0 1 0 1.9 0a1.0 0.8 0 1 0 -1.9 0zM183.2 623.7a1.0 0.9 0 1 0 2.1 0a1.0 0.9 0 1 0 -2.1 0zM211.7 624.7a1.0 0.9 0 1 0 1.9 0a1.0 0.9 0 1 0 -1.9 0zM168.2 596.4a0.8 0.8 0 1 0 1.7 0a0.8 0.8 0 1 0 -1.7 0zM166.2 616.3a0.8 0.8 0 1 0 1.6 0a0.8 0.8 0 1 0 -1.6 0zM168.4 613.7a1.0 0.7 0 1 0 2.1 0a1.0 0.7 0 1 0 -2.1 0zM181.7 598.7a0.8 0.9 0 1 0 1.6 0a0.8 0.9 0 1 0 -1.6 0zM170.4 601.1a0.8 0.9 0 1 0 1.5 0a0.8 0.9 0 1 0 -1.5 0zM235.1 629.3a0.9 0.9 0 1 0 1.9 0a0.9 0.9 0 1 0 -1.9 0zM177.0 622.3a0.9 0.9 0 1 0 1.9 0a0.9 0.9 0 1 0 -1.9 0zM180.8 630.7a0.9 0.8 0 1 0 1.8 0a0.9 0.8 0 1 0 -1.8 0zM216.3 588.2a1.0 0.8 0 1 0 1.9 0a1.0 0.8 0 1 0 -1.9 0zM180.4 627.9a0.9 0.9 0 1 0 1.8 0a0.9 0.9 0 1 0 -1.8 0zM168.2 607.1a0.8 0.8 0 1 0 1.5 0a0.8 0.8 0 1 0 -1.5 0zM206.4 626.6a0.9 0.7 0 1 0 1.8 0a0.9 0.7 0 1 0 -1.8 0zM198.5 591.4a0.8 0.8 0 1 0 1.5 0a0.8 0.8 0 1 0 -1.5 0zM243.7 603.7a0.8 0.8 0 1 0 1.7 0a0.8 0.8 0 1 0 -1.7 0zM234.9 614.2a0.7 0.7 0 1 0 1.5 0a0.7 0.7 0 1 0 -1.5 0zM238.5 627.7a0.7 0.8 0 1 0 1.4 0a0.7 0.8 0 1 0 -1.4 0zM238.5 607.2a0.9 0.6 0 1 0 1.7 0a0.9 0.6 0 1 0 -1.7 0zM224.4 591.2a0.7 0.6 0 1 0 1.4 0a0.7 0.6 0 1 0 -1.4 0zM199.4 605.6a0.8 0.7 0 1 0 1.6 0a0.8 0.7 0 1 0 -1.6 0zM243.1 601.6a0.7 0.7 0 1 0 1.4 0a0.7 0.7 0 1 0 -1.4 0zM207.6 611.8a0.6 0.8 0 1 0 1.3 0a0.6 0.8 0 1 0 -1.3 0zM239.0 612.0a0.7 0.7 0 1 0 1.5 0a0.7 0.7 0 1 0 -1.5 0zM235.0 616.7a0.7 0.6 0 1 0 1.5 0a0.7 0.6 0 1 0 -1.5 0z" fill="#fdfbf8"/>
</g>
<rect x="166.6" y="628.1" width="3.6" height="1.1" fill="#1a1a1a"/>
</g>
<clipPath id="tc5"><rect x="83.6" y="630.6" width="78.2" height="40.4"/></clipPath>
<g clip-path="url(#tc5)"><g filter="url(#soft)">
<rect x="82.6" y="629.6" width="80.2" height="42.4" fill="#d6d8ea"/>
<path d="M150.7 644.7a1.5 1.5 0 1 0 3.1 0a1.5 1.5 0 1 0 -3.1 0zM107.0 661.6a1.0 1.0 0 1 0 2.0 0a1.0 1.0 0 1 0 -2.0 0zM148.4 637.3a1.7 1.7 0 1 0 3.3 0a1.7 1.7 0 1 0 -3.3 0zM143.7 651.0a0.8 0.8 0 1 0 1.6 0a0.8 0.8 0 1 0 -1.6 0zM106.5 665.5a0.7 0.7 0 1 0 1.5 0a0.7 0.7 0 1 0 -1.5 0zM89.5 661.4a0.9 0.9 0 1 0 1.9 0a0.9 0.9 0 1 0 -1.9 0zM124.8 649.6a0.6 0.6 0 1 0 1.2 0a0.6 0.6 0 1 0 -1.2 0zM146.0 640.0a0.9 0.9 0 1 0 1.8 0a0.9 0.9 0 1 0 -1.8 0zM145.4 633.3a1.4 1.4 0 1 0 2.8 0a1.4 1.4 0 1 0 -2.8 0zM120.3 649.8a0.6 0.6 0 1 0 1.3 0a0.6 0.6 0 1 0 -1.3 0zM150.9 658.2a1.5 1.5 0 1 0 2.9 0a1.5 1.5 0 1 0 -2.9 0zM89.7 660.2a1.4 1.4 0 1 0 2.9 0a1.4 1.4 0 1 0 -2.9 0zM155.6 652.5a1.3 1.3 0 1 0 2.6 0a1.3 1.3 0 1 0 -2.6 0zM83.6 649.7a1.1 1.1 0 1 0 2.1 0a1.1 1.1 0 1 0 -2.1 0zM108.0 638.2a1.3 1.3 0 1 0 2.5 0a1.3 1.3 0 1 0 -2.5 0zM92.4 667.2a0.7 0.7 0 1 0 1.3 0a0.7 0.7 0 1 0 -1.3 0zM115.1 663.4a1.4 1.4 0 1 0 2.9 0a1.4 1.4 0 1 0 -2.9 0zM153.7 658.4a1.0 1.0 0 1 0 2.0 0a1.0 1.0 0 1 0 -2.0 0zM90.7 654.4a1.2 1.2 0 1 0 2.4 0a1.2 1.2 0 1 0 -2.4 0zM134.9 645.6a1.7 1.7 0 1 0 3.3 0a1.7 1.7 0 1 0 -3.3 0zM94.9 650.9a1.4 1.4 0 1 0 2.7 0a1.4 1.4 0 1 0 -2.7 0zM154.1 648.1a1.7 1.7 0 1 0 3.3 0a1.7 1.7 0 1 0 -3.3 0zM122.2 651.7a1.6 1.6 0 1 0 3.2 0a1.6 1.6 0 1 0 -3.2 0zM121.1 632.6a1.2 1.2 0 1 0 2.5 0a1.2 1.2 0 1 0 -2.5 0z" fill="#c2c4de"/>
<path d="M134.4 644.8a0.8 0.8 0 1 0 1.6 0a0.8 0.8 0 1 0 -1.6 0zM137.1 635.6a1.1 1.1 0 1 0 2.2 0a1.1 1.1 0 1 0 -2.2 0zM150.0 643.5a1.5 1.5 0 1 0 2.9 0a1.5 1.5 0 1 0 -2.9 0zM88.4 656.3a1.0 1.0 0 1 0 2.1 0a1.0 1.0 0 1 0 -2.1 0zM102.8 640.4a1.7 1.7 0 1 0 3.4 0a1.7 1.7 0 1 0 -3.4 0zM120.4 637.4a1.6 1.6 0 1 0 3.3 0a1.6 1.6 0 1 0 -3.3 0zM159.7 651.5a1.7 1.7 0 1 0 3.4 0a1.7 1.7 0 1 0 -3.4 0zM85.8 660.8a1.6 1.6 0 1 0 3.2 0a1.6 1.6 0 1 0 -3.2 0zM141.3 657.4a1.0 1.0 0 1 0 2.0 0a1.0 1.0 0 1 0 -2.0 0zM89.8 660.5a0.7 0.7 0 1 0 1.4 0a0.7 0.7 0 1 0 -1.4 0zM101.9 659.0a1.0 1.0 0 1 0 2.1 0a1.0 1.0 0 1 0 -2.1 0zM124.8 669.9a1.5 1.5 0 1 0 3.0 0a1.5 1.5 0 1 0 -3.0 0zM135.2 649.9a1.1 1.1 0 1 0 2.2 0a1.1 1.1 0 1 0 -2.2 0zM103.1 639.0a1.0 1.0 0 1 0 2.1 0a1.0 1.0 0 1 0 -2.1 0zM83.8 644.2a1.7 1.7 0 1 0 3.5 0a1.7 1.7 0 1 0 -3.5 0zM160.6 647.1a1.2 1.2 0 1 0 2.3 0a1.2 1.2 0 1 0 -2.3 0zM158.9 646.0a1.6 1.6 0 1 0 3.3 0a1.6 1.6 0 1 0 -3.3 0zM136.8 660.6a1.4 1.4 0 1 0 2.7 0a1.4 1.4 0 1 0 -2.7 0zM151.3 666.1a0.7 0.7 0 1 0 1.4 0a0.7 0.7 0 1 0 -1.4 0zM144.8 666.1a1.7 1.7 0 1 0 3.4 0a1.7 1.7 0 1 0 -3.4 0zM86.5 653.5a1.2 1.2 0 1 0 2.5 0a1.2 1.2 0 1 0 -2.5 0zM107.3 649.6a1.0 1.0 0 1 0 1.9 0a1.0 1.0 0 1 0 -1.9 0zM118.4 648.5a0.9 0.9 0 1 0 1.7 0a0.9 0.9 0 1 0 -1.7 0zM159.0 667.6a1.6 1.6 0 1 0 3.2 0a1.6 1.6 0 1 0 -3.2 0zM110.8 666.4a1.2 1.2 0 1 0 2.3 0a1.2 1.2 0 1 0 -2.3 0zM112.5 637.3a1.6 1.6 0 1 0 3.1 0a1.6 1.6 0 1 0 -3.1 0zM150.3 638.0a1.1 1.1 0 1 0 2.1 0a1.1 1.1 0 1 0 -2.1 0zM146.9 639.6a0.8 0.8 0 1 0 1.5 0a0.8 0.8 0 1 0 -1.5 0zM148.2 668.8a1.1 1.1 0 1 0 2.3 0a1.1 1.1 0 1 0 -2.3 0z" fill="#cbcde3"/>
<path d="M130.5 664.1a1.2 1.2 0 1 0 2.4 0a1.2 1.2 0 1 0 -2.4 0zM100.0 670.5a1.3 1.3 0 1 0 2.7 0a1.3 1.3 0 1 0 -2.7 0zM154.3 633.1a1.0 1.0 0 1 0 2.0 0a1.0 1.0 0 1 0 -2.0 0zM155.8 645.1a1.5 1.5 0 1 0 2.9 0a1.5 1.5 0 1 0 -2.9 0zM150.6 670.0a1.8 1.8 0 1 0 3.5 0a1.8 1.8 0 1 0 -3.5 0zM154.9 669.2a1.7 1.7 0 1 0 3.3 0a1.7 1.7 0 1 0 -3.3 0zM141.5 655.9a1.6 1.6 0 1 0 3.2 0a1.6 1.6 0 1 0 -3.2 0zM111.5 642.3a1.7 1.7 0 1 0 3.3 0a1.7 1.7 0 1 0 -3.3 0zM137.1 653.4a1.7 1.7 0 1 0 3.4 0a1.7 1.7 0 1 0 -3.4 0zM119.6 662.2a1.6 1.6 0 1 0 3.3 0a1.6 1.6 0 1 0 -3.3 0zM142.7 652.7a0.8 0.8 0 1 0 1.7 0a0.8 0.8 0 1 0 -1.7 0zM101.0 635.5a1.0 1.0 0 1 0 2.1 0a1.0 1.0 0 1 0 -2.1 0zM103.7 635.4a1.6 1.6 0 1 0 3.2 0a1.6 1.6 0 1 0 -3.2 0zM158.1 636.4a0.9 0.9 0 1 0 1.7 0a0.9 0.9 0 1 0 -1.7 0zM83.7 643.8a1.1 1.1 0 1 0 2.1 0a1.1 1.1 0 1 0 -2.1 0zM153.9 632.0a1.4 1.4 0 1 0 2.8 0a1.4 1.4 0 1 0 -2.8 0zM142.0 657.9a1.1 1.1 0 1 0 2.3 0a1.1 1.1 0 1 0 -2.3 0zM106.4 648.8a0.8 0.8 0 1 0 1.6 0a0.8 0.8 0 1 0 -1.6 0zM122.7 662.3a0.7 0.7 0 1 0 1.3 0a0.7 0.7 0 1 0 -1.3 0zM130.3 644.8a1.3 1.3 0 1 0 2.6 0a1.3 1.3 0 1 0 -2.6 0zM135.4 662.1a1.2 1.2 0 1 0 2.5 0a1.2 1.2 0 1 0 -2.5 0zM104.9 649.3a0.7 0.7 0 1 0 1.4 0a0.7 0.7 0 1 0 -1.4 0zM95.6 657.4a1.7 1.7 0 1 0 3.4 0a1.7 1.7 0 1 0 -3.4 0zM123.9 665.8a0.7 0.7 0 1 0 1.4 0a0.7 0.7 0 1 0 -1.4 0zM83.2 633.3a1.6 1.6 0 1 0 3.1 0a1.6 1.6 0 1 0 -3.1 0zM157.5 639.9a1.5 1.5 0 1 0 2.9 0a1.5 1.5 0 1 0 -2.9 0zM156.7 637.9a1.5 1.5 0 1 0 3.0 0a1.5 1.5 0 1 0 -3.0 0zM116.6 644.6a1.0 1.0 0 1 0 2.0 0a1.0 1.0 0 1 0 -2.0 0zM140.7 664.0a1.0 1.0 0 1 0 2.1 0a1.0 1.0 0 1 0 -2.1 0zM136.2 671.0a1.0 1.0 0 1 0 2.0 0a1.0 1.0 0 1 0 -2.0 0zM93.0 643.3a0.7 0.7 0 1 0 1.4 0a0.7 0.7 0 1 0 -1.4 0zM88.2 655.5a1.8 1.8 0 1 0 3.5 0a1.8 1.8 0 1 0 -3.5 0zM97.8 639.0a0.8 0.8 0 1 0 1.7 0a0.8 0.8 0 1 0 -1.7 0zM94.8 649.0a1.6 1.6 0 1 0 3.3 0a1.6 1.6 0 1 0 -3.3 0zM158.3 654.4a1.5 1.5 0 1 0 3.0 0a1.5 1.5 0 1 0 -3.0 0zM108.6 655.5a1.1 1.1 0 1 0 2.2 0a1.1 1.1 0 1 0 -2.2 0zM104.1 630.9a1.2 1.2 0 1 0 2.5 0a1.2 1.2 0 1 0 -2.5 0z" fill="#b9bcd9"/>
<path d="M114.3 632.3a4.4 4.0 0 1 0 8.8 0a4.4 4.0 0 1 0 -8.8 0zM86.1 643.1a4.0 3.9 0 1 0 7.9 0a4.0 3.9 0 1 0 -7.9 0zM121.2 667.9a3.9 3.4 0 1 0 7.7 0a3.9 3.4 0 1 0 -7.7 0zM159.4 671.5a4.3 4.6 0 1 0 8.5 0a4.3 4.6 0 1 0 -8.5 0zM106.0 645.4a4.6 4.1 0 1 0 9.2 0a4.6 4.1 0 1 0 -9.2 0zM129.6 672.2a4.2 4.2 0 1 0 8.5 0a4.2 4.2 0 1 0 -8.5 0zM132.6 658.2a4.0 4.3 0 1 0 8.1 0a4.0 4.3 0 1 0 -8.1 0zM147.2 633.0a4.3 3.6 0 1 0 8.7 0a4.3 3.6 0 1 0 -8.7 0zM109.6 669.7a4.4 3.8 0 1 0 8.8 0a4.4 3.8 0 1 0 -8.8 0zM91.1 672.9a4.4 4.2 0 1 0 8.7 0a4.4 4.2 0 1 0 -8.7 0zM78.7 658.0a4.4 3.4 0 1 0 8.9 0a4.4 3.4 0 1 0 -8.9 0zM127.0 642.5a4.0 4.2 0 1 0 8.1 0a4.0 4.2 0 1 0 -8.1 0zM121.7 655.8a3.6 3.6 0 1 0 7.2 0a3.6 3.6 0 1 0 -7.2 0zM146.2 657.9a4.1 3.5 0 1 0 8.1 0a4.1 3.5 0 1 0 -8.1 0zM139.3 644.2a3.6 4.3 0 1 0 7.3 0a3.6 4.3 0 1 0 -7.3 0zM158.6 639.0a3.6 4.6 0 1 0 7.1 0a3.6 4.6 0 1 0 -7.1 0zM90.8 660.4a4.7 4.1 0 1 0 9.5 0a4.7 4.1 0 1 0 -9.5 0zM158.0 647.6a4.7 4.4 0 1 0 9.4 0a4.7 4.4 0 1 0 -9.4 0zM130.6 632.9a4.1 3.9 0 1 0 8.2 0a4.1 3.9 0 1 0 -8.2 0zM139.4 667.8a3.7 3.8 0 1 0 7.5 0a3.7 3.8 0 1 0 -7.5 0zM77.3 631.6a4.6 3.9 0 1 0 9.3 0a4.6 3.9 0 1 0 -9.3 0zM96.0 637.4a4.4 3.4 0 1 0 8.8 0a4.4 3.4 0 1 0 -8.8 0zM109.0 655.4a4.5 4.0 0 1 0 9.0 0a4.5 4.0 0 1 0 -9.0 0zM157.8 661.8a4.2 3.9 0 1 0 8.5 0a4.2 3.9 0 1 0 -8.5 0zM104.2 631.1a4.4 3.6 0 1 0 8.7 0a4.4 3.6 0 1 0 -8.7 0zM117.8 646.6a4.1 4.2 0 1 0 8.2 0a4.1 4.2 0 1 0 -8.2 0zM79.7 668.0a4.1 4.3 0 1 0 8.2 0a4.1 4.3 0 1 0 -8.2 0zM145.8 649.1a4.3 3.3 0 1 0 8.6 0a4.3 3.3 0 1 0 -8.6 0zM97.6 649.3a4.0 3.6 0 1 0 8.0 0a4.0 3.6 0 1 0 -8.0 0zM91.4 628.7a4.2 4.0 0 1 0 8.4 0a4.2 4.0 0 1 0 -8.4 0zM100.1 671.8a4.1 3.4 0 1 0 8.1 0a4.1 3.4 0 1 0 -8.1 0zM156.3 630.5a3.7 4.0 0 1 0 7.5 0a3.7 4.0 0 1 0 -7.5 0zM78.1 647.6a4.3 3.4 0 1 0 8.6 0a4.3 3.4 0 1 0 -8.6 0zM139.6 629.2a4.0 3.2 0 1 0 7.9 0a4.0 3.2 0 1 0 -7.9 0zM149.6 666.1a3.7 3.5 0 1 0 7.3 0a3.7 3.5 0 1 0 -7.3 0zM103.4 662.0a3.8 3.8 0 1 0 7.5 0a3.8 3.8 0 1 0 -7.5 0zM127.8 651.4a3.7 3.4 0 1 0 7.5 0a3.7 3.4 0 1 0 -7.5 0zM123.7 633.0a3.2 3.1 0 1 0 6.3 0a3.2 3.1 0 1 0 -6.3 0zM139.0 636.9a3.3 3.2 0 1 0 6.7 0a3.3 3.2 0 1 0 -6.7 0zM90.6 650.2a3.0 2.9 0 1 0 6.1 0a3.0 2.9 0 1 0 -6.1 0zM137.3 651.6a2.8 3.0 0 1 0 5.6 0a2.8 3.0 0 1 0 -5.6 0zM152.4 641.5a2.5 2.5 0 1 0 5.1 0a2.5 2.5 0 1 0 -5.1 0zM117.8 660.9a2.7 2.4 0 1 0 5.4 0a2.7 2.4 0 1 0 -5.4 0zM152.6 672.7a3.0 2.9 0 1 0 6.0 0a3.0 2.9 0 1 0 -6.0 0zM129.4 664.5a3.1 2.7 0 1 0 6.2 0a3.1 2.7 0 1 0 -6.2 0zM145.3 640.2a2.9 2.7 0 1 0 5.9 0a2.9 2.7 0 1 0 -5.9 0zM80.3 640.0a2.7 2.2 0 1 0 5.4 0a2.7 2.2 0 1 0 -5.4 0zM157.2 654.7a2.1 2.0 0 1 0 4.2 0a2.1 2.0 0 1 0 -4.2 0zM99.7 657.2a2.6 2.4 0 1 0 5.2 0a2.6 2.4 0 1 0 -5.2 0zM115.8 639.9a2.4 2.2 0 1 0 4.9 0a2.4 2.2 0 1 0 -4.9 0zM121.5 638.9a2.4 2.1 0 1 0 4.7 0a2.4 2.1 0 1 0 -4.7 0zM89.5 634.2a2.2 2.1 0 1 0 4.4 0a2.2 2.1 0 1 0 -4.4 0zM146.6 671.9a2.3 2.0 0 1 0 4.6 0a2.3 2.0 0 1 0 -4.6 0zM141.3 658.4a2.1 1.7 0 1 0 4.3 0a2.1 1.7 0 1 0 -4.3 0zM107.1 638.0a2.3 2.3 0 1 0 4.6 0a2.3 2.3 0 1 0 -4.6 0zM99.3 666.2a1.7 1.8 0 1 0 3.5 0a1.7 1.8 0 1 0 -3.5 0zM87.0 663.3a1.7 1.9 0 1 0 3.4 0a1.7 1.9 0 1 0 -3.4 0zM105.7 653.2a1.5 1.6 0 1 0 3.0 0a1.5 1.6 0 1 0 -3.0 0zM96.4 643.5a1.5 1.5 0 1 0 3.0 0a1.5 1.5 0 1 0 -3.0 0zM135.5 645.6a1.5 1.4 0 1 0 2.9 0a1.5 1.4 0 1 0 -2.9 0zM135.4 666.7a1.8 1.8 0 1 0 3.5 0a1.8 1.8 0 1 0 -3.5 0zM142.4 654.3a1.8 1.8 0 1 0 3.6 0a1.8 1.8 0 1 0 -3.6 0zM143.3 662.4a1.7 1.3 0 1 0 3.3 0a1.7 1.3 0 1 0 -3.3 0zM113.6 663.3a1.4 1.5 0 1 0 2.8 0a1.4 1.5 0 1 0 -2.8 0zM124.3 661.9a1.5 1.5 0 1 0 3.0 0a1.5 1.5 0 1 0 -3.0 0zM154.9 651.4a1.3 1.2 0 1 0 2.6 0a1.3 1.2 0 1 0 -2.6 0zM88.2 655.2a1.5 1.4 0 1 0 3.0 0a1.5 1.4 0 1 0 -3.0 0zM136.8 640.8a1.5 1.5 0 1 0 2.9 0a1.5 1.5 0 1 0 -2.9 0zM112.3 636.1a1.3 1.2 0 1 0 2.5 0a1.3 1.2 0 1 0 -2.5 0zM117.4 651.4a1.2 1.1 0 1 0 2.4 0a1.2 1.1 0 1 0 -2.4 0zM87.0 649.7a1.1 1.2 0 1 0 2.2 0a1.1 1.2 0 1 0 -2.2 0zM119.0 654.0a1.2 1.4 0 1 0 2.4 0a1.2 1.4 0 1 0 -2.4 0zM139.5 662.9a1.4 1.3 0 1 0 2.8 0a1.4 1.3 0 1 0 -2.8 0zM114.6 649.1a1.3 1.3 0 1 0 2.5 0a1.3 1.3 0 1 0 -2.5 0zM119.5 672.9a1.1 1.0 0 1 0 2.3 0a1.1 1.0 0 1 0 -2.3 0zM155.9 635.9a1.2 1.0 0 1 0 2.3 0a1.2 1.0 0 1 0 -2.3 0zM87.9 671.0a1.1 1.1 0 1 0 2.2 0a1.1 1.1 0 1 0 -2.2 0zM90.5 668.2a1.1 0.9 0 1 0 2.1 0a1.1 0.9 0 1 0 -2.1 0zM154.3 653.9a1.1 0.8 0 1 0 2.3 0a1.1 0.8 0 1 0 -2.3 0zM142.7 649.3a1.1 0.8 0 1 0 2.2 0a1.1 0.8 0 1 0 -2.2 0zM157.4 667.8a1.1 0.8 0 1 0 2.1 0a1.1 0.8 0 1 0 -2.1 0zM96.3 653.0a1.1 0.8 0 1 0 2.1 0a1.1 0.8 0 1 0 -2.1 0zM117.9 665.3a0.8 1.0 0 1 0 1.5 0a0.8 1.0 0 1 0 -1.5 0zM94.4 645.5a1.0 0.8 0 1 0 1.9 0a1.0 0.8 0 1 0 -1.9 0zM123.1 629.6a0.8 0.9 0 1 0 1.6 0a0.8 0.9 0 1 0 -1.6 0zM101.3 662.0a0.8 0.7 0 1 0 1.6 0a0.8 0.7 0 1 0 -1.6 0zM130.4 637.3a0.7 0.7 0 1 0 1.5 0a0.7 0.7 0 1 0 -1.5 0zM135.6 642.7a0.8 0.7 0 1 0 1.7 0a0.8 0.7 0 1 0 -1.7 0zM127.4 637.5a0.8 0.8 0 1 0 1.5 0a0.8 0.8 0 1 0 -1.5 0zM103.7 644.7a0.9 0.7 0 1 0 1.8 0a0.9 0.7 0 1 0 -1.8 0zM147.5 662.8a0.8 0.8 0 1 0 1.6 0a0.8 0.8 0 1 0 -1.6 0zM86.6 628.7a0.7 0.7 0 1 0 1.4 0a0.7 0.7 0 1 0 -1.4 0zM112.8 639.5a0.9 0.7 0 1 0 1.8 0a0.9 0.7 0 1 0 -1.8 0zM104.9 640.3a0.8 0.7 0 1 0 1.5 0a0.8 0.7 0 1 0 -1.5 0zM88.4 659.4a0.7 0.7 0 1 0 1.4 0a0.7 0.7 0 1 0 -1.4 0zM87.0 631.7a0.7 0.7 0 1 0 1.5 0a0.7 0.7 0 1 0 -1.5 0zM92.3 666.2a0.9 0.8 0 1 0 1.7 0a0.9 0.8 0 1 0 -1.7 0zM155.2 660.6a0.8 0.8 0 1 0 1.6 0a0.8 0.8 0 1 0 -1.6 0zM120.0 664.9a0.8 0.8 0 1 0 1.6 0a0.8 0.8 0 1 0 -1.6 0zM125.2 650.8a0.8 0.7 0 1 0 1.6 0a0.8 0.7 0 1 0 -1.6 0zM161.9 655.4a0.8 0.7 0 1 0 1.6 0a0.8 0.7 0 1 0 -1.6 0zM128.7 661.3a0.7 0.7 0 1 0 1.3 0a0.7 0.7 0 1 0 -1.3 0zM103.6 666.6a0.6 0.6 0 1 0 1.2 0a0.6 0.6 0 1 0 -1.2 0zM134.5 639.2a0.7 0.7 0 1 0 1.3 0a0.7 0.7 0 1 0 -1.3 0zM92.0 638.8a0.7 0.7 0 1 0 1.4 0a0.7 0.7 0 1 0 -1.4 0zM111.6 661.1a0.7 0.7 0 1 0 1.5 0a0.7 0.7 0 1 0 -1.5 0z" fill="#fdfdfe"/>
</g>
<rect x="84" y="669.3" width="3.6" height="1.1" fill="#1a1a1a"/>
</g>
<clipPath id="tc6"><rect x="166.2" y="630.6" width="77.6" height="40.4"/></clipPath>
<g clip-path="url(#tc6)"><g filter="url(#soft)">
<rect x="165.2" y="629.6" width="79.6" height="42.4" fill="#d6d0d8"/>
<ellipse cx="185.6" cy="658.88" rx="14" ry="9" fill="#a88468" opacity="0.55"/>
<ellipse cx="236.04" cy="658.88" rx="7" ry="10" fill="#b08a6c" opacity="0.55"/>
<ellipse cx="205" cy="642.72" rx="10" ry="6" fill="#b8a8a8" opacity="0.45"/>
<path d="M233.1 657.2a0.8 0.8 0 1 0 1.5 0a0.8 0.8 0 1 0 -1.5 0zM222.3 652.3a0.7 0.7 0 1 0 1.4 0a0.7 0.7 0 1 0 -1.4 0zM208.0 663.9a0.9 0.9 0 1 0 1.7 0a0.9 0.9 0 1 0 -1.7 0zM173.9 641.6a0.6 0.6 0 1 0 1.3 0a0.6 0.6 0 1 0 -1.3 0zM220.1 664.9a1.0 1.0 0 1 0 2.0 0a1.0 1.0 0 1 0 -2.0 0zM228.8 652.2a1.5 1.5 0 1 0 3.0 0a1.5 1.5 0 1 0 -3.0 0zM165.9 644.3a1.5 1.5 0 1 0 2.9 0a1.5 1.5 0 1 0 -2.9 0zM168.6 670.6a1.8 1.8 0 1 0 3.5 0a1.8 1.8 0 1 0 -3.5 0zM225.7 663.1a1.2 1.2 0 1 0 2.4 0a1.2 1.2 0 1 0 -2.4 0zM211.8 644.0a1.6 1.6 0 1 0 3.3 0a1.6 1.6 0 1 0 -3.3 0zM225.4 650.5a1.6 1.6 0 1 0 3.2 0a1.6 1.6 0 1 0 -3.2 0zM175.9 668.7a1.6 1.6 0 1 0 3.3 0a1.6 1.6 0 1 0 -3.3 0zM195.9 657.2a1.6 1.6 0 1 0 3.3 0a1.6 1.6 0 1 0 -3.3 0zM205.7 665.4a0.8 0.8 0 1 0 1.7 0a0.8 0.8 0 1 0 -1.7 0zM209.5 664.7a1.6 1.6 0 1 0 3.1 0a1.6 1.6 0 1 0 -3.1 0zM204.4 637.7a0.7 0.7 0 1 0 1.4 0a0.7 0.7 0 1 0 -1.4 0zM235.6 648.5a0.9 0.9 0 1 0 1.9 0a0.9 0.9 0 1 0 -1.9 0zM195.6 659.8a0.9 0.9 0 1 0 1.7 0a0.9 0.9 0 1 0 -1.7 0zM209.7 631.1a0.6 0.6 0 1 0 1.2 0a0.6 0.6 0 1 0 -1.2 0zM222.1 659.9a0.8 0.8 0 1 0 1.7 0a0.8 0.8 0 1 0 -1.7 0zM218.1 667.3a1.5 1.5 0 1 0 2.9 0a1.5 1.5 0 1 0 -2.9 0zM175.3 640.9a1.4 1.4 0 1 0 2.7 0a1.4 1.4 0 1 0 -2.7 0zM197.6 646.3a1.0 1.0 0 1 0 1.9 0a1.0 1.0 0 1 0 -1.9 0zM169.4 658.0a1.6 1.6 0 1 0 3.2 0a1.6 1.6 0 1 0 -3.2 0zM176.0 646.6a1.3 1.3 0 1 0 2.6 0a1.3 1.3 0 1 0 -2.6 0zM216.5 639.3a0.9 0.9 0 1 0 1.8 0a0.9 0.9 0 1 0 -1.8 0zM168.0 654.3a1.6 1.6 0 1 0 3.2 0a1.6 1.6 0 1 0 -3.2 0zM238.5 651.5a1.1 1.1 0 1 0 2.2 0a1.1 1.1 0 1 0 -2.2 0zM188.3 642.4a0.8 0.8 0 1 0 1.5 0a0.8 0.8 0 1 0 -1.5 0z" fill="#bfbcd2"/>
<path d="M169.0 663.2a1.6 1.6 0 1 0 3.1 0a1.6 1.6 0 1 0 -3.1 0zM170.4 644.7a1.6 1.6 0 1 0 3.2 0a1.6 1.6 0 1 0 -3.2 0zM198.4 636.8a0.8 0.8 0 1 0 1.5 0a0.8 0.8 0 1 0 -1.5 0zM177.0 638.2a1.3 1.3 0 1 0 2.6 0a1.3 1.3 0 1 0 -2.6 0zM224.6 659.4a1.2 1.2 0 1 0 2.3 0a1.2 1.2 0 1 0 -2.3 0zM228.1 630.7a1.2 1.2 0 1 0 2.4 0a1.2 1.2 0 1 0 -2.4 0zM223.7 657.4a1.7 1.7 0 1 0 3.4 0a1.7 1.7 0 1 0 -3.4 0zM181.5 639.3a0.7 0.7 0 1 0 1.5 0a0.7 0.7 0 1 0 -1.5 0zM177.6 654.2a1.3 1.3 0 1 0 2.7 0a1.3 1.3 0 1 0 -2.7 0zM207.1 664.6a0.7 0.7 0 1 0 1.3 0a0.7 0.7 0 1 0 -1.3 0zM199.2 657.7a0.8 0.8 0 1 0 1.6 0a0.8 0.8 0 1 0 -1.6 0zM180.3 666.8a1.2 1.2 0 1 0 2.5 0a1.2 1.2 0 1 0 -2.5 0zM212.8 632.4a1.4 1.4 0 1 0 2.9 0a1.4 1.4 0 1 0 -2.9 0zM230.1 644.0a0.7 0.7 0 1 0 1.4 0a0.7 0.7 0 1 0 -1.4 0zM184.0 659.6a1.3 1.3 0 1 0 2.7 0a1.3 1.3 0 1 0 -2.7 0zM200.1 648.0a1.8 1.8 0 1 0 3.6 0a1.8 1.8 0 1 0 -3.6 0zM227.6 639.7a0.7 0.7 0 1 0 1.4 0a0.7 0.7 0 1 0 -1.4 0zM223.4 632.8a1.0 1.0 0 1 0 2.1 0a1.0 1.0 0 1 0 -2.1 0zM226.4 650.7a1.2 1.2 0 1 0 2.5 0a1.2 1.2 0 1 0 -2.5 0zM179.2 658.0a1.5 1.5 0 1 0 3.0 0a1.5 1.5 0 1 0 -3.0 0zM207.2 632.5a1.4 1.4 0 1 0 2.9 0a1.4 1.4 0 1 0 -2.9 0zM196.2 652.9a0.8 0.8 0 1 0 1.5 0a0.8 0.8 0 1 0 -1.5 0zM223.2 651.3a1.1 1.1 0 1 0 2.2 0a1.1 1.1 0 1 0 -2.2 0zM183.3 631.3a0.7 0.7 0 1 0 1.4 0a0.7 0.7 0 1 0 -1.4 0zM197.2 670.9a1.3 1.3 0 1 0 2.6 0a1.3 1.3 0 1 0 -2.6 0zM169.8 652.4a1.7 1.7 0 1 0 3.4 0a1.7 1.7 0 1 0 -3.4 0zM204.3 635.0a1.0 1.0 0 1 0 2.1 0a1.0 1.0 0 1 0 -2.1 0zM199.7 657.7a0.8 0.8 0 1 0 1.7 0a0.8 0.8 0 1 0 -1.7 0zM224.6 648.6a1.8 1.8 0 1 0 3.5 0a1.8 1.8 0 1 0 -3.5 0zM198.8 668.8a1.6 1.6 0 1 0 3.1 0a1.6 1.6 0 1 0 -3.1 0zM168.0 665.6a1.0 1.0 0 1 0 2.0 0a1.0 1.0 0 1 0 -2.0 0zM236.3 648.7a1.2 1.2 0 1 0 2.4 0a1.2 1.2 0 1 0 -2.4 0zM234.8 667.4a1.8 1.8 0 1 0 3.5 0a1.8 1.8 0 1 0 -3.5 0zM234.0 635.2a0.7 0.7 0 1 0 1.3 0a0.7 0.7 0 1 0 -1.3 0z" fill="#c8b8b4"/>
<path d="M227.9 650.6a1.1 1.1 0 1 0 2.2 0a1.1 1.1 0 1 0 -2.2 0zM215.5 637.9a1.0 1.0 0 1 0 2.1 0a1.0 1.0 0 1 0 -2.1 0zM176.4 634.0a0.7 0.7 0 1 0 1.4 0a0.7 0.7 0 1 0 -1.4 0zM240.9 643.4a1.7 1.7 0 1 0 3.5 0a1.7 1.7 0 1 0 -3.5 0zM223.4 635.2a0.9 0.9 0 1 0 1.7 0a0.9 0.9 0 1 0 -1.7 0zM182.1 635.7a0.6 0.6 0 1 0 1.3 0a0.6 0.6 0 1 0 -1.3 0zM216.6 666.8a1.7 1.7 0 1 0 3.4 0a1.7 1.7 0 1 0 -3.4 0zM203.2 642.2a0.8 0.8 0 1 0 1.6 0a0.8 0.8 0 1 0 -1.6 0zM165.2 637.0a1.4 1.4 0 1 0 2.8 0a1.4 1.4 0 1 0 -2.8 0zM173.6 663.6a1.7 1.7 0 1 0 3.4 0a1.7 1.7 0 1 0 -3.4 0zM212.9 647.4a0.7 0.7 0 1 0 1.3 0a0.7 0.7 0 1 0 -1.3 0zM239.8 662.3a1.2 1.2 0 1 0 2.3 0a1.2 1.2 0 1 0 -2.3 0zM190.3 632.9a1.6 1.6 0 1 0 3.3 0a1.6 1.6 0 1 0 -3.3 0zM176.0 651.9a1.7 1.7 0 1 0 3.4 0a1.7 1.7 0 1 0 -3.4 0zM229.9 635.2a1.6 1.6 0 1 0 3.3 0a1.6 1.6 0 1 0 -3.3 0zM191.1 669.7a1.2 1.2 0 1 0 2.5 0a1.2 1.2 0 1 0 -2.5 0zM178.7 651.1a1.2 1.2 0 1 0 2.4 0a1.2 1.2 0 1 0 -2.4 0zM178.0 663.2a1.6 1.6 0 1 0 3.3 0a1.6 1.6 0 1 0 -3.3 0zM238.9 637.6a1.0 1.0 0 1 0 1.9 0a1.0 1.0 0 1 0 -1.9 0zM184.1 667.9a0.9 0.9 0 1 0 1.7 0a0.9 0.9 0 1 0 -1.7 0zM196.5 637.1a1.0 1.0 0 1 0 2.0 0a1.0 1.0 0 1 0 -2.0 0zM200.0 662.4a0.6 0.6 0 1 0 1.3 0a0.6 0.6 0 1 0 -1.3 0zM170.1 660.7a1.1 1.1 0 1 0 2.1 0a1.1 1.1 0 1 0 -2.1 0zM214.8 663.8a1.4 1.4 0 1 0 2.9 0a1.4 1.4 0 1 0 -2.9 0zM234.2 633.2a1.5 1.5 0 1 0 3.1 0a1.5 1.5 0 1 0 -3.1 0zM171.9 642.9a1.1 1.1 0 1 0 2.1 0a1.1 1.1 0 1 0 -2.1 0zM204.7 653.1a1.6 1.6 0 1 0 3.2 0a1.6 1.6 0 1 0 -3.2 0zM215.9 670.2a1.2 1.2 0 1 0 2.4 0a1.2 1.2 0 1 0 -2.4 0zM223.6 670.8a1.3 1.3 0 1 0 2.6 0a1.3 1.3 0 1 0 -2.6 0zM212.1 647.1a0.7 0.7 0 1 0 1.4 0a0.7 0.7 0 1 0 -1.4 0zM189.7 668.2a1.0 1.0 0 1 0 2.0 0a1.0 1.0 0 1 0 -2.0 0zM216.3 656.5a1.1 1.1 0 1 0 2.1 0a1.1 1.1 0 1 0 -2.1 0zM170.3 668.1a1.3 1.3 0 1 0 2.6 0a1.3 1.3 0 1 0 -2.6 0z" fill="#b9a496"/>
<path d="M220.7 667.0a0.6 0.6 0 1 0 1.2 0a0.6 0.6 0 1 0 -1.2 0zM218.8 660.8a0.9 0.9 0 1 0 1.9 0a0.9 0.9 0 1 0 -1.9 0zM172.5 637.9a1.5 1.5 0 1 0 3.0 0a1.5 1.5 0 1 0 -3.0 0zM218.7 643.1a0.9 0.9 0 1 0 1.8 0a0.9 0.9 0 1 0 -1.8 0zM207.8 648.9a1.1 1.1 0 1 0 2.1 0a1.1 1.1 0 1 0 -2.1 0zM183.7 651.8a1.1 1.1 0 1 0 2.1 0a1.1 1.1 0 1 0 -2.1 0zM206.5 646.3a1.3 1.3 0 1 0 2.7 0a1.3 1.3 0 1 0 -2.7 0zM177.4 636.8a1.2 1.2 0 1 0 2.5 0a1.2 1.2 0 1 0 -2.5 0zM199.0 653.3a1.7 1.7 0 1 0 3.3 0a1.7 1.7 0 1 0 -3.3 0zM174.2 656.1a1.4 1.4 0 1 0 2.9 0a1.4 1.4 0 1 0 -2.9 0zM201.2 634.2a1.3 1.3 0 1 0 2.6 0a1.3 1.3 0 1 0 -2.6 0zM167.0 656.6a0.9 0.9 0 1 0 1.8 0a0.9 0.9 0 1 0 -1.8 0zM242.2 641.4a1.2 1.2 0 1 0 2.5 0a1.2 1.2 0 1 0 -2.5 0zM175.2 637.8a1.6 1.6 0 1 0 3.2 0a1.6 1.6 0 1 0 -3.2 0zM174.2 660.0a0.9 0.9 0 1 0 1.9 0a0.9 0.9 0 1 0 -1.9 0zM237.1 631.5a0.6 0.6 0 1 0 1.2 0a0.6 0.6 0 1 0 -1.2 0zM212.7 670.8a1.3 1.3 0 1 0 2.7 0a1.3 1.3 0 1 0 -2.7 0zM233.5 660.3a1.6 1.6 0 1 0 3.2 0a1.6 1.6 0 1 0 -3.2 0zM204.9 655.7a1.0 1.0 0 1 0 2.0 0a1.0 1.0 0 1 0 -2.0 0zM200.1 663.0a0.9 0.9 0 1 0 1.8 0a0.9 0.9 0 1 0 -1.8 0zM202.8 638.3a1.3 1.3 0 1 0 2.6 0a1.3 1.3 0 1 0 -2.6 0zM186.4 643.8a1.2 1.2 0 1 0 2.4 0a1.2 1.2 0 1 0 -2.4 0zM173.7 632.0a1.0 1.0 0 1 0 1.9 0a1.0 1.0 0 1 0 -1.9 0zM202.5 667.4a1.6 1.6 0 1 0 3.2 0a1.6 1.6 0 1 0 -3.2 0zM223.1 631.2a1.2 1.2 0 1 0 2.4 0a1.2 1.2 0 1 0 -2.4 0zM235.6 663.1a1.1 1.1 0 1 0 2.2 0a1.1 1.1 0 1 0 -2.2 0zM229.7 636.4a1.5 1.5 0 1 0 2.9 0a1.5 1.5 0 1 0 -2.9 0zM231.7 662.6a0.9 0.9 0 1 0 1.9 0a0.9 0.9 0 1 0 -1.9 0zM165.2 668.0a1.2 1.2 0 1 0 2.3 0a1.2 1.2 0 1 0 -2.3 0zM198.1 633.4a1.4 1.4 0 1 0 2.7 0a1.4 1.4 0 1 0 -2.7 0zM219.0 641.9a1.6 1.6 0 1 0 3.1 0a1.6 1.6 0 1 0 -3.1 0zM179.7 661.2a0.8 0.8 0 1 0 1.7 0a0.8 0.8 0 1 0 -1.7 0zM218.0 659.4a1.7 1.7 0 1 0 3.4 0a1.7 1.7 0 1 0 -3.4 0zM178.6 646.4a0.6 0.6 0 1 0 1.3 0a0.6 0.6 0 1 0 -1.3 0z" fill="#b0aac0"/>
<path d="M187.9 668.0a0.5 0.5 0 1 0 1.0 0a0.5 0.5 0 1 0 -1.0 0zM172.2 655.2a0.7 0.7 0 1 0 1.3 0a0.7 0.7 0 1 0 -1.3 0zM223.0 653.6a0.8 0.8 0 1 0 1.5 0a0.8 0.8 0 1 0 -1.5 0zM213.7 664.3a0.7 0.7 0 1 0 1.3 0a0.7 0.7 0 1 0 -1.3 0zM190.1 661.2a1.0 1.0 0 1 0 1.9 0a1.0 1.0 0 1 0 -1.9 0zM175.9 664.5a0.4 0.4 0 1 0 0.9 0a0.4 0.4 0 1 0 -0.9 0zM237.0 650.7a0.6 0.6 0 1 0 1.1 0a0.6 0.6 0 1 0 -1.1 0zM237.5 665.6a0.5 0.5 0 1 0 0.9 0a0.5 0.5 0 1 0 -0.9 0zM174.5 655.7a0.7 0.7 0 1 0 1.3 0a0.7 0.7 0 1 0 -1.3 0zM237.2 669.7a0.6 0.6 0 1 0 1.2 0a0.6 0.6 0 1 0 -1.2 0zM183.6 649.0a0.5 0.5 0 1 0 1.1 0a0.5 0.5 0 1 0 -1.1 0zM200.9 667.0a1.0 1.0 0 1 0 2.0 0a1.0 1.0 0 1 0 -2.0 0zM183.0 644.7a1.0 1.0 0 1 0 1.9 0a1.0 1.0 0 1 0 -1.9 0zM207.3 667.6a0.6 0.6 0 1 0 1.2 0a0.6 0.6 0 1 0 -1.2 0zM192.3 638.8a1.0 1.0 0 1 0 2.0 0a1.0 1.0 0 1 0 -2.0 0zM171.3 657.4a0.9 0.9 0 1 0 1.7 0a0.9 0.9 0 1 0 -1.7 0zM206.0 654.4a0.5 0.5 0 1 0 1.0 0a0.5 0.5 0 1 0 -1.0 0zM178.4 652.6a0.8 0.8 0 1 0 1.7 0a0.8 0.8 0 1 0 -1.7 0zM203.8 630.7a1.0 1.0 0 1 0 2.0 0a1.0 1.0 0 1 0 -2.0 0zM192.6 655.7a0.9 0.9 0 1 0 1.7 0a0.9 0.9 0 1 0 -1.7 0zM176.2 632.4a1.0 1.0 0 1 0 2.0 0a1.0 1.0 0 1 0 -2.0 0zM194.0 636.8a0.5 0.5 0 1 0 1.0 0a0.5 0.5 0 1 0 -1.0 0zM178.0 651.9a0.8 0.8 0 1 0 1.5 0a0.8 0.8 0 1 0 -1.5 0zM241.6 636.5a0.9 0.9 0 1 0 1.7 0a0.9 0.9 0 1 0 -1.7 0zM179.4 657.2a1.0 1.0 0 1 0 2.0 0a1.0 1.0 0 1 0 -2.0 0zM187.8 643.4a0.6 0.6 0 1 0 1.2 0a0.6 0.6 0 1 0 -1.2 0zM198.1 636.3a0.7 0.7 0 1 0 1.3 0a0.7 0.7 0 1 0 -1.3 0zM223.4 659.2a1.0 1.0 0 1 0 2.0 0a1.0 1.0 0 1 0 -2.0 0z" fill="#a0704a"/>
<path d="M182.3 642.0a1.0 1.0 0 1 0 1.9 0a1.0 1.0 0 1 0 -1.9 0zM166.3 667.6a0.8 0.8 0 1 0 1.7 0a0.8 0.8 0 1 0 -1.7 0zM193.9 648.3a0.5 0.5 0 1 0 1.0 0a0.5 0.5 0 1 0 -1.0 0zM200.8 655.7a0.6 0.6 0 1 0 1.1 0a0.6 0.6 0 1 0 -1.1 0zM218.1 655.5a0.8 0.8 0 1 0 1.6 0a0.8 0.8 0 1 0 -1.6 0zM180.1 666.2a0.9 0.9 0 1 0 1.9 0a0.9 0.9 0 1 0 -1.9 0zM206.6 660.7a0.5 0.5 0 1 0 1.0 0a0.5 0.5 0 1 0 -1.0 0zM205.3 642.8a0.6 0.6 0 1 0 1.2 0a0.6 0.6 0 1 0 -1.2 0zM193.2 642.0a0.7 0.7 0 1 0 1.4 0a0.7 0.7 0 1 0 -1.4 0zM186.7 639.8a0.9 0.9 0 1 0 1.7 0a0.9 0.9 0 1 0 -1.7 0zM177.9 630.8a0.7 0.7 0 1 0 1.4 0a0.7 0.7 0 1 0 -1.4 0zM236.2 658.7a0.5 0.5 0 1 0 0.9 0a0.5 0.5 0 1 0 -0.9 0zM240.4 664.6a0.6 0.6 0 1 0 1.2 0a0.6 0.6 0 1 0 -1.2 0zM209.8 644.1a0.7 0.7 0 1 0 1.5 0a0.7 0.7 0 1 0 -1.5 0zM178.3 668.4a0.7 0.7 0 1 0 1.4 0a0.7 0.7 0 1 0 -1.4 0zM237.0 635.1a0.5 0.5 0 1 0 1.0 0a0.5 0.5 0 1 0 -1.0 0zM235.7 665.2a0.8 0.8 0 1 0 1.6 0a0.8 0.8 0 1 0 -1.6 0zM184.5 663.8a0.8 0.8 0 1 0 1.6 0a0.8 0.8 0 1 0 -1.6 0zM214.4 647.2a0.5 0.5 0 1 0 0.9 0a0.5 0.5 0 1 0 -0.9 0zM172.9 667.7a0.6 0.6 0 1 0 1.1 0a0.6 0.6 0 1 0 -1.1 0zM194.6 662.4a0.8 0.8 0 1 0 1.6 0a0.8 0.8 0 1 0 -1.6 0zM203.0 659.3a0.9 0.9 0 1 0 1.8 0a0.9 0.9 0 1 0 -1.8 0zM208.0 642.6a1.0 1.0 0 1 0 2.0 0a1.0 1.0 0 1 0 -2.0 0zM205.5 643.5a0.9 0.9 0 1 0 1.8 0a0.9 0.9 0 1 0 -1.8 0zM171.4 637.6a0.4 0.4 0 1 0 0.8 0a0.4 0.4 0 1 0 -0.8 0zM183.2 642.2a0.7 0.7 0 1 0 1.4 0a0.7 0.7 0 1 0 -1.4 0z" fill="#b08060"/>
<path d="M208.8 634.7a0.8 0.8 0 1 0 1.5 0a0.8 0.8 0 1 0 -1.5 0zM175.0 666.0a0.9 0.9 0 1 0 1.7 0a0.9 0.9 0 1 0 -1.7 0zM212.0 642.9a0.9 0.9 0 1 0 1.7 0a0.9 0.9 0 1 0 -1.7 0zM218.2 666.8a0.7 0.7 0 1 0 1.4 0a0.7 0.7 0 1 0 -1.4 0zM177.5 645.2a0.7 0.7 0 1 0 1.4 0a0.7 0.7 0 1 0 -1.4 0zM196.6 655.4a0.4 0.4 0 1 0 0.9 0a0.4 0.4 0 1 0 -0.9 0zM183.2 641.3a0.5 0.5 0 1 0 0.9 0a0.5 0.5 0 1 0 -0.9 0zM214.7 639.2a0.6 0.6 0 1 0 1.2 0a0.6 0.6 0 1 0 -1.2 0zM236.7 660.1a0.5 0.5 0 1 0 1.0 0a0.5 0.5 0 1 0 -1.0 0zM190.1 633.6a0.9 0.9 0 1 0 1.9 0a0.9 0.9 0 1 0 -1.9 0zM209.4 646.1a0.7 0.7 0 1 0 1.4 0a0.7 0.7 0 1 0 -1.4 0zM189.1 658.4a0.6 0.6 0 1 0 1.3 0a0.6 0.6 0 1 0 -1.3 0zM167.0 637.4a1.0 1.0 0 1 0 1.9 0a1.0 1.0 0 1 0 -1.9 0zM170.0 643.8a0.4 0.4 0 1 0 0.8 0a0.4 0.4 0 1 0 -0.8 0zM199.4 640.0a0.8 0.8 0 1 0 1.7 0a0.8 0.8 0 1 0 -1.7 0zM192.3 662.7a0.5 0.5 0 1 0 1.1 0a0.5 0.5 0 1 0 -1.1 0zM182.8 645.1a0.5 0.5 0 1 0 0.9 0a0.5 0.5 0 1 0 -0.9 0zM209.2 637.3a0.5 0.5 0 1 0 1.1 0a0.5 0.5 0 1 0 -1.1 0zM214.6 657.1a0.7 0.7 0 1 0 1.3 0a0.7 0.7 0 1 0 -1.3 0zM191.2 658.3a0.9 0.9 0 1 0 1.7 0a0.9 0.9 0 1 0 -1.7 0zM179.1 637.1a0.5 0.5 0 1 0 1.1 0a0.5 0.5 0 1 0 -1.1 0zM201.8 632.9a0.6 0.6 0 1 0 1.1 0a0.6 0.6 0 1 0 -1.1 0zM179.6 670.8a0.8 0.8 0 1 0 1.6 0a0.8 0.8 0 1 0 -1.6 0zM230.1 636.2a0.5 0.5 0 1 0 1.0 0a0.5 0.5 0 1 0 -1.0 0zM192.9 666.2a0.4 0.4 0 1 0 0.8 0a0.4 0.4 0 1 0 -0.8 0zM215.3 649.3a0.6 0.6 0 1 0 1.2 0a0.6 0.6 0 1 0 -1.2 0zM226.2 649.6a0.9 0.9 0 1 0 1.8 0a0.9 0.9 0 1 0 -1.8 0zM203.8 633.2a0.7 0.7 0 1 0 1.4 0a0.7 0.7 0 1 0 -1.4 0zM196.1 641.6a0.7 0.7 0 1 0 1.4 0a0.7 0.7 0 1 0 -1.4 0zM219.2 637.7a1.0 1.0 0 1 0 2.0 0a1.0 1.0 0 1 0 -2.0 0z" fill="#7a5a48"/>
<path d="M171.1 670.8a0.4 0.4 0 1 0 0.9 0a0.4 0.4 0 1 0 -0.9 0zM203.2 667.1a0.5 0.5 0 1 0 1.0 0a0.5 0.5 0 1 0 -1.0 0zM227.8 633.9a0.5 0.5 0 1 0 1.0 0a0.5 0.5 0 1 0 -1.0 0zM207.3 650.7a0.6 0.6 0 1 0 1.2 0a0.6 0.6 0 1 0 -1.2 0zM206.8 648.3a0.7 0.7 0 1 0 1.4 0a0.7 0.7 0 1 0 -1.4 0zM182.6 647.8a0.6 0.6 0 1 0 1.3 0a0.6 0.6 0 1 0 -1.3 0zM175.1 657.8a0.9 0.9 0 1 0 1.8 0a0.9 0.9 0 1 0 -1.8 0zM193.6 656.3a1.0 1.0 0 1 0 2.0 0a1.0 1.0 0 1 0 -2.0 0zM193.6 658.2a0.5 0.5 0 1 0 1.0 0a0.5 0.5 0 1 0 -1.0 0zM172.3 670.0a0.6 0.6 0 1 0 1.2 0a0.6 0.6 0 1 0 -1.2 0zM198.6 635.4a1.0 1.0 0 1 0 1.9 0a1.0 1.0 0 1 0 -1.9 0zM238.6 636.3a0.4 0.4 0 1 0 0.8 0a0.4 0.4 0 1 0 -0.8 0zM198.0 663.7a0.4 0.4 0 1 0 0.9 0a0.4 0.4 0 1 0 -0.9 0zM226.2 636.8a0.6 0.6 0 1 0 1.1 0a0.6 0.6 0 1 0 -1.1 0zM217.0 648.1a0.6 0.6 0 1 0 1.3 0a0.6 0.6 0 1 0 -1.3 0zM198.9 657.2a0.8 0.8 0 1 0 1.7 0a0.8 0.8 0 1 0 -1.7 0zM187.2 654.7a0.7 0.7 0 1 0 1.4 0a0.7 0.7 0 1 0 -1.4 0zM173.6 667.2a0.8 0.8 0 1 0 1.7 0a0.8 0.8 0 1 0 -1.7 0zM183.8 655.3a0.9 0.9 0 1 0 1.7 0a0.9 0.9 0 1 0 -1.7 0zM219.3 636.9a0.4 0.4 0 1 0 0.9 0a0.4 0.4 0 1 0 -0.9 0zM176.0 653.9a0.9 0.9 0 1 0 1.8 0a0.9 0.9 0 1 0 -1.8 0zM198.5 657.1a0.5 0.5 0 1 0 1.0 0a0.5 0.5 0 1 0 -1.0 0zM180.7 646.4a1.0 1.0 0 1 0 2.0 0a1.0 1.0 0 1 0 -2.0 0zM211.7 635.5a0.7 0.7 0 1 0 1.5 0a0.7 0.7 0 1 0 -1.5 0zM237.4 666.4a1.0 1.0 0 1 0 1.9 0a1.0 1.0 0 1 0 -1.9 0zM198.8 667.4a0.6 0.6 0 1 0 1.3 0a0.6 0.6 0 1 0 -1.3 0z" fill="#8a8098"/>
<path d="M170.4 639.2a3.1 3.2 0 1 0 6.2 0a3.1 3.2 0 1 0 -6.2 0zM200.3 661.2a4.0 3.2 0 1 0 8.0 0a4.0 3.2 0 1 0 -8.0 0zM239.9 637.5a4.1 3.5 0 1 0 8.1 0a4.1 3.5 0 1 0 -8.1 0zM218.1 648.9a3.6 3.6 0 1 0 7.1 0a3.6 3.6 0 1 0 -7.1 0zM221.2 663.2a3.1 3.6 0 1 0 6.3 0a3.1 3.6 0 1 0 -6.3 0zM237.2 664.6a3.1 3.1 0 1 0 6.2 0a3.1 3.1 0 1 0 -6.2 0zM203.8 630.9a3.3 3.4 0 1 0 6.6 0a3.3 3.4 0 1 0 -6.6 0zM180.6 663.7a3.2 2.9 0 1 0 6.3 0a3.2 2.9 0 1 0 -6.3 0zM225.8 636.8a3.2 3.3 0 1 0 6.4 0a3.2 3.3 0 1 0 -6.4 0zM198.2 639.8a3.7 3.3 0 1 0 7.3 0a3.7 3.3 0 1 0 -7.3 0zM182.1 655.9a3.9 3.7 0 1 0 7.9 0a3.9 3.7 0 1 0 -7.9 0zM209.0 663.8a3.6 3.2 0 1 0 7.2 0a3.6 3.2 0 1 0 -7.2 0zM189.1 631.1a4.0 3.6 0 1 0 8.0 0a4.0 3.6 0 1 0 -8.0 0zM183.8 669.9a4.0 3.6 0 1 0 8.0 0a4.0 3.6 0 1 0 -8.0 0zM214.0 669.5a3.9 3.3 0 1 0 7.7 0a3.9 3.3 0 1 0 -7.7 0zM175.9 634.6a3.5 3.4 0 1 0 6.9 0a3.5 3.4 0 1 0 -6.9 0zM165.4 649.6a3.7 3.3 0 1 0 7.5 0a3.7 3.3 0 1 0 -7.5 0zM228.1 661.6a3.4 3.2 0 1 0 6.9 0a3.4 3.2 0 1 0 -6.9 0zM211.3 655.1a3.4 2.9 0 1 0 6.7 0a3.4 2.9 0 1 0 -6.7 0zM240.3 653.7a3.9 3.1 0 1 0 7.9 0a3.9 3.1 0 1 0 -7.9 0zM169.6 628.8a3.5 3.4 0 1 0 6.9 0a3.5 3.4 0 1 0 -6.9 0zM218.4 630.7a3.5 3.4 0 1 0 7.0 0a3.5 3.4 0 1 0 -7.0 0zM200.2 672.5a3.4 3.4 0 1 0 6.9 0a3.4 3.4 0 1 0 -6.9 0zM235.2 643.8a3.4 2.9 0 1 0 6.9 0a3.4 2.9 0 1 0 -6.9 0zM185.0 647.9a4.0 3.8 0 1 0 8.1 0a4.0 3.8 0 1 0 -8.1 0zM174.8 656.6a3.1 3.5 0 1 0 6.2 0a3.1 3.5 0 1 0 -6.2 0zM161.5 638.7a3.8 3.0 0 1 0 7.6 0a3.8 3.0 0 1 0 -7.6 0zM167.5 662.0a4.0 3.2 0 1 0 8.0 0a4.0 3.2 0 1 0 -8.0 0zM217.0 638.3a3.5 3.4 0 1 0 7.0 0a3.5 3.4 0 1 0 -7.0 0zM206.6 643.8a3.3 2.9 0 1 0 6.5 0a3.3 2.9 0 1 0 -6.5 0zM193.5 656.3a3.9 3.3 0 1 0 7.8 0a3.9 3.3 0 1 0 -7.8 0zM231.8 672.8a3.7 3.1 0 1 0 7.4 0a3.7 3.1 0 1 0 -7.4 0zM223.5 670.9a3.9 3.0 0 1 0 7.8 0a3.9 3.0 0 1 0 -7.8 0zM190.5 640.6a3.2 3.3 0 1 0 6.3 0a3.2 3.3 0 1 0 -6.3 0zM176.8 644.3a3.2 3.4 0 1 0 6.5 0a3.2 3.4 0 1 0 -6.5 0zM228.0 651.3a3.5 3.7 0 1 0 7.0 0a3.5 3.7 0 1 0 -7.0 0zM209.1 636.8a3.6 3.1 0 1 0 7.3 0a3.6 3.1 0 1 0 -7.3 0zM240.9 672.7a3.9 3.4 0 1 0 7.9 0a3.9 3.4 0 1 0 -7.9 0zM188.6 662.5a3.5 3.2 0 1 0 7.1 0a3.5 3.2 0 1 0 -7.1 0zM167.6 670.4a3.3 3.4 0 1 0 6.6 0a3.3 3.4 0 1 0 -6.6 0zM237.7 629.6a3.0 3.1 0 1 0 6.1 0a3.0 3.1 0 1 0 -6.1 0zM183.0 637.1a3.5 3.7 0 1 0 7.0 0a3.5 3.7 0 1 0 -7.0 0zM229.1 629.0a3.3 2.8 0 1 0 6.5 0a3.3 2.8 0 1 0 -6.5 0zM175.1 669.5a3.8 3.1 0 1 0 7.5 0a3.8 3.1 0 1 0 -7.5 0zM197.0 647.9a3.7 2.6 0 1 0 7.3 0a3.7 2.6 0 1 0 -7.3 0zM204.4 653.9a3.3 3.4 0 1 0 6.7 0a3.3 3.4 0 1 0 -6.7 0zM180.7 628.9a3.1 3.2 0 1 0 6.2 0a3.1 3.2 0 1 0 -6.2 0zM228.5 644.1a2.9 2.8 0 1 0 5.7 0a2.9 2.8 0 1 0 -5.7 0zM194.7 666.9a3.0 2.7 0 1 0 6.1 0a3.0 2.7 0 1 0 -6.1 0zM161.0 667.1a3.4 2.9 0 1 0 6.8 0a3.4 2.9 0 1 0 -6.8 0zM163.6 656.1a2.7 3.1 0 1 0 5.5 0a2.7 3.1 0 1 0 -5.5 0zM234.0 656.5a2.6 2.3 0 1 0 5.1 0a2.6 2.3 0 1 0 -5.1 0zM222.0 655.9a2.7 2.4 0 1 0 5.4 0a2.7 2.4 0 1 0 -5.4 0zM210.7 629.7a3.0 2.9 0 1 0 5.9 0a3.0 2.9 0 1 0 -5.9 0zM177.9 650.8a2.7 2.5 0 1 0 5.3 0a2.7 2.5 0 1 0 -5.3 0zM233.1 635.7a2.7 2.6 0 1 0 5.4 0a2.7 2.6 0 1 0 -5.4 0zM213.7 645.0a2.4 2.4 0 1 0 4.9 0a2.4 2.4 0 1 0 -4.9 0zM209.2 672.5a2.4 2.0 0 1 0 4.8 0a2.4 2.0 0 1 0 -4.8 0zM172.1 646.2a2.2 1.7 0 1 0 4.4 0a2.2 1.7 0 1 0 -4.4 0zM166.2 633.0a1.7 2.0 0 1 0 3.4 0a1.7 2.0 0 1 0 -3.4 0zM198.9 630.5a1.9 1.6 0 1 0 3.9 0a1.9 1.6 0 1 0 -3.9 0zM217.0 661.4a2.0 1.7 0 1 0 4.0 0a2.0 1.7 0 1 0 -4.0 0zM241.6 646.8a1.9 1.7 0 1 0 3.8 0a1.9 1.7 0 1 0 -3.8 0zM243.0 661.3a1.9 1.3 0 1 0 3.7 0a1.9 1.3 0 1 0 -3.7 0zM223.9 642.7a1.4 1.7 0 1 0 2.8 0a1.4 1.7 0 1 0 -2.8 0zM162.5 645.9a1.7 1.3 0 1 0 3.5 0a1.7 1.3 0 1 0 -3.5 0zM193.4 645.6a1.7 1.3 0 1 0 3.4 0a1.7 1.3 0 1 0 -3.4 0zM173.7 651.3a1.3 1.5 0 1 0 2.7 0a1.3 1.5 0 1 0 -2.7 0zM163.3 629.4a1.5 1.4 0 1 0 3.0 0a1.5 1.4 0 1 0 -3.0 0zM210.8 648.4a1.4 1.2 0 1 0 2.8 0a1.4 1.2 0 1 0 -2.8 0zM192.5 669.6a1.2 1.3 0 1 0 2.4 0a1.2 1.3 0 1 0 -2.4 0zM195.5 672.7a1.3 1.1 0 1 0 2.6 0a1.3 1.1 0 1 0 -2.6 0zM197.5 635.0a1.3 1.1 0 1 0 2.6 0a1.3 1.1 0 1 0 -2.6 0zM224.8 645.8a1.1 1.2 0 1 0 2.1 0a1.1 1.2 0 1 0 -2.1 0zM202.0 634.2a1.4 1.2 0 1 0 2.7 0a1.4 1.2 0 1 0 -2.7 0zM209.3 659.0a1.2 1.1 0 1 0 2.3 0a1.2 1.1 0 1 0 -2.3 0zM237.3 652.2a1.1 1.0 0 1 0 2.3 0a1.1 1.0 0 1 0 -2.3 0zM206.4 638.6a1.1 1.0 0 1 0 2.3 0a1.1 1.0 0 1 0 -2.3 0zM235.6 667.6a1.0 1.2 0 1 0 2.0 0a1.0 1.2 0 1 0 -2.0 0zM178.7 661.1a1.0 1.1 0 1 0 2.0 0a1.0 1.1 0 1 0 -2.0 0zM205.4 666.5a1.2 1.0 0 1 0 2.4 0a1.2 1.0 0 1 0 -2.4 0zM168.9 642.3a1.0 1.0 0 1 0 2.1 0a1.0 1.0 0 1 0 -2.1 0zM190.6 656.6a1.0 0.9 0 1 0 1.9 0a1.0 0.9 0 1 0 -1.9 0zM238.9 669.9a1.0 0.8 0 1 0 2.0 0a1.0 0.8 0 1 0 -2.0 0zM171.2 655.7a1.1 0.9 0 1 0 2.2 0a1.1 0.9 0 1 0 -2.2 0zM202.1 652.9a0.9 0.9 0 1 0 1.8 0a0.9 0.9 0 1 0 -1.8 0zM164.6 672.1a1.0 0.8 0 1 0 2.1 0a1.0 0.8 0 1 0 -2.1 0zM193.6 651.5a0.9 0.8 0 1 0 1.8 0a0.9 0.8 0 1 0 -1.8 0zM232.9 667.5a0.9 0.7 0 1 0 1.8 0a0.9 0.7 0 1 0 -1.8 0zM228.1 632.3a0.9 0.7 0 1 0 1.9 0a0.9 0.7 0 1 0 -1.9 0zM185.6 642.7a1.0 0.9 0 1 0 1.9 0a1.0 0.9 0 1 0 -1.9 0zM196.2 662.5a0.9 0.7 0 1 0 1.9 0a0.9 0.7 0 1 0 -1.9 0zM244.2 667.0a0.7 0.9 0 1 0 1.5 0a0.7 0.9 0 1 0 -1.5 0zM170.5 634.3a0.8 0.8 0 1 0 1.5 0a0.8 0.8 0 1 0 -1.5 0zM216.8 633.1a0.9 0.7 0 1 0 1.7 0a0.9 0.7 0 1 0 -1.7 0zM176.7 661.4a0.8 0.8 0 1 0 1.6 0a0.8 0.8 0 1 0 -1.6 0zM176.0 664.8a0.8 0.7 0 1 0 1.6 0a0.8 0.7 0 1 0 -1.6 0zM206.1 635.8a0.9 0.7 0 1 0 1.8 0a0.9 0.7 0 1 0 -1.8 0zM195.3 635.7a0.7 0.7 0 1 0 1.4 0a0.7 0.7 0 1 0 -1.4 0zM237.8 660.3a0.9 0.6 0 1 0 1.7 0a0.9 0.6 0 1 0 -1.7 0zM214.2 648.6a0.8 0.8 0 1 0 1.5 0a0.8 0.8 0 1 0 -1.5 0zM241.4 658.7a0.8 0.7 0 1 0 1.7 0a0.8 0.7 0 1 0 -1.7 0zM239.3 649.2a0.8 0.8 0 1 0 1.5 0a0.8 0.8 0 1 0 -1.5 0zM234.6 665.7a0.8 0.6 0 1 0 1.7 0a0.8 0.6 0 1 0 -1.7 0zM178.1 629.8a0.8 0.7 0 1 0 1.7 0a0.8 0.7 0 1 0 -1.7 0zM226.2 632.2a0.7 0.8 0 1 0 1.4 0a0.7 0.8 0 1 0 -1.4 0zM225.2 640.1a0.7 0.6 0 1 0 1.4 0a0.7 0.6 0 1 0 -1.4 0zM235.2 649.1a0.7 0.6 0 1 0 1.5 0a0.7 0.6 0 1 0 -1.5 0zM185.9 632.4a0.7 0.7 0 1 0 1.5 0a0.7 0.7 0 1 0 -1.5 0zM171.3 643.4a0.6 0.7 0 1 0 1.2 0a0.6 0.7 0 1 0 -1.2 0z" fill="#fdfcfb"/>
</g>
<rect x="166.6" y="669.3" width="3.6" height="1.1" fill="#1a1a1a"/>
</g>
<clipPath id="tc7"><rect x="83.6" y="672.3" width="78.2" height="40.1"/></clipPath>
<g clip-path="url(#tc7)"><g filter="url(#soft)">
<rect x="82.6" y="671.3" width="80.2" height="42.1" fill="#dcdeee"/>
<path d="M97.7 708.7a0.8 0.8 0 1 0 1.7 0a0.8 0.8 0 1 0 -1.7 0zM140.0 677.9a1.0 1.0 0 1 0 2.1 0a1.0 1.0 0 1 0 -2.1 0zM103.7 682.0a1.1 1.1 0 1 0 2.2 0a1.1 1.1 0 1 0 -2.2 0zM156.2 678.9a0.9 0.9 0 1 0 1.7 0a0.9 0.9 0 1 0 -1.7 0zM84.9 708.2a1.6 1.6 0 1 0 3.2 0a1.6 1.6 0 1 0 -3.2 0zM135.4 709.9a1.8 1.8 0 1 0 3.5 0a1.8 1.8 0 1 0 -3.5 0zM159.0 699.2a1.1 1.1 0 1 0 2.2 0a1.1 1.1 0 1 0 -2.2 0zM105.0 678.4a1.4 1.4 0 1 0 2.7 0a1.4 1.4 0 1 0 -2.7 0zM151.6 682.2a1.0 1.0 0 1 0 2.0 0a1.0 1.0 0 1 0 -2.0 0zM149.7 678.2a1.4 1.4 0 1 0 2.7 0a1.4 1.4 0 1 0 -2.7 0zM138.6 672.8a1.4 1.4 0 1 0 2.7 0a1.4 1.4 0 1 0 -2.7 0zM148.8 672.8a1.7 1.7 0 1 0 3.4 0a1.7 1.7 0 1 0 -3.4 0zM112.5 674.6a1.1 1.1 0 1 0 2.2 0a1.1 1.1 0 1 0 -2.2 0zM155.4 673.9a1.3 1.3 0 1 0 2.6 0a1.3 1.3 0 1 0 -2.6 0zM133.1 703.9a0.9 0.9 0 1 0 1.9 0a0.9 0.9 0 1 0 -1.9 0zM116.8 677.9a0.9 0.9 0 1 0 1.7 0a0.9 0.9 0 1 0 -1.7 0zM108.8 673.9a1.0 1.0 0 1 0 2.1 0a1.0 1.0 0 1 0 -2.1 0zM92.1 673.7a0.7 0.7 0 1 0 1.5 0a0.7 0.7 0 1 0 -1.5 0zM157.5 674.0a1.0 1.0 0 1 0 2.0 0a1.0 1.0 0 1 0 -2.0 0zM117.2 679.4a1.2 1.2 0 1 0 2.4 0a1.2 1.2 0 1 0 -2.4 0zM113.1 689.0a1.5 1.5 0 1 0 3.0 0a1.5 1.5 0 1 0 -3.0 0zM95.2 700.8a1.6 1.6 0 1 0 3.2 0a1.6 1.6 0 1 0 -3.2 0zM118.5 711.8a1.2 1.2 0 1 0 2.3 0a1.2 1.2 0 1 0 -2.3 0zM82.6 679.6a1.7 1.7 0 1 0 3.4 0a1.7 1.7 0 1 0 -3.4 0zM151.9 681.3a1.1 1.1 0 1 0 2.2 0a1.1 1.1 0 1 0 -2.2 0zM134.5 704.1a0.7 0.7 0 1 0 1.3 0a0.7 0.7 0 1 0 -1.3 0zM134.9 688.5a0.7 0.7 0 1 0 1.4 0a0.7 0.7 0 1 0 -1.4 0zM128.1 690.0a1.3 1.3 0 1 0 2.7 0a1.3 1.3 0 1 0 -2.7 0zM112.8 682.9a0.7 0.7 0 1 0 1.3 0a0.7 0.7 0 1 0 -1.3 0zM119.7 699.1a1.1 1.1 0 1 0 2.2 0a1.1 1.1 0 1 0 -2.2 0zM112.4 696.6a1.4 1.4 0 1 0 2.9 0a1.4 1.4 0 1 0 -2.9 0z" fill="#c8cbe3"/>
<path d="M115.1 702.9a1.7 1.7 0 1 0 3.5 0a1.7 1.7 0 1 0 -3.5 0zM84.6 698.7a1.7 1.7 0 1 0 3.4 0a1.7 1.7 0 1 0 -3.4 0zM157.5 674.8a0.8 0.8 0 1 0 1.7 0a0.8 0.8 0 1 0 -1.7 0zM87.5 684.7a1.7 1.7 0 1 0 3.4 0a1.7 1.7 0 1 0 -3.4 0zM158.5 699.3a1.4 1.4 0 1 0 2.8 0a1.4 1.4 0 1 0 -2.8 0zM149.6 709.0a1.7 1.7 0 1 0 3.4 0a1.7 1.7 0 1 0 -3.4 0zM114.8 688.7a1.1 1.1 0 1 0 2.3 0a1.1 1.1 0 1 0 -2.3 0zM127.7 708.7a0.9 0.9 0 1 0 1.8 0a0.9 0.9 0 1 0 -1.8 0zM108.9 677.6a0.8 0.8 0 1 0 1.6 0a0.8 0.8 0 1 0 -1.6 0zM94.3 711.5a1.7 1.7 0 1 0 3.4 0a1.7 1.7 0 1 0 -3.4 0zM117.0 707.4a1.3 1.3 0 1 0 2.6 0a1.3 1.3 0 1 0 -2.6 0zM110.6 708.0a0.8 0.8 0 1 0 1.7 0a0.8 0.8 0 1 0 -1.7 0zM132.8 682.7a1.5 1.5 0 1 0 2.9 0a1.5 1.5 0 1 0 -2.9 0zM103.9 702.9a1.5 1.5 0 1 0 3.0 0a1.5 1.5 0 1 0 -3.0 0zM112.3 689.6a0.8 0.8 0 1 0 1.7 0a0.8 0.8 0 1 0 -1.7 0zM151.1 700.9a1.2 1.2 0 1 0 2.4 0a1.2 1.2 0 1 0 -2.4 0zM137.5 696.6a0.9 0.9 0 1 0 1.7 0a0.9 0.9 0 1 0 -1.7 0zM120.0 700.4a0.6 0.6 0 1 0 1.2 0a0.6 0.6 0 1 0 -1.2 0zM95.8 683.9a1.0 1.0 0 1 0 2.0 0a1.0 1.0 0 1 0 -2.0 0zM137.8 694.0a1.5 1.5 0 1 0 2.9 0a1.5 1.5 0 1 0 -2.9 0zM90.4 683.4a1.5 1.5 0 1 0 2.9 0a1.5 1.5 0 1 0 -2.9 0zM158.0 708.4a0.8 0.8 0 1 0 1.6 0a0.8 0.8 0 1 0 -1.6 0zM147.9 697.3a0.8 0.8 0 1 0 1.6 0a0.8 0.8 0 1 0 -1.6 0zM135.1 688.9a1.1 1.1 0 1 0 2.1 0a1.1 1.1 0 1 0 -2.1 0zM148.1 703.5a0.9 0.9 0 1 0 1.7 0a0.9 0.9 0 1 0 -1.7 0zM128.7 694.6a1.5 1.5 0 1 0 3.0 0a1.5 1.5 0 1 0 -3.0 0z" fill="#d1d3e8"/>
<path d="M101.1 695.6a1.8 1.8 0 1 0 3.5 0a1.8 1.8 0 1 0 -3.5 0zM160.8 702.5a0.9 0.9 0 1 0 1.8 0a0.9 0.9 0 1 0 -1.8 0zM154.6 674.2a1.1 1.1 0 1 0 2.1 0a1.1 1.1 0 1 0 -2.1 0zM129.5 703.8a1.7 1.7 0 1 0 3.4 0a1.7 1.7 0 1 0 -3.4 0zM120.8 704.3a1.7 1.7 0 1 0 3.3 0a1.7 1.7 0 1 0 -3.3 0zM116.4 672.6a1.7 1.7 0 1 0 3.4 0a1.7 1.7 0 1 0 -3.4 0zM100.2 710.3a1.4 1.4 0 1 0 2.9 0a1.4 1.4 0 1 0 -2.9 0zM104.5 687.5a1.4 1.4 0 1 0 2.7 0a1.4 1.4 0 1 0 -2.7 0zM111.2 699.5a1.3 1.3 0 1 0 2.6 0a1.3 1.3 0 1 0 -2.6 0zM121.0 673.4a1.4 1.4 0 1 0 2.9 0a1.4 1.4 0 1 0 -2.9 0zM153.5 677.2a1.0 1.0 0 1 0 1.9 0a1.0 1.0 0 1 0 -1.9 0zM149.9 707.5a0.9 0.9 0 1 0 1.8 0a0.9 0.9 0 1 0 -1.8 0zM96.0 678.3a0.8 0.8 0 1 0 1.6 0a0.8 0.8 0 1 0 -1.6 0zM114.1 674.9a1.0 1.0 0 1 0 2.1 0a1.0 1.0 0 1 0 -2.1 0zM140.2 674.7a1.2 1.2 0 1 0 2.4 0a1.2 1.2 0 1 0 -2.4 0zM106.2 685.4a0.9 0.9 0 1 0 1.9 0a0.9 0.9 0 1 0 -1.9 0zM120.8 703.6a1.1 1.1 0 1 0 2.2 0a1.1 1.1 0 1 0 -2.2 0zM136.1 684.9a1.4 1.4 0 1 0 2.9 0a1.4 1.4 0 1 0 -2.9 0zM110.4 688.5a1.2 1.2 0 1 0 2.3 0a1.2 1.2 0 1 0 -2.3 0zM82.9 708.0a1.5 1.5 0 1 0 2.9 0a1.5 1.5 0 1 0 -2.9 0zM152.2 698.1a0.6 0.6 0 1 0 1.2 0a0.6 0.6 0 1 0 -1.2 0zM147.4 686.0a1.2 1.2 0 1 0 2.3 0a1.2 1.2 0 1 0 -2.3 0zM83.7 705.6a1.0 1.0 0 1 0 2.1 0a1.0 1.0 0 1 0 -2.1 0z" fill="#c0c3de"/>
<path d="M80.4 685.9a4.3 3.2 0 1 0 8.5 0a4.3 3.2 0 1 0 -8.5 0zM133.2 688.2a3.6 3.3 0 1 0 7.3 0a3.6 3.3 0 1 0 -7.3 0zM148.6 702.2a3.8 3.2 0 1 0 7.7 0a3.8 3.2 0 1 0 -7.7 0zM116.4 679.4a3.9 4.2 0 1 0 7.8 0a3.9 4.2 0 1 0 -7.8 0zM158.0 693.2a4.1 3.3 0 1 0 8.3 0a4.1 3.3 0 1 0 -8.3 0zM148.9 677.1a4.5 3.9 0 1 0 9.1 0a4.5 3.9 0 1 0 -9.1 0zM141.4 692.2a4.0 4.1 0 1 0 8.0 0a4.0 4.1 0 1 0 -8.0 0zM84.6 714.1a4.4 4.2 0 1 0 8.8 0a4.4 4.2 0 1 0 -8.8 0zM89.6 675.4a3.9 4.3 0 1 0 7.8 0a3.9 4.3 0 1 0 -7.8 0zM115.3 695.5a3.5 4.1 0 1 0 7.0 0a3.5 4.1 0 1 0 -7.0 0zM103.6 699.0a4.4 3.5 0 1 0 8.9 0a4.4 3.5 0 1 0 -8.9 0zM138.2 701.9a4.2 3.5 0 1 0 8.3 0a4.2 3.5 0 1 0 -8.3 0zM104.8 682.7a3.7 4.3 0 1 0 7.3 0a3.7 4.3 0 1 0 -7.3 0zM120.1 714.1a3.9 4.1 0 1 0 7.7 0a3.9 4.1 0 1 0 -7.7 0zM128.1 705.6a4.3 3.6 0 1 0 8.6 0a4.3 3.6 0 1 0 -8.6 0zM77.5 708.5a4.4 4.2 0 1 0 8.8 0a4.4 4.2 0 1 0 -8.8 0zM94.2 702.2a3.7 3.9 0 1 0 7.3 0a3.7 3.9 0 1 0 -7.3 0zM135.5 680.4a3.5 3.6 0 1 0 7.0 0a3.5 3.6 0 1 0 -7.0 0zM98.1 691.5a4.4 3.2 0 1 0 8.8 0a4.4 3.2 0 1 0 -8.8 0zM111.4 709.4a4.2 4.3 0 1 0 8.3 0a4.2 4.3 0 1 0 -8.3 0zM121.6 686.3a3.4 3.8 0 1 0 6.8 0a3.4 3.8 0 1 0 -6.8 0zM95.7 710.5a4.3 4.0 0 1 0 8.5 0a4.3 4.0 0 1 0 -8.5 0zM96.3 682.8a4.1 3.5 0 1 0 8.3 0a4.1 3.5 0 1 0 -8.3 0zM143.4 710.2a4.4 4.2 0 1 0 8.8 0a4.4 4.2 0 1 0 -8.8 0zM83.5 701.3a4.3 3.4 0 1 0 8.6 0a4.3 3.4 0 1 0 -8.6 0zM112.1 670.3a3.9 4.0 0 1 0 7.7 0a3.9 4.0 0 1 0 -7.7 0zM135.0 671.4a4.3 3.5 0 1 0 8.6 0a4.3 3.5 0 1 0 -8.6 0zM125.3 678.7a3.6 3.8 0 1 0 7.2 0a3.6 3.8 0 1 0 -7.2 0zM125.4 695.4a4.4 4.1 0 1 0 8.8 0a4.4 4.1 0 1 0 -8.8 0zM80.6 670.3a4.4 3.1 0 1 0 8.8 0a4.4 3.1 0 1 0 -8.8 0zM158.2 684.0a3.3 3.9 0 1 0 6.7 0a3.3 3.9 0 1 0 -6.7 0zM109.7 689.1a4.2 4.1 0 1 0 8.4 0a4.2 4.1 0 1 0 -8.4 0zM100.1 675.4a4.1 3.8 0 1 0 8.3 0a4.1 3.8 0 1 0 -8.3 0zM158.4 703.6a4.1 3.1 0 1 0 8.3 0a4.1 3.1 0 1 0 -8.3 0zM88.2 692.0a3.8 3.0 0 1 0 7.6 0a3.8 3.0 0 1 0 -7.6 0zM158.4 712.2a3.3 3.7 0 1 0 6.5 0a3.3 3.7 0 1 0 -6.5 0zM123.6 670.6a3.4 4.0 0 1 0 6.8 0a3.4 4.0 0 1 0 -6.8 0zM159.8 673.3a3.3 3.2 0 1 0 6.5 0a3.3 3.2 0 1 0 -6.5 0zM144.0 683.4a3.9 3.3 0 1 0 7.8 0a3.9 3.3 0 1 0 -7.8 0zM119.8 705.4a3.2 3.0 0 1 0 6.5 0a3.2 3.0 0 1 0 -6.5 0zM151.2 692.6a2.9 3.6 0 1 0 5.9 0a2.9 3.6 0 1 0 -5.9 0zM134.6 714.2a2.9 3.2 0 1 0 5.9 0a2.9 3.2 0 1 0 -5.9 0zM104.4 712.1a3.6 2.6 0 1 0 7.2 0a3.6 2.6 0 1 0 -7.2 0zM78.9 678.2a3.2 2.5 0 1 0 6.4 0a3.2 2.5 0 1 0 -6.4 0zM80.7 693.4a3.1 3.1 0 1 0 6.3 0a3.1 3.1 0 1 0 -6.3 0zM152.6 710.3a2.7 3.0 0 1 0 5.4 0a2.7 3.0 0 1 0 -5.4 0zM144.1 671.1a2.6 2.4 0 1 0 5.2 0a2.6 2.4 0 1 0 -5.2 0zM152.6 686.3a2.4 2.7 0 1 0 4.9 0a2.4 2.7 0 1 0 -4.9 0zM90.0 684.7a2.3 2.2 0 1 0 4.6 0a2.3 2.2 0 1 0 -4.6 0zM138.4 709.1a2.3 2.2 0 1 0 4.5 0a2.3 2.2 0 1 0 -4.5 0zM135.4 696.1a2.5 2.1 0 1 0 4.9 0a2.5 2.1 0 1 0 -4.9 0zM115.1 702.0a2.0 1.9 0 1 0 4.1 0a2.0 1.9 0 1 0 -4.1 0zM144.3 676.8a2.2 1.7 0 1 0 4.4 0a2.2 1.7 0 1 0 -4.4 0zM103.7 705.3a1.8 1.8 0 1 0 3.6 0a1.8 1.8 0 1 0 -3.6 0zM129.2 685.1a1.9 1.7 0 1 0 3.9 0a1.9 1.7 0 1 0 -3.9 0zM156.5 698.5a1.6 2.0 0 1 0 3.2 0a1.6 2.0 0 1 0 -3.2 0zM88.3 707.5a1.9 1.8 0 1 0 3.9 0a1.9 1.8 0 1 0 -3.9 0zM97.3 670.6a2.0 1.7 0 1 0 4.0 0a2.0 1.7 0 1 0 -4.0 0zM128.1 713.6a1.9 1.4 0 1 0 3.8 0a1.9 1.4 0 1 0 -3.8 0zM109.1 677.4a1.7 1.6 0 1 0 3.4 0a1.7 1.6 0 1 0 -3.4 0zM149.6 688.3a1.4 1.6 0 1 0 2.9 0a1.4 1.6 0 1 0 -2.9 0zM113.0 681.3a1.6 1.5 0 1 0 3.3 0a1.6 1.5 0 1 0 -3.3 0zM93.5 707.0a1.4 1.6 0 1 0 2.7 0a1.4 1.6 0 1 0 -2.7 0zM87.7 681.6a1.3 1.4 0 1 0 2.7 0a1.3 1.4 0 1 0 -2.7 0zM146.0 697.7a1.3 1.4 0 1 0 2.6 0a1.3 1.4 0 1 0 -2.6 0zM108.2 673.3a1.5 1.3 0 1 0 3.0 0a1.5 1.3 0 1 0 -3.0 0zM121.0 690.8a1.4 1.2 0 1 0 2.9 0a1.4 1.2 0 1 0 -2.9 0zM123.4 699.9a1.6 1.5 0 1 0 3.1 0a1.6 1.5 0 1 0 -3.1 0zM107.5 692.6a1.3 1.4 0 1 0 2.7 0a1.3 1.4 0 1 0 -2.7 0zM87.2 677.6a1.1 1.0 0 1 0 2.3 0a1.1 1.0 0 1 0 -2.3 0zM114.5 676.0a1.3 1.2 0 1 0 2.6 0a1.3 1.2 0 1 0 -2.6 0zM152.5 670.9a1.4 1.2 0 1 0 2.8 0a1.4 1.2 0 1 0 -2.8 0zM96.8 697.0a1.4 1.1 0 1 0 2.7 0a1.4 1.1 0 1 0 -2.7 0zM157.2 671.7a1.2 1.1 0 1 0 2.3 0a1.2 1.1 0 1 0 -2.3 0zM117.4 684.8a1.2 1.0 0 1 0 2.5 0a1.2 1.0 0 1 0 -2.5 0zM133.6 676.6a1.1 0.9 0 1 0 2.2 0a1.1 0.9 0 1 0 -2.2 0zM92.4 698.6a1.0 0.9 0 1 0 2.1 0a1.0 0.9 0 1 0 -2.1 0zM132.9 683.0a1.0 0.9 0 1 0 2.0 0a1.0 0.9 0 1 0 -2.0 0zM109.3 706.2a1.0 1.1 0 1 0 2.0 0a1.0 1.1 0 1 0 -2.0 0zM126.9 701.9a1.1 1.1 0 1 0 2.2 0a1.1 1.1 0 1 0 -2.2 0zM92.9 709.6a0.9 1.0 0 1 0 1.8 0a0.9 1.0 0 1 0 -1.8 0zM159.8 679.0a1.0 1.0 0 1 0 2.0 0a1.0 1.0 0 1 0 -2.0 0zM131.2 670.8a0.9 1.0 0 1 0 1.8 0a0.9 1.0 0 1 0 -1.8 0zM140.9 687.0a1.0 0.9 0 1 0 2.1 0a1.0 0.9 0 1 0 -2.1 0zM119.2 688.6a0.9 1.1 0 1 0 1.7 0a0.9 1.1 0 1 0 -1.7 0zM134.6 700.8a1.0 1.1 0 1 0 1.9 0a1.0 1.1 0 1 0 -1.9 0zM122.4 697.6a0.8 0.8 0 1 0 1.6 0a0.8 0.8 0 1 0 -1.6 0zM155.9 683.1a1.1 0.9 0 1 0 2.1 0a1.1 0.9 0 1 0 -2.1 0zM81.2 702.4a1.0 0.8 0 1 0 1.9 0a1.0 0.8 0 1 0 -1.9 0zM82.0 698.5a0.9 0.8 0 1 0 1.8 0a0.9 0.8 0 1 0 -1.8 0zM129.9 688.6a0.8 0.8 0 1 0 1.6 0a0.8 0.8 0 1 0 -1.6 0zM120.6 671.0a0.9 0.7 0 1 0 1.8 0a0.9 0.7 0 1 0 -1.8 0zM127.8 710.6a0.7 0.7 0 1 0 1.4 0a0.7 0.7 0 1 0 -1.4 0zM156.6 705.6a0.9 0.7 0 1 0 1.8 0a0.9 0.7 0 1 0 -1.8 0zM157.8 679.7a0.7 0.7 0 1 0 1.4 0a0.7 0.7 0 1 0 -1.4 0zM141.6 684.0a0.8 0.7 0 1 0 1.5 0a0.8 0.7 0 1 0 -1.5 0zM113.4 699.8a0.7 0.6 0 1 0 1.4 0a0.7 0.6 0 1 0 -1.4 0zM133.2 711.9a0.9 0.7 0 1 0 1.8 0a0.9 0.7 0 1 0 -1.8 0zM121.4 699.7a0.8 0.7 0 1 0 1.6 0a0.8 0.7 0 1 0 -1.6 0zM132.3 714.2a0.8 0.7 0 1 0 1.6 0a0.8 0.7 0 1 0 -1.6 0zM92.1 703.4a0.8 0.7 0 1 0 1.6 0a0.8 0.7 0 1 0 -1.6 0zM122.3 672.7a0.7 0.7 0 1 0 1.4 0a0.7 0.7 0 1 0 -1.4 0zM87.4 674.9a0.7 0.8 0 1 0 1.3 0a0.7 0.8 0 1 0 -1.3 0zM142.4 677.8a0.7 0.7 0 1 0 1.5 0a0.7 0.7 0 1 0 -1.5 0zM108.0 670.6a0.7 0.7 0 1 0 1.4 0a0.7 0.7 0 1 0 -1.4 0zM119.4 673.9a0.7 0.6 0 1 0 1.4 0a0.7 0.6 0 1 0 -1.4 0zM141.1 713.8a0.7 0.8 0 1 0 1.4 0a0.7 0.8 0 1 0 -1.4 0zM137.6 706.2a0.7 0.6 0 1 0 1.4 0a0.7 0.6 0 1 0 -1.4 0zM96.3 692.0a0.7 0.6 0 1 0 1.5 0a0.7 0.6 0 1 0 -1.5 0z" fill="#fdfdfe"/>
</g>
<rect x="84" y="710.7" width="3.6" height="1.1" fill="#1a1a1a"/>
</g>
<clipPath id="tc8"><rect x="166.2" y="672.3" width="77.6" height="40.1"/></clipPath>
<g clip-path="url(#tc8)"><g filter="url(#soft)">
<rect x="165.2" y="671.3" width="79.6" height="42.1" fill="#d2d3e6"/>
<path d="M181.2 680.4a1.6 1.6 0 1 0 3.2 0a1.6 1.6 0 1 0 -3.2 0zM181.4 707.6a1.3 1.3 0 1 0 2.7 0a1.3 1.3 0 1 0 -2.7 0zM222.3 694.9a1.8 1.8 0 1 0 3.6 0a1.8 1.8 0 1 0 -3.6 0zM191.2 701.3a1.8 1.8 0 1 0 3.6 0a1.8 1.8 0 1 0 -3.6 0zM180.7 702.7a1.2 1.2 0 1 0 2.4 0a1.2 1.2 0 1 0 -2.4 0zM173.1 688.6a1.7 1.7 0 1 0 3.5 0a1.7 1.7 0 1 0 -3.5 0zM219.3 701.7a0.6 0.6 0 1 0 1.2 0a0.6 0.6 0 1 0 -1.2 0zM183.1 686.8a0.8 0.8 0 1 0 1.6 0a0.8 0.8 0 1 0 -1.6 0zM226.0 704.0a1.6 1.6 0 1 0 3.2 0a1.6 1.6 0 1 0 -3.2 0zM179.2 695.0a1.0 1.0 0 1 0 2.0 0a1.0 1.0 0 1 0 -2.0 0zM170.4 709.5a1.4 1.4 0 1 0 2.7 0a1.4 1.4 0 1 0 -2.7 0zM203.9 674.5a1.2 1.2 0 1 0 2.3 0a1.2 1.2 0 1 0 -2.3 0zM199.5 709.1a1.8 1.8 0 1 0 3.6 0a1.8 1.8 0 1 0 -3.6 0zM178.4 698.3a1.6 1.6 0 1 0 3.2 0a1.6 1.6 0 1 0 -3.2 0zM179.7 704.7a1.8 1.8 0 1 0 3.6 0a1.8 1.8 0 1 0 -3.6 0zM197.4 682.8a0.6 0.6 0 1 0 1.3 0a0.6 0.6 0 1 0 -1.3 0zM211.8 678.0a0.8 0.8 0 1 0 1.5 0a0.8 0.8 0 1 0 -1.5 0zM213.1 711.6a0.7 0.7 0 1 0 1.3 0a0.7 0.7 0 1 0 -1.3 0zM205.6 688.1a1.5 1.5 0 1 0 2.9 0a1.5 1.5 0 1 0 -2.9 0zM174.1 701.7a0.7 0.7 0 1 0 1.4 0a0.7 0.7 0 1 0 -1.4 0zM205.5 695.1a0.9 0.9 0 1 0 1.7 0a0.9 0.9 0 1 0 -1.7 0zM200.2 698.0a0.7 0.7 0 1 0 1.4 0a0.7 0.7 0 1 0 -1.4 0zM215.4 703.4a1.1 1.1 0 1 0 2.3 0a1.1 1.1 0 1 0 -2.3 0zM233.4 705.3a0.8 0.8 0 1 0 1.7 0a0.8 0.8 0 1 0 -1.7 0zM186.9 709.6a0.7 0.7 0 1 0 1.4 0a0.7 0.7 0 1 0 -1.4 0zM221.4 681.6a1.6 1.6 0 1 0 3.2 0a1.6 1.6 0 1 0 -3.2 0zM190.2 704.5a1.1 1.1 0 1 0 2.3 0a1.1 1.1 0 1 0 -2.3 0zM217.0 675.4a1.6 1.6 0 1 0 3.3 0a1.6 1.6 0 1 0 -3.3 0zM182.5 683.9a1.1 1.1 0 1 0 2.2 0a1.1 1.1 0 1 0 -2.2 0zM227.8 696.6a1.0 1.0 0 1 0 2.0 0a1.0 1.0 0 1 0 -2.0 0zM227.8 698.7a0.6 0.6 0 1 0 1.3 0a0.6 0.6 0 1 0 -1.3 0zM189.6 681.3a1.7 1.7 0 1 0 3.3 0a1.7 1.7 0 1 0 -3.3 0zM176.4 708.3a0.9 0.9 0 1 0 1.9 0a0.9 0.9 0 1 0 -1.9 0zM204.4 697.6a1.5 1.5 0 1 0 3.0 0a1.5 1.5 0 1 0 -3.0 0zM237.8 675.0a1.5 1.5 0 1 0 2.9 0a1.5 1.5 0 1 0 -2.9 0zM177.6 677.2a1.4 1.4 0 1 0 2.8 0a1.4 1.4 0 1 0 -2.8 0zM202.7 703.9a0.6 0.6 0 1 0 1.3 0a0.6 0.6 0 1 0 -1.3 0z" fill="#bdbfdb"/>
<path d="M174.7 705.0a1.7 1.7 0 1 0 3.3 0a1.7 1.7 0 1 0 -3.3 0zM221.0 687.5a1.8 1.8 0 1 0 3.5 0a1.8 1.8 0 1 0 -3.5 0zM173.6 675.7a1.3 1.3 0 1 0 2.5 0a1.3 1.3 0 1 0 -2.5 0zM172.3 685.2a1.8 1.8 0 1 0 3.6 0a1.8 1.8 0 1 0 -3.6 0zM195.4 674.1a1.5 1.5 0 1 0 2.9 0a1.5 1.5 0 1 0 -2.9 0zM225.7 701.6a1.2 1.2 0 1 0 2.4 0a1.2 1.2 0 1 0 -2.4 0zM176.6 681.8a1.6 1.6 0 1 0 3.1 0a1.6 1.6 0 1 0 -3.1 0zM170.4 707.3a1.7 1.7 0 1 0 3.4 0a1.7 1.7 0 1 0 -3.4 0zM231.2 705.2a1.6 1.6 0 1 0 3.2 0a1.6 1.6 0 1 0 -3.2 0zM198.3 712.0a1.1 1.1 0 1 0 2.1 0a1.1 1.1 0 1 0 -2.1 0zM213.3 673.2a1.3 1.3 0 1 0 2.7 0a1.3 1.3 0 1 0 -2.7 0zM202.7 697.8a0.7 0.7 0 1 0 1.4 0a0.7 0.7 0 1 0 -1.4 0zM220.8 680.0a0.7 0.7 0 1 0 1.4 0a0.7 0.7 0 1 0 -1.4 0zM206.7 696.8a1.3 1.3 0 1 0 2.5 0a1.3 1.3 0 1 0 -2.5 0zM232.0 695.9a1.8 1.8 0 1 0 3.6 0a1.8 1.8 0 1 0 -3.6 0zM226.9 702.0a0.9 0.9 0 1 0 1.8 0a0.9 0.9 0 1 0 -1.8 0zM202.2 687.5a1.7 1.7 0 1 0 3.5 0a1.7 1.7 0 1 0 -3.5 0zM191.3 711.7a0.7 0.7 0 1 0 1.5 0a0.7 0.7 0 1 0 -1.5 0zM238.9 677.2a1.2 1.2 0 1 0 2.5 0a1.2 1.2 0 1 0 -2.5 0zM227.8 695.2a1.5 1.5 0 1 0 3.0 0a1.5 1.5 0 1 0 -3.0 0zM181.8 673.0a1.4 1.4 0 1 0 2.7 0a1.4 1.4 0 1 0 -2.7 0zM225.1 683.6a0.9 0.9 0 1 0 1.9 0a0.9 0.9 0 1 0 -1.9 0zM208.1 703.1a1.6 1.6 0 1 0 3.2 0a1.6 1.6 0 1 0 -3.2 0zM197.8 711.1a0.8 0.8 0 1 0 1.5 0a0.8 0.8 0 1 0 -1.5 0zM186.8 694.9a0.9 0.9 0 1 0 1.8 0a0.9 0.9 0 1 0 -1.8 0zM167.3 708.4a1.2 1.2 0 1 0 2.4 0a1.2 1.2 0 1 0 -2.4 0zM232.4 684.4a0.6 0.6 0 1 0 1.3 0a0.6 0.6 0 1 0 -1.3 0zM201.5 712.1a1.8 1.8 0 1 0 3.6 0a1.8 1.8 0 1 0 -3.6 0zM212.4 679.3a1.4 1.4 0 1 0 2.8 0a1.4 1.4 0 1 0 -2.8 0zM183.4 704.6a1.3 1.3 0 1 0 2.5 0a1.3 1.3 0 1 0 -2.5 0zM184.5 683.8a1.1 1.1 0 1 0 2.2 0a1.1 1.1 0 1 0 -2.2 0zM193.4 674.5a0.7 0.7 0 1 0 1.3 0a0.7 0.7 0 1 0 -1.3 0zM193.7 707.3a0.9 0.9 0 1 0 1.7 0a0.9 0.9 0 1 0 -1.7 0zM169.4 682.0a1.7 1.7 0 1 0 3.4 0a1.7 1.7 0 1 0 -3.4 0zM227.5 705.2a1.4 1.4 0 1 0 2.9 0a1.4 1.4 0 1 0 -2.9 0zM188.5 680.5a1.7 1.7 0 1 0 3.3 0a1.7 1.7 0 1 0 -3.3 0zM222.7 704.9a0.8 0.8 0 1 0 1.6 0a0.8 0.8 0 1 0 -1.6 0zM229.8 701.5a0.7 0.7 0 1 0 1.4 0a0.7 0.7 0 1 0 -1.4 0zM185.3 678.9a1.5 1.5 0 1 0 3.0 0a1.5 1.5 0 1 0 -3.0 0zM199.3 680.6a1.4 1.4 0 1 0 2.9 0a1.4 1.4 0 1 0 -2.9 0zM183.4 697.0a0.6 0.6 0 1 0 1.2 0a0.6 0.6 0 1 0 -1.2 0zM235.5 692.0a1.6 1.6 0 1 0 3.1 0a1.6 1.6 0 1 0 -3.1 0zM212.9 682.2a0.9 0.9 0 1 0 1.9 0a0.9 0.9 0 1 0 -1.9 0z" fill="#c7c9e1"/>
<path d="M239.8 691.7a1.7 1.7 0 1 0 3.4 0a1.7 1.7 0 1 0 -3.4 0zM173.9 698.0a0.7 0.7 0 1 0 1.3 0a0.7 0.7 0 1 0 -1.3 0zM177.8 694.7a1.8 1.8 0 1 0 3.5 0a1.8 1.8 0 1 0 -3.5 0zM173.9 675.1a0.9 0.9 0 1 0 1.7 0a0.9 0.9 0 1 0 -1.7 0zM204.7 676.4a1.4 1.4 0 1 0 2.8 0a1.4 1.4 0 1 0 -2.8 0zM233.6 704.5a1.4 1.4 0 1 0 2.9 0a1.4 1.4 0 1 0 -2.9 0zM176.1 689.0a1.7 1.7 0 1 0 3.5 0a1.7 1.7 0 1 0 -3.5 0zM211.6 694.4a0.8 0.8 0 1 0 1.6 0a0.8 0.8 0 1 0 -1.6 0zM170.1 700.6a1.8 1.8 0 1 0 3.6 0a1.8 1.8 0 1 0 -3.6 0zM216.1 683.4a1.6 1.6 0 1 0 3.3 0a1.6 1.6 0 1 0 -3.3 0zM169.8 681.3a0.6 0.6 0 1 0 1.3 0a0.6 0.6 0 1 0 -1.3 0zM195.6 707.0a1.5 1.5 0 1 0 3.1 0a1.5 1.5 0 1 0 -3.1 0zM209.0 688.9a1.1 1.1 0 1 0 2.1 0a1.1 1.1 0 1 0 -2.1 0zM233.3 704.7a1.1 1.1 0 1 0 2.2 0a1.1 1.1 0 1 0 -2.2 0zM200.0 678.1a1.2 1.2 0 1 0 2.4 0a1.2 1.2 0 1 0 -2.4 0zM214.6 685.1a1.3 1.3 0 1 0 2.7 0a1.3 1.3 0 1 0 -2.7 0zM201.4 681.2a1.3 1.3 0 1 0 2.6 0a1.3 1.3 0 1 0 -2.6 0zM198.0 710.7a1.1 1.1 0 1 0 2.2 0a1.1 1.1 0 1 0 -2.2 0zM187.8 695.7a1.0 1.0 0 1 0 2.0 0a1.0 1.0 0 1 0 -2.0 0zM221.8 679.4a0.7 0.7 0 1 0 1.3 0a0.7 0.7 0 1 0 -1.3 0zM179.4 705.5a1.3 1.3 0 1 0 2.6 0a1.3 1.3 0 1 0 -2.6 0zM202.4 674.4a1.1 1.1 0 1 0 2.2 0a1.1 1.1 0 1 0 -2.2 0zM171.7 700.7a1.6 1.6 0 1 0 3.2 0a1.6 1.6 0 1 0 -3.2 0zM215.3 693.3a1.3 1.3 0 1 0 2.5 0a1.3 1.3 0 1 0 -2.5 0zM196.9 709.7a1.4 1.4 0 1 0 2.7 0a1.4 1.4 0 1 0 -2.7 0zM234.9 676.7a1.3 1.3 0 1 0 2.6 0a1.3 1.3 0 1 0 -2.6 0zM241.7 707.0a0.7 0.7 0 1 0 1.4 0a0.7 0.7 0 1 0 -1.4 0zM166.7 708.2a1.2 1.2 0 1 0 2.5 0a1.2 1.2 0 1 0 -2.5 0zM189.6 680.6a0.8 0.8 0 1 0 1.7 0a0.8 0.8 0 1 0 -1.7 0zM217.0 708.2a1.4 1.4 0 1 0 2.8 0a1.4 1.4 0 1 0 -2.8 0z" fill="#b6b8d6"/>
<path d="M197.7 697.6a1.0 1.0 0 1 0 2.0 0a1.0 1.0 0 1 0 -2.0 0zM196.3 705.8a0.7 0.7 0 1 0 1.4 0a0.7 0.7 0 1 0 -1.4 0zM185.9 676.3a0.5 0.5 0 1 0 1.0 0a0.5 0.5 0 1 0 -1.0 0zM228.7 676.2a0.5 0.5 0 1 0 1.0 0a0.5 0.5 0 1 0 -1.0 0zM231.6 700.4a0.8 0.8 0 1 0 1.6 0a0.8 0.8 0 1 0 -1.6 0zM230.4 700.5a0.6 0.6 0 1 0 1.2 0a0.6 0.6 0 1 0 -1.2 0zM205.0 700.4a0.9 0.9 0 1 0 1.8 0a0.9 0.9 0 1 0 -1.8 0zM239.8 695.2a0.9 0.9 0 1 0 1.9 0a0.9 0.9 0 1 0 -1.9 0zM226.6 697.8a1.0 1.0 0 1 0 2.0 0a1.0 1.0 0 1 0 -2.0 0zM228.2 696.2a0.7 0.7 0 1 0 1.4 0a0.7 0.7 0 1 0 -1.4 0zM215.6 706.5a0.6 0.6 0 1 0 1.1 0a0.6 0.6 0 1 0 -1.1 0zM201.0 701.2a0.5 0.5 0 1 0 1.1 0a0.5 0.5 0 1 0 -1.1 0zM215.3 700.5a0.9 0.9 0 1 0 1.9 0a0.9 0.9 0 1 0 -1.9 0zM242.5 700.3a0.6 0.6 0 1 0 1.2 0a0.6 0.6 0 1 0 -1.2 0zM174.5 695.8a0.9 0.9 0 1 0 1.8 0a0.9 0.9 0 1 0 -1.8 0zM205.4 677.5a0.4 0.4 0 1 0 0.9 0a0.4 0.4 0 1 0 -0.9 0zM170.8 699.0a1.0 1.0 0 1 0 2.0 0a1.0 1.0 0 1 0 -2.0 0zM230.2 683.8a0.6 0.6 0 1 0 1.3 0a0.6 0.6 0 1 0 -1.3 0zM209.8 708.9a0.7 0.7 0 1 0 1.3 0a0.7 0.7 0 1 0 -1.3 0zM174.8 691.0a0.5 0.5 0 1 0 1.0 0a0.5 0.5 0 1 0 -1.0 0zM239.1 711.4a0.8 0.8 0 1 0 1.6 0a0.8 0.8 0 1 0 -1.6 0z" fill="#8a5a4a"/>
<path d="M189.7 705.0a1.0 1.0 0 1 0 2.0 0a1.0 1.0 0 1 0 -2.0 0zM205.2 692.2a0.6 0.6 0 1 0 1.1 0a0.6 0.6 0 1 0 -1.1 0zM224.9 677.6a0.4 0.4 0 1 0 0.8 0a0.4 0.4 0 1 0 -0.8 0zM186.5 686.3a0.8 0.8 0 1 0 1.5 0a0.8 0.8 0 1 0 -1.5 0zM209.9 685.0a0.4 0.4 0 1 0 0.9 0a0.4 0.4 0 1 0 -0.9 0zM236.3 696.1a0.7 0.7 0 1 0 1.5 0a0.7 0.7 0 1 0 -1.5 0zM168.2 710.7a0.7 0.7 0 1 0 1.3 0a0.7 0.7 0 1 0 -1.3 0zM189.3 700.8a0.8 0.8 0 1 0 1.5 0a0.8 0.8 0 1 0 -1.5 0zM178.7 708.4a0.5 0.5 0 1 0 1.0 0a0.5 0.5 0 1 0 -1.0 0zM178.7 691.5a0.4 0.4 0 1 0 0.9 0a0.4 0.4 0 1 0 -0.9 0zM211.1 696.7a1.0 1.0 0 1 0 2.0 0a1.0 1.0 0 1 0 -2.0 0zM207.0 687.3a0.4 0.4 0 1 0 0.9 0a0.4 0.4 0 1 0 -0.9 0zM188.7 706.8a0.6 0.6 0 1 0 1.3 0a0.6 0.6 0 1 0 -1.3 0zM233.7 679.5a0.8 0.8 0 1 0 1.5 0a0.8 0.8 0 1 0 -1.5 0zM229.7 709.7a0.8 0.8 0 1 0 1.7 0a0.8 0.8 0 1 0 -1.7 0zM183.3 690.7a0.9 0.9 0 1 0 1.8 0a0.9 0.9 0 1 0 -1.8 0zM218.4 681.0a0.9 0.9 0 1 0 1.8 0a0.9 0.9 0 1 0 -1.8 0zM195.1 690.0a0.8 0.8 0 1 0 1.7 0a0.8 0.8 0 1 0 -1.7 0zM224.1 672.6a0.6 0.6 0 1 0 1.1 0a0.6 0.6 0 1 0 -1.1 0zM237.4 690.5a0.5 0.5 0 1 0 1.1 0a0.5 0.5 0 1 0 -1.1 0zM237.1 677.8a1.0 1.0 0 1 0 2.0 0a1.0 1.0 0 1 0 -2.0 0z" fill="#a0705a"/>
<path d="M213.2 703.2a0.7 0.7 0 1 0 1.3 0a0.7 0.7 0 1 0 -1.3 0zM173.0 678.8a0.7 0.7 0 1 0 1.3 0a0.7 0.7 0 1 0 -1.3 0zM183.4 694.4a0.7 0.7 0 1 0 1.3 0a0.7 0.7 0 1 0 -1.3 0zM232.9 694.0a0.5 0.5 0 1 0 1.0 0a0.5 0.5 0 1 0 -1.0 0zM234.8 678.2a0.6 0.6 0 1 0 1.3 0a0.6 0.6 0 1 0 -1.3 0zM206.8 710.3a0.8 0.8 0 1 0 1.7 0a0.8 0.8 0 1 0 -1.7 0zM224.7 706.0a0.7 0.7 0 1 0 1.4 0a0.7 0.7 0 1 0 -1.4 0zM231.8 701.6a0.5 0.5 0 1 0 1.0 0a0.5 0.5 0 1 0 -1.0 0zM165.4 704.1a1.0 1.0 0 1 0 1.9 0a1.0 1.0 0 1 0 -1.9 0zM230.9 680.9a0.8 0.8 0 1 0 1.7 0a0.8 0.8 0 1 0 -1.7 0zM192.2 694.2a0.6 0.6 0 1 0 1.2 0a0.6 0.6 0 1 0 -1.2 0zM223.2 682.7a0.4 0.4 0 1 0 0.8 0a0.4 0.4 0 1 0 -0.8 0zM239.8 674.4a0.6 0.6 0 1 0 1.3 0a0.6 0.6 0 1 0 -1.3 0zM210.4 691.7a0.7 0.7 0 1 0 1.4 0a0.7 0.7 0 1 0 -1.4 0zM186.9 689.3a0.5 0.5 0 1 0 1.0 0a0.5 0.5 0 1 0 -1.0 0zM234.2 694.0a0.5 0.5 0 1 0 1.0 0a0.5 0.5 0 1 0 -1.0 0zM231.3 681.3a0.7 0.7 0 1 0 1.3 0a0.7 0.7 0 1 0 -1.3 0zM179.5 695.3a0.5 0.5 0 1 0 1.0 0a0.5 0.5 0 1 0 -1.0 0z" fill="#6a4a50"/>
<path d="M234.0 675.9a3.1 3.5 0 1 0 6.1 0a3.1 3.5 0 1 0 -6.1 0zM188.2 681.9a3.6 3.5 0 1 0 7.2 0a3.6 3.5 0 1 0 -7.2 0zM216.6 713.1a3.6 2.8 0 1 0 7.3 0a3.6 2.8 0 1 0 -7.3 0zM220.4 683.0a2.9 3.6 0 1 0 5.8 0a2.9 3.6 0 1 0 -5.8 0zM212.8 692.5a2.9 3.0 0 1 0 5.9 0a2.9 3.0 0 1 0 -5.9 0zM205.9 682.0a3.0 3.3 0 1 0 6.0 0a3.0 3.3 0 1 0 -6.0 0zM161.1 712.5a3.8 3.0 0 1 0 7.7 0a3.8 3.0 0 1 0 -7.7 0zM217.3 698.9a3.8 3.0 0 1 0 7.7 0a3.8 3.0 0 1 0 -7.7 0zM197.9 702.2a3.1 3.5 0 1 0 6.2 0a3.1 3.5 0 1 0 -6.2 0zM182.7 671.1a3.3 2.8 0 1 0 6.6 0a3.3 2.8 0 1 0 -6.6 0zM166.6 678.8a3.8 3.5 0 1 0 7.6 0a3.8 3.5 0 1 0 -7.6 0zM241.7 676.7a3.7 3.4 0 1 0 7.4 0a3.7 3.4 0 1 0 -7.4 0zM170.4 697.4a3.1 3.5 0 1 0 6.3 0a3.1 3.5 0 1 0 -6.3 0zM207.2 699.5a3.5 3.2 0 1 0 7.1 0a3.5 3.2 0 1 0 -7.1 0zM187.6 708.0a3.8 2.8 0 1 0 7.7 0a3.8 2.8 0 1 0 -7.7 0zM232.3 710.8a3.8 3.4 0 1 0 7.6 0a3.8 3.4 0 1 0 -7.6 0zM197.6 674.8a3.5 3.6 0 1 0 7.0 0a3.5 3.6 0 1 0 -7.0 0zM205.7 713.1a3.8 3.1 0 1 0 7.7 0a3.8 3.1 0 1 0 -7.7 0zM181.0 696.0a3.7 3.5 0 1 0 7.3 0a3.7 3.5 0 1 0 -7.3 0zM161.1 689.2a3.4 3.1 0 1 0 6.8 0a3.4 3.1 0 1 0 -6.8 0zM208.8 673.7a3.3 3.0 0 1 0 6.7 0a3.3 3.0 0 1 0 -6.7 0zM192.1 696.0a3.7 2.8 0 1 0 7.3 0a3.7 2.8 0 1 0 -7.3 0zM220.0 673.1a3.6 3.4 0 1 0 7.2 0a3.6 3.4 0 1 0 -7.2 0zM163.7 700.9a3.4 3.3 0 1 0 6.8 0a3.4 3.3 0 1 0 -6.8 0zM169.1 689.6a3.5 3.7 0 1 0 6.9 0a3.5 3.7 0 1 0 -6.9 0zM181.5 704.9a2.9 3.1 0 1 0 5.7 0a2.9 3.1 0 1 0 -5.7 0zM236.8 703.9a3.6 2.7 0 1 0 7.1 0a3.6 2.7 0 1 0 -7.1 0zM161.5 671.6a3.0 3.0 0 1 0 6.1 0a3.0 3.0 0 1 0 -6.1 0zM168.0 708.5a3.7 3.0 0 1 0 7.5 0a3.7 3.0 0 1 0 -7.5 0zM225.7 688.7a3.6 3.3 0 1 0 7.3 0a3.6 3.3 0 1 0 -7.3 0zM174.3 671.0a3.2 2.9 0 1 0 6.4 0a3.2 2.9 0 1 0 -6.4 0zM233.8 682.9a2.9 2.8 0 1 0 5.8 0a2.9 2.8 0 1 0 -5.8 0zM197.7 686.3a3.4 2.9 0 1 0 6.8 0a3.4 2.9 0 1 0 -6.8 0zM241.8 697.2a3.3 3.1 0 1 0 6.6 0a3.3 3.1 0 1 0 -6.6 0zM205.9 689.6a3.0 3.2 0 1 0 6.1 0a3.0 3.2 0 1 0 -6.1 0zM238.4 690.4a3.7 3.5 0 1 0 7.3 0a3.7 3.5 0 1 0 -7.3 0zM232.0 697.3a3.4 3.5 0 1 0 6.7 0a3.4 3.5 0 1 0 -6.7 0zM223.6 707.9a3.3 2.7 0 1 0 6.7 0a3.3 2.7 0 1 0 -6.7 0zM174.9 712.7a3.5 2.8 0 1 0 7.0 0a3.5 2.8 0 1 0 -7.0 0zM177.8 680.2a3.2 3.0 0 1 0 6.4 0a3.2 3.0 0 1 0 -6.4 0zM227.9 671.4a3.6 3.0 0 1 0 7.2 0a3.6 3.0 0 1 0 -7.2 0zM196.5 712.5a3.6 3.4 0 1 0 7.2 0a3.6 3.4 0 1 0 -7.2 0zM226.5 679.7a3.0 3.2 0 1 0 5.9 0a3.0 3.2 0 1 0 -5.9 0zM213.9 685.3a2.9 2.7 0 1 0 5.7 0a2.9 2.7 0 1 0 -5.7 0zM214.5 678.9a3.0 2.5 0 1 0 6.0 0a3.0 2.5 0 1 0 -6.0 0zM180.7 688.9a2.5 3.0 0 1 0 5.0 0a2.5 3.0 0 1 0 -5.0 0zM189.4 674.9a2.9 2.5 0 1 0 5.8 0a2.9 2.5 0 1 0 -5.8 0zM219.3 691.2a3.1 2.5 0 1 0 6.3 0a3.1 2.5 0 1 0 -6.3 0zM173.9 702.9a2.8 2.6 0 1 0 5.7 0a2.8 2.6 0 1 0 -5.7 0zM226.3 701.4a2.5 3.0 0 1 0 5.0 0a2.5 3.0 0 1 0 -5.0 0zM243.4 709.4a2.4 2.9 0 1 0 4.7 0a2.4 2.9 0 1 0 -4.7 0zM187.4 700.6a2.5 2.5 0 1 0 5.0 0a2.5 2.5 0 1 0 -5.0 0zM242.6 683.6a2.4 3.0 0 1 0 4.7 0a2.4 3.0 0 1 0 -4.7 0zM240.5 714.3a2.4 2.4 0 1 0 4.8 0a2.4 2.4 0 1 0 -4.8 0zM187.6 689.2a2.6 2.8 0 1 0 5.2 0a2.6 2.8 0 1 0 -5.2 0zM182.8 714.2a2.8 2.1 0 1 0 5.6 0a2.8 2.1 0 1 0 -5.6 0zM217.5 706.5a3.0 2.7 0 1 0 6.0 0a3.0 2.7 0 1 0 -6.0 0zM204.1 705.5a2.7 2.1 0 1 0 5.4 0a2.7 2.1 0 1 0 -5.4 0zM202.8 696.4a2.3 2.0 0 1 0 4.6 0a2.3 2.0 0 1 0 -4.6 0zM237.3 670.4a2.4 2.2 0 1 0 4.9 0a2.4 2.2 0 1 0 -4.9 0zM210.4 705.8a2.6 2.0 0 1 0 5.3 0a2.6 2.0 0 1 0 -5.3 0zM204.0 670.8a2.2 1.9 0 1 0 4.5 0a2.2 1.9 0 1 0 -4.5 0zM230.9 704.4a2.2 1.8 0 1 0 4.4 0a2.2 1.8 0 1 0 -4.4 0zM176.5 685.4a1.8 2.2 0 1 0 3.6 0a1.8 2.2 0 1 0 -3.6 0zM233.2 691.4a1.8 1.6 0 1 0 3.7 0a1.8 1.6 0 1 0 -3.7 0zM201.1 692.2a2.0 1.8 0 1 0 4.1 0a2.0 1.8 0 1 0 -4.1 0zM163.0 679.5a1.5 1.8 0 1 0 3.0 0a1.5 1.8 0 1 0 -3.0 0zM184.5 678.3a1.5 1.6 0 1 0 3.0 0a1.5 1.6 0 1 0 -3.0 0zM170.0 671.2a1.9 1.5 0 1 0 3.8 0a1.9 1.5 0 1 0 -3.8 0zM167.4 693.6a1.5 1.3 0 1 0 3.0 0a1.5 1.3 0 1 0 -3.0 0zM226.8 695.5a1.7 1.7 0 1 0 3.4 0a1.7 1.7 0 1 0 -3.4 0zM196.1 706.1a1.3 1.5 0 1 0 2.7 0a1.3 1.5 0 1 0 -2.7 0zM202.0 680.3a1.4 1.3 0 1 0 2.7 0a1.4 1.3 0 1 0 -2.7 0zM189.5 714.3a1.3 1.1 0 1 0 2.5 0a1.3 1.1 0 1 0 -2.5 0zM166.1 683.8a1.1 1.3 0 1 0 2.3 0a1.1 1.3 0 1 0 -2.3 0zM189.0 694.6a1.3 1.2 0 1 0 2.6 0a1.3 1.2 0 1 0 -2.6 0zM228.3 712.5a1.2 1.2 0 1 0 2.4 0a1.2 1.2 0 1 0 -2.4 0zM173.8 681.9a1.3 1.0 0 1 0 2.7 0a1.3 1.0 0 1 0 -2.7 0zM163.1 706.5a1.3 1.3 0 1 0 2.6 0a1.3 1.3 0 1 0 -2.6 0zM225.9 714.2a1.1 1.2 0 1 0 2.2 0a1.1 1.2 0 1 0 -2.2 0zM196.7 679.1a1.2 1.0 0 1 0 2.5 0a1.2 1.0 0 1 0 -2.5 0zM214.9 701.0a1.1 1.1 0 1 0 2.1 0a1.1 1.1 0 1 0 -2.1 0zM177.0 696.2a1.2 1.2 0 1 0 2.3 0a1.2 1.2 0 1 0 -2.3 0zM244.6 670.6a1.2 1.0 0 1 0 2.4 0a1.2 1.0 0 1 0 -2.4 0zM193.7 714.1a1.1 1.1 0 1 0 2.1 0a1.1 1.1 0 1 0 -2.1 0zM185.1 684.8a1.1 1.0 0 1 0 2.2 0a1.1 1.0 0 1 0 -2.2 0zM240.1 680.0a1.0 0.9 0 1 0 2.1 0a1.0 0.9 0 1 0 -2.1 0zM165.0 695.0a1.2 1.1 0 1 0 2.3 0a1.2 1.1 0 1 0 -2.3 0zM205.3 677.0a0.9 0.9 0 1 0 1.8 0a0.9 0.9 0 1 0 -1.8 0zM167.7 686.5a1.0 0.9 0 1 0 2.0 0a1.0 0.9 0 1 0 -2.0 0zM174.7 677.9a1.0 0.8 0 1 0 2.0 0a1.0 0.8 0 1 0 -2.0 0zM179.0 707.9a1.0 1.0 0 1 0 1.9 0a1.0 1.0 0 1 0 -1.9 0zM235.6 687.5a1.0 0.8 0 1 0 2.1 0a1.0 0.8 0 1 0 -2.1 0zM223.0 678.4a0.9 1.0 0 1 0 1.7 0a0.9 1.0 0 1 0 -1.7 0zM195.6 671.8a1.0 0.8 0 1 0 1.9 0a1.0 0.8 0 1 0 -1.9 0zM194.1 703.9a0.9 1.0 0 1 0 1.8 0a0.9 1.0 0 1 0 -1.8 0zM212.8 688.2a0.8 0.7 0 1 0 1.7 0a0.8 0.7 0 1 0 -1.7 0zM239.0 696.3a1.0 0.9 0 1 0 1.9 0a1.0 0.9 0 1 0 -1.9 0zM164.1 682.8a0.8 0.8 0 1 0 1.5 0a0.8 0.8 0 1 0 -1.5 0zM174.4 684.5a0.9 0.9 0 1 0 1.7 0a0.9 0.9 0 1 0 -1.7 0zM203.2 709.4a0.7 0.8 0 1 0 1.5 0a0.7 0.8 0 1 0 -1.5 0zM198.3 681.4a0.8 0.8 0 1 0 1.6 0a0.8 0.8 0 1 0 -1.6 0zM238.7 686.0a0.9 0.9 0 1 0 1.7 0a0.9 0.9 0 1 0 -1.7 0zM216.4 670.3a0.9 0.8 0 1 0 1.9 0a0.9 0.8 0 1 0 -1.9 0zM241.0 685.5a0.9 0.8 0 1 0 1.8 0a0.9 0.8 0 1 0 -1.8 0zM199.6 697.9a0.8 0.7 0 1 0 1.6 0a0.8 0.7 0 1 0 -1.6 0zM195.9 688.5a0.9 0.8 0 1 0 1.7 0a0.9 0.8 0 1 0 -1.7 0zM176.6 688.8a0.8 0.8 0 1 0 1.5 0a0.8 0.8 0 1 0 -1.5 0zM174.9 693.1a0.9 0.8 0 1 0 1.8 0a0.9 0.8 0 1 0 -1.8 0zM204.7 700.6a0.8 0.6 0 1 0 1.6 0a0.8 0.6 0 1 0 -1.6 0zM195.9 701.3a0.7 0.8 0 1 0 1.4 0a0.7 0.8 0 1 0 -1.4 0zM178.5 692.6a0.8 0.8 0 1 0 1.7 0a0.8 0.8 0 1 0 -1.7 0zM214.0 710.2a0.8 0.7 0 1 0 1.6 0a0.8 0.7 0 1 0 -1.6 0zM214.7 697.7a0.8 0.8 0 1 0 1.6 0a0.8 0.8 0 1 0 -1.6 0zM207.4 694.0a0.7 0.7 0 1 0 1.4 0a0.7 0.7 0 1 0 -1.4 0zM185.5 701.2a0.7 0.6 0 1 0 1.4 0a0.7 0.6 0 1 0 -1.4 0zM196.0 683.9a0.6 0.6 0 1 0 1.3 0a0.6 0.6 0 1 0 -1.3 0zM181.8 684.4a0.7 0.7 0 1 0 1.3 0a0.7 0.7 0 1 0 -1.3 0zM181.0 709.3a0.7 0.6 0 1 0 1.4 0a0.7 0.6 0 1 0 -1.4 0zM185.7 710.0a0.6 0.6 0 1 0 1.2 0a0.6 0.6 0 1 0 -1.2 0zM199.3 706.9a0.6 0.6 0 1 0 1.3 0a0.6 0.6 0 1 0 -1.3 0zM210.9 693.5a0.6 0.6 0 1 0 1.3 0a0.6 0.6 0 1 0 -1.3 0zM186.4 675.8a0.7 0.7 0 1 0 1.3 0a0.7 0.7 0 1 0 -1.3 0zM240.5 709.2a0.6 0.6 0 1 0 1.1 0a0.6 0.6 0 1 0 -1.1 0zM193.4 686.2a0.6 0.5 0 1 0 1.2 0a0.6 0.5 0 1 0 -1.2 0zM223.5 703.6a0.6 0.6 0 1 0 1.1 0a0.6 0.6 0 1 0 -1.1 0zM176.5 691.2a0.6 0.6 0 1 0 1.2 0a0.6 0.6 0 1 0 -1.2 0zM172.6 683.4a0.6 0.7 0 1 0 1.2 0a0.6 0.7 0 1 0 -1.2 0zM182.3 700.6a0.6 0.5 0 1 0 1.2 0a0.6 0.5 0 1 0 -1.2 0zM195.3 677.7a0.7 0.7 0 1 0 1.4 0a0.7 0.7 0 1 0 -1.4 0zM179.4 699.0a0.6 0.6 0 1 0 1.3 0a0.6 0.6 0 1 0 -1.3 0zM216.1 672.3a0.6 0.6 0 1 0 1.1 0a0.6 0.6 0 1 0 -1.1 0zM195.1 710.7a0.6 0.6 0 1 0 1.2 0a0.6 0.6 0 1 0 -1.2 0zM228.8 683.8a0.5 0.6 0 1 0 1.1 0a0.5 0.6 0 1 0 -1.1 0zM194.5 689.2a0.5 0.6 0 1 0 1.1 0a0.5 0.6 0 1 0 -1.1 0zM206.7 674.8a0.7 0.6 0 1 0 1.4 0a0.7 0.6 0 1 0 -1.4 0zM202.2 670.6a0.6 0.6 0 1 0 1.2 0a0.6 0.6 0 1 0 -1.2 0zM195.9 682.0a0.5 0.6 0 1 0 1.1 0a0.5 0.6 0 1 0 -1.1 0zM217.1 674.6a0.6 0.6 0 1 0 1.1 0a0.6 0.6 0 1 0 -1.1 0zM166.6 705.4a0.6 0.5 0 1 0 1.2 0a0.6 0.5 0 1 0 -1.2 0z" fill="#fdfdfe"/>
</g>
<rect x="166.6" y="710.7" width="3.6" height="1.1" fill="#1a1a1a"/>
</g>
<text x="260.7" y="540.9" font-size="12.6" fill="#111" font-weight="bold">G</text>
<line x1="302" y1="565.5" x2="302" y2="667.5" stroke="#262626" stroke-width="1"/>
<line x1="301.5" y1="667" x2="361.3" y2="667" stroke="#262626" stroke-width="1"/>
<line x1="298.8" y1="666.75" x2="302" y2="666.75" stroke="#262626" stroke-width="1"/>
<text x="296" y="669.15" font-size="6.8" fill="#3a3a3a" stroke="#3a3a3a" stroke-width="0.14" text-anchor="end">0</text>
<line x1="298.8" y1="633.92" x2="302" y2="633.92" stroke="#262626" stroke-width="1"/>
<text x="296" y="636.32" font-size="6.8" fill="#3a3a3a" stroke="#3a3a3a" stroke-width="0.14" text-anchor="end">10</text>
<line x1="298.8" y1="601.09" x2="302" y2="601.09" stroke="#262626" stroke-width="1"/>
<text x="296" y="603.49" font-size="6.8" fill="#3a3a3a" stroke="#3a3a3a" stroke-width="0.14" text-anchor="end">20</text>
<line x1="298.8" y1="568.26" x2="302" y2="568.26" stroke="#262626" stroke-width="1"/>
<text x="296" y="570.66" font-size="6.8" fill="#3a3a3a" stroke="#3a3a3a" stroke-width="0.14" text-anchor="end">30</text>
<text x="283.1" y="616.25" font-size="10.5" fill="#3a3a3a" stroke="#3a3a3a" stroke-width="0.14" text-anchor="middle" textLength="26.9" lengthAdjust="spacingAndGlyphs" transform="rotate(-90 283.1 616.25)">% CD3+</text>
<line x1="320.8" y1="667" x2="320.8" y2="670.2" stroke="#262626" stroke-width="1"/>
<text x="320.8" y="680.3" font-size="7" fill="#3a3a3a" stroke="#3a3a3a" stroke-width="0.14" text-anchor="middle">Neg</text>
<line x1="347.5" y1="667" x2="347.5" y2="670.2" stroke="#262626" stroke-width="1"/>
<text x="347.5" y="680.3" font-size="7" fill="#3a3a3a" stroke="#3a3a3a" stroke-width="0.14" text-anchor="middle">Pos</text>
<rect x="312.1" y="640.81" width="17.4" height="23.64" fill="#c6e6ba"/>
<line x1="312.1" y1="650.34" x2="329.5" y2="650.34" stroke="#3a9a40" stroke-width="1.1"/>
<path d="M319.1 640.5a0.8 0.8 0 1 0 1.7 0a0.8 0.8 0 1 0 -1.7 0zM321.4 640.5a0.8 0.8 0 1 0 1.7 0a0.8 0.8 0 1 0 -1.7 0zM319.9 650.3a0.8 0.8 0 1 0 1.7 0a0.8 0.8 0 1 0 -1.7 0zM318.9 663.5a0.8 0.8 0 1 0 1.7 0a0.8 0.8 0 1 0 -1.7 0zM320.4 666.1a0.8 0.8 0 1 0 1.7 0a0.8 0.8 0 1 0 -1.7 0z" fill="#1a4a1a"/>
<line x1="347.5" y1="584.67" x2="347.5" y2="592.88" stroke="#7b4d8e" stroke-width="0.8"/>
<line x1="345" y1="584.67" x2="350" y2="584.67" stroke="#7b4d8e" stroke-width="0.8"/>
<line x1="347.5" y1="641.8" x2="347.5" y2="650.34" stroke="#7b4d8e" stroke-width="0.8"/>
<line x1="345" y1="650.34" x2="350" y2="650.34" stroke="#7b4d8e" stroke-width="0.8"/>
<rect x="338.8" y="592.88" width="17.4" height="48.92" fill="#b89bc4"/>
<line x1="338.8" y1="617.5" x2="356.2" y2="617.5" stroke="#4e1f60" stroke-width="1.1"/>
<path d="M346.6 584.7a0.8 0.8 0 1 0 1.7 0a0.8 0.8 0 1 0 -1.7 0zM346.6 601.1a0.8 0.8 0 1 0 1.7 0a0.8 0.8 0 1 0 -1.7 0zM346.6 617.5a0.8 0.8 0 1 0 1.7 0a0.8 0.8 0 1 0 -1.7 0zM346.6 633.9a0.8 0.8 0 1 0 1.7 0a0.8 0.8 0 1 0 -1.7 0zM346.6 650.3a0.8 0.8 0 1 0 1.7 0a0.8 0.8 0 1 0 -1.7 0z" fill="#2e1040"/>
<polyline points="320.8,635 320.8,580 347.5,580 347.5,582.5" fill="none" stroke="#555" stroke-width="0.8"/>
<text x="334.3" y="580.5" font-size="7" fill="#333" stroke="#333" stroke-width="0.14" text-anchor="middle">*</text>
<line x1="406.25" y1="565.5" x2="406.25" y2="667.5" stroke="#262626" stroke-width="1"/>
<line x1="405.75" y1="667" x2="465" y2="667" stroke="#262626" stroke-width="1"/>
<line x1="403.05" y1="666.75" x2="406.25" y2="666.75" stroke="#262626" stroke-width="1"/>
<text x="399.8" y="669.15" font-size="6.8" fill="#3a3a3a" stroke="#3a3a3a" stroke-width="0.14" text-anchor="end">0</text>
<line x1="403.05" y1="642.12" x2="406.25" y2="642.12" stroke="#262626" stroke-width="1"/>
<text x="399.8" y="644.52" font-size="6.8" fill="#3a3a3a" stroke="#3a3a3a" stroke-width="0.14" text-anchor="end">5</text>
<line x1="403.05" y1="617.5" x2="406.25" y2="617.5" stroke="#262626" stroke-width="1"/>
<text x="399.8" y="619.9" font-size="6.8" fill="#3a3a3a" stroke="#3a3a3a" stroke-width="0.14" text-anchor="end">10</text>
<line x1="403.05" y1="592.88" x2="406.25" y2="592.88" stroke="#262626" stroke-width="1"/>
<text x="399.8" y="595.27" font-size="6.8" fill="#3a3a3a" stroke="#3a3a3a" stroke-width="0.14" text-anchor="end">15</text>
<line x1="403.05" y1="568.25" x2="406.25" y2="568.25" stroke="#262626" stroke-width="1"/>
<text x="399.8" y="570.65" font-size="6.8" fill="#3a3a3a" stroke="#3a3a3a" stroke-width="0.14" text-anchor="end">20</text>
<text x="388.1" y="616.25" font-size="10.5" fill="#3a3a3a" stroke="#3a3a3a" stroke-width="0.14" text-anchor="middle" textLength="26.9" lengthAdjust="spacingAndGlyphs" transform="rotate(-90 388.1 616.25)">% CD8+</text>
<line x1="424.5" y1="667" x2="424.5" y2="670.2" stroke="#262626" stroke-width="1"/>
<text x="424.5" y="680.3" font-size="7" fill="#3a3a3a" stroke="#3a3a3a" stroke-width="0.14" text-anchor="middle">Neg</text>
<line x1="451.8" y1="667" x2="451.8" y2="670.2" stroke="#262626" stroke-width="1"/>
<text x="451.8" y="680.3" font-size="7" fill="#3a3a3a" stroke="#3a3a3a" stroke-width="0.14" text-anchor="middle">Pos</text>
<rect x="415.8" y="642.62" width="17.4" height="19.21" fill="#c6e6ba"/>
<line x1="415.8" y1="656.9" x2="433.2" y2="656.9" stroke="#3a9a40" stroke-width="1.1"/>
<path d="M422.6 642.1a0.8 0.8 0 1 0 1.7 0a0.8 0.8 0 1 0 -1.7 0zM425.1 642.1a0.8 0.8 0 1 0 1.7 0a0.8 0.8 0 1 0 -1.7 0zM423.6 656.9a0.8 0.8 0 1 0 1.7 0a0.8 0.8 0 1 0 -1.7 0zM422.1 662.8a0.8 0.8 0 1 0 1.7 0a0.8 0.8 0 1 0 -1.7 0zM424.1 661.8a0.8 0.8 0 1 0 1.7 0a0.8 0.8 0 1 0 -1.7 0z" fill="#1a4a1a"/>
<line x1="451.8" y1="647.05" x2="451.8" y2="656.9" stroke="#7b4d8e" stroke-width="0.8"/>
<line x1="449.3" y1="656.9" x2="454.3" y2="656.9" stroke="#7b4d8e" stroke-width="0.8"/>
<rect x="443.1" y="592.88" width="17.4" height="54.17" fill="#b89bc4"/>
<line x1="443.1" y1="627.35" x2="460.5" y2="627.35" stroke="#4e1f60" stroke-width="1.1"/>
<path d="M449.9 592.9a0.8 0.8 0 1 0 1.7 0a0.8 0.8 0 1 0 -1.7 0zM452.4 592.9a0.8 0.8 0 1 0 1.7 0a0.8 0.8 0 1 0 -1.7 0zM450.9 627.4a0.8 0.8 0 1 0 1.7 0a0.8 0.8 0 1 0 -1.7 0zM450.9 637.2a0.8 0.8 0 1 0 1.7 0a0.8 0.8 0 1 0 -1.7 0zM450.9 656.9a0.8 0.8 0 1 0 1.7 0a0.8 0.8 0 1 0 -1.7 0z" fill="#2e1040"/>
<polyline points="424.5,636.2 424.5,587 451.8,587 451.8,589.5" fill="none" stroke="#555" stroke-width="0.8"/>
<text x="438.8" y="587.5" font-size="7" fill="#333" stroke="#333" stroke-width="0.14" text-anchor="middle">*</text>
<rect x="0.65" y="0.65" width="518.7" height="718.7" fill="none" stroke="#4d4d4d" stroke-width="1.3"/>
</svg>
</body></html>
